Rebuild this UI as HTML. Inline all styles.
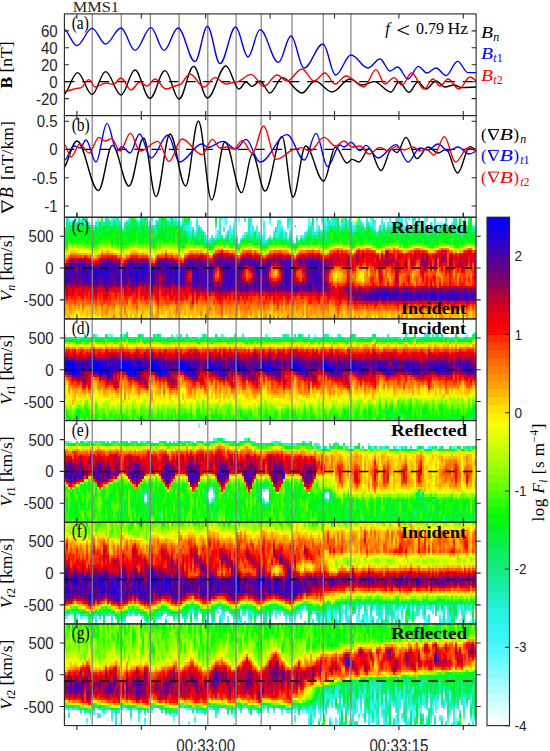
<!DOCTYPE html>
<html><head><meta charset="utf-8"><style>
html,body{margin:0;padding:0;background:#fff;overflow:hidden}
svg{display:block}
</style></head><body>
<svg width="550" height="751" viewBox="0 0 550 751">
<rect width="550" height="751" fill="#fff"/>
<g transform="translate(65.366,217.24) scale(1.93286,2.54175)" shape-rendering="crispEdges" fill="none" stroke-width="1.02"><path stroke="#eaffff" d="M58 0v1"/><path stroke="#d6ffff" d="M16 0v1M115 7v1"/><path stroke="#c1feff" d="M53 0v1M67 5v1M87 1v1M90 2v1M149 1v1M153 0v1"/><path stroke="#a9fdff" d="M8 0v1M29 1v1M48 0v1M78 5v2M102 0v1M117 3v1M161 0v1M190 2v1"/><path stroke="#91fbff" d="M17 0v1M58 1v1M82 0v3M83 6v1M86 4v1M101 6v1M102 1v1M103 1v1M116 4v1M150 2v1M194 2v1M203 4v1M212 2v1"/><path stroke="#78faff" d="M3 1v1M16 1v1M37 0v1M59 0v1M60 2v1M65 1v1M78 4v1M82 3v1M88 0v1M90 1v1M106 2v1M112 3v1M116 3v1M130 2v3M133 2v1M149 2v1M158 1v2M166 0v1M169 2v1M193 2v1M195 2v1"/><path stroke="#60f9fe" d="M2 0v1M15 3v1M45 2v1M65 2v2M68 0v1M85 3v1M87 2v1M88 1v1M90 0v1M99 3v1M108 5v1M115 4v1M117 4v1M126 0v3M130 1v1M135 0v3M166 4v1M176 2v1M186 0v2M193 3v1"/><path stroke="#4cf7fc" d="M17 1v1M24 0v1M30 4v1M33 0v1M38 1v1M45 1v1M56 0v1M65 4v1M75 8v1M78 7v1M81 0v1M83 0v3M86 5v1M89 7v1M91 8v1M97 3v1M102 7v1M103 5v1M106 1v1M106 7v1M111 3v1M113 5v2M115 8v1M116 5v1M118 9v1M123 7v1M125 5v1M127 2v1M130 5v1M131 3v1M134 0v1M149 3v1M153 1v1M154 2v1M158 0v1M160 3v2M164 0v1M165 2v1M167 2v1M168 1v2M174 2v1M176 5v1M178 0v1M181 1v1M183 2v1M186 2v1M188 4v1M190 3v1M192 3v1M193 4v1M198 3v1M200 2v1M205 3v1M212 3v1"/><path stroke="#3af5f8" d="M10 0v1M14 2v1M29 2v1M44 1v1M47 1v1M54 0v1M67 6v1M68 1v1M70 4v1M71 5v1M72 6v1M73 7v1M79 5v1M80 0v1M82 4v2M84 5v1M85 4v1M93 1v1M93 6v1M96 0v1M96 3v2M99 4v1M103 4v1M106 0v1M110 1v1M110 6v1M111 4v1M116 2v1M119 3v1M126 3v1M130 0v1M133 1v1M135 3v1M137 1v1M144 0v1M150 3v1M164 1v1M164 3v2M168 0v1M169 3v1M173 0v2M174 0v2M174 3v1M175 3v1M176 1v1M182 3v1M183 3v1M186 3v1"/><path stroke="#30f5f1" d="M2 1v1M5 0v1M10 1v1M12 2v1M23 1v1M24 1v1M28 1v1M32 1v1M58 2v1M59 1v1M61 0v1M64 3v1M65 5v1M68 4v1M69 3v1M79 6v1M85 5v1M86 6v1M96 5v1M98 5v1M99 5v2M100 6v1M101 7v1M103 2v1M103 6v1M105 8v1M107 8v1M110 2v1M110 4v2M111 2v1M113 7v1M120 7v1M122 7v1M124 6v1M133 0v1M133 5v1M134 1v1M144 1v1M146 1v1M149 4v1M156 0v1M158 3v1M160 1v2M164 2v1M168 3v1M171 0v1M173 2v2M176 0v1M177 2v1M181 4v1M183 1v1M187 1v1M187 3v1M191 0v1M203 5v1M211 3v1"/><path stroke="#27f4e7" d="M3 2v1M4 1v1M8 1v1M25 0v1M26 0v1M33 1v1M45 0v1M47 2v1M48 1v1M53 1v1M54 1v1M56 1v1M57 0v1M63 4v1M64 4v2M66 4v1M68 2v2M68 5v1M74 9v1M76 7v1M78 3v1M83 7v1M85 6v2M87 3v2M88 8v1M90 10v1M92 7v1M93 7v1M96 1v2M96 6v1M97 4v2M103 3v1M104 9v1M109 7v1M110 3v1M111 1v1M112 4v1M115 3v1M116 1v1M128 4v2M131 4v1M135 4v1M136 3v1M138 1v2M142 3v1M143 3v1M144 2v1M146 2v1M148 2v1M157 2v1M159 3v1M171 1v2M172 0v1M173 5v1M175 4v1M179 4v1M187 0v1M191 1v4M196 3v1M197 1v2M207 2v2"/><path stroke="#22f2d6" d="M16 2v1M17 2v1M22 0v1M24 2v1M31 2v1M37 1v1M38 2v1M43 3v1M57 1v1M61 1v1M63 3v1M64 2v1M65 6v1M73 8v1M75 9v1M77 8v1M79 7v1M80 1v1M80 3v2M85 8v1M94 6v1M97 6v1M99 7v1M102 8v1M103 7v1M103 9v1M108 6v1M109 6v1M110 7v1M111 5v1M116 0v1M116 6v1M117 5v1M127 3v1M129 6v1M130 6v1M132 5v1M134 2v2M136 2v1M139 1v2M143 2v1M149 5v1M150 4v1M152 0v2M156 1v1M159 0v1M159 2v1M167 3v1M178 4v1M180 3v1M182 4v1M185 4v1M186 4v1M187 4v1M188 5v1M190 4v1M192 4v1M193 5v1M195 3v1M200 3v1M201 0v1M202 0v1M202 3v2M204 5v1M205 5v2M209 0v1"/><path stroke="#1defc3" d="M5 1v1M7 0v1M10 2v1M15 4v1M19 0v1M26 1v1M27 1v2M40 0v1M45 3v1M46 3v1M60 3v1M62 3v1M63 5v1M64 6v1M72 7v1M73 9v1M78 8v1M80 2v1M80 5v3M82 8v1M86 7v1M87 5v1M95 0v4M96 7v1M101 8v1M102 9v1M103 8v1M103 10v1M111 6v1M112 5v1M114 6v2M115 0v1M115 2v1M121 9v1M123 8v1M124 7v1M125 6v1M126 4v1M127 4v1M128 3v1M128 6v1M131 5v1M133 6v1M135 5v1M136 4v1M138 0v1M139 0v1M146 3v1M150 5v1M152 2v1M154 3v1M156 2v1M159 1v1M159 4v1M160 5v1M161 6v1M163 3v1M168 4v1M180 2v1M180 4v1M183 4v1M189 2v1M194 3v1M197 0v1M200 4v1M201 1v1M204 4v1M205 4v1M206 4v1M207 1v1M208 3v1M212 4v1"/><path stroke="#1aeead" d="M1 0v1M2 2v1M6 2v1M14 3v1M17 3v1M19 1v1M20 2v1M21 0v1M34 0v1M39 0v1M44 2v1M47 3v1M52 0v1M54 2v1M56 2v1M61 2v1M62 4v1M65 7v1M76 8v1M81 7v1M84 6v1M87 6v1M89 8v1M91 9v1M95 4v2M97 7v1M109 4v1M111 7v1M115 1v1M115 9v1M127 5v1M137 2v1M138 3v1M139 3v1M140 0v3M142 4v1M144 3v1M151 4v1M153 2v1M155 4v1M162 5v1M164 5v1M165 3v1M169 4v1M171 3v1M173 6v1M174 4v1M176 6v1M180 0v2M183 0v1M191 5v1M199 3v1M201 2v1M202 1v2M207 0v1M207 4v1"/><path stroke="#17ec97" d="M0 4v1M1 1v1M5 2v1M7 1v1M11 0v1M19 2v1M21 1v1M22 1v1M23 2v1M25 1v1M27 0v1M29 3v1M30 5v1M31 3v2M33 2v1M40 1v1M42 0v2M46 4v1M47 4v3M49 0v1M49 2v1M57 2v1M59 2v1M61 3v2M62 2v1M66 5v1M67 7v1M68 6v1M69 4v1M72 8v1M85 9v1M93 0v1M95 6v1M100 7v1M102 10v1M109 5v1M109 8v1M113 8v1M114 8v1M117 8v2M119 10v1M120 8v1M128 7v1M132 6v1M134 4v1M135 6v1M136 1v1M140 3v1M143 4v1M145 0v1M148 3v1M149 6v1M152 3v1M156 3v1M158 4v1M163 4v1M170 3v1M172 1v1M175 5v1M186 5v1M187 5v1M190 5v1M192 5v1M193 6v1M197 3v1M198 4v1M202 5v1M211 4v1"/><path stroke="#14eb82" d="M3 3v1M8 2v1M14 4v1M16 3v1M24 3v1M26 2v1M27 3v1M28 2v1M32 2v1M38 3v1M41 0v1M43 4v1M46 5v1M49 1v1M52 1v1M58 3v1M61 5v1M63 2v1M63 6v1M65 8v1M66 6v1M69 7v2M70 5v1M72 9v1M75 10v1M78 2v1M79 8v1M83 8v1M86 8v2M87 7v1M88 9v1M92 8v1M93 8v1M95 7v1M97 8v1M99 8v1M100 8v1M101 9v1M105 9v1M106 8v1M108 7v1M111 8v1M112 6v2M116 7v1M117 6v1M118 10v1M122 8v1M124 8v1M126 5v1M127 6v1M128 2v1M129 7v1M130 7v1M132 7v1M133 7v1M135 7v1M136 5v1M137 3v1M142 5v1M145 1v1M146 4v1M147 3v1M148 4v1M151 5v1M157 3v1M163 5v1M166 5v1M167 4v1M168 5v1M171 4v1M172 4v1M178 5v1M180 5v1M181 0v1M183 5v1M184 5v1M187 6v1M188 6v1M195 4v1M196 4v1M200 5v1M201 3v2M203 6v1M204 6v1M205 7v1M206 5v1M209 1v1M212 5v1"/><path stroke="#0fed6d" d="M1 2v2M2 3v1M4 2v1M5 3v1M7 2v1M9 1v1M11 1v1M12 3v1M13 3v1M17 4v1M19 3v1M23 3v1M31 5v1M33 3v1M34 1v1M37 2v1M39 1v1M40 2v1M41 1v1M42 2v1M46 6v1M48 2v1M49 3v1M53 2v1M56 3v1M60 4v1M62 1v1M62 5v1M64 7v1M66 7v1M69 6v1M70 6v2M71 6v1M73 10v1M76 9v1M80 8v1M84 7v1M89 9v1M90 11v1M94 7v1M96 8v1M107 9v1M110 8v1M112 8v1M117 7v1M125 7v1M126 6v1M127 7v1M131 6v1M135 8v1M136 0v1M137 4v1M139 4v1M140 4v1M141 1v1M144 4v1M147 4v1M148 5v1M151 3v1M154 4v1M159 5v1M163 6v1M169 5v1M172 3v1M175 6v1M179 5v1M181 5v1M182 5v1M185 5v1M189 5v1M190 6v1M191 6v1M199 4v1M201 5v1M204 3v1M208 4v1M211 5v1"/><path stroke="#0bef59" d="M1 4v1M4 3v1M5 4v1M6 3v1M7 3v2M9 0v1M9 2v1M10 3v1M11 2v2M14 5v3M16 4v1M17 5v1M20 3v1M21 2v1M22 2v1M23 4v1M25 2v1M26 3v2M34 2v1M34 4v1M38 4v2M39 2v2M40 3v1M41 2v2M42 3v1M43 5v1M44 3v1M45 4v1M46 7v1M47 7v1M49 4v1M51 2v3M52 2v1M53 6v2M54 3v1M55 0v2M57 3v1M59 3v2M61 6v1M62 0v1M63 7v1M64 1v1M65 9v1M67 8v1M68 7v1M69 5v1M69 9v1M70 8v1M74 10v1M78 1v1M82 9v1M84 8v1M86 10v1M87 8v1M89 10v1M95 8v1M98 6v1M100 9v1M103 11v1M104 10v1M113 9v1M116 8v1M117 10v1M120 9v1M123 9v1M124 9v1M126 7v1M128 1v1M128 8v1M129 8v1M130 8v1M132 8v1M134 5v1M134 8v1M136 6v1M138 4v1M141 0v1M141 2v1M145 2v1M145 4v1M147 2v1M147 5v1M148 6v3M149 7v1M150 6v1M152 4v1M153 3v1M155 5v1M156 4v1M160 6v1M163 7v1M164 6v1M165 4v3M168 6v1M170 4v1M171 5v1M172 2v1M172 5v1M173 7v1M174 5v1M177 5v2M178 6v1M180 6v1M186 6v1M189 3v2M189 9v1M193 7v1M194 4v1M198 5v1M199 5v1M201 6v1M202 6v1M204 0v1M205 8v1M206 6v1M207 5v1M211 6v1M212 6v1"/><path stroke="#07f141" d="M0 5v1M1 5v3M2 4v3M3 4v1M4 4v1M5 5v1M8 3v1M11 7v2M14 8v1M15 5v1M16 5v1M17 6v1M18 3v2M18 6v2M19 5v1M22 3v2M26 5v1M26 7v1M27 4v2M28 3v1M29 4v1M32 3v2M33 4v2M34 3v1M34 5v2M35 2v1M36 2v2M38 6v1M39 4v5M41 4v1M43 6v1M46 8v1M48 3v1M49 5v1M50 2v2M51 1v1M51 5v1M52 3v1M53 3v1M53 5v1M55 2v2M56 4v2M59 5v3M61 7v2M61 10v1M62 6v1M63 8v1M67 9v1M68 8v2M71 9v1M72 10v1M75 11v1M76 10v2M77 9v1M78 0v1M78 9v1M81 8v1M85 10v1M87 9v1M88 10v1M94 8v1M97 9v1M98 9v1M99 9v1M102 11v1M105 10v1M108 8v1M109 9v1M111 9v1M112 9v1M115 10v1M116 9v1M120 10v1M125 8v1M126 8v2M128 0v1M128 9v1M129 9v1M130 9v1M131 7v1M133 8v1M134 6v2M134 9v1M135 9v1M136 7v2M137 5v1M139 5v1M140 5v2M141 3v1M142 6v1M143 1v1M143 5v1M144 5v1M144 9v1M145 3v1M145 5v1M146 5v1M148 9v1M152 5v1M153 4v3M154 5v3M156 5v1M157 4v1M157 9v1M158 5v1M159 6v1M159 9v1M161 7v1M162 6v1M165 7v4M167 5v1M170 5v1M171 6v2M173 8v3M174 6v1M176 7v1M177 3v1M180 7v1M181 8v2M183 6v1M183 8v2M184 7v2M187 7v1M188 7v2M189 6v1M189 10v1M190 7v3M192 6v1M194 5v1M195 5v1M196 5v1M197 4v2M199 6v4M201 7v2M204 7v1M206 7v1M206 10v1M208 5v1M209 5v1M209 7v1M210 5v1M211 7v1M212 7v3"/><path stroke="#02f324" d="M0 6v1M1 8v3M2 7v1M3 5v1M3 8v1M4 5v1M4 7v2M5 6v2M6 4v1M7 5v1M8 4v5M9 6v2M11 4v3M11 9v1M14 9v1M15 9v2M17 7v1M18 5v1M18 8v1M19 4v1M19 6v1M20 4v2M21 4v4M22 5v1M23 5v3M24 4v1M25 3v1M26 6v1M26 8v1M27 6v1M28 4v1M30 6v1M32 5v2M33 6v3M34 7v2M35 1v1M35 3v1M36 4v1M36 8v1M37 3v1M40 4v2M41 5v2M42 4v2M43 7v1M44 4v1M44 8v1M45 5v1M46 9v2M47 8v2M48 4v2M49 6v2M50 4v4M51 6v3M53 4v1M53 8v1M54 4v1M56 6v3M57 4v2M58 8v1M59 8v3M60 5v1M60 9v2M61 9v1M61 11v1M62 7v2M63 9v1M64 0v1M66 8v1M70 9v1M71 8v1M77 10v1M82 10v1M83 9v1M84 9v1M89 11v1M91 10v1M92 9v1M96 9v1M98 8v1M98 10v1M99 10v1M101 10v1M106 9v1M114 9v1M116 10v1M119 11v1M121 10v1M125 9v1M127 8v1M132 9v1M136 9v1M139 6v1M139 8v2M140 7v1M141 4v1M144 6v3M147 1v1M147 6v3M151 6v1M152 6v3M153 7v2M154 8v2M155 6v1M156 6v2M157 5v4M159 7v2M159 10v1M161 10v1M163 8v1M164 7v2M166 6v2M167 7v2M168 7v1M168 9v1M169 6v2M171 8v1M172 6v2M175 7v4M176 8v2M177 7v4M178 7v1M179 6v1M179 9v2M180 8v1M181 6v2M182 7v3M183 7v1M184 6v1M184 9v1M185 6v1M186 7v4M187 8v1M188 9v1M189 8v1M190 10v1M193 8v3M194 6v1M196 6v2M197 7v3M199 10v1M200 6v1M201 9v1M202 7v1M203 10v2M204 1v2M204 8v1M205 9v1M206 8v2M207 7v2M208 6v1M209 4v1M209 6v1M209 8v1M210 0v2M210 4v1M210 6v3"/><path stroke="#05f70e" d="M0 7v1M0 10v1M3 6v2M3 9v1M4 6v1M4 9v1M5 8v1M6 5v4M7 6v1M7 8v1M9 3v1M9 5v1M9 8v1M10 4v1M10 6v3M12 4v5M13 4v6M14 10v1M15 6v3M16 6v1M16 9v2M17 8v2M18 2v1M19 7v1M20 6v2M21 3v1M21 8v1M22 6v2M23 8v1M24 5v2M24 8v2M25 4v2M26 9v1M27 7v4M28 5v1M28 8v1M29 5v1M29 7v4M30 9v2M31 6v1M31 9v2M32 7v1M33 9v1M34 9v1M35 0v1M35 4v5M36 1v1M36 5v3M37 4v1M38 7v3M39 9v1M40 6v4M41 7v1M42 6v2M43 8v1M44 5v3M44 9v1M45 9v2M46 11v1M48 6v2M49 8v1M50 0v2M50 8v1M51 0v1M51 9v1M52 4v3M53 9v1M54 5v4M55 4v2M56 9v1M58 4v1M58 7v1M58 9v1M60 6v3M62 9v1M63 1v1M64 8v1M67 10v1M69 10v1M71 7v1M71 10v1M73 11v1M75 12v1M78 10v1M79 9v1M80 9v1M87 10v1M90 12v1M93 9v1M94 9v1M95 9v1M98 7v1M100 10v1M101 11v1M103 12v1M104 11v1M107 10v1M109 10v1M110 9v1M112 10v1M113 10v1M117 11v1M120 11v1M122 9v1M123 10v1M124 10v1M126 10v1M129 10v1M130 10v1M131 8v1M132 10v1M133 9v2M134 10v1M136 10v1M137 6v1M138 5v1M138 9v1M139 7v1M140 8v1M141 5v5M142 7v1M143 6v1M144 10v1M145 6v4M146 6v2M147 0v1M147 9v1M148 10v1M149 8v4M150 7v1M150 9v2M151 7v1M152 9v1M153 9v1M155 7v1M156 8v1M158 7v2M160 7v1M161 8v2M162 8v4M163 9v2M164 9v1M166 8v1M167 6v1M167 9v1M168 8v1M169 8v1M170 8v1M172 8v1M174 7v3M176 10v1M177 4v1M178 8v1M179 8v1M182 6v1M185 7v1M187 9v2M188 10v1M189 7v1M190 11v1M191 7v3M192 7v4M194 7v1M195 6v1M196 8v2M197 6v1M198 6v4M201 10v1M202 8v3M203 7v1M203 9v1M204 9v1M205 10v1M207 6v1M207 9v1M208 7v2M209 9v1M210 3v1M210 9v1M211 8v2M212 10v1"/><path stroke="#12fe01" d="M0 8v2M0 11v1M1 11v1M2 8v1M5 9v1M6 9v1M7 7v1M7 9v1M8 9v1M9 4v1M9 9v1M10 5v1M10 9v1M11 10v1M12 9v1M15 11v1M16 7v2M18 9v1M19 8v1M20 8v1M22 8v1M24 7v1M24 10v1M25 6v1M25 8v2M26 10v1M28 6v2M28 9v1M29 6v1M30 7v2M30 11v1M31 7v2M32 8v3M35 9v1M36 9v1M37 5v3M41 8v2M42 8v2M43 9v1M44 10v1M45 6v1M45 8v1M47 10v1M48 8v1M49 9v1M52 7v3M55 6v4M57 6v1M58 6v1M59 11v1M62 10v1M65 10v1M66 9v1M68 10v1M70 10v1M72 11v1M74 11v1M76 12v1M81 9v1M86 11v1M88 11v1M97 10v1M106 10v1M108 9v1M118 11v1M119 12v1M127 9v1M128 10v1M131 9v1M135 10v2M137 7v3M142 8v2M143 7v3M146 8v1M147 10v1M150 8v1M151 8v2M153 10v1M154 10v1M155 8v1M156 9v1M158 6v1M158 9v1M160 8v3M161 11v1M162 7v1M163 11v1M164 10v1M166 9v1M169 9v1M170 6v2M170 9v1M171 9v1M174 10v1M175 11v1M176 11v1M177 11v1M178 9v2M179 7v1M180 9v1M181 10v1M185 8v1M189 11v1M191 10v1M194 8v1M195 7v3M200 7v1M202 11v1M204 10v1M208 9v1M209 2v2M210 2v1"/><path stroke="#32ff00" d="M0 12v1M2 9v1M4 10v1M6 10v1M12 10v1M13 10v1M14 11v1M16 11v1M17 10v1M19 9v1M20 9v1M21 9v1M22 9v1M23 9v1M25 7v1M27 11v1M28 10v1M31 11v1M33 10v1M35 10v1M37 8v1M38 10v1M39 10v1M40 10v1M42 10v1M43 10v1M45 7v1M45 11v1M48 9v1M49 10v2M50 9v1M51 10v1M54 9v1M56 10v1M57 7v1M57 9v1M58 5v1M58 10v1M60 11v1M62 11v1M63 10v1M64 9v1M77 11v1M83 10v1M84 10v1M85 11v1M89 12v1M91 11v1M92 10v1M94 10v1M96 10v1M102 12v1M105 11v1M108 10v1M110 10v1M111 10v1M114 10v1M115 11v1M116 11v1M122 10v1M125 10v1M132 11v1M134 11v1M138 6v3M140 9v1M145 10v1M146 9v1M150 11v1M155 9v1M157 10v1M164 11v1M166 10v1M167 10v1M169 10v1M172 9v1M173 11v1M183 10v1M184 10v1M185 9v2M188 11v1M194 9v1M197 10v1M198 10v1M200 8v3M203 8v1M207 10v1"/><path stroke="#54ff00" d="M1 12v1M3 10v1M7 10v1M8 10v1M9 10v1M10 10v1M11 11v1M12 11v1M13 11v1M18 10v1M24 11v1M25 10v1M29 11v1M30 12v1M32 11v1M34 10v1M36 0v1M36 10v1M37 9v1M41 10v1M42 11v1M44 11v1M46 12v1M47 11v1M52 10v1M53 10v1M54 10v1M57 8v1M57 10v1M59 12v1M61 12v1M63 0v1M66 10v1M67 11v1M79 10v1M80 10v1M82 11v1M93 10v1M95 10v1M99 11v1M100 11v1M127 10v1M131 10v1M133 11v1M135 12v1M136 11v1M137 10v1M138 10v1M139 10v1M141 10v1M146 10v1M148 11v1M151 10v1M158 10v1M160 11v1M165 11v1M168 10v1M178 11v1M180 10v1M182 10v1M187 11v1M193 11v1M196 10v1M201 11v1M204 11v1M205 11v1M206 11v1M208 10v1M211 10v1"/><path stroke="#73ff00" d="M5 10v1M6 11v1M10 11v1M14 12v1M15 12v1M16 12v1M17 11v1M19 10v1M20 10v1M21 10v1M22 10v1M23 10v1M26 11v1M28 11v1M33 11v1M35 11v1M37 10v1M38 11v1M39 11v1M40 11v1M44 12v1M47 12v1M50 10v1M55 10v1M58 11v1M64 10v1M69 11v1M71 11v1M74 12v1M81 10v1M87 11v1M90 13v1M98 11v1M101 12v1M103 13v1M104 12v1M112 11v1M113 11v1M118 12v1M119 13v1M120 12v1M121 11v1M126 11v1M129 11v1M142 10v1M143 10v1M149 12v1M151 2v1M152 10v1M155 10v1M159 11v1M162 12v1M171 10v1M172 10v1M174 11v1M179 11v1M191 11v1M192 11v1M194 10v1M195 10v1M203 12v1M209 10v1M210 10v1"/><path stroke="#91ff00" d="M0 13v1M2 10v1M4 11v1M8 11v1M13 12v1M18 1v1M21 11v1M25 11v1M27 12v1M29 12v1M30 13v1M31 12v1M32 12v1M34 11v1M37 11v1M41 11v1M43 11v1M45 12v1M48 10v1M49 12v1M51 11v1M54 11v1M56 11v1M57 11v1M59 13v1M60 12v1M62 12v1M63 11v1M65 11v1M68 11v1M70 11v1M72 12v1M75 13v1M78 11v1M88 12v1M94 11v1M97 11v1M106 11v1M107 11v1M109 11v1M117 12v1M122 11v1M123 11v1M124 11v1M130 11v1M134 12v1M140 10v1M143 0v1M147 11v1M156 10v1M163 12v1M170 10v1M186 11v1M190 12v1M199 11v1M200 11v1M212 11v1"/><path stroke="#a9ff00" d="M1 13v1M7 11v1M9 11v1M12 12v1M15 13v1M16 13v1M17 12v1M18 11v1M20 11v1M28 12v1M36 11v1M42 12v1M46 13v1M48 11v1M50 11v1M52 11v1M53 11v1M55 11v1M64 11v1M66 11v1M73 12v1M76 13v1M77 12v1M83 11v1M84 11v1M91 12v1M92 11v1M93 11v1M96 11v1M105 12v1M108 11v1M110 11v1M111 11v1M114 11v1M116 12v1M125 11v1M127 11v1M136 12v1M137 11v1M144 11v1M146 11v1M153 11v1M154 11v1M161 12v1M169 11v1M175 12v1M185 11v1"/><path stroke="#c0ff00" d="M2 11v1M3 11v1M10 12v1M11 12v1M14 13v1M19 11v1M22 11v1M23 11v1M25 12v1M26 12v1M33 12v1M39 12v1M40 12v1M43 12v1M52 39v1M57 12v1M58 12v1M60 13v1M61 13v1M63 12v1M79 11v1M80 11v1M86 12v1M89 13v1M95 11v1M100 12v1M102 13v1M128 11v1M131 11v1M132 12v1M138 11v1M145 11v1M148 12v1M150 12v1M151 11v1M166 11v1M180 11v1M189 12v1M202 12v1M207 11v1"/><path stroke="#d7ff00" d="M2 12v1M5 11v1M6 12v1M7 12v1M8 12v1M18 12v1M21 12v1M24 12v1M29 13v1M33 13v1M38 12v1M41 12v1M43 13v1M44 13v1M45 13v1M47 13v1M48 12v1M53 12v1M54 12v1M55 12v1M56 12v1M67 12v1M71 12v1M81 11v1M85 12v1M104 13v1M115 12v1M133 12v1M135 13v1M139 11v1M151 1v1M167 11v1M176 12v1M177 12v1M181 11v1M184 11v1M188 12v1M196 11v1M201 12v1M204 12v1M205 12v1M208 11v1M211 11v1"/><path stroke="#ebff00" d="M0 14v1M2 13v1M4 12v1M9 12v1M15 14v1M15 39v1M16 14v1M17 13v1M20 12v1M23 12v1M27 13v1M28 13v1M30 14v1M31 13v1M32 13v1M34 12v1M35 12v1M35 39v1M37 12v1M38 39v1M46 14v1M49 13v1M50 12v1M51 12v1M52 38v1M59 14v1M61 14v1M64 12v1M69 12v1M82 12v1M87 12v1M99 12v1M103 14v1M118 13v1M119 14v1M120 13v1M124 39v1M134 13v1M140 11v1M141 11v1M142 11v1M143 11v1M153 22v1M155 11v1M157 11v1M158 11v1M164 12v1M165 12v1M168 11v1M171 11v1M172 11v1M173 12v1M174 12v1M183 11v1M191 12v1M191 39v1M197 11v1M198 11v1"/><path stroke="#feff00" d="M3 12v1M5 39v1M7 38v2M8 13v1M9 13v1M10 13v1M11 13v1M12 13v1M12 39v1M13 13v1M14 14v1M18 0v1M18 13v1M18 39v1M25 13v1M26 13v1M36 12v1M38 38v1M39 13v1M43 14v1M43 38v2M44 39v1M45 14v1M46 15v1M46 36v2M48 13v1M49 39v1M53 13v1M56 13v1M58 13v1M60 14v1M61 15v1M62 13v1M62 39v1M63 13v1M65 12v1M65 39v1M66 12v1M68 12v1M69 39v1M70 12v1M72 13v1M74 13v1M75 14v1M83 12v1M90 14v1M97 12v1M101 13v1M105 13v1M106 12v1M107 12v1M109 38v2M112 12v1M117 13v1M121 12v1M123 12v1M124 12v1M129 12v1M130 12v1M140 22v2M147 12v1M149 13v1M151 0v1M152 11v1M153 23v1M154 22v3M159 39v1M160 12v1M163 13v1M178 12v1M178 39v1M182 11v1M193 12v1M193 39v1M194 11v1M195 11v1M199 12v1M200 12v1M209 11v1"/><path stroke="#ffeb00" d="M1 14v1M3 39v1M4 39v1M5 12v1M5 38v1M6 13v1M6 37v3M7 13v1M7 37v1M8 39v1M9 38v2M10 37v3M14 38v2M15 38v1M16 39v1M17 39v1M18 38v1M19 12v1M20 13v1M22 12v1M23 13v1M24 13v1M26 36v1M29 14v1M33 14v1M33 37v3M35 38v1M38 13v1M38 37v1M40 13v1M41 13v1M42 13v1M44 14v1M46 35v1M47 14v1M49 38v1M50 39v1M51 13v1M52 12v1M52 37v1M54 13v1M55 13v1M56 39v1M57 13v1M60 39v1M63 39v1M72 37v2M73 13v1M76 14v1M78 12v1M82 38v2M83 39v1M84 12v1M88 13v1M90 38v2M93 12v1M94 12v1M95 39v1M97 39v1M98 12v1M100 38v2M102 38v2M105 39v1M108 12v1M109 12v1M110 12v1M113 12v1M114 12v1M116 13v1M122 12v1M124 38v1M125 12v1M126 12v1M127 12v1M136 13v1M137 12v1M139 22v2M144 12v1M144 37v1M146 12v1M152 23v1M153 21v1M155 37v1M156 11v1M159 12v1M161 13v1M161 39v1M162 13v1M167 39v1M168 39v1M169 12v1M175 39v1M179 12v1M180 22v1M186 12v1M187 12v1M191 38v1M192 12v1M198 37v1M203 13v1M204 37v3M205 39v1M206 12v1M207 39v1M210 11v1M212 12v1"/><path stroke="#ffd100" d="M0 15v1M0 39v1M1 39v1M2 14v1M3 13v1M3 38v1M4 13v1M4 38v1M5 13v1M5 37v1M6 36v1M8 35v4M10 36v1M11 39v1M12 14v1M12 36v3M13 37v3M14 37v1M15 15v1M16 38v1M17 14v1M18 36v2M20 39v1M21 13v1M22 39v1M23 36v4M26 35v1M26 37v2M27 14v1M27 36v4M28 14v1M28 39v1M29 39v1M30 15v1M30 36v4M31 14v1M31 39v1M32 14v1M32 36v1M33 36v1M34 13v1M34 37v1M36 37v1M37 13v1M39 37v3M40 39v1M41 37v3M42 36v4M43 37v1M44 36v3M45 15v1M46 38v1M49 36v2M50 13v1M50 38v1M51 38v2M53 37v1M55 36v3M56 14v1M56 38v1M58 39v1M60 38v1M61 37v3M63 35v4M65 38v1M67 35v5M68 39v1M69 38v1M71 13v1M71 39v1M72 36v1M72 39v1M75 39v1M76 39v1M77 13v1M77 37v3M79 39v1M80 12v1M82 37v1M84 39v1M87 39v1M89 14v1M90 37v1M91 13v1M92 12v1M95 12v1M95 38v1M96 12v1M97 37v2M100 13v1M100 37v1M101 39v1M102 14v1M102 37v1M105 38v1M106 37v1M107 36v4M109 21v2M109 37v1M111 12v1M111 39v1M116 39v1M120 38v1M122 38v1M124 35v1M124 37v1M128 12v1M129 39v1M131 12v1M133 13v1M133 39v1M138 12v1M138 37v2M139 24v1M140 21v1M140 24v1M141 21v3M142 22v3M142 38v2M144 36v1M144 38v2M145 12v1M145 39v1M149 37v3M151 39v1M152 22v1M152 24v1M153 12v1M153 24v1M153 39v1M154 21v1M154 25v1M154 39v1M155 36v1M155 38v1M157 21v2M159 38v1M161 38v1M165 37v3M167 38v1M168 38v1M170 11v1M171 38v2M175 13v1M175 38v1M178 38v1M179 38v2M180 12v1M180 23v1M180 39v1M182 37v2M185 12v1M188 13v1M188 39v1M189 13v1M190 13v1M193 38v1M197 37v1M198 36v1M198 38v2M201 13v1M201 39v1M202 39v1M206 39v1M207 12v1M209 39v1M210 37v3M211 12v1"/><path stroke="#ffb800" d="M0 38v1M1 15v1M1 35v4M2 36v3M4 35v3M5 36v1M6 35v1M7 36v1M8 34v1M9 14v1M9 37v1M11 14v1M11 35v4M12 35v1M13 14v1M13 36v1M14 15v1M14 35v2M15 36v2M16 15v1M16 37v1M17 36v3M18 14v1M18 35v1M19 39v1M20 38v1M21 39v1M22 38v1M24 37v3M25 37v1M26 39v1M27 35v1M28 36v3M29 36v3M31 15v1M32 35v1M32 37v1M34 36v1M34 38v2M35 13v1M35 37v1M36 13v1M36 36v1M36 38v2M37 38v2M38 35v2M39 35v2M40 36v1M40 38v1M41 14v1M41 36v1M43 36v1M44 15v1M44 35v1M46 16v1M46 34v1M46 39v1M47 36v1M49 14v1M50 37v1M51 35v3M52 36v1M53 36v1M53 38v2M54 35v2M54 39v1M55 35v1M55 39v1M58 14v1M59 15v1M59 35v5M60 15v1M61 36v1M62 14v1M62 38v1M63 34v1M64 13v1M64 36v4M65 37v1M66 13v1M66 37v3M67 13v1M67 34v1M68 37v2M69 13v1M69 37v1M70 39v1M71 37v2M72 35v1M75 38v1M76 37v2M77 36v1M78 38v2M79 12v1M80 39v1M82 36v1M83 38v1M84 37v2M85 13v1M85 39v1M86 38v2M87 37v2M88 36v1M88 39v1M90 36v1M91 38v2M95 37v1M96 39v1M101 36v3M102 36v1M104 14v1M105 37v1M106 36v1M106 38v2M107 35v1M111 36v3M112 38v2M113 35v5M114 37v3M115 13v1M116 37v2M117 38v2M118 39v1M119 36v4M120 39v1M121 37v3M122 37v1M122 39v1M123 39v1M124 34v1M124 36v1M126 36v1M127 39v1M128 38v2M129 38v1M131 38v2M132 13v1M133 38v1M134 14v1M134 38v2M135 14v1M136 38v1M137 35v3M138 36v1M138 39v1M139 12v1M139 21v1M139 36v2M139 39v1M140 38v1M142 12v1M142 21v1M142 37v1M143 22v1M145 37v2M146 39v1M147 37v3M148 13v1M148 37v3M149 36v1M150 13v1M151 12v1M151 22v3M151 38v1M152 21v1M153 38v1M154 12v1M154 20v1M154 38v1M155 12v1M155 20v3M155 39v1M157 20v1M157 39v1M158 12v1M158 37v3M159 37v1M160 38v2M161 22v1M161 37v1M163 38v2M165 13v1M166 12v1M167 12v1M167 22v2M167 37v1M168 12v1M168 24v1M168 37v1M169 39v1M170 39v1M171 12v1M171 37v1M172 12v1M173 37v2M176 13v1M176 38v2M179 37v1M181 38v2M182 39v1M183 38v2M184 12v1M184 37v3M186 37v3M188 37v2M189 37v2M190 36v4M192 22v2M193 21v1M193 37v1M196 37v3M197 36v1M197 38v2M199 37v1M200 39v1M201 22v1M201 38v1M202 38v1M203 39v1M205 13v1M205 38v1M206 38v1M207 38v1M208 12v1M209 37v2M212 39v1"/><path stroke="#ff9f00" d="M0 16v1M0 37v1M1 34v1M2 39v1M3 36v2M4 34v1M7 14v1M8 14v1M10 14v1M10 35v1M13 35v1M14 34v1M15 35v1M16 36v1M17 35v1M19 13v1M19 37v2M20 35v3M21 38v1M22 13v1M22 37v1M23 35v1M25 14v1M25 36v1M26 14v1M26 34v1M27 34v1M28 35v1M29 35v1M30 35v1M31 38v1M32 38v2M33 33v3M34 34v2M35 36v1M37 37v1M38 14v1M38 34v1M39 14v1M39 34v1M40 35v1M40 37v1M41 35v1M42 14v1M42 35v1M43 15v1M43 35v1M45 36v1M45 39v1M47 35v1M47 37v3M48 14v1M48 38v2M49 35v1M50 36v1M51 14v1M52 13v1M52 35v1M53 14v1M54 14v1M54 34v1M54 37v2M56 34v4M57 14v1M57 35v5M58 38v1M60 36v2M61 35v1M62 34v4M64 35v1M65 13v1M65 36v1M66 36v1M68 13v1M68 36v1M69 35v2M70 13v1M70 36v1M71 35v2M73 35v5M74 35v5M75 37v1M76 34v3M77 35v1M78 37v1M79 38v1M80 38v1M81 12v1M82 35v1M84 36v1M85 38v1M86 13v1M86 36v2M87 13v1M87 36v1M88 35v1M88 37v2M89 39v1M90 35v1M91 37v1M92 37v2M93 39v1M94 38v2M97 13v1M97 36v1M98 37v3M99 13v1M99 36v4M100 36v1M102 35v1M103 37v2M104 36v2M105 36v1M106 35v1M107 34v1M108 21v2M108 37v2M109 23v1M110 37v2M111 35v1M112 37v1M113 34v1M115 36v2M116 34v3M117 35v3M118 14v1M118 38v1M119 15v1M119 35v1M120 14v1M120 37v1M121 13v1M121 36v1M122 36v1M123 36v1M126 35v1M126 37v3M127 38v1M128 36v2M130 37v3M131 36v2M132 37v3M133 37v1M134 37v1M135 36v4M136 37v1M136 39v1M137 34v1M137 38v2M138 22v1M138 35v1M139 25v1M139 35v1M139 38v1M140 12v1M140 20v1M140 25v1M140 37v1M140 39v1M141 20v1M141 24v1M142 25v1M143 12v1M143 21v1M143 23v1M143 36v4M144 35v1M145 36v1M146 38v1M148 36v1M150 37v2M151 21v1M151 37v1M152 20v1M152 25v1M152 37v2M153 20v1M153 25v1M153 37v1M154 37v1M155 23v2M156 37v2M157 23v1M157 38v1M160 37v1M161 23v1M162 39v1M163 37v1M164 37v3M166 37v3M168 23v1M168 25v1M169 38v1M170 37v2M172 38v2M173 39v1M175 37v1M176 37v1M177 13v1M178 37v1M180 21v1M180 24v1M180 38v1M181 12v1M181 21v2M181 25v2M181 37v1M182 36v1M183 37v1M184 36v1M186 36v1M187 37v3M188 36v1M189 39v1M191 13v1M191 37v1M192 39v1M193 20v1M193 22v1M194 12v1M194 22v1M199 38v1M200 38v1M201 21v1M201 37v1M202 13v1M203 23v1M203 38v1M204 13v1M204 36v1M207 37v1M210 36v1M211 37v3M212 37v2"/><path stroke="#ff8600" d="M0 34v3M2 35v1M3 14v1M3 35v1M4 14v1M5 14v1M5 35v1M6 14v1M6 34v1M7 35v1M8 33v1M9 36v1M10 34v1M11 34v1M12 34v1M15 16v1M15 34v1M16 35v1M17 33v2M18 34v1M19 36v1M20 34v1M21 34v4M22 36v1M23 14v1M24 35v2M25 38v1M26 33v1M29 34v1M31 37v1M33 32v1M34 33v1M35 35v1M36 35v1M38 33v1M40 14v1M40 34v1M41 34v1M43 34v1M44 34v1M45 16v1M45 33v3M45 37v2M46 17v1M46 33v1M47 15v1M48 37v1M50 14v1M50 35v1M51 34v1M53 35v1M55 14v1M55 34v1M60 35v1M61 16v1M61 34v1M62 33v1M63 14v1M63 33v1M64 33v2M67 33v1M68 35v1M69 33v2M70 34v2M70 37v2M71 34v1M72 34v1M73 34v1M74 14v1M74 34v1M75 15v1M75 34v1M76 33v1M78 36v1M79 22v1M79 35v3M80 36v2M81 39v1M82 34v1M83 37v1M84 35v1M85 37v1M86 35v1M87 34v2M88 34v1M89 37v2M91 36v1M92 36v1M92 39v1M93 37v2M94 34v1M94 37v1M95 36v1M96 35v2M96 38v1M97 35v1M98 35v2M99 35v1M101 35v1M103 15v1M103 39v1M104 35v1M104 38v2M106 13v1M106 34v1M107 13v1M107 21v2M107 33v1M108 23v1M108 35v2M108 39v1M109 20v1M109 36v1M110 39v1M111 34v1M112 13v1M112 35v2M113 13v1M113 33v1M114 13v1M114 36v1M115 35v1M117 14v1M118 36v2M119 34v1M120 36v1M121 35v1M122 34v2M123 13v1M123 35v1M123 37v2M124 13v1M124 33v1M125 36v4M127 35v3M128 35v1M129 36v2M130 35v2M131 35v1M132 36v1M133 36v1M134 36v1M136 36v1M137 33v1M138 21v1M138 23v2M138 34v1M140 36v1M141 12v1M141 39v1M142 36v1M143 24v1M143 35v1M144 22v3M144 34v1M145 35v1M146 37v1M147 13v1M147 36v1M148 35v1M149 14v1M149 23v1M150 39v1M151 20v1M151 25v1M152 12v1M152 36v1M152 39v1M153 36v1M154 26v1M154 36v1M155 19v1M155 25v1M156 21v4M156 39v1M157 12v1M157 37v1M158 36v1M159 36v1M161 21v1M161 36v1M162 37v2M163 14v1M164 13v1M164 36v1M165 21v2M165 36v1M166 25v1M167 21v1M168 22v1M168 36v1M169 37v1M171 36v1M172 37v1M173 23v2M173 36v1M174 13v1M174 37v3M177 37v3M178 36v1M179 36v1M180 25v1M180 37v1M182 19v4M183 12v1M185 37v2M189 36v1M190 35v1M192 24v1M192 38v1M193 36v1M194 23v1M194 39v1M195 23v3M195 37v3M196 12v1M196 36v1M197 35v1M198 12v1M198 35v1M199 36v1M199 39v1M200 37v1M201 23v1M202 37v1M203 22v1M203 24v1M203 37v1M205 37v1M206 37v1M208 39v1M209 36v1M210 22v2M210 35v1M212 36v1"/><path stroke="#ff6e00" d="M0 33v1M1 16v1M1 33v1M2 15v1M2 33v2M3 34v1M4 33v1M6 33v1M7 33v2M9 15v1M9 35v1M10 32v2M11 33v1M12 15v1M13 34v1M14 16v1M14 33v1M17 15v1M17 32v1M19 35v1M20 14v1M21 14v1M22 35v1M24 14v1M24 33v2M25 35v1M25 39v1M27 15v1M27 33v1M28 15v1M28 34v1M29 15v1M29 33v1M30 16v1M30 34v1M31 16v1M31 34v3M32 15v1M32 34v1M33 15v1M34 14v1M34 32v1M35 14v1M36 14v1M36 34v1M37 14v1M37 36v1M38 32v1M39 33v1M40 33v1M41 33v1M42 34v1M44 33v1M46 32v1M47 34v1M48 36v1M49 33v2M50 34v1M52 34v1M56 15v1M56 33v1M57 15v1M57 34v1M58 36v2M59 34v1M60 16v1M60 34v1M64 32v1M65 35v1M66 35v1M68 34v1M69 32v1M70 33v1M71 33v1M72 14v1M72 33v1M74 32v2M75 33v1M75 35v2M76 15v1M76 32v1M77 34v1M78 13v1M78 34v2M79 21v1M79 34v1M80 35v1M81 38v1M82 13v1M82 33v1M83 13v1M83 34v3M84 13v1M84 34v1M85 35v2M86 33v2M88 14v1M89 36v1M90 15v1M90 34v1M91 14v1M91 34v2M92 13v1M92 34v2M93 13v1M93 35v2M94 22v2M94 33v1M94 35v2M96 34v1M96 37v1M97 34v1M98 33v2M99 32v1M99 34v1M100 35v1M102 34v1M103 36v1M104 34v1M105 14v1M105 35v1M107 20v1M107 23v1M108 13v1M108 20v1M109 13v1M109 34v2M110 13v1M110 21v2M110 36v1M113 32v1M114 35v1M115 38v1M116 14v1M116 33v1M117 34v1M118 35v1M119 33v1M120 34v2M121 22v1M121 32v1M121 34v1M122 13v1M122 22v2M122 33v1M123 34v1M124 32v1M125 33v3M127 34v1M128 34v1M129 13v1M129 35v1M130 13v1M130 34v1M131 13v1M131 34v1M132 35v1M133 35v1M134 35v1M135 35v1M136 14v1M136 34v2M137 13v1M137 23v2M139 20v1M139 34v1M140 26v1M140 35v1M141 25v1M141 38v1M142 20v1M142 35v1M143 20v1M143 25v1M143 34v1M144 20v2M144 25v1M144 33v1M145 22v2M145 34v1M146 13v1M146 36v1M147 35v1M148 21v3M149 22v1M149 24v1M149 35v1M150 22v3M150 36v1M151 36v1M153 26v1M154 19v1M155 35v1M156 12v1M156 25v1M156 36v1M157 19v1M157 24v2M157 36v1M158 22v1M159 35v1M160 36v1M161 24v1M162 36v1M163 36v1M164 35v1M165 14v1M165 20v1M165 23v1M166 24v1M166 26v1M166 36v1M167 36v1M168 20v2M168 26v1M169 13v1M169 23v3M169 36v1M170 12v1M170 36v1M173 25v2M173 35v1M174 22v4M174 36v1M175 22v1M175 36v1M176 24v2M176 36v1M177 36v1M178 13v1M178 17v2M178 35v1M179 22v4M179 35v1M180 36v1M181 20v1M181 23v2M181 35v2M182 12v1M182 18v1M182 35v1M183 19v2M183 22v4M183 36v1M184 24v1M185 39v1M186 35v1M187 36v1M188 20v3M188 35v1M190 20v1M192 13v1M192 37v1M193 25v2M194 37v2M195 22v1M195 26v1M197 12v1M198 23v1M199 13v1M199 35v1M200 13v1M201 20v1M202 36v1M203 25v1M204 35v1M205 36v1M206 36v1M207 36v1M208 22v2M208 25v1M208 37v2M209 19v3M210 12v1M210 24v1M211 19v1M211 36v1M212 35v1"/><path stroke="#ff5500" d="M0 17v1M0 32v1M2 32v1M3 32v2M5 34v1M6 32v1M7 15v1M7 32v1M8 32v1M9 33v2M12 33v1M13 15v1M13 33v1M15 33v1M16 16v1M16 34v1M18 15v1M18 33v1M19 14v1M21 33v1M22 14v1M22 34v1M23 34v1M24 32v1M25 33v2M26 32v1M27 31v2M28 33v1M30 17v1M30 31v3M31 33v1M34 31v1M35 34v1M37 34v2M38 15v1M38 31v1M40 32v1M43 32v2M44 16v1M45 17v1M45 32v1M46 31v1M47 33v1M48 35v1M49 15v1M49 32v1M50 32v2M51 15v1M51 33v1M53 31v2M53 34v1M54 15v1M54 33v1M55 33v1M58 15v1M58 34v2M60 33v1M61 33v1M62 15v1M62 32v1M64 14v1M64 31v1M65 31v2M65 34v1M67 14v1M67 31v2M69 14v1M70 31v2M72 32v1M73 14v1M73 33v1M74 31v1M75 32v1M76 31v1M77 31v1M78 22v2M78 33v1M79 13v1M79 23v1M80 34v1M81 36v2M82 32v1M83 33v1M85 34v1M86 32v1M87 14v1M87 33v1M88 33v1M89 34v2M91 33v1M92 33v1M93 34v1M94 13v1M94 21v1M95 13v1M95 33v3M96 13v1M97 14v1M97 32v2M98 13v1M98 32v1M99 31v1M99 33v1M100 14v1M100 34v1M101 14v1M101 34v1M102 15v1M102 33v1M103 31v1M103 35v1M105 34v1M106 33v1M107 32v1M108 34v1M110 20v1M111 13v1M111 33v1M112 34v1M113 31v1M114 34v1M115 34v1M117 33v1M119 32v1M120 33v1M121 21v1M121 23v1M121 31v1M121 33v1M122 21v1M122 24v1M122 32v1M123 32v2M125 13v1M125 32v1M126 13v1M126 34v1M127 13v1M128 33v1M129 34v1M130 33v1M132 32v3M133 14v1M133 32v3M134 34v1M135 34v1M137 22v1M137 32v1M138 13v1M138 20v1M138 33v1M139 26v1M139 33v1M140 19v1M140 27v1M141 19v1M141 37v1M142 13v1M142 26v1M144 13v1M145 21v1M145 24v1M145 33v1M146 35v1M147 34v1M148 20v1M148 24v2M149 34v1M150 25v1M151 19v1M151 26v1M152 19v1M152 35v1M153 35v1M154 35v1M155 18v1M155 26v1M156 20v1M156 26v1M157 26v1M157 35v1M158 21v1M158 35v1M159 20v3M160 13v1M160 22v4M161 20v1M161 25v1M161 35v1M162 24v3M162 34v2M163 15v1M163 35v1M165 24v2M165 35v1M166 20v4M167 20v1M167 24v1M167 35v1M168 13v1M168 35v1M169 22v1M169 26v1M169 35v1M170 22v2M170 35v1M171 13v1M171 35v1M172 36v1M173 13v1M173 22v1M173 34v1M174 21v1M174 35v1M175 23v2M176 22v2M178 16v1M178 19v2M178 34v1M179 21v1M180 13v1M180 20v1M180 26v1M180 35v1M181 19v1M181 34v1M182 23v1M183 18v1M183 21v1M183 26v1M184 25v1M184 35v1M185 36v1M186 22v1M187 13v1M188 23v1M188 25v2M189 22v1M190 19v1M190 21v1M190 25v2M190 34v1M191 36v1M192 21v1M192 25v1M192 36v1M193 17v1M193 19v1M193 23v2M193 35v1M194 21v1M194 36v1M195 12v1M195 36v1M196 19v6M198 14v2M198 22v1M198 24v1M200 36v1M201 14v1M201 24v1M201 36v1M202 25v1M203 26v1M203 36v1M204 22v1M205 23v2M205 35v1M206 35v1M207 20v3M207 35v1M208 21v1M208 24v1M208 26v1M208 36v1M209 12v1M209 22v1M209 26v1M209 35v1M210 21v1M210 25v2M210 34v1M211 13v1M211 18v1"/><path stroke="#ff3a00" d="M0 31v1M2 31v1M3 15v1M4 15v1M4 32v1M5 15v1M5 32v2M6 15v1M6 31v1M7 31v1M8 15v1M9 32v1M10 31v1M11 15v1M11 32v1M12 30v3M13 32v1M15 32v1M16 33v1M17 16v1M17 31v1M18 32v1M19 31v4M20 33v1M22 32v2M23 33v1M24 30v2M25 30v3M27 30v1M28 32v1M29 32v1M30 29v2M31 32v1M32 33v1M33 31v1M35 31v3M36 33v1M37 32v2M38 29v2M39 15v1M39 32v1M40 15v1M40 31v1M41 15v1M42 15v1M42 32v2M43 16v1M43 31v1M44 32v1M47 16v1M48 34v1M49 29v3M50 15v1M50 31v1M51 32v1M52 33v1M53 15v1M53 33v1M56 32v1M57 16v1M58 33v1M59 16v1M59 33v1M61 17v1M63 15v1M63 32v1M65 14v1M65 33v1M66 14v1M66 34v1M67 30v1M68 14v1M68 33v1M71 14v1M71 32v1M75 31v1M77 14v1M77 32v2M78 24v1M78 32v1M79 20v1M79 33v1M80 13v1M81 34v2M83 32v1M84 31v3M85 33v1M86 31v1M88 32v1M89 15v1M89 33v1M90 33v1M91 31v2M92 32v1M94 20v1M94 24v1M95 21v3M95 31v2M96 22v2M96 33v1M97 31v1M98 31v1M100 32v2M101 33v1M102 31v2M103 32v1M103 34v1M104 15v1M104 33v1M105 32v2M106 22v1M106 32v1M107 14v1M107 19v1M107 31v1M108 24v1M109 19v1M109 24v1M109 33v1M110 23v1M110 35v1M111 32v1M112 33v1M113 14v1M114 14v1M114 32v2M115 39v1M116 32v1M117 32v1M118 31v1M118 34v1M119 16v1M120 21v2M120 31v2M121 14v1M121 20v1M124 31v1M125 31v1M128 13v1M128 32v1M129 32v2M132 14v1M133 31v1M134 15v1M135 31v3M137 25v1M138 25v1M138 32v1M139 13v1M139 19v1M139 32v1M140 13v1M140 34v1M141 33v1M141 35v2M142 19v1M142 34v1M143 19v1M143 26v1M143 33v1M144 26v1M145 13v1M145 20v1M145 25v1M147 14v1M147 22v1M147 33v1M148 14v1M148 34v1M149 21v1M149 25v1M150 21v1M150 26v1M150 35v1M151 35v1M152 26v1M152 34v1M153 13v1M153 19v1M153 34v1M154 18v1M155 13v1M155 34v1M156 19v1M156 35v1M157 34v1M158 13v1M158 19v2M158 23v1M158 26v1M159 19v1M159 34v1M160 21v1M161 14v1M161 26v1M162 21v3M163 34v1M164 34v1M165 26v1M166 35v1M167 34v1M168 19v1M169 34v1M170 21v1M170 24v1M171 14v2M174 19v2M174 26v1M174 34v1M175 14v1M175 21v1M175 25v1M175 35v1M176 21v1M176 26v1M176 35v1M177 21v2M177 25v2M177 35v1M178 21v2M179 13v1M179 20v1M179 26v1M180 14v1M182 17v1M182 24v3M182 34v1M183 17v1M183 35v1M184 13v1M184 23v1M184 26v1M184 34v1M185 26v1M186 23v3M187 22v1M187 35v1M188 14v1M188 19v1M188 24v1M188 34v1M189 14v1M189 21v1M189 23v1M189 35v1M190 17v2M190 22v1M191 21v2M191 35v1M192 26v1M192 35v1M193 16v1M193 18v1M193 27v1M193 34v1M194 20v1M194 24v1M195 21v1M196 25v1M196 35v1M197 23v3M197 34v1M198 13v1M198 16v3M198 25v2M199 34v1M200 22v4M201 19v1M201 25v1M202 20v5M202 26v1M202 35v1M203 14v1M203 21v1M204 20v2M204 23v1M204 34v1M205 22v1M205 25v1M205 34v1M206 13v1M206 22v2M206 34v1M207 19v1M207 23v1M207 25v2M207 34v1M208 20v1M209 18v1M209 23v1M209 25v1M210 20v1M211 20v1M211 22v1M211 25v1M211 35v1M212 34v1"/><path stroke="#ff1800" d="M0 30v1M1 17v1M1 32v1M2 16v1M3 31v1M4 31v1M5 30v2M6 29v2M8 31v1M10 15v1M10 30v1M11 31v1M12 29v1M14 32v1M15 17v1M15 31v1M16 32v1M17 30v1M18 30v2M19 15v1M19 30v1M20 15v1M20 32v1M21 15v1M21 32v1M22 15v1M22 31v1M23 15v1M23 29v4M24 29v1M25 15v1M26 15v1M26 31v1M27 16v1M28 30v2M29 31v1M30 28v1M31 31v1M32 16v1M32 31v2M34 15v1M35 15v1M35 30v1M36 15v1M36 30v3M37 15v1M38 28v1M39 31v1M41 32v1M43 30v1M44 17v1M45 31v1M46 30v1M47 32v1M48 15v1M48 33v1M49 28v1M51 31v1M52 14v1M52 31v2M53 30v1M54 32v1M55 15v1M55 29v2M55 32v1M56 31v1M57 31v1M57 33v1M58 16v1M58 32v1M59 32v1M60 17v1M60 32v1M61 30v3M62 31v1M64 23v1M64 30v1M65 22v2M65 30v1M69 31v1M70 14v1M70 30v1M71 31v1M72 15v1M72 31v1M73 32v1M75 16v1M76 16v1M76 30v1M77 30v1M78 21v1M79 24v1M80 33v1M81 33v1M82 31v1M85 14v1M85 32v1M86 30v1M87 32v1M88 15v1M88 31v1M89 32v1M90 16v1M90 32v1M91 15v1M92 14v1M93 14v1M93 21v2M93 31v3M94 32v1M95 24v1M96 31v2M99 14v1M99 30v1M100 31v1M101 32v1M103 16v1M103 30v1M103 33v1M104 32v1M105 31v1M106 14v1M106 21v1M106 23v1M107 24v1M108 19v1M108 33v1M109 14v1M109 31v2M110 31v4M111 22v2M112 14v1M112 32v1M115 14v1M115 33v1M117 15v1M117 31v1M118 15v1M118 32v2M119 31v1M120 15v1M120 23v1M121 24v1M121 30v1M122 14v1M122 20v1M122 31v1M123 14v1M123 22v2M123 31v1M124 14v1M125 14v1M126 31v3M127 32v2M128 31v1M129 14v1M129 31v1M130 32v1M131 33v1M132 31v1M134 31v3M135 15v1M136 15v1M136 33v1M137 14v1M137 21v1M138 14v1M138 26v1M138 31v1M139 31v1M140 32v2M141 26v1M141 32v1M141 34v1M142 14v1M143 13v1M143 32v1M144 19v1M144 32v1M145 32v1M146 14v1M146 20v2M146 34v1M147 21v1M147 23v3M148 19v1M148 26v1M149 15v1M149 33v1M150 14v1M150 20v1M150 34v1M151 13v1M151 27v1M151 34v1M152 18v1M153 14v1M154 27v1M154 34v1M155 16v2M155 27v1M156 13v1M157 13v1M157 18v1M158 18v1M158 24v2M158 34v1M159 13v1M159 23v3M160 16v2M160 20v1M160 26v1M160 35v1M161 19v1M162 20v1M163 16v1M163 26v1M163 33v1M164 20v3M164 25v2M165 15v1M165 19v1M165 34v1M166 19v1M166 34v1M167 19v1M167 25v1M168 34v1M169 20v2M170 13v1M170 18v3M170 25v2M170 34v1M171 16v1M171 34v1M172 13v1M172 35v1M173 21v1M174 17v2M175 16v1M175 20v1M176 14v1M176 20v1M176 34v1M177 16v3M177 20v1M177 23v2M177 34v1M178 15v1M178 26v1M179 19v1M179 34v1M180 34v1M181 27v1M182 13v1M183 16v1M183 34v1M184 22v1M185 13v1M185 25v1M185 35v1M186 13v1M186 21v1M186 26v1M186 34v1M187 21v1M187 34v1M189 15v1M189 24v1M189 34v1M190 14v1M190 16v1M190 23v2M191 14v1M191 26v1M191 34v1M192 20v1M192 34v1M193 13v1M193 33v1M194 13v1M194 19v1M194 25v1M194 35v1M195 35v1M196 18v1M196 26v1M196 34v1M197 22v1M197 26v1M198 19v1M198 21v1M198 34v1M200 21v1M200 26v1M200 35v1M201 17v2M201 26v1M201 35v1M202 34v1M203 15v1M203 34v2M204 24v3M206 24v3M207 13v1M207 24v1M208 13v1M208 19v1M208 35v1M209 16v2M209 24v1M209 34v1M211 21v1M211 23v2M211 26v1M211 34v1M212 13v1"/><path stroke="#f70005" d="M3 29v2M5 29v1M6 16v1M6 28v1M7 30v1M8 28v3M9 16v1M9 31v1M10 29v1M11 30v1M12 16v1M12 28v1M13 16v1M13 31v1M14 17v1M14 30v2M15 30v1M17 29v1M18 16v1M18 29v1M20 29v3M22 30v1M24 15v1M25 28v2M26 30v1M27 29v1M28 16v1M28 29v1M29 16v1M29 30v1M30 18v1M31 17v1M32 30v1M33 29v2M34 30v1M36 29v1M37 31v1M38 16v1M39 30v1M40 30v1M41 31v1M42 31v1M43 29v1M44 29v3M45 30v1M46 18v1M48 32v1M49 27v1M50 30v1M51 30v1M52 30v1M54 31v1M55 28v1M55 31v1M56 16v1M57 30v1M57 32v1M58 30v2M59 31v1M60 28v2M61 29v1M62 30v1M63 28v2M63 31v1M64 22v1M64 29v1M65 15v1M65 21v1M65 24v1M66 33v1M67 15v1M67 29v1M68 15v1M68 32v1M71 30v1M72 16v1M73 15v1M73 31v1M74 15v1M78 14v1M78 31v1M79 32v1M80 22v1M80 32v1M81 13v1M81 32v1M82 14v1M83 14v1M83 31v1M84 14v1M84 30v1M85 31v1M86 14v1M87 15v1M87 30v2M88 30v1M89 31v1M90 31v1M92 31v1M93 20v1M93 23v1M94 31v1M95 14v1M95 20v1M95 30v1M96 21v1M96 30v1M97 15v1M97 30v1M98 14v1M102 16v1M102 30v1M104 31v1M106 31v1M107 15v1M108 31v2M109 30v1M110 14v1M110 19v1M110 24v1M111 14v1M111 21v1M111 31v1M112 31v1M113 15v1M113 30v1M114 31v1M115 32v1M116 30v2M118 30v1M120 20v1M123 21v1M124 23v2M124 30v1M125 30v1M126 14v1M127 14v1M127 31v1M130 31v1M131 32v1M132 15v1M133 15v1M133 30v1M134 30v1M135 30v1M136 32v1M137 20v1M137 31v1M138 19v1M139 27v1M140 14v1M140 18v1M140 28v1M140 31v1M141 13v1M141 18v1M141 27v5M142 15v1M142 18v1M142 27v1M142 33v1M143 18v1M143 27v1M144 14v2M145 19v1M145 26v1M145 31v1M146 22v1M146 24v1M146 33v1M147 20v1M147 26v1M147 32v1M148 15v1M148 18v1M148 33v1M149 16v1M149 20v1M149 26v1M150 15v5M151 33v1M152 13v1M152 33v1M153 15v1M153 18v1M153 27v1M153 33v1M154 13v1M155 14v2M156 14v2M156 18v1M156 27v1M156 34v1M157 14v2M157 27v1M157 33v1M158 14v2M159 26v1M160 34v1M161 18v1M161 34v1M162 14v1M162 27v1M162 33v1M163 25v1M164 23v2M167 26v1M167 33v1M168 14v2M168 27v1M169 14v1M169 19v1M169 33v1M173 14v1M173 16v2M173 20v1M173 27v1M173 33v1M174 16v1M175 15v1M175 26v1M175 34v1M176 15v1M177 14v2M177 19v1M178 14v1M178 23v1M178 25v1M178 33v1M180 15v1M180 19v1M180 27v1M181 18v1M182 15v2M182 33v1M183 13v1M185 34v1M187 20v1M187 23v3M188 18v1M188 27v1M188 33v1M189 16v1M189 25v1M190 33v1M191 15v2M191 20v1M191 23v3M193 15v1M194 26v1M195 19v2M197 19v1M197 21v1M197 33v1M198 20v1M199 14v1M199 22v5M199 33v1M200 20v1M200 34v1M201 15v2M201 34v1M202 19v1M203 16v1M203 20v1M203 27v1M204 14v1M204 33v1M205 14v1M205 21v1M205 26v1M205 33v1M206 19v3M206 33v1M209 15v1M209 27v1M210 13v1M210 15v1M210 19v1M210 33v1M211 14v1M211 17v1M212 24v3M212 33v1"/><path stroke="#e70012" d="M0 18v1M0 29v1M1 31v1M2 27v4M3 28v1M4 30v1M5 16v1M5 28v1M7 28v2M9 30v1M10 28v1M11 16v1M11 28v2M14 29v1M15 18v1M15 29v1M16 17v1M16 31v1M17 17v1M17 28v1M18 28v1M19 29v1M20 28v1M21 31v1M23 28v1M24 28v1M26 16v1M26 29v1M27 28v1M28 28v1M30 27v1M31 30v1M32 28v2M33 16v1M33 28v1M36 16v1M36 28v1M37 30v1M38 27v1M39 16v1M39 27v3M40 16v1M40 29v1M41 16v1M41 28v3M42 30v1M43 28v1M44 28v1M46 28v2M47 17v1M47 28v4M48 31v1M49 16v1M50 28v2M51 29v1M52 15v1M53 16v1M53 29v1M54 16v1M56 30v1M57 28v2M58 17v1M58 29v1M60 30v2M62 16v1M63 16v1M63 30v1M64 15v1M64 24v1M64 28v1M65 29v1M66 15v1M66 32v1M68 31v1M69 15v1M70 29v1M71 15v1M72 30v1M74 30v1M75 30v1M76 17v1M76 29v1M77 22v2M79 14v1M79 31v1M80 21v1M80 23v1M80 31v1M81 31v1M82 30v1M86 29v1M88 29v1M89 16v1M90 17v1M91 30v1M93 15v1M93 30v1M94 14v1M94 19v1M96 14v1M96 24v1M97 29v1M98 30v1M99 15v1M99 29v1M100 15v1M100 30v1M101 31v1M104 30v1M105 15v1M105 30v1M106 15v1M106 24v1M107 30v1M108 14v1M108 25v1M108 30v1M109 25v1M109 29v1M110 30v1M111 19v2M111 24v1M111 30v1M112 30v1M115 31v1M116 15v1M118 16v1M119 17v1M120 19v1M120 24v1M120 30v1M122 15v1M122 25v1M123 30v1M124 22v1M125 15v1M126 30v1M127 15v1M128 30v1M129 15v1M129 30v1M130 14v1M131 14v1M131 31v1M132 30v1M135 16v1M136 16v1M136 23v2M136 31v1M137 15v1M137 26v1M138 15v1M138 27v1M138 30v1M139 14v1M139 17v2M139 30v1M140 15v1M140 29v2M142 32v1M143 14v4M143 31v1M144 16v1M144 18v1M144 31v1M145 14v1M145 30v1M146 15v1M146 19v1M146 23v1M146 25v1M147 15v2M148 16v2M149 17v1M150 27v1M151 18v1M151 28v1M153 16v2M154 17v1M154 33v1M155 33v1M156 16v2M157 16v2M158 16v2M158 27v1M159 14v2M159 18v1M159 33v1M160 14v2M160 18v2M161 15v1M161 17v1M163 17v1M163 24v1M164 17v1M165 16v1M166 27v1M166 33v1M167 13v1M168 16v1M168 18v1M169 27v1M170 14v2M170 17v1M170 33v1M171 19v2M171 26v1M171 33v1M172 14v1M172 22v2M172 25v2M172 34v1M173 15v1M173 19v1M174 14v1M174 27v1M174 33v1M175 17v1M175 19v1M176 33v1M177 27v1M178 24v1M178 27v1M179 14v5M180 16v1M180 33v1M181 13v1M181 17v1M181 33v1M182 14v1M182 27v1M183 27v1M183 33v1M184 14v1M184 19v3M184 27v1M184 33v1M185 22v1M185 33v1M186 14v3M186 33v1M187 26v1M187 33v1M188 15v3M189 17v1M189 20v1M189 26v1M189 33v1M190 15v1M190 27v1M192 14v1M192 19v1M192 27v1M192 33v1M193 14v1M194 14v3M194 34v1M195 18v1M195 27v1M195 34v1M196 13v1M196 33v1M197 13v1M197 15v2M197 18v1M197 20v1M198 27v1M199 20v2M200 14v1M200 19v1M200 33v1M202 14v1M202 17v2M203 17v1M204 19v1M205 17v1M206 14v1M206 27v1M207 16v3M207 33v1M208 14v2M208 27v1M208 34v1M209 33v1M210 14v1M210 16v1M210 27v1M212 22v2"/><path stroke="#cd0026" d="M0 28v1M1 30v1M2 17v1M3 16v1M4 16v1M4 28v2M5 27v1M7 16v1M8 16v1M8 27v1M9 29v1M10 27v1M11 27v1M13 28v3M14 28v1M15 28v1M18 27v1M19 16v1M20 16v1M21 16v1M21 30v1M22 29v1M23 16v1M24 16v1M25 16v1M25 27v1M26 28v1M29 29v1M31 29v1M32 17v1M32 27v1M34 28v2M35 16v1M35 29v1M37 16v1M37 29v1M40 28v1M41 27v1M42 16v1M42 29v1M43 17v1M43 27v1M44 18v1M45 18v1M46 27v1M47 27v1M48 30v1M49 23v2M49 26v1M50 16v1M51 16v1M51 28v1M52 28v2M53 28v1M54 30v1M55 16v1M55 27v1M56 27v3M58 28v1M59 17v1M59 30v1M61 28v1M62 29v1M63 23v2M63 27v1M64 21v1M65 25v1M65 27v2M66 29v3M68 16v1M68 30v1M69 30v1M70 15v1M71 29v1M73 16v1M73 29v2M75 17v1M75 29v1M77 21v1M77 24v1M77 29v1M78 20v1M78 25v1M78 30v1M79 15v1M79 30v1M80 14v1M80 24v1M80 30v1M82 15v1M83 15v1M85 15v1M85 30v1M87 29v1M88 16v1M89 30v1M90 29v2M91 16v1M92 22v2M92 30v1M93 19v1M93 24v1M94 30v1M95 25v1M96 29v1M97 22v1M98 15v1M99 16v1M101 15v1M102 29v1M103 17v1M103 29v1M104 16v1M104 29v1M106 20v1M106 30v1M107 18v1M107 25v1M107 29v1M109 15v1M109 18v1M112 15v1M112 29v1M113 16v1M113 29v1M114 15v1M114 30v1M115 15v1M115 30v1M116 29v1M117 16v1M117 30v1M119 18v1M119 22v3M119 30v1M120 16v1M120 18v1M121 15v1M121 19v1M121 25v1M121 29v1M122 30v1M123 15v1M123 20v1M123 24v1M123 29v1M124 15v1M124 21v1M124 29v1M127 30v1M128 14v1M128 29v1M129 29v1M130 30v1M132 16v1M133 16v1M134 16v1M134 29v1M135 23v1M135 29v1M136 22v1M136 25v1M137 19v1M137 27v2M137 30v1M138 28v2M139 15v2M139 28v2M140 16v2M141 14v1M141 17v1M142 16v2M142 28v1M142 31v1M143 28v3M144 17v1M144 27v1M145 15v4M146 32v1M147 17v1M147 19v1M147 27v1M147 31v1M148 27v1M148 32v1M149 18v1M149 27v1M149 32v1M150 33v1M151 14v1M152 17v1M152 27v1M154 16v1M154 28v1M156 28v1M156 33v1M158 33v1M159 16v2M160 27v1M160 33v1M161 16v1M161 27v1M161 33v1M162 15v5M163 19v2M163 22v2M164 14v1M164 16v1M164 18v2M164 27v1M164 33v1M165 33v1M166 13v1M167 27v1M168 17v1M168 33v1M169 15v1M169 18v1M170 16v1M170 27v1M171 17v1M171 25v1M172 15v5M172 21v1M172 24v1M172 33v1M173 18v1M174 15v1M175 18v1M176 16v1M176 27v1M177 33v1M179 27v1M179 33v1M181 16v1M183 14v2M184 15v2M184 18v1M185 19v3M185 23v2M185 27v1M186 27v1M187 19v1M187 27v1M191 17v1M191 27v1M191 33v1M194 17v2M194 27v1M195 13v1M196 27v1M197 17v1M197 27v1M199 15v1M199 19v1M200 27v1M201 27v1M201 33v1M202 15v2M202 33v1M203 18v2M203 33v1M204 15v1M204 27v1M205 15v2M205 20v1M206 15v4M207 14v2M207 27v1M208 16v1M208 18v1M209 13v2M210 18v1M211 15v2M211 27v1M211 33v1M212 14v4M212 19v3M212 27v1"/><path stroke="#b0003c" d="M1 18v1M1 28v2M3 27v1M4 27v1M6 27v1M7 27v1M9 28v1M10 16v1M11 17v1M12 17v1M12 27v1M13 17v1M13 27v1M16 18v1M16 30v1M18 17v1M19 28v1M21 29v1M22 16v1M26 27v1M27 17v1M28 17v1M28 27v1M29 17v1M29 28v1M33 25v1M33 27v1M34 16v1M37 28v1M39 26v1M40 27v1M42 28v1M44 27v1M45 29v1M48 16v1M48 28v2M49 22v1M49 25v1M50 27v1M54 28v2M57 17v1M58 27v1M59 28v2M60 18v1M60 27v1M61 18v1M62 28v1M63 22v1M63 25v2M64 27v1M65 16v1M65 26v1M67 16v1M67 28v1M68 29v1M69 28v2M71 16v1M72 17v1M72 29v1M74 16v1M77 15v1M77 25v1M78 15v1M78 19v1M78 29v1M79 19v1M79 25v1M79 29v1M80 20v1M80 25v2M80 29v1M81 14v1M81 30v1M82 29v1M83 30v1M84 15v1M84 29v1M87 16v1M89 17v1M89 29v1M92 15v1M92 21v1M92 24v1M92 29v1M93 29v1M94 15v1M94 25v1M95 15v1M95 19v1M95 29v1M96 20v1M97 16v1M97 21v1M97 23v1M98 29v1M100 16v1M101 30v1M102 17v1M105 29v1M106 16v1M106 25v1M107 16v1M107 26v1M108 15v1M108 18v1M108 26v1M108 29v1M110 15v1M110 18v1M110 25v1M110 29v1M111 15v1M111 29v1M114 29v1M118 17v1M118 21v1M118 29v1M119 19v1M119 25v1M120 17v1M120 25v1M122 19v1M122 29v1M123 16v1M123 19v1M124 19v2M124 25v1M125 29v1M126 15v1M130 15v1M131 15v1M131 30v1M132 29v1M133 29v1M135 17v1M135 22v1M135 24v1M136 17v1M136 21v1M136 30v1M137 29v1M138 16v1M141 15v1M142 29v2M144 30v1M145 27v1M146 16v1M146 18v1M146 26v1M146 31v1M147 18v1M147 28v3M148 31v1M149 19v1M149 28v1M149 31v1M151 15v1M152 15v2M152 32v1M154 14v2M155 28v1M157 28v1M159 27v1M163 18v1M163 21v1M163 27v1M164 15v1M165 17v2M165 27v1M166 16v3M167 15v2M167 18v1M171 18v1M171 21v2M171 24v1M172 20v1M172 27v1M173 28v1M175 27v1M175 33v1M176 17v1M176 19v1M180 17v2M180 28v1M181 14v2M181 28v1M184 17v1M185 14v1M186 17v1M186 20v1M187 14v1M188 28v1M189 27v1M192 15v1M193 28v1M194 33v1M195 14v2M195 17v1M195 33v1M196 14v1M196 17v1M197 14v1M198 33v1M199 16v1M199 27v1M200 17v2M202 27v1M204 16v1M204 18v1M205 18v1M205 27v1M208 17v1M209 28v1M210 17v1M212 18v1"/><path stroke="#8f0056" d="M0 27v1M1 27v1M2 26v1M5 17v1M5 26v1M6 17v1M6 20v1M7 26v1M8 26v1M9 27v1M14 18v1M14 27v1M15 27v1M16 27v3M17 18v1M17 27v1M18 26v1M19 27v1M20 27v1M22 28v1M23 27v1M24 27v1M25 17v1M25 26v1M26 17v1M26 26v1M27 27v1M30 19v1M30 26v1M31 18v1M31 28v1M32 26v1M33 17v1M33 26v1M34 27v1M35 28v1M36 17v1M36 27v1M38 17v1M38 26v1M39 17v1M41 26v1M43 26v1M44 26v1M46 26v1M47 23v4M48 27v1M50 23v2M51 23v2M51 27v1M52 16v1M52 27v1M53 27v1M54 17v1M54 27v1M55 26v1M56 17v1M57 27v1M59 18v1M59 27v1M61 27v1M62 17v1M63 17v1M63 21v1M64 16v1M64 20v1M64 25v1M65 20v1M66 16v1M66 28v1M69 16v1M70 16v1M70 28v1M72 28v1M73 28v1M77 20v1M77 26v1M78 16v1M78 26v1M79 16v1M80 15v1M80 19v1M81 15v1M81 21v3M81 29v1M83 29v1M85 16v1M85 29v1M86 15v1M86 28v1M88 17v1M88 28v1M90 28v1M91 29v1M93 25v1M94 18v1M94 29v1M96 15v1M96 25v1M97 20v1M97 24v1M97 27v2M98 22v1M99 28v1M100 29v1M101 16v1M101 29v1M102 23v1M104 17v1M105 16v1M105 21v2M106 19v1M106 29v1M107 17v1M107 27v1M109 16v2M109 26v1M109 28v1M110 16v1M111 18v1M112 23v1M115 29v1M116 16v1M117 17v1M117 20v2M118 18v1M118 20v1M118 22v1M119 20v2M119 26v1M119 29v1M120 29v1M121 16v1M122 16v1M122 26v1M123 17v2M124 16v1M124 18v1M126 29v1M127 29v1M129 16v1M130 29v1M131 16v1M131 29v1M133 22v1M134 17v1M134 22v3M135 18v1M135 21v1M136 20v1M136 26v2M136 29v1M137 16v1M137 18v1M138 17v2M141 16v1M144 28v2M145 29v1M146 17v1M146 29v2M148 28v1M148 30v1M149 29v1M150 28v1M151 16v2M151 29v1M151 32v1M152 14v1M153 28v1M153 32v1M156 29v1M158 28v1M160 28v1M163 32v1M167 14v1M167 17v1M167 32v1M168 28v1M169 16v2M169 28v1M171 23v1M171 27v1M174 28v1M176 18v1M176 28v1M181 29v1M183 28v1M184 28v1M185 15v1M185 18v1M185 28v1M185 32v1M187 28v1M189 18v2M191 18v2M192 16v3M192 28v1M193 32v1M195 16v1M196 15v2M196 28v1M197 28v1M198 28v1M199 17v1M200 15v2M201 28v1M203 28v1M204 17v1M204 32v1M205 19v1M205 28v1M206 28v1M208 33v1M211 28v1M212 28v1M212 32v1"/><path stroke="#740071" d="M0 19v1M1 26v1M2 18v1M3 17v1M3 26v1M4 17v1M4 26v1M5 19v1M5 24v2M6 19v1M6 21v1M6 26v1M8 17v1M8 19v2M8 23v3M9 17v1M9 26v1M10 26v1M11 18v2M11 26v1M12 26v1M15 19v1M19 26v1M21 17v1M21 28v1M22 27v1M23 17v1M24 17v1M24 23v1M26 25v1M28 26v1M29 18v1M29 27v1M30 25v1M32 18v1M33 24v1M34 26v1M35 17v1M35 27v1M37 27v1M38 18v1M39 25v1M40 17v1M40 26v1M41 17v1M42 17v1M42 27v1M43 18v1M45 28v1M46 19v1M47 18v1M47 22v1M48 22v3M49 17v1M50 25v2M51 22v1M53 17v1M55 17v1M55 25v1M56 26v1M58 18v1M58 26v1M61 26v1M62 27v1M63 20v1M64 26v1M67 17v1M68 17v1M68 28v1M69 17v1M69 27v1M70 27v1M71 17v1M72 27v1M73 27v1M74 17v1M74 29v1M75 18v1M75 28v1M76 18v1M76 28v1M77 16v1M77 27v2M78 17v2M78 27v2M79 28v1M80 27v1M81 20v1M81 24v1M82 16v1M83 16v1M84 16v1M85 17v1M86 16v1M86 27v1M87 28v1M88 18v1M90 18v1M90 23v5M91 17v1M91 22v1M91 24v2M92 20v1M92 25v1M93 16v1M93 27v2M94 16v1M95 16v1M95 26v1M96 19v1M96 28v1M97 19v1M97 25v2M98 16v1M98 21v1M98 23v2M99 17v1M99 27v1M102 24v1M103 18v1M103 28v1M104 28v1M105 20v1M105 23v2M106 17v1M107 28v1M108 16v2M108 27v2M109 27v1M110 17v1M110 26v1M111 25v1M111 28v1M112 16v1M112 20v3M112 24v1M113 17v1M113 22v1M113 26v3M114 16v1M115 16v1M117 18v2M117 22v2M117 29v1M118 19v1M118 23v2M119 27v1M121 18v1M121 26v1M122 27v2M123 25v1M123 28v1M124 17v1M124 26v1M124 28v1M125 16v1M125 21v4M126 16v1M126 20v1M127 16v1M128 15v1M128 26v3M129 28v1M130 16v1M132 17v1M133 17v1M133 21v1M133 23v3M134 18v1M134 20v2M134 25v1M134 28v1M135 19v2M135 25v1M135 28v1M136 18v2M136 28v1M137 17v1M145 28v1M146 27v2M148 29v1M149 30v1M150 29v1M150 31v2M152 28v1M152 31v1M153 29v3M154 29v1M154 32v1M155 32v1M157 29v1M157 32v1M159 28v2M159 32v1M161 28v1M162 28v1M164 28v1M166 14v2M169 32v1M173 29v4M174 32v1M175 28v1M177 28v1M178 28v1M178 32v1M179 28v1M180 29v1M182 28v1M182 32v1M185 16v2M185 31v1M186 28v1M186 32v1M187 15v4M188 29v1M188 32v1M189 28v1M190 28v1M190 32v1M193 29v1M194 28v1M195 28v1M196 29v1M196 32v1M197 32v1M199 18v1M199 28v1M199 32v1M200 32v1M202 28v1M204 28v1M205 29v1M205 32v1M206 32v1M208 28v1M209 29v1M209 32v1M210 28v1M210 32v1"/><path stroke="#5d008c" d="M0 26v1M3 23v3M4 23v3M5 18v1M5 20v1M6 18v1M6 22v4M7 17v1M7 25v1M8 18v1M8 21v2M9 25v1M10 17v1M10 25v1M11 20v1M12 18v1M13 26v1M14 26v1M15 25v2M16 19v1M16 26v1M17 19v1M18 18v1M18 25v1M19 17v1M19 25v1M20 17v1M20 26v1M21 27v1M22 26v1M23 19v1M23 23v4M24 22v1M24 26v1M25 23v3M26 18v1M26 22v2M27 18v1M27 26v1M28 18v1M28 20v1M28 25v1M30 20v1M30 24v1M31 27v1M32 19v3M32 23v3M34 17v1M34 25v1M35 26v1M36 26v1M37 17v1M38 25v1M39 23v2M41 25v1M43 24v2M44 19v1M44 25v1M45 27v1M46 25v1M47 20v2M48 21v1M48 25v2M49 18v4M50 17v1M50 19v2M50 22v1M51 17v1M51 20v2M51 25v2M52 23v1M52 26v1M53 23v1M53 26v1M54 18v1M54 26v1M55 24v1M56 18v2M56 25v1M59 19v1M59 26v1M60 19v1M61 25v1M63 18v2M64 19v1M65 17v1M66 23v1M67 18v2M67 27v1M68 18v1M68 27v1M69 18v5M70 17v1M70 26v1M71 20v2M71 28v1M72 18v1M72 20v2M72 26v1M73 17v1M73 19v2M73 26v1M75 23v2M76 22v4M77 17v3M79 17v2M79 26v2M80 16v1M80 18v1M80 28v1M81 16v4M81 25v1M81 28v1M82 17v1M82 22v4M83 27v2M85 22v1M85 28v1M86 17v1M87 20v3M88 19v1M88 23v5M89 18v1M89 28v1M90 19v4M91 21v1M91 23v1M92 16v1M92 19v1M92 26v1M92 28v1M93 18v1M93 26v1M94 17v1M94 26v1M95 18v1M95 28v1M96 26v2M97 17v2M98 20v1M98 28v1M99 23v4M100 17v1M101 17v1M102 18v1M102 22v1M102 28v1M103 22v6M104 18v1M104 21v1M104 23v1M104 27v1M105 25v4M106 18v1M106 26v1M110 28v1M111 16v2M112 19v1M112 25v1M112 28v1M113 21v1M113 23v1M115 28v1M116 24v2M116 28v1M117 24v2M118 25v2M119 28v1M121 17v1M121 28v1M122 17v2M123 27v1M124 27v1M125 19v2M125 25v2M125 28v1M126 19v1M126 21v4M127 23v1M127 26v3M128 20v2M128 25v1M129 17v1M130 28v1M131 17v1M131 25v2M132 28v1M133 18v1M133 20v1M133 26v3M134 19v1M134 26v1M135 26v2M150 30v1M151 30v2M152 29v2M154 30v2M155 29v1M156 32v1M158 29v1M159 30v2M160 29v1M160 32v1M162 32v1M163 31v1M164 29v1M165 28v1M166 28v1M166 32v1M167 28v1M167 31v1M168 29v1M169 29v1M170 28v1M170 32v1M171 28v1M171 32v1M172 28v1M172 32v1M176 29v1M176 32v1M179 32v1M180 32v1M181 30v1M181 32v1M183 29v1M183 32v1M184 29v1M184 32v1M185 29v2M186 19v1M187 32v1M189 32v1M190 29v1M191 28v1M192 29v1M192 32v1M193 31v1M197 29v1M198 29v1M200 28v1M201 29v1M201 32v1M202 29v1M203 32v1M204 31v1M207 28v1M209 30v2M211 29v1M212 29v1M212 31v1"/><path stroke="#4b00aa" d="M0 23v1M1 19v1M1 21v2M1 25v1M2 19v2M2 25v1M3 18v5M4 21v2M5 21v1M5 23v1M7 23v2M10 22v3M11 21v1M11 25v1M12 19v7M13 18v1M13 23v1M13 25v1M14 19v3M14 25v1M15 24v1M16 25v1M17 20v1M17 23v4M18 19v1M18 23v2M19 24v1M22 25v1M23 18v1M23 20v3M24 18v2M24 21v1M24 24v2M25 18v2M26 19v3M26 24v1M27 19v4M27 25v1M28 19v1M28 21v1M28 24v1M29 19v8M30 21v1M30 23v1M31 19v1M31 25v2M32 22v1M33 19v2M33 23v1M34 19v2M34 24v1M35 20v6M36 18v1M36 25v1M37 19v1M37 26v1M38 19v1M39 18v1M39 22v1M40 25v1M41 23v2M42 23v4M43 19v5M44 20v1M45 19v1M45 26v1M46 20v3M47 19v1M48 17v1M48 20v1M50 18v1M50 21v1M51 19v1M52 17v1M52 21v2M52 24v2M53 24v2M54 19v1M55 18v3M55 23v1M56 20v5M57 18v1M57 26v1M58 19v4M58 25v1M60 20v2M60 24v1M60 26v1M61 19v1M61 21v4M62 18v5M64 17v1M65 18v2M66 17v1M66 22v1M66 24v1M66 27v1M67 20v3M67 25v2M68 19v1M68 26v1M69 23v4M70 18v2M70 23v3M71 18v2M71 22v3M72 19v1M72 22v4M73 18v1M73 21v5M74 18v1M75 19v1M75 22v1M75 25v1M75 27v1M76 19v3M76 26v2M80 17v1M81 27v1M82 18v1M82 21v1M82 28v1M83 17v1M83 20v2M84 17v1M84 23v2M84 28v1M85 18v1M85 21v1M85 23v1M86 18v3M86 24v1M86 26v1M87 17v1M87 19v1M87 23v5M88 20v3M89 19v1M91 20v1M91 26v1M91 28v1M92 17v2M92 27v1M93 17v1M94 28v1M95 17v1M95 27v1M96 16v1M98 17v1M98 19v1M98 25v1M99 18v1M99 22v1M100 18v2M100 22v7M101 24v5M102 25v1M103 19v3M104 20v1M104 22v1M104 24v3M105 17v1M105 19v1M106 27v2M110 27v1M111 26v2M112 17v2M112 26v2M113 20v1M113 24v2M114 17v1M114 28v1M115 19v6M115 27v1M116 17v1M116 23v1M116 26v2M117 26v1M117 28v1M118 27v2M120 26v1M121 27v1M123 26v1M125 17v2M125 27v1M126 17v2M126 25v1M126 28v1M127 20v3M127 24v2M128 16v1M128 19v1M128 22v1M128 24v1M129 18v1M129 27v1M130 17v1M130 20v3M130 27v1M131 18v4M131 24v1M131 27v2M132 18v10M133 19v1M134 27v1M155 30v2M156 30v2M157 30v2M158 32v1M161 29v1M161 32v1M163 28v1M164 30v3M165 32v1M168 32v1M169 31v1M171 29v1M171 31v1M172 29v1M172 31v1M174 29v1M174 31v1M175 29v1M176 31v1M177 32v1M178 29v3M179 29v1M180 30v2M181 31v1M182 31v1M186 18v1M186 29v1M186 31v1M188 30v2M190 31v1M193 30v1M194 29v1M194 32v1M195 29v1M195 32v1M196 30v2M197 31v1M199 29v1M200 31v1M202 30v1M202 32v1M204 29v2M205 30v2M206 29v1M206 31v1M207 29v1M207 32v1M210 29v1M210 31v1M212 30v1"/><path stroke="#3500c2" d="M0 20v3M0 24v2M1 20v1M1 23v2M2 21v4M4 18v1M4 20v1M5 22v1M7 19v4M9 24v1M10 18v4M11 22v3M13 22v1M13 24v1M14 22v3M15 20v1M15 23v1M16 23v2M17 21v2M18 20v1M18 22v1M19 18v4M19 23v1M20 18v8M21 18v1M21 23v4M22 17v1M22 21v2M22 24v1M24 20v1M25 20v3M27 23v2M28 22v2M30 22v1M31 24v1M33 18v1M33 21v2M34 18v1M34 21v1M34 23v1M35 18v2M36 19v3M36 24v1M37 18v1M37 20v1M38 20v5M39 21v1M40 18v1M41 18v5M42 18v1M42 22v1M44 21v4M45 23v3M46 23v2M48 18v2M51 18v1M52 18v3M53 18v1M53 21v2M54 20v2M55 21v2M58 23v2M59 20v1M59 25v1M60 22v2M60 25v1M61 20v1M62 23v4M64 18v1M66 21v1M66 25v2M67 23v2M68 25v1M70 20v3M71 25v3M74 19v3M74 24v2M74 28v1M75 26v1M81 26v1M82 19v2M82 26v2M83 19v1M83 22v1M83 26v1M84 18v5M84 25v3M85 19v2M85 27v1M86 21v3M86 25v1M87 18v1M89 20v1M89 23v2M91 18v2M91 27v1M94 27v1M96 17v2M98 18v1M98 27v1M99 19v3M100 20v2M101 18v1M101 22v2M102 19v3M102 26v2M104 19v1M105 18v1M113 18v2M114 18v3M115 17v2M115 25v2M116 22v1M117 27v1M120 28v1M126 26v1M127 17v1M127 19v1M128 17v2M128 23v1M129 21v6M130 18v2M130 23v1M130 26v1M131 22v2M158 30v1M160 30v2M161 31v1M162 29v1M162 31v1M163 29v2M165 29v1M166 31v1M167 29v2M168 30v2M169 30v1M170 29v1M170 31v1M171 30v1M172 30v1M174 30v1M175 30v3M176 30v1M177 29v1M177 31v1M179 31v1M182 29v1M183 30v2M184 30v2M187 29v1M187 31v1M189 29v1M189 31v1M190 30v1M191 29v1M191 32v1M192 30v2M197 30v1M198 30v1M198 32v1M199 30v2M200 29v1M201 30v2M202 31v1M203 29v1M203 31v1M206 30v1M207 30v2M208 29v1M208 32v1M210 30v1M211 32v1"/><path stroke="#2100d9" d="M4 19v1M7 18v1M9 18v6M13 19v1M13 21v1M15 21v2M16 20v3M18 21v1M19 22v1M21 19v1M21 22v1M22 20v1M22 23v1M31 20v4M34 22v1M36 22v2M37 21v1M37 25v1M39 19v2M40 19v2M40 24v1M42 19v3M45 20v3M53 19v2M54 22v4M57 23v3M59 21v4M66 18v3M68 20v5M74 22v2M74 26v2M75 20v2M83 18v1M83 23v1M83 25v1M85 24v3M89 21v2M89 25v3M98 26v1M101 21v1M114 21v1M114 23v5M116 18v4M120 27v1M126 27v1M127 18v1M129 19v2M130 24v2M158 31v1M161 30v1M162 30v1M165 30v2M166 29v1M170 30v1M177 30v1M179 30v1M182 30v1M186 30v1M187 30v1M189 30v1M191 31v1M194 30v2M195 30v2M198 31v1M200 30v1M203 30v1M208 30v1M211 30v2"/><path stroke="#1000ec" d="M13 20v1M21 20v2M22 18v2M37 22v3M40 21v3M57 19v4M83 24v1M101 19v2M114 22v1M166 30v1M191 30v1M208 31v1"/></g>
<g transform="translate(65.366,318.91) scale(1.93286,2.54175)" shape-rendering="crispEdges" fill="none" stroke-width="1.02"><path stroke="#a9fdff" d="M105 6v1"/><path stroke="#91fbff" d="M112 6v1"/><path stroke="#78faff" d="M73 6v1M129 6v1M174 7v1M208 6v1"/><path stroke="#60f9fe" d="M22 6v1M23 6v1M24 6v1M58 6v1"/><path stroke="#4cf7fc" d="M16 6v1M30 6v1M55 6v1M123 6v1"/><path stroke="#3af5f8" d="M0 6v1M69 7v1M104 6v1M127 7v1M141 6v1M205 7v1"/><path stroke="#30f5f1" d="M81 6v1M142 6v1M186 6v1M199 7v1"/><path stroke="#27f4e7" d="M40 6v1M47 6v1M107 7v1M126 6v1M145 7v1M155 7v1M167 6v1M173 7v1M187 6v1M190 6v1M193 6v1M212 5v1"/><path stroke="#22f2d6" d="M7 7v1M84 7v1M92 6v1M94 7v1M114 6v1M128 7v1M134 6v1M176 6v1M182 7v1M200 7v1M204 7v1"/><path stroke="#1defc3" d="M6 7v1M10 6v1M29 6v1M41 7v1M52 7v1M57 7v1M60 6v1M63 6v1M65 7v1M71 6v1M119 6v1M135 6v1M166 7v1M183 7v1M188 6v1M192 6v1M201 7v1"/><path stroke="#1aeead" d="M8 7v1M49 6v1M77 7v1M88 6v1M96 39v1M110 7v1M112 7v1M115 6v1M131 7v1M136 6v1M146 7v1M151 7v1M164 7v1M169 7v1M179 7v1M206 7v1"/><path stroke="#17ec97" d="M4 7v1M12 7v1M15 6v1M27 7v1M31 6v1M32 5v1M43 7v1M51 7v1M62 7v1M67 7v1M68 7v1M74 7v1M76 7v1M83 7v1M85 7v1M87 7v1M89 7v1M96 7v1M100 7v1M104 7v1M113 6v1M118 7v1M133 7v1M139 7v1M140 7v1M150 6v1M153 7v1M156 7v1M161 7v1M163 7v1M168 7v1M184 7v1M196 7v1M197 7v1M209 7v1M210 7v1M211 6v1"/><path stroke="#14eb82" d="M1 7v1M3 7v1M5 7v1M11 7v1M17 7v1M20 7v1M25 7v1M34 7v1M35 7v1M44 7v1M50 7v1M56 7v1M58 7v1M61 7v1M75 7v1M79 7v1M93 7v1M94 8v1M102 7v1M106 7v1M109 7v1M117 7v1M121 6v1M124 7v1M129 7v1M132 7v1M140 39v1M148 6v1M152 7v1M157 7v1M159 6v1M160 6v1M170 7v1M174 8v1M175 7v1M189 7v1M195 6v1M208 39v1M210 39v1"/><path stroke="#0fed6d" d="M0 7v1M2 7v1M7 39v1M9 7v1M10 7v1M14 39v1M16 7v1M23 7v1M42 7v1M45 7v1M46 6v1M48 6v1M69 8v1M70 7v1M72 6v1M81 7v1M91 7v1M92 7v1M95 7v1M111 7v1M115 7v1M116 7v1M119 7v1M123 7v1M124 39v1M125 7v1M131 8v1M137 7v1M138 7v1M141 7v1M145 8v1M147 7v1M162 7v1M166 35v1M170 39v1M171 7v1M185 7v1M187 7v1M192 39v1M198 7v1M202 6v1M207 7v1M210 38v1"/><path stroke="#0bef59" d="M6 8v1M7 8v1M13 7v1M14 7v1M18 7v1M19 7v1M21 6v1M22 7v1M24 7v1M28 7v1M31 7v1M32 6v1M33 7v1M39 6v1M40 7v1M41 8v1M46 7v1M47 7v1M54 7v1M55 7v1M59 7v1M60 7v1M64 7v1M71 7v1M73 7v1M73 39v1M80 7v1M90 7v1M96 8v1M96 38v1M97 7v1M98 7v1M99 7v1M101 7v1M103 7v1M105 7v1M108 7v1M109 39v1M114 7v1M119 39v1M122 6v1M126 7v1M128 39v1M134 7v1M135 7v1M139 8v1M142 7v1M143 7v1M154 7v1M155 39v1M158 7v1M165 7v1M166 36v1M167 7v1M169 39v1M170 38v1M172 7v1M173 8v1M173 37v2M176 7v1M178 7v1M178 39v1M181 6v1M186 7v1M190 7v1M191 7v1M194 7v1M195 7v1M200 39v1M205 8v1M208 38v1M211 39v1M212 37v1"/><path stroke="#07f141" d="M1 39v1M5 39v1M6 38v2M7 38v1M8 8v1M10 8v1M11 8v1M12 39v1M25 8v1M26 8v1M30 7v1M35 8v1M36 7v1M37 7v1M38 6v2M44 8v1M44 39v1M49 7v1M50 8v1M51 8v1M53 7v2M61 39v1M66 7v1M72 7v1M76 8v1M77 8v1M78 6v2M82 7v1M86 7v1M88 7v1M92 8v1M93 8v1M93 39v1M99 8v1M100 8v1M102 8v1M104 8v1M109 38v1M113 7v1M114 39v1M120 7v1M121 7v1M122 7v1M127 8v1M128 8v1M130 7v1M135 39v1M136 7v1M137 8v1M144 7v1M146 8v1M148 7v1M149 6v1M150 7v1M151 8v1M155 38v1M161 8v1M163 8v1M163 38v1M165 8v1M166 34v1M166 37v3M168 37v1M169 8v1M169 38v1M172 8v1M173 36v1M173 39v1M176 37v2M177 7v1M177 39v1M179 8v1M182 8v1M184 8v1M185 8v1M185 37v2M188 7v1M192 7v1M193 7v1M193 39v1M195 39v1M199 8v1M200 37v2M201 8v1M201 39v1M202 38v2M205 39v1M207 39v1M208 7v1M209 8v1M210 37v1M211 38v1M212 6v1M212 36v1M212 38v2"/><path stroke="#02f324" d="M0 8v1M1 8v1M1 37v2M2 8v1M5 38v1M6 37v1M7 37v1M14 38v1M16 8v1M18 8v1M20 8v1M21 7v1M22 8v1M26 7v1M27 8v1M28 39v1M30 39v1M35 39v1M36 8v1M40 8v1M40 39v1M43 8v1M44 37v2M45 8v1M48 7v1M49 8v1M50 39v1M52 8v1M53 39v1M55 39v1M56 8v1M57 37v3M58 8v1M60 8v1M61 8v1M62 39v1M63 7v1M65 8v1M68 8v1M75 8v1M77 39v1M78 8v1M81 8v1M81 39v1M84 8v1M86 8v1M94 9v1M94 39v1M95 8v1M97 8v1M101 8v1M104 37v3M105 8v1M107 8v1M109 37v1M113 39v1M114 38v1M115 37v3M116 8v1M118 8v1M118 37v3M119 8v1M119 38v1M124 38v1M129 39v1M133 8v1M139 39v1M140 38v1M141 39v1M143 8v1M143 39v1M144 36v2M146 39v1M149 7v1M151 38v2M155 37v1M157 8v1M159 7v1M163 37v1M163 39v1M164 8v1M166 8v1M167 39v1M168 8v1M168 36v1M168 38v2M169 35v3M170 37v1M171 39v1M172 39v1M175 36v1M176 36v1M176 39v1M177 38v1M178 8v1M178 38v1M179 35v2M179 39v1M180 7v1M181 38v2M182 39v1M183 8v1M185 36v1M185 39v1M187 8v1M188 38v1M189 8v1M192 38v1M194 8v1M194 35v1M195 8v1M195 37v2M197 8v1M199 39v1M200 8v1M200 36v1M201 38v1M202 7v1M203 8v1M207 8v1M208 37v1M211 35v3M212 35v1"/><path stroke="#05f70e" d="M2 39v1M3 8v1M3 39v1M4 8v1M5 8v1M6 9v1M6 36v1M7 36v1M9 8v1M10 39v1M11 36v1M12 8v1M12 38v1M14 8v1M14 37v1M15 7v1M16 38v2M17 8v1M19 8v1M20 38v2M24 8v1M26 39v1M29 7v1M30 38v1M31 8v1M32 7v1M32 39v1M33 8v1M34 8v1M38 8v1M39 39v1M41 39v1M42 8v1M44 36v1M45 39v1M46 8v1M48 8v1M50 38v1M54 8v1M55 8v1M55 38v1M59 38v2M60 39v1M61 38v1M62 8v1M62 38v1M63 38v2M65 37v3M67 8v1M69 9v1M69 38v2M70 8v1M70 39v1M71 8v1M71 39v1M72 39v1M73 8v1M73 38v1M74 8v1M74 39v1M76 38v1M77 38v1M78 37v2M79 8v1M79 39v1M80 8v1M80 39v1M83 8v1M83 39v1M85 8v1M85 39v1M87 8v1M87 38v2M88 8v1M89 8v1M91 36v2M92 39v1M93 38v1M96 37v1M107 39v1M108 8v1M109 8v1M110 8v1M111 8v1M112 8v1M112 37v2M113 38v1M114 37v1M115 8v1M115 36v1M117 8v1M120 39v1M123 8v1M123 39v1M124 8v1M124 37v1M125 8v1M127 38v2M128 38v1M129 8v1M131 39v1M134 8v1M135 8v1M135 38v1M136 8v1M139 38v1M140 8v1M141 8v1M142 8v1M144 8v1M144 38v2M145 37v3M146 38v1M150 39v1M151 37v1M152 8v1M153 8v1M154 8v1M155 8v1M155 36v1M156 8v1M157 35v4M158 8v1M158 36v4M160 7v1M161 39v1M162 8v1M162 39v1M163 34v3M167 36v3M168 35v1M169 34v1M170 8v1M171 8v1M171 38v1M172 37v2M173 35v1M174 34v3M175 8v1M175 35v1M175 37v1M176 8v1M176 35v1M177 8v1M177 37v1M178 35v3M179 34v1M179 37v2M181 37v1M185 35v1M186 8v1M186 35v3M186 39v1M187 35v2M187 39v1M188 8v1M188 37v1M188 39v1M190 38v2M192 8v1M192 37v1M194 34v1M194 39v1M195 35v2M198 39v1M202 37v1M203 36v4M204 8v1M204 39v1M205 38v1M206 8v1M206 39v1M207 38v1M209 39v1M210 8v1M210 36v1M211 7v1M212 7v1M212 34v1"/><path stroke="#12fe01" d="M1 36v1M2 38v1M5 37v1M7 9v1M7 35v1M8 9v1M8 36v1M9 37v2M10 38v1M11 9v1M11 35v1M11 37v1M12 36v2M13 8v1M16 34v4M17 38v2M20 37v1M21 39v1M23 8v1M23 37v2M25 39v1M26 38v1M27 39v1M28 38v1M31 38v2M32 38v1M33 39v1M35 38v1M38 39v1M39 7v1M40 38v1M41 9v1M43 38v2M45 37v2M47 8v1M47 39v1M48 37v3M50 37v1M52 39v1M53 38v1M55 37v1M57 8v1M57 36v1M58 39v1M59 8v1M60 38v1M62 37v1M63 37v1M64 8v1M66 39v1M68 36v4M69 35v3M70 38v1M71 38v1M72 8v1M72 38v1M76 9v1M76 37v1M76 39v1M78 36v1M79 38v1M80 38v1M81 38v1M82 8v1M83 38v1M84 36v2M85 38v1M86 39v1M88 39v1M90 8v1M91 8v1M91 38v1M92 38v1M94 38v1M95 39v1M96 9v1M98 8v1M98 39v1M101 36v2M101 39v1M102 39v1M103 8v1M103 38v1M104 36v1M105 38v1M106 8v1M106 38v2M108 38v2M109 36v1M112 39v1M113 8v1M114 8v1M114 36v1M117 37v3M118 36v1M119 37v1M120 8v1M120 38v1M121 8v1M123 38v1M124 36v1M125 39v1M126 8v1M127 35v3M129 38v1M130 8v1M131 9v1M132 8v1M134 37v1M136 39v1M137 37v3M138 8v1M138 36v1M139 9v1M139 37v1M140 37v1M141 38v1M142 39v1M143 38v1M144 35v1M145 9v1M145 36v1M146 36v2M147 8v1M147 39v1M148 8v1M148 39v1M149 8v1M151 36v1M152 39v1M155 35v1M157 39v1M158 35v1M160 37v1M162 38v1M163 33v1M164 37v2M165 36v1M166 33v1M167 8v1M168 34v1M169 33v1M171 36v2M172 33v1M174 33v1M174 37v1M175 34v1M175 38v2M177 36v1M178 34v1M179 33v1M181 7v1M181 36v1M182 34v1M182 38v1M183 35v3M184 39v1M186 34v1M186 38v1M187 34v1M187 37v2M188 36v1M189 38v2M190 8v1M190 35v3M191 8v1M191 38v2M192 36v1M193 8v1M193 38v1M194 36v1M194 38v1M195 34v1M196 8v1M196 38v2M197 36v4M198 36v3M199 38v1M200 35v1M201 37v1M203 35v1M204 37v2M206 35v4M208 8v1M209 34v5M211 34v1"/><path stroke="#32ff00" d="M3 38v1M4 39v1M6 35v1M8 35v1M8 37v1M9 36v1M9 39v1M10 34v4M11 38v1M14 36v1M15 39v1M16 33v1M17 37v1M19 38v2M20 9v1M22 39v1M23 39v1M24 38v1M25 9v1M25 38v1M26 9v1M26 37v1M27 38v1M28 8v1M29 36v2M30 8v1M31 37v1M35 36v2M36 36v2M37 8v1M37 38v2M38 38v1M39 35v4M40 37v1M41 38v1M42 39v1M43 37v1M44 9v1M44 35v1M45 36v1M46 39v1M47 38v1M48 36v1M49 39v1M50 36v1M51 9v1M52 9v1M53 9v1M53 36v2M54 38v2M55 36v1M58 38v1M59 37v1M60 36v2M61 37v1M62 36v1M63 8v1M64 37v3M65 36v1M66 8v1M66 38v1M67 39v1M68 9v1M70 37v1M71 37v1M72 37v1M73 37v1M74 38v1M76 36v1M77 37v1M78 35v1M78 39v1M80 37v1M81 37v1M84 9v1M84 35v1M84 38v2M85 37v1M87 37v1M89 37v1M90 36v3M91 39v1M92 37v1M93 37v1M94 37v1M95 36v3M96 36v1M97 9v1M97 39v1M99 9v1M100 35v5M101 9v1M101 35v1M101 38v1M102 9v1M102 38v1M103 37v1M103 39v1M104 35v1M105 37v1M105 39v1M106 37v1M107 38v1M108 37v1M110 39v1M112 36v1M113 37v1M115 35v1M119 36v1M121 37v1M122 8v1M122 38v2M123 37v1M124 35v1M125 37v2M127 9v1M128 9v1M128 37v1M131 38v1M132 38v2M134 36v1M134 38v1M135 37v1M138 37v1M139 35v1M141 37v1M143 37v1M145 35v1M146 9v1M146 35v1M148 38v1M149 39v1M150 8v1M150 36v3M151 35v1M152 34v5M153 38v2M154 36v4M156 36v4M157 34v1M158 34v1M159 37v2M160 36v1M160 38v1M161 38v1M162 37v1M164 36v1M164 39v1M165 37v1M167 35v1M170 36v1M171 35v1M172 32v1M172 34v1M172 36v1M173 9v1M173 34v1M174 9v1M175 33v1M176 34v1M177 34v2M178 33v1M179 32v1M180 8v1M180 35v5M181 35v1M182 9v1M182 33v1M182 35v1M182 37v1M183 34v1M183 38v2M184 38v1M185 34v1M186 33v1M187 33v1M189 36v2M190 34v1M191 36v2M193 37v1M194 33v1M194 37v1M196 34v4M197 35v1M198 8v1M198 35v1M199 9v1M199 37v1M200 34v1M201 36v1M202 36v1M203 7v1M204 36v1M205 37v1M206 34v1M207 37v1M208 36v1M209 33v1M210 35v1M212 33v1"/><path stroke="#54ff00" d="M2 36v2M3 36v2M4 38v1M5 9v1M5 36v1M7 34v1M8 38v2M10 9v1M10 33v1M11 33v2M11 39v1M12 9v1M12 35v1M15 8v1M15 38v1M17 9v1M19 36v2M20 36v1M21 8v1M22 9v1M23 36v1M24 36v2M24 39v1M25 37v1M27 37v1M28 37v1M29 8v1M29 35v1M30 37v1M32 36v2M33 9v1M33 38v1M35 9v1M35 35v1M36 9v1M36 38v2M37 37v1M40 35v2M41 36v2M42 36v3M43 36v1M48 35v1M49 37v2M50 9v1M51 39v1M52 38v1M53 35v1M54 37v1M56 9v1M56 36v2M58 37v1M60 35v1M61 35v2M63 36v1M65 35v1M68 35v1M69 34v1M71 33v4M72 36v1M75 9v1M75 35v1M75 38v2M77 9v1M79 37v1M80 36v1M82 38v2M83 37v1M85 34v3M86 38v1M87 9v1M88 38v1M89 36v1M89 38v2M90 35v1M90 39v1M91 35v1M92 36v1M93 9v1M93 36v1M97 38v1M98 38v1M99 39v1M100 9v1M102 37v1M103 36v1M104 34v1M105 36v1M106 36v1M107 35v3M108 36v1M110 9v1M110 37v2M113 36v1M114 35v1M120 37v1M121 36v1M121 38v2M122 37v1M123 36v1M124 34v1M125 36v1M126 36v4M127 34v1M128 36v1M129 37v1M130 39v1M131 35v3M132 36v2M133 39v1M134 39v1M135 36v1M136 38v1M137 9v1M137 36v1M138 35v1M138 38v2M139 34v1M139 36v1M140 36v1M141 36v1M142 38v1M143 36v1M147 38v1M148 37v1M149 37v2M150 35v1M152 33v1M155 34v1M159 8v1M159 34v1M159 36v1M159 39v1M160 35v1M161 9v1M161 36v2M162 34v3M163 32v1M165 9v1M165 35v1M165 38v1M168 33v1M169 9v1M172 9v1M172 35v1M173 33v1M174 38v1M175 32v1M177 33v1M178 9v1M178 32v1M179 9v1M181 34v1M182 32v1M182 36v1M183 33v1M184 9v1M184 33v5M185 9v1M188 34v2M189 35v1M190 33v1M191 34v2M193 34v3M195 33v1M196 33v1M197 9v1M197 33v2M199 36v1M200 33v1M201 34v2M202 35v1M203 9v1M203 34v1M204 35v1M205 9v1M205 33v4M207 35v2M209 32v1M210 9v1M211 32v2"/><path stroke="#73ff00" d="M0 9v1M0 34v2M0 39v1M1 9v1M1 35v1M2 9v1M3 9v1M3 35v1M6 34v1M8 34v1M9 35v1M11 32v1M13 38v2M17 36v1M18 9v1M18 36v4M19 9v1M19 35v1M20 35v1M21 38v1M22 35v4M25 35v2M26 36v1M27 9v1M27 36v1M29 38v2M31 36v1M32 35v1M33 37v1M34 9v1M34 36v4M35 34v1M36 35v1M37 36v1M38 9v1M38 37v1M39 34v1M40 9v1M40 34v1M41 35v1M42 9v1M42 35v1M43 9v1M43 35v1M44 34v1M46 38v1M47 37v1M49 36v1M50 35v1M51 37v2M52 37v1M54 36v1M55 35v1M56 35v1M56 38v1M57 35v1M59 36v1M60 34v1M61 9v1M62 35v1M64 36v1M65 9v1M65 34v1M66 37v1M67 38v1M71 32v1M72 35v1M73 36v1M74 37v1M75 36v2M76 35v1M77 36v1M78 34v1M79 34v1M80 35v1M81 36v1M82 34v4M83 34v3M84 34v1M85 9v1M85 33v1M86 9v1M86 36v2M92 9v1M94 36v1M95 9v1M95 35v1M96 35v1M97 37v1M98 35v3M99 38v1M100 34v1M101 34v1M102 35v2M103 9v1M103 35v1M104 9v1M104 33v1M105 9v1M106 35v1M107 9v1M107 34v1M108 9v1M108 35v1M109 9v1M110 36v1M111 39v1M112 35v1M113 35v1M115 34v1M116 37v3M117 36v1M118 9v1M118 35v1M119 35v1M120 36v1M121 35v1M124 9v1M126 35v1M128 35v1M130 38v1M131 34v1M133 38v1M134 35v1M136 37v1M140 9v1M141 35v1M142 35v3M143 9v1M144 34v1M146 34v1M147 36v2M148 34v3M149 35v2M150 34v1M151 9v1M151 34v1M153 37v1M154 35v1M156 35v1M157 33v1M158 33v1M159 35v1M160 39v1M161 34v2M162 33v1M164 9v1M164 35v1M166 9v1M166 32v1M169 32v1M170 9v1M170 35v1M171 34v1M173 32v1M174 32v1M174 39v1M179 31v1M180 34v1M181 33v1M184 32v1M188 33v1M189 34v1M190 32v1M191 33v1M192 35v1M193 33v1M195 32v1M197 32v1M198 34v1M199 35v1M201 9v1M201 33v1M202 34v1M203 33v1M204 9v1M204 34v1M205 32v1M206 33v1M207 9v1M207 34v1M208 35v1M209 31v1M212 32v1"/><path stroke="#91ff00" d="M0 36v3M2 35v1M3 34v1M4 9v1M4 37v1M5 35v1M9 9v1M12 34v1M13 9v1M13 35v3M14 35v1M15 37v1M16 9v1M17 35v1M20 34v1M22 34v1M24 35v1M27 34v2M28 36v1M29 34v1M30 36v1M31 9v1M32 34v1M33 36v1M35 33v1M37 35v1M41 33v2M43 34v1M45 9v1M45 35v1M46 9v1M46 36v2M47 36v1M48 9v1M48 34v1M49 9v1M50 34v1M51 34v3M52 36v1M53 34v1M54 9v1M54 35v1M55 9v1M56 39v1M57 9v1M58 9v1M58 36v1M59 9v1M60 9v1M61 34v1M62 9v1M63 35v1M66 9v1M67 37v1M68 33v2M70 9v1M70 36v1M73 9v1M73 35v1M74 9v1M75 34v1M78 9v1M79 9v1M79 33v1M79 35v2M80 9v1M81 9v1M81 35v1M83 33v1M86 35v1M87 36v1M88 34v4M89 9v1M89 35v1M90 34v1M91 34v1M93 35v1M97 36v1M98 9v1M98 34v1M99 36v2M102 34v1M103 33v2M106 9v1M106 34v1M108 34v1M109 35v1M111 9v1M111 38v1M114 34v1M115 9v1M116 9v1M116 36v1M117 9v1M119 9v1M122 36v1M123 35v1M124 33v1M125 9v1M125 35v1M126 34v1M129 9v1M129 36v1M130 9v1M130 36v2M131 33v1M132 9v1M132 35v1M133 9v1M133 35v3M134 9v1M135 9v1M135 35v1M136 9v1M136 36v1M138 34v1M139 33v1M140 35v1M142 9v1M143 35v1M144 9v1M145 34v1M146 33v1M147 9v1M147 35v1M148 33v1M149 34v1M151 33v1M152 9v1M152 32v1M153 9v1M153 32v2M153 36v1M157 32v1M159 33v1M160 34v1M161 33v1M162 32v1M163 9v1M163 31v1M164 34v1M165 34v1M165 39v1M167 34v1M168 9v1M168 32v1M170 34v1M171 9v1M173 31v1M175 9v1M176 33v1M177 9v1M177 32v1M178 31v1M180 33v1M181 32v1M182 31v1M183 9v1M183 32v1M185 33v1M186 32v1M187 9v1M187 32v1M188 32v1M189 33v1M191 32v1M192 9v1M192 34v1M193 32v1M194 32v1M195 31v1M196 32v1M199 31v1M200 9v1M200 32v1M201 32v1M202 8v1M202 33v1M203 31v2M205 31v1M206 9v1M207 33v1M208 33v2M209 9v1M210 34v1M211 8v1M211 31v1"/><path stroke="#a9ff00" d="M0 33v1M4 36v1M6 33v1M7 33v1M8 33v1M9 34v1M10 32v1M11 31v1M13 34v1M14 9v1M16 32v1M18 35v1M19 34v1M20 33v1M21 33v5M22 33v1M23 9v1M23 35v1M24 9v1M24 34v1M25 34v1M31 35v1M32 8v1M33 34v2M34 35v1M36 33v2M37 34v1M38 36v1M39 8v1M40 33v1M41 32v1M43 33v1M46 34v2M49 35v1M52 35v1M54 34v1M55 34v1M56 34v1M57 34v1M58 35v1M59 35v1M60 33v1M62 33v2M64 9v1M65 33v1M66 36v1M67 9v1M67 36v1M68 32v1M69 33v1M70 35v1M71 9v1M72 9v1M72 33v2M73 34v1M74 36v1M76 34v1M77 34v2M78 33v1M80 34v1M81 34v1M82 9v1M83 9v1M87 35v1M88 9v1M89 34v1M90 9v1M90 33v1M92 35v1M94 10v1M94 35v1M95 34v1M99 35v1M101 33v1M102 33v1M103 32v1M104 32v1M105 35v1M106 33v1M110 35v1M111 36v2M112 9v1M112 34v1M116 35v1M117 35v1M119 34v1M120 9v1M120 35v1M121 34v1M122 32v1M122 35v1M123 9v1M123 34v1M127 33v1M128 34v1M130 35v1M131 32v1M132 33v2M133 33v2M135 34v1M136 35v1M137 35v1M138 9v1M140 33v2M141 9v1M141 34v1M142 34v1M143 34v1M144 33v1M148 9v1M148 32v1M149 9v1M149 32v2M150 33v1M151 32v1M153 34v2M154 9v1M154 33v2M156 33v2M157 9v1M158 9v1M158 32v1M162 9v1M162 31v1M165 31v3M169 31v1M172 31v1M175 31v1M180 9v1M181 31v1M186 9v1M189 9v1M189 32v1M190 31v1M194 9v1M195 9v1M195 30v1M197 31v1M198 33v1M199 30v1M199 32v3M201 31v1M202 32v1M204 33v1M206 32v1M212 31v1"/><path stroke="#c0ff00" d="M1 34v1M2 34v1M3 33v1M4 35v1M5 34v1M6 10v1M6 32v1M8 32v1M12 33v1M14 33v2M15 36v1M17 34v1M21 32v1M22 32v1M26 35v1M27 33v1M28 9v1M28 35v1M30 32v4M31 34v1M32 33v1M33 33v1M35 32v1M36 32v1M37 9v1M37 33v1M38 35v1M39 33v1M41 31v1M44 33v1M46 32v2M47 9v1M47 35v1M48 33v1M51 33v1M52 34v1M53 33v1M55 32v2M57 33v1M58 34v1M62 32v1M63 9v1M63 34v1M64 35v1M66 35v1M67 35v1M68 31v1M69 10v1M70 34v1M71 31v1M72 32v1M73 33v1M74 35v1M82 33v1M84 33v1M85 32v1M86 34v1M87 34v1M88 33v1M89 33v1M90 32v1M91 9v1M91 33v1M96 34v1M98 33v1M100 33v1M101 32v1M105 33v2M106 32v1M107 33v1M108 33v1M109 34v1M113 9v1M113 34v1M114 9v1M114 33v1M115 33v1M116 34v1M118 34v1M121 9v1M122 9v1M122 34v1M123 33v1M124 32v1M126 33v1M128 33v1M129 35v1M130 34v1M131 31v1M133 32v1M134 34v1M135 32v2M136 34v1M138 32v2M139 32v1M140 32v1M142 33v1M143 33v1M145 10v1M146 32v1M147 34v1M152 31v1M153 31v1M154 32v1M155 9v1M155 33v1M156 9v1M160 8v1M161 32v1M163 29v2M164 33v1M166 31v1M167 31v1M168 31v1M170 33v1M171 33v1M174 31v1M176 32v1M179 30v1M180 32v1M181 8v1M184 31v1M188 9v1M192 33v1M193 9v1M193 31v1M198 9v1M198 32v1M200 31v1M201 30v1M203 30v1M204 32v1M208 9v1M208 32v1M210 33v1M211 30v1M212 8v1M212 30v1"/><path stroke="#d7ff00" d="M2 32v2M7 10v1M7 32v1M10 10v1M11 10v1M12 32v1M13 33v1M14 32v1M15 9v1M15 34v2M18 33v2M19 33v1M20 10v1M20 32v1M23 32v1M23 34v1M24 33v1M26 34v1M29 9v1M29 33v1M32 32v1M34 34v1M36 31v1M40 32v1M41 10v1M42 34v1M43 32v1M44 10v1M45 34v1M49 34v1M50 33v1M53 10v1M54 33v1M56 33v1M58 33v1M59 34v1M60 32v1M61 33v1M63 33v1M66 33v2M67 34v1M69 32v1M70 32v2M73 32v1M74 34v1M75 33v1M76 10v1M76 33v1M77 33v1M79 32v1M81 33v1M83 32v1M84 10v1M89 32v1M90 31v1M91 32v1M92 33v2M93 34v1M94 34v1M96 10v1M97 10v1M97 35v1M99 34v1M101 10v1M102 10v1M103 30v2M108 10v1M108 32v1M109 33v1M110 32v3M111 35v1M112 33v1M113 33v1M117 34v1M120 34v1M121 33v1M122 31v1M122 33v1M123 32v1M125 34v1M126 9v1M127 10v1M129 34v1M130 32v2M131 10v1M131 30v1M133 31v1M136 32v2M137 34v1M139 10v1M140 31v1M143 31v2M144 32v1M145 33v1M146 31v1M147 33v1M149 31v1M150 9v1M150 32v1M154 31v1M156 32v1M157 31v1M158 31v1M159 32v1M160 33v1M161 31v1M163 27v2M164 32v1M165 30v1M167 9v1M167 30v1M167 32v2M170 32v1M173 30v1M175 30v1M176 9v1M176 31v1M177 31v1M178 30v1M180 31v1M183 31v1M185 32v1M186 31v1M187 31v1M188 31v1M189 31v1M190 9v1M190 30v1M191 9v1M191 31v1M192 32v1M194 31v1M196 9v1M198 31v1M201 29v1M202 31v1M204 31v1M205 30v1M206 31v1M207 32v1M209 30v1M210 31v2"/><path stroke="#ebff00" d="M0 32v1M1 33v1M2 31v1M3 32v1M5 33v1M6 31v1M8 10v1M8 31v1M9 33v1M11 30v1M12 10v1M14 30v2M15 31v3M16 28v2M16 31v1M17 10v1M17 30v2M17 33v1M18 32v1M19 31v2M21 9v1M22 10v1M23 31v1M23 33v1M25 10v1M26 10v1M26 33v1M27 32v1M28 34v1M30 9v1M30 31v1M31 33v1M32 31v1M33 10v1M33 32v1M34 33v1M35 10v1M35 31v1M36 10v1M38 34v1M39 31v2M40 31v1M41 30v1M43 31v1M44 32v1M46 10v1M46 31v1M47 34v1M48 32v1M49 33v1M50 10v1M50 29v1M51 10v1M51 32v1M52 10v1M52 29v5M55 31v1M56 32v1M57 32v1M59 10v1M60 31v1M62 31v1M64 32v1M64 34v1M65 32v1M66 32v1M67 33v1M68 30v1M72 31v1M74 33v1M80 33v1M81 30v1M86 10v1M86 31v3M87 10v1M87 33v1M89 31v1M91 30v2M92 32v1M95 33v1M99 10v1M100 32v1M101 31v1M102 32v1M103 29v1M104 10v1M104 31v1M105 32v1M106 31v1M109 32v1M110 10v1M112 32v1M113 32v1M114 32v1M116 33v1M117 29v1M117 33v1M118 10v1M118 32v2M119 33v1M124 10v1M124 31v1M125 33v1M126 32v1M128 32v1M129 33v1M131 29v1M132 32v1M133 30v1M134 33v1M135 31v1M136 31v1M138 31v1M139 31v1M141 33v1M145 32v1M146 30v1M148 31v1M150 31v1M151 31v1M152 30v1M156 31v1M158 30v1M161 30v1M162 30v1M163 10v1M164 10v1M164 31v1M166 30v1M169 29v2M171 32v1M172 30v1M174 10v1M176 30v1M181 30v1M182 30v1M184 30v1M185 31v1M186 28v1M193 28v3M195 29v1M199 29v1M200 30v1M203 10v1M203 29v1M206 27v1M207 31v1M212 29v1"/><path stroke="#feff00" d="M0 10v1M1 26v4M1 31v2M2 30v1M3 10v1M3 31v1M4 34v1M5 10v1M6 30v1M7 31v1M9 10v1M10 31v1M12 31v1M14 29v1M15 30v1M16 10v1M16 30v1M17 29v1M17 32v1M18 10v1M18 31v1M19 10v1M19 30v1M20 31v1M21 31v1M22 31v1M24 32v1M25 33v1M26 32v1M28 31v3M30 28v3M31 10v1M32 30v1M34 10v1M34 30v3M36 30v1M37 32v1M38 10v1M38 32v2M39 9v1M39 30v1M41 29v1M42 33v1M43 10v1M44 30v2M46 30v1M47 32v2M48 10v1M48 31v1M49 10v1M49 32v1M50 30v1M50 32v1M53 32v1M55 10v1M56 10v1M56 31v1M58 32v1M59 31v3M60 10v1M60 28v1M60 30v1M61 27v1M61 32v1M62 10v1M62 28v3M63 32v1M64 33v1M67 32v1M68 10v1M70 10v1M70 31v1M71 30v1M72 10v1M73 10v1M73 31v1M74 32v1M75 10v1M75 29v1M75 32v1M76 32v1M77 10v1M77 30v3M78 32v1M79 31v1M81 29v1M81 31v2M83 31v1M84 32v1M86 30v1M87 32v1M88 32v1M89 10v1M90 30v1M92 10v1M92 30v2M93 33v1M94 32v2M95 10v1M96 33v1M97 32v1M98 32v1M99 33v1M100 10v1M100 31v1M105 10v1M107 10v1M107 32v1M108 31v1M109 10v1M109 31v1M110 31v1M111 10v1M111 34v1M112 10v1M114 10v1M114 30v2M115 32v1M117 30v1M118 30v2M119 31v2M120 33v1M121 32v1M122 30v1M123 31v1M125 10v1M125 32v1M127 27v3M127 32v1M128 10v1M128 31v1M129 10v1M129 32v1M130 10v1M130 30v2M134 10v1M135 10v1M135 30v1M136 10v1M137 33v1M140 10v1M140 30v1M141 32v1M142 32v1M143 10v1M143 30v1M144 31v1M145 30v2M147 32v1M149 30v1M150 30v1M153 10v1M153 30v1M154 29v2M155 32v1M157 30v1M158 29v1M159 9v1M160 32v1M161 10v1M163 26v1M164 29v2M166 27v2M167 29v1M168 30v1M169 10v1M169 28v1M170 10v1M170 31v1M171 31v1M172 10v1M173 29v1M174 30v1M177 30v1M178 10v1M179 10v1M179 29v1M181 29v1M182 10v1M185 10v1M185 30v1M186 27v1M186 29v2M187 10v1M187 30v1M189 29v2M192 31v1M196 31v1M197 30v1M199 10v1M199 28v1M201 10v1M201 28v1M202 30v1M206 26v1M206 28v1M207 30v1M208 31v1M210 10v1M210 30v1M211 29v1"/><path stroke="#ffeb00" d="M1 10v1M1 25v1M1 30v1M2 10v1M3 28v3M4 10v1M9 30v3M11 29v1M12 30v1M13 10v1M13 32v1M14 10v1M14 28v1M15 29v1M16 27v1M18 30v1M19 28v2M23 10v1M23 29v2M25 29v4M26 31v1M27 10v1M27 31v1M28 30v1M29 30v3M32 29v1M34 29v1M35 27v2M35 30v1M37 30v2M38 31v1M40 10v1M40 29v2M42 10v1M42 30v3M43 30v1M44 28v2M45 10v1M45 33v1M46 27v3M47 10v1M47 31v1M48 30v1M49 31v1M50 28v1M50 31v1M51 31v1M52 28v1M53 30v2M54 10v1M54 32v1M55 30v1M56 30v1M57 31v1M58 10v1M58 30v2M59 30v1M60 27v1M60 29v1M61 10v1M61 28v1M62 27v1M63 10v1M63 31v1M64 31v1M65 10v1M65 31v1M66 10v1M66 31v1M68 29v1M69 31v1M70 29v2M71 10v1M71 28v2M72 30v1M74 10v1M74 29v3M75 28v1M75 30v2M76 31v1M77 29v1M78 10v1M79 10v1M81 10v1M82 10v1M82 32v1M83 10v1M85 10v1M85 31v1M88 31v1M89 30v1M90 10v1M91 29v1M93 10v1M93 30v3M94 31v1M95 32v1M96 11v1M96 29v4M97 31v1M97 33v2M99 31v2M100 30v1M101 30v1M102 28v4M103 10v1M103 28v1M104 27v4M105 30v2M106 30v1M111 31v2M112 31v1M113 31v1M114 29v1M115 10v1M115 29v2M116 32v1M117 28v1M117 31v2M118 29v1M119 10v1M119 29v2M120 30v1M120 32v1M121 10v1M121 30v2M124 30v1M125 31v1M126 31v1M127 30v2M128 30v1M129 31v1M130 29v1M132 10v1M132 31v1M133 10v1M134 32v1M135 29v1M136 30v1M137 10v1M137 32v1M138 30v1M140 29v1M141 31v1M142 10v1M142 30v2M144 10v1M144 29v2M145 11v1M145 29v1M146 10v1M146 29v1M147 10v1M148 10v1M148 30v1M149 10v1M149 27v3M150 10v1M150 29v1M151 30v1M152 29v1M153 29v1M155 31v1M156 30v1M158 10v1M158 28v1M160 30v1M161 29v1M162 29v1M164 28v1M165 10v1M165 29v1M166 10v1M166 26v1M166 29v1M168 10v1M168 28v2M169 27v1M171 30v1M172 29v1M173 10v1M173 28v1M175 29v1M176 29v1M177 10v1M177 28v2M178 29v1M180 10v1M180 30v1M181 9v1M181 27v2M182 29v1M183 10v1M183 30v1M184 10v1M184 27v3M185 28v2M186 10v1M186 26v1M187 28v2M188 30v1M190 10v1M190 29v1M191 26v3M191 30v1M192 30v1M194 10v1M194 30v1M195 10v1M195 28v1M196 28v1M198 30v1M200 29v1M204 30v1M205 10v1M205 29v1M206 30v1M207 10v1M210 28v2M211 9v1M211 28v1M212 9v1M212 28v1"/><path stroke="#ffd100" d="M0 27v2M0 31v1M2 29v1M3 27v1M4 29v3M5 32v1M6 11v1M6 29v1M7 29v2M8 30v1M12 29v1M14 27v1M15 10v1M15 28v1M16 26v1M17 28v1M18 29v1M20 11v1M20 30v1M21 30v1M22 29v2M23 28v1M24 10v1M24 29v3M26 30v1M28 29v1M29 10v1M29 29v1M30 27v1M31 32v1M32 9v1M33 30v2M35 26v1M35 29v1M36 29v1M37 10v1M37 29v1M38 30v1M39 10v1M39 29v1M42 29v1M43 29v1M44 27v1M47 30v1M49 30v1M50 27v1M53 29v1M54 31v1M56 29v1M57 10v1M57 29v2M59 29v1M61 26v1M61 29v1M61 31v1M62 26v1M63 30v1M64 10v1M66 29v2M67 10v1M67 31v1M68 28v1M69 27v4M70 28v1M73 30v1M74 28v1M75 27v1M76 28v1M76 30v1M78 31v1M79 30v1M80 10v1M80 31v2M81 28v1M82 31v1M83 30v1M84 29v3M85 30v1M86 29v1M87 31v1M88 10v1M88 30v1M89 28v2M90 29v1M91 10v1M91 28v1M92 29v1M93 29v1M94 11v1M95 28v4M98 10v1M98 31v1M99 30v1M102 27v1M103 27v1M104 26v1M105 29v1M106 10v1M106 29v1M107 30v2M108 30v1M109 30v1M110 30v1M111 33v1M112 30v1M113 10v1M115 31v1M116 10v1M116 31v1M117 10v1M117 27v1M118 28v1M119 24v1M119 27v2M120 10v1M120 29v1M120 31v1M122 10v1M123 10v1M123 30v1M126 10v1M126 30v1M128 29v1M129 29v2M131 28v1M132 30v1M133 29v1M134 29v3M135 28v1M136 29v1M137 31v1M139 11v1M139 30v1M140 27v2M141 10v1M141 30v1M142 29v1M143 29v1M144 28v1M145 28v1M147 31v1M149 26v1M150 28v1M151 10v1M151 29v1M152 10v1M152 28v1M153 28v1M154 10v1M154 28v1M155 30v1M156 29v1M157 10v1M157 29v1M159 31v1M160 29v1M160 31v1M161 28v1M162 10v1M162 28v1M163 11v1M163 25v1M164 11v1M164 27v1M165 28v1M167 28v1M168 27v1M170 30v1M171 10v1M171 29v1M172 28v1M174 28v2M175 10v1M176 27v2M177 27v1M179 28v1M181 10v1M181 26v1M182 28v1M185 27v1M187 27v1M188 29v1M189 10v1M189 28v1M190 28v1M191 29v1M192 10v1M193 10v1M193 27v1M196 27v1M196 29v1M197 10v1M199 27v1M200 10v1M201 27v1M202 9v1M202 28v2M203 28v1M204 10v1M204 27v3M205 26v3M206 10v1M206 25v1M206 29v1M207 29v1M208 10v1M208 30v1M209 10v1M209 29v1M211 27v1M212 27v1"/><path stroke="#ffb800" d="M0 24v1M0 26v1M0 29v2M4 28v1M4 32v2M5 29v1M5 31v1M7 28v1M8 28v2M9 29v1M10 11v1M10 30v1M11 11v1M11 28v1M12 11v1M13 30v2M14 26v1M15 25v3M16 25v1M18 28v1M19 27v1M21 10v1M21 29v1M22 28v1M25 28v1M26 29v1M27 30v1M28 10v1M28 28v1M30 10v1M30 26v1M32 10v1M32 28v1M33 11v1M33 29v1M34 11v1M34 28v1M35 11v1M36 27v2M40 28v1M41 11v1M41 28v1M44 11v1M44 26v1M45 26v2M45 32v1M46 26v1M47 27v3M48 29v1M49 29v1M50 11v1M50 26v1M51 30v1M52 27v1M53 11v1M53 28v1M54 30v1M55 29v1M57 28v1M58 29v1M59 11v1M59 28v1M60 26v1M61 30v1M62 11v1M63 28v2M64 30v1M65 30v1M66 28v1M67 30v1M69 11v1M70 11v1M72 29v1M73 29v1M76 11v1M76 27v1M76 29v1M77 28v1M78 30v1M79 27v3M80 30v1M81 27v1M82 29v2M84 11v1M84 27v2M85 28v2M86 11v1M87 30v1M88 28v2M89 27v1M90 28v1M94 28v3M95 27v1M96 28v1M97 11v1M97 30v1M100 29v1M101 11v1M101 29v1M102 11v1M102 26v1M104 11v1M107 29v1M108 11v1M109 11v1M111 30v1M112 29v1M113 30v1M114 28v1M115 28v1M116 30v1M118 27v1M119 25v2M120 28v1M121 29v1M124 11v1M125 30v1M127 26v1M129 11v1M129 28v1M130 28v1M131 11v1M132 29v1M134 28v1M135 27v1M137 30v1M138 10v1M138 28v2M141 28v2M142 28v1M148 29v1M151 28v1M152 26v2M154 26v2M155 10v1M155 29v1M156 28v1M158 27v1M162 27v1M163 24v1M164 25v2M167 10v1M167 27v1M169 26v1M170 29v1M171 28v1M172 11v1M172 27v1M174 27v1M175 28v1M176 10v1M177 26v1M178 28v1M182 27v1M183 28v2M184 26v1M188 10v1M190 11v1M191 10v1M191 25v1M192 27v3M194 28v2M195 27v1M196 10v1M196 30v1M197 29v1M198 29v1M199 11v1M200 28v1M202 27v1M203 11v1M204 26v1M205 25v1M207 26v3M208 28v2M210 27v1M211 26v1M212 10v1"/><path stroke="#ff9f00" d="M0 11v1M0 23v1M0 25v1M1 24v1M2 26v1M2 28v1M3 11v1M5 28v1M5 30v1M6 28v1M7 11v1M7 27v1M8 27v1M10 29v1M11 27v1M13 29v1M14 25v1M15 24v1M16 11v1M17 11v1M19 11v1M20 29v1M21 28v1M23 11v1M24 28v1M25 11v1M27 11v1M27 29v1M28 27v1M29 28v1M30 25v1M31 11v1M31 27v2M31 31v1M32 27v1M33 28v1M36 11v1M37 28v1M39 28v1M40 11v1M43 28v1M45 28v4M46 11v1M46 25v1M47 11v1M47 26v1M48 11v1M48 27v2M49 28v1M51 11v1M52 26v1M53 27v1M54 29v1M55 11v1M56 11v1M60 23v3M61 11v1M61 25v1M62 25v1M63 27v1M67 29v1M68 27v1M71 27v1M72 11v1M73 11v1M74 25v3M75 11v1M75 26v1M76 26v1M77 25v3M78 29v1M79 11v1M79 26v1M80 29v1M81 26v1M82 27v2M83 28v2M85 27v1M87 11v1M87 29v1M89 11v1M89 26v1M90 11v1M90 27v1M91 27v1M92 11v1M92 28v1M93 28v1M94 26v2M95 11v1M97 29v1M98 30v1M99 29v1M103 26v1M104 25v1M105 11v1M105 28v1M106 26v3M107 11v1M108 29v1M109 29v1M110 29v1M111 11v1M111 28v2M112 11v1M112 28v1M113 29v1M114 11v1M116 29v1M118 11v1M118 26v1M119 23v1M120 27v1M121 11v1M122 29v1M123 26v4M124 29v1M125 29v1M126 11v1M126 29v1M127 11v1M128 28v1M129 27v1M132 11v1M132 28v1M133 28v1M134 27v1M135 26v1M136 11v1M136 28v1M138 27v1M139 27v1M139 29v1M140 11v1M140 26v1M141 27v1M142 11v1M143 11v1M143 28v1M144 11v1M146 28v1M147 30v1M148 27v2M149 25v1M150 24v4M153 11v1M153 27v1M156 10v1M156 27v1M157 28v1M158 11v1M159 10v1M159 28v3M160 9v1M160 28v1M161 11v1M161 27v1M164 24v1M165 27v1M166 25v1M168 11v1M168 26v1M169 11v1M170 28v1M171 27v1M173 27v1M174 11v1M174 26v1M176 26v1M177 25v1M178 24v1M178 27v1M179 11v1M179 27v1M180 27v3M181 25v1M182 26v1M183 11v1M183 27v1M185 26v1M186 11v1M187 11v1M187 26v1M188 28v1M190 27v1M192 26v1M193 26v1M194 11v1M194 27v1M195 11v1M196 26v1M198 10v1M198 27v2M200 27v1M201 11v1M202 10v1M203 27v1M208 27v1M209 28v1M211 10v1M212 26v1"/><path stroke="#ff8600" d="M1 11v1M2 11v1M2 25v1M2 27v1M3 26v1M4 11v1M4 27v1M5 11v1M5 27v1M6 27v1M8 11v1M9 11v1M9 28v1M10 28v1M13 11v1M13 28v1M14 11v1M14 24v1M16 24v1M17 24v1M17 27v1M18 11v1M18 27v1M20 28v1M22 11v1M22 27v1M23 27v1M24 11v1M24 27v1M26 11v1M29 23v5M30 24v1M31 24v3M31 29v2M32 11v1M32 25v2M33 27v1M34 27v1M35 25v1M36 26v1M38 11v1M38 29v1M39 11v1M42 28v1M43 11v1M44 25v1M45 11v1M45 25v1M46 24v1M48 26v1M49 11v1M49 27v1M50 25v1M52 11v1M52 25v1M54 11v1M55 28v1M56 28v1M58 11v1M58 28v1M59 23v5M60 11v1M63 11v1M64 11v1M64 28v2M65 29v1M66 11v1M66 27v1M67 28v1M68 11v1M68 26v1M69 26v1M70 27v1M71 11v1M73 28v1M75 25v1M77 11v1M77 24v1M78 28v1M79 25v1M80 28v1M81 11v1M83 11v1M83 26v2M84 26v1M87 28v1M89 25v1M90 26v1M91 11v1M91 26v1M93 11v1M94 25v1M95 26v1M96 12v1M96 27v1M98 29v1M99 11v1M100 11v1M100 28v1M101 24v1M101 28v1M102 25v1M103 11v1M104 24v1M106 25v1M107 28v1M110 11v1M110 28v1M112 27v1M115 11v1M116 28v1M117 26v1M118 25v1M119 11v1M120 26v1M121 28v1M122 28v1M123 11v1M123 25v1M125 11v1M125 28v1M127 25v1M128 11v1M130 11v1M132 27v1M133 27v1M135 11v1M136 27v1M137 29v1M139 26v1M139 28v1M141 11v1M142 27v1M143 27v1M144 27v1M145 27v1M147 29v1M148 11v1M148 26v1M149 11v1M149 24v1M150 11v1M151 27v1M152 11v1M154 11v1M154 25v1M155 28v1M156 26v1M157 27v1M160 10v1M161 26v1M162 11v1M162 26v1M163 23v1M166 11v1M167 11v1M167 26v1M168 25v1M169 25v1M170 11v1M170 26v2M171 25v2M172 26v1M173 11v1M174 25v1M176 11v1M178 11v1M178 25v2M179 26v1M180 11v1M180 26v1M181 11v1M182 11v1M182 25v1M184 11v1M185 11v1M186 25v1M189 11v1M189 27v1M193 25v1M195 26v1M197 28v1M198 26v1M199 26v1M200 11v1M202 26v1M205 24v1M206 11v1M206 24v1M207 11v1M209 27v1M211 25v1M212 11v1"/><path stroke="#ff6e00" d="M0 22v1M2 24v1M4 26v1M7 26v1M8 26v1M12 28v1M14 23v1M15 11v1M15 23v1M17 25v2M18 26v1M19 26v1M20 26v2M21 11v1M21 27v1M25 27v1M26 28v1M27 28v1M28 11v1M28 26v1M29 11v1M30 11v1M31 23v1M32 24v1M33 26v1M37 11v1M37 26v2M38 28v1M39 27v1M40 27v1M42 11v1M43 27v1M44 24v1M45 23v2M46 23v1M47 25v1M48 25v1M51 26v2M51 29v1M54 28v1M57 11v1M57 27v1M60 22v1M61 23v2M63 25v2M64 25v3M65 11v1M65 28v1M67 11v1M67 27v1M72 28v1M73 26v2M74 11v1M74 24v1M78 11v1M78 27v1M80 11v1M80 26v2M81 25v1M82 11v1M82 26v1M83 25v1M86 28v1M88 11v1M88 27v1M89 24v1M90 25v1M94 24v1M97 27v2M98 11v1M98 28v1M99 28v1M101 23v1M102 24v1M104 23v1M105 25v3M108 26v3M109 27v2M111 27v1M113 11v1M113 28v1M114 27v1M117 11v1M120 24v2M121 27v1M122 11v1M122 26v2M124 28v1M125 27v1M128 27v1M131 12v1M131 27v1M132 26v1M133 11v1M133 26v1M134 11v1M134 26v1M135 23v3M136 25v2M137 11v1M137 24v5M138 26v1M142 26v1M143 26v1M145 12v1M146 11v1M147 11v1M148 24v2M151 11v1M151 26v1M152 25v1M155 27v1M156 11v1M157 11v1M158 12v1M158 26v1M159 27v1M160 11v1M163 12v1M164 12v1M164 23v1M165 11v1M165 24v3M168 24v1M170 25v1M171 11v1M171 24v1M172 12v1M173 26v1M174 24v1M175 11v1M175 27v1M176 25v1M177 11v1M177 24v1M178 23v1M179 25v1M180 24v2M181 24v1M183 26v1M184 25v1M190 12v1M190 24v3M191 24v1M192 11v1M192 24v2M193 11v1M194 26v1M195 25v1M196 11v1M197 11v1M198 11v1M198 25v1M199 12v1M200 26v1M201 26v1M202 11v1M203 25v2M204 11v1M205 11v1M207 25v1M208 11v1M209 11v1M210 11v1M210 26v1M212 12v1"/><path stroke="#ff5500" d="M0 12v1M1 23v1M5 25v2M6 12v1M6 26v1M10 12v1M11 26v1M12 12v1M13 27v1M16 23v1M17 23v1M18 25v1M19 25v1M20 12v1M20 25v1M23 26v1M24 26v1M27 27v1M28 25v1M29 22v1M31 22v1M33 25v1M34 12v1M34 26v1M35 12v1M36 25v1M38 27v1M41 27v1M43 25v1M44 23v1M46 22v1M48 24v1M49 26v1M50 12v1M51 28v1M59 12v1M59 22v1M61 12v1M61 22v1M62 12v1M62 24v1M63 24v1M65 25v3M68 25v1M69 25v1M70 12v1M71 26v1M73 25v1M75 24v1M76 25v1M79 12v1M79 24v1M80 25v1M85 11v1M85 26v1M86 27v1M87 24v1M89 23v1M90 24v1M91 25v1M92 27v1M93 27v1M94 12v1M96 26v1M100 27v1M101 25v1M101 27v1M102 23v1M103 25v1M104 12v1M105 24v1M106 11v1M106 24v1M107 27v1M108 25v1M109 12v1M109 25v2M110 27v1M111 26v1M112 26v1M114 12v1M115 27v1M116 11v1M116 27v1M117 25v1M118 24v1M119 22v1M120 11v1M120 23v1M122 25v1M123 24v1M124 26v2M125 26v1M126 28v1M129 26v1M130 27v1M131 23v1M132 22v1M133 25v1M134 25v1M136 12v1M138 11v1M139 12v1M139 25v1M140 25v1M141 26v1M144 12v1M145 13v1M147 28v1M148 23v1M149 23v1M150 12v1M150 23v1M151 24v2M152 12v1M153 12v1M153 26v1M154 12v1M155 11v1M155 26v1M157 26v1M159 11v1M160 27v1M161 12v1M161 25v1M162 12v1M162 25v1M163 22v1M165 23v1M167 25v1M168 12v1M169 24v1M170 24v1M173 12v1M173 25v1M174 12v1M174 23v1M175 23v2M177 23v1M178 12v1M179 24v1M180 23v1M183 12v1M183 25v1M185 25v1M186 12v1M187 12v2M187 25v1M188 11v1M189 12v1M189 26v1M190 23v1M191 11v1M192 12v1M192 23v1M193 24v1M194 12v1M194 25v1M195 12v1M195 24v1M196 25v1M197 27v1M199 25v1M200 25v1M201 12v1M201 22v1M203 12v1M203 24v1M204 25v1M208 26v1M209 26v1M211 11v1M211 24v1M212 25v1"/><path stroke="#ff3a00" d="M2 23v1M3 12v1M3 25v1M4 25v1M6 13v1M7 12v1M8 25v1M9 27v1M10 13v1M10 27v1M11 12v1M14 12v1M14 22v1M16 12v2M19 12v1M19 24v1M22 26v1M23 12v1M27 12v1M28 24v1M30 23v1M31 12v1M32 12v1M32 23v1M33 12v1M34 13v1M35 24v1M36 12v1M37 25v1M38 26v1M39 12v2M40 12v1M41 12v1M43 24v1M43 26v1M44 12v1M44 22v1M45 22v1M46 12v1M47 12v1M47 24v1M48 12v1M49 25v1M50 24v1M51 25v1M52 24v1M53 12v1M53 26v1M54 12v1M54 27v1M55 12v1M55 27v1M56 12v1M56 27v1M58 12v1M58 23v1M58 26v2M61 13v1M63 12v1M64 24v1M66 26v1M67 26v1M69 12v1M70 13v1M70 26v1M71 12v1M72 12v1M72 23v2M72 27v1M73 24v1M74 23v1M75 12v1M76 12v1M77 23v1M78 24v3M81 12v2M83 24v1M84 12v1M84 25v1M86 12v1M87 12v1M87 23v1M87 27v1M89 22v1M90 12v1M90 23v1M91 12v1M91 24v1M92 12v1M92 26v1M93 26v1M95 25v1M96 13v1M96 25v1M97 12v1M97 26v1M98 27v1M99 27v1M100 12v1M100 26v1M101 12v1M101 26v1M102 22v1M104 22v1M105 12v1M107 12v1M107 26v1M108 24v1M109 13v1M110 26v1M112 25v1M114 13v1M114 22v1M114 26v1M115 25v2M118 22v2M121 12v1M121 24v3M122 24v1M124 12v1M124 25v1M125 25v1M126 12v1M127 12v1M129 12v1M131 13v1M131 22v1M131 24v1M131 26v1M132 12v1M132 23v3M133 23v2M134 24v1M135 12v1M135 22v1M136 24v1M138 25v1M139 13v1M142 12v1M142 25v1M143 12v1M144 26v1M146 27v1M147 22v2M148 12v1M148 22v1M149 12v1M149 22v1M151 12v1M152 24v1M154 24v1M155 25v1M156 12v1M156 25v1M157 25v1M158 13v1M159 26v1M161 22v3M162 24v1M163 13v1M164 22v1M166 12v1M166 24v1M167 12v1M167 24v1M169 12v1M171 23v1M172 25v1M173 13v1M173 24v1M174 22v1M175 25v2M176 12v1M177 12v1M177 22v1M178 22v1M179 12v1M179 23v1M180 12v1M181 12v1M182 12v1M182 24v1M183 24v1M185 12v1M186 24v1M188 27v1M189 25v1M192 13v1M194 24v1M196 12v1M196 24v1M197 25v2M198 12v1M198 24v1M199 13v1M199 24v1M200 12v1M200 24v1M201 23v1M201 25v1M202 12v1M202 25v1M203 22v2M205 12v1M205 23v1M206 12v1M206 23v1M207 12v1M207 24v1M208 25v1M209 24v2M212 13v1"/><path stroke="#ff1800" d="M0 13v1M1 12v1M3 13v1M3 23v2M4 12v1M5 24v1M6 25v1M7 13v1M7 25v1M8 12v1M9 12v2M12 13v1M12 27v1M13 26v1M14 13v1M17 12v1M18 12v1M18 24v1M19 13v1M20 13v1M20 24v1M21 26v1M22 12v1M23 25v1M24 12v1M25 12v1M26 12v1M27 22v2M28 12v1M30 12v1M30 22v1M33 24v1M34 25v1M35 13v1M38 12v1M39 26v1M40 13v1M40 26v1M42 22v1M42 27v1M43 12v2M43 23v1M48 13v1M48 23v1M49 12v1M50 13v1M51 12v1M53 13v1M55 13v1M56 13v1M57 26v1M58 22v1M58 24v2M60 12v1M62 13v1M62 23v1M63 23v1M64 12v1M65 24v1M66 12v1M66 25v1M72 13v1M72 22v1M72 25v2M73 12v1M73 23v1M75 23v1M76 23v2M77 12v1M79 13v1M81 14v1M81 24v1M82 25v1M83 12v1M87 13v1M87 22v1M87 25v2M88 24v1M88 26v1M89 12v1M90 22v1M91 13v1M91 23v1M92 25v1M93 12v2M93 25v1M94 13v1M95 12v1M98 26v1M99 12v1M100 13v1M100 23v3M103 12v1M103 23v2M104 13v1M105 23v1M106 23v1M107 24v2M108 12v1M110 25v1M111 12v1M112 12v1M113 27v1M114 23v1M115 12v1M115 22v3M116 22v5M117 24v1M120 22v1M121 23v1M122 12v1M122 23v1M123 12v1M125 24v1M126 27v1M127 13v1M127 24v1M128 26v1M130 26v1M131 25v1M133 12v1M133 22v1M136 13v1M137 23v1M138 24v1M139 24v1M140 12v1M141 12v1M141 25v1M142 13v1M143 25v1M144 13v1M145 26v1M147 24v1M147 27v1M149 13v1M150 13v1M151 13v1M151 23v1M152 13v1M153 13v1M154 13v1M155 12v2M157 12v1M157 24v1M158 25v1M159 25v1M160 12v1M161 13v1M162 13v1M162 23v1M165 12v1M165 22v1M168 23v1M169 23v1M170 23v1M171 12v1M172 13v1M172 23v2M173 22v2M174 13v1M175 12v1M175 22v1M176 24v1M177 13v1M178 13v1M179 13v1M179 22v1M181 23v1M183 13v1M184 12v1M184 24v1M185 24v1M186 13v1M187 14v1M187 24v1M189 24v1M190 13v1M190 22v1M191 12v1M191 23v1M192 22v1M193 12v1M193 23v1M195 23v1M196 23v1M197 12v1M201 13v1M201 24v1M202 24v1M204 24v1M208 12v1M208 24v1M209 12v1M209 23v1M210 12v1M210 25v1M211 12v1M212 24v1"/><path stroke="#f70005" d="M1 13v1M1 22v1M2 12v2M4 13v1M4 24v1M5 12v1M6 14v1M8 13v1M9 26v1M10 14v1M11 13v1M11 25v1M13 12v1M13 23v3M15 22v1M16 14v1M16 22v1M17 13v1M18 13v1M21 12v1M21 25v1M22 13v1M23 13v1M24 25v1M25 22v1M25 26v1M26 27v1M27 13v1M27 24v1M27 26v1M28 13v1M28 23v1M29 12v1M31 13v1M32 13v1M33 13v1M34 24v1M36 13v1M36 24v1M37 12v1M38 13v1M40 14v1M42 12v1M42 23v1M43 22v1M44 13v1M45 12v1M46 13v1M47 13v1M47 23v1M49 24v1M51 13v1M51 24v1M52 12v1M53 25v1M54 13v1M54 26v1M56 14v1M57 22v2M58 13v1M59 13v1M60 13v1M60 21v1M63 13v1M65 12v2M66 13v1M68 12v1M69 24v1M71 13v1M73 13v1M74 12v1M74 22v1M75 13v1M76 13v1M77 13v1M78 12v1M78 23v1M80 12v1M80 24v1M82 12v1M84 13v1M85 12v2M85 22v1M85 25v1M86 13v1M86 26v1M87 14v1M88 12v1M88 23v1M88 25v1M89 21v1M92 13v1M94 23v1M99 13v1M99 26v1M100 22v1M101 22v1M102 12v1M103 13v1M103 22v1M107 13v1M109 24v1M110 12v1M111 25v1M112 13v1M112 23v2M113 12v1M114 21v1M116 12v1M117 12v1M117 23v1M118 12v1M118 21v1M119 12v1M121 22v1M123 13v1M123 23v1M124 13v1M124 24v1M125 12v1M126 13v1M126 25v2M127 14v1M128 12v1M129 13v1M129 25v1M130 12v1M131 14v1M132 13v1M132 21v1M133 13v1M134 12v1M134 23v1M135 13v1M136 23v1M137 12v1M140 13v1M140 24v1M142 24v1M143 13v1M144 25v1M145 14v1M146 12v1M146 24v1M146 26v1M147 12v1M147 25v2M151 14v1M153 24v2M154 14v1M155 24v1M156 13v1M156 24v1M157 13v1M157 22v2M159 12v1M159 24v1M160 26v1M162 22v1M163 14v1M164 13v1M166 13v1M166 23v1M167 13v1M168 13v1M169 13v1M170 12v1M171 13v1M171 22v1M172 22v1M173 14v1M175 13v1M176 13v1M176 23v1M179 14v1M180 22v1M181 13v1M182 13v1M182 23v1M184 13v1M186 14v1M186 23v1M187 22v2M188 12v1M188 26v1M189 13v1M189 23v1M191 13v1M191 22v1M193 13v1M194 13v1M194 23v1M195 13v1M197 24v1M198 13v1M198 23v1M199 14v1M199 23v1M200 13v1M201 14v1M202 13v1M202 23v1M204 12v1M204 23v1M205 13v1M205 22v1M206 13v1M206 22v1M207 13v1M207 23v1M208 13v1M209 13v1M211 23v1"/><path stroke="#e70012" d="M2 14v1M3 14v1M3 22v1M5 13v1M6 24v1M7 14v1M8 14v1M8 24v1M9 14v1M11 14v1M12 14v1M12 23v1M12 25v2M13 22v1M15 12v1M17 22v1M18 14v1M19 14v1M19 23v1M20 14v1M20 23v1M21 13v1M21 24v1M24 13v1M25 13v1M25 23v1M26 13v1M26 22v2M27 21v1M27 25v1M28 14v1M29 13v1M30 13v1M32 22v1M34 14v1M35 14v1M37 13v1M38 14v1M38 25v1M39 14v1M41 21v1M41 26v1M42 13v1M43 14v1M43 21v1M48 14v1M50 23v1M52 13v3M52 23v1M53 14v1M55 26v1M56 22v1M56 26v1M57 12v1M61 14v1M61 21v1M63 14v1M64 13v1M67 12v1M67 25v1M68 13v1M69 13v1M69 23v1M70 14v1M70 21v2M70 25v1M71 21v1M71 25v1M72 14v1M72 21v1M73 14v1M73 22v1M74 13v1M74 21v1M77 14v1M77 22v1M78 13v1M79 23v1M80 13v1M83 13v1M83 23v1M85 14v1M85 23v2M88 13v1M88 22v1M89 13v1M90 13v1M91 14v1M91 22v1M92 14v1M92 24v1M93 14v1M93 24v1M94 14v1M95 13v1M95 24v1M96 14v1M96 24v1M97 13v1M97 25v1M98 12v1M98 25v1M100 14v1M101 13v1M104 14v1M105 13v1M106 12v1M108 13v3M108 23v1M109 14v1M111 13v1M112 22v1M113 13v1M113 26v1M114 14v1M114 24v2M115 13v1M115 21v1M116 13v1M116 21v1M117 13v1M117 22v1M118 13v1M119 13v1M119 21v1M120 12v1M121 13v1M122 13v1M125 13v1M126 24v1M128 13v1M128 25v1M130 22v2M130 25v1M131 21v1M133 14v1M134 13v1M134 22v1M137 13v1M138 12v1M138 23v1M139 14v1M140 14v1M141 13v1M141 24v1M144 23v2M146 13v1M146 23v1M146 25v1M147 13v1M148 13v1M149 14v1M149 21v1M150 14v1M150 22v1M151 22v1M152 23v1M154 15v1M154 23v1M155 14v1M156 23v1M158 14v1M158 22v1M159 13v1M159 23v1M160 23v3M161 21v1M165 13v1M166 14v1M167 23v1M169 22v1M170 13v1M171 14v1M172 14v1M174 14v1M175 14v1M176 22v1M177 14v1M178 14v1M179 15v1M180 13v1M181 14v1M182 14v1M183 14v1M183 23v1M184 14v2M185 13v1M188 22v4M189 22v1M191 14v1M192 14v1M193 14v1M195 14v1M195 22v1M196 13v1M196 22v1M197 13v1M197 23v1M199 22v1M200 23v1M201 15v1M201 21v1M202 22v1M203 13v1M204 22v1M205 14v1M206 14v1M207 14v1M207 22v1M208 14v1M208 23v1M210 13v1M210 23v2M212 14v1M212 23v1"/><path stroke="#cd0026" d="M0 14v1M0 21v1M2 22v1M4 14v1M5 23v1M7 24v1M9 25v1M10 26v1M11 24v1M12 21v2M12 24v1M13 13v1M15 13v1M17 14v1M21 23v1M22 14v1M22 25v1M23 24v1M25 24v2M27 14v1M28 22v1M29 21v1M30 21v1M31 21v1M32 14v1M33 23v1M37 24v1M39 25v1M40 25v1M41 13v1M41 22v1M42 14v1M42 24v1M42 26v1M44 14v1M45 21v1M46 14v1M46 21v1M47 14v1M49 13v1M50 14v1M51 14v1M51 23v1M54 14v1M54 25v1M55 14v1M55 22v1M56 15v1M56 23v1M57 13v1M57 24v2M58 14v1M58 21v1M59 14v1M59 21v1M60 14v1M62 14v1M62 22v1M63 22v1M64 23v1M65 14v1M66 14v1M66 24v1M67 13v1M68 24v1M69 22v1M70 23v2M71 14v2M71 22v3M73 15v1M75 21v2M76 14v1M76 22v1M78 14v1M78 22v1M81 15v1M82 13v1M83 14v1M84 24v1M85 21v1M86 23v1M86 25v1M87 15v1M87 21v1M94 15v1M98 24v1M99 21v2M100 15v1M101 14v1M102 13v1M102 21v1M103 14v1M103 21v1M106 13v1M106 22v1M107 14v1M107 23v1M110 13v1M110 24v1M112 14v2M112 21v1M113 22v1M114 15v1M115 20v1M117 14v1M117 21v1M118 14v1M119 14v1M120 13v1M122 22v1M123 14v1M124 14v1M125 14v1M125 23v1M126 14v1M126 23v1M127 15v1M127 23v1M129 14v1M129 21v1M130 13v1M130 24v1M131 20v1M132 14v1M134 14v1M134 21v1M135 14v1M136 14v1M139 23v1M140 15v1M142 14v1M143 14v1M143 24v1M144 14v1M144 21v2M145 21v1M145 25v1M146 14v1M146 22v1M147 14v1M147 21v1M148 21v1M151 15v1M152 14v1M153 14v1M153 23v1M155 22v2M156 14v1M156 22v1M157 14v1M158 21v1M158 23v2M159 14v1M159 22v1M160 13v1M160 22v1M161 14v1M162 14v1M163 15v1M163 21v1M165 14v2M166 22v1M167 14v1M168 14v1M170 14v1M170 22v1M173 15v1M173 21v1M175 15v1M176 14v1M177 21v1M180 14v1M182 15v1M183 15v1M184 16v1M184 22v2M185 14v2M185 23v1M186 15v1M186 22v1M187 15v1M188 13v1M189 14v1M190 14v1M193 22v1M194 22v1M195 15v1M197 22v1M198 14v1M199 15v1M200 14v1M200 22v1M201 16v1M201 20v1M202 14v1M203 14v1M203 21v1M204 13v1M205 15v1M206 15v1M208 22v1M209 14v1M210 14v1M210 22v1M211 13v1M211 22v1M212 15v2M212 22v1"/><path stroke="#b0003c" d="M1 14v1M4 23v1M5 14v1M6 15v1M8 15v1M8 23v1M10 15v1M10 21v2M11 21v1M11 23v1M13 21v1M14 14v1M14 21v1M15 14v1M18 23v1M20 22v1M21 14v1M23 14v1M24 14v1M24 24v1M25 14v1M25 21v1M26 24v1M26 26v1M28 15v1M29 14v1M30 14v1M31 14v1M33 14v1M34 23v1M35 15v1M35 23v1M36 14v1M37 14v1M39 22v1M40 15v1M40 22v3M42 21v1M42 25v1M43 20v1M44 21v1M45 13v1M48 22v1M49 23v1M50 15v1M53 15v1M54 15v1M55 21v1M55 25v1M57 14v1M57 21v1M63 15v1M65 23v1M66 15v1M67 14v1M68 14v1M69 14v1M70 15v1M70 20v1M71 16v1M71 20v1M72 15v1M73 21v1M74 14v1M75 14v1M76 15v1M76 21v1M77 15v1M79 14v1M80 14v1M80 23v1M81 23v1M82 14v2M82 24v1M83 15v1M84 14v1M84 22v1M86 14v1M86 22v1M86 24v1M88 14v1M88 21v1M89 14v1M90 14v1M90 21v1M91 15v1M92 15v1M92 23v1M93 15v1M93 23v1M94 16v1M94 22v1M95 14v1M96 15v1M97 14v1M98 13v1M99 14v1M99 23v3M100 16v1M100 21v1M101 20v2M102 14v1M104 15v1M105 14v1M105 22v1M107 15v1M108 16v1M108 22v1M110 14v1M111 14v2M111 24v1M112 16v1M112 18v3M113 14v1M113 21v1M113 23v3M114 20v1M115 14v1M115 19v1M116 14v1M117 15v1M117 20v1M121 14v1M122 14v1M123 15v1M123 22v1M124 15v1M124 23v1M125 15v1M126 15v1M126 22v1M128 14v1M129 15v1M129 20v1M129 22v1M129 24v1M130 14v1M130 21v1M131 15v1M132 15v1M132 20v1M133 15v1M133 21v1M135 21v1M136 22v1M137 14v1M137 22v1M138 13v2M139 15v1M140 16v1M140 23v1M141 14v1M141 23v1M142 15v1M142 23v1M145 15v1M145 22v1M148 14v1M149 15v1M150 15v1M152 22v1M153 15v1M153 22v1M154 22v1M155 15v1M156 15v1M157 15v1M157 21v1M158 15v1M159 15v1M161 15v1M162 21v1M164 14v2M164 21v1M166 15v1M168 15v1M168 17v1M168 22v1M169 14v1M172 15v1M174 15v1M174 21v1M176 21v1M177 15v1M178 15v1M181 15v1M181 22v1M182 22v1M185 16v1M186 16v1M189 15v1M189 21v1M190 15v1M190 21v1M191 15v1M191 21v1M192 15v1M193 15v1M194 14v1M196 14v1M197 14v1M198 15v2M198 22v1M201 19v1M202 15v1M202 21v1M205 21v1M207 15v1M208 15v1M209 22v1M210 15v1M211 14v1M212 17v1"/><path stroke="#8f0056" d="M2 15v1M3 15v1M6 23v1M7 15v1M7 23v1M9 15v1M9 24v1M10 23v1M11 15v1M11 22v1M12 15v1M13 14v1M15 21v1M16 15v1M19 15v1M20 15v1M21 22v1M22 15v1M26 14v1M26 21v1M26 25v1M27 15v1M28 21v1M32 15v1M36 23v1M38 15v1M38 24v1M39 15v1M39 23v2M40 21v1M41 14v1M41 23v1M41 25v1M42 15v1M43 15v1M46 15v1M47 22v1M48 15v1M49 14v1M51 15v1M51 22v1M52 16v1M53 24v1M54 21v4M55 20v1M55 23v1M56 16v1M56 21v1M56 24v2M57 15v1M57 20v1M58 15v1M58 20v1M60 15v1M62 15v1M64 14v1M65 15v1M67 24v1M68 15v1M69 15v1M69 21v1M70 16v4M72 20v1M73 20v1M76 16v1M77 21v1M78 15v1M79 15v1M79 22v1M81 16v1M83 16v2M84 21v1M84 23v1M85 15v1M85 20v1M87 16v1M87 20v1M90 15v1M91 21v1M92 22v1M94 17v2M95 23v1M96 21v1M96 23v1M97 15v1M97 21v1M97 24v1M98 21v3M101 15v1M101 19v1M103 15v1M104 21v1M106 14v1M109 15v1M109 23v1M110 23v1M111 16v1M112 17v1M113 15v1M113 20v1M114 16v1M115 15v1M115 18v1M116 20v1M117 16v1M118 15v1M119 15v1M120 14v1M120 21v1M122 15v1M126 16v1M126 20v2M127 16v1M127 22v1M128 15v1M128 21v1M128 24v1M129 23v1M130 15v1M131 16v1M131 18v2M132 16v1M133 20v1M136 15v1M137 15v1M138 15v1M138 22v1M139 22v1M142 22v1M143 15v1M143 22v2M144 15v1M144 20v1M145 16v1M145 23v2M146 15v1M146 21v1M147 15v1M150 21v1M151 16v1M151 21v1M152 15v1M154 16v1M155 21v1M158 18v3M160 14v2M161 16v1M161 20v1M164 16v1M165 16v1M167 15v1M167 22v1M168 16v1M168 18v1M169 15v1M170 15v1M171 15v1M171 21v1M172 21v1M173 16v1M173 18v3M174 16v1M175 16v1M175 21v1M176 15v1M178 21v1M179 16v1M179 21v1M180 15v1M183 16v1M183 22v1M184 17v1M185 22v1M187 16v1M187 21v1M188 14v1M190 16v1M192 21v1M195 16v1M196 15v1M197 15v1M199 16v1M200 15v1M201 17v2M203 15v1M203 19v2M204 14v1M204 21v1M205 16v1M207 21v1M209 15v1M211 15v1"/><path stroke="#740071" d="M1 21v1M4 15v1M5 15v1M8 22v1M9 21v1M9 23v1M10 16v1M10 24v2M11 20v1M12 20v1M17 15v1M18 15v1M19 22v1M22 24v1M23 15v1M24 22v2M25 15v1M27 20v1M31 15v1M34 15v1M35 16v1M36 15v1M37 23v1M39 21v1M40 16v1M41 15v1M41 20v1M41 24v1M43 16v3M45 14v1M47 15v1M50 16v1M50 22v1M52 17v1M52 22v1M53 16v1M53 23v1M54 16v1M54 20v1M55 15v1M55 24v1M57 16v1M57 18v2M58 16v1M61 15v1M63 16v1M65 16v1M66 16v1M66 23v1M67 15v1M68 23v1M69 16v1M69 20v1M71 17v1M72 16v1M73 16v1M73 19v1M74 15v1M77 16v1M80 15v1M82 16v1M83 18v1M83 22v1M84 15v1M85 16v1M86 15v1M86 21v1M88 15v1M88 20v1M89 15v1M91 16v1M92 16v1M93 16v1M94 21v1M95 15v1M96 16v5M96 22v1M97 16v1M97 20v1M98 14v3M99 15v1M99 20v1M100 17v2M100 20v1M101 16v1M101 18v1M102 15v1M103 16v1M104 16v1M105 15v1M107 16v1M107 22v1M110 15v1M111 19v2M111 23v1M114 19v1M115 16v2M116 15v1M117 17v3M120 15v1M121 15v1M122 16v1M123 16v1M124 16v1M125 16v2M125 22v1M126 17v3M127 21v1M128 16v1M128 20v1M128 22v2M129 16v1M129 19v1M130 16v1M131 17v1M132 17v2M133 16v1M134 15v1M135 15v1M136 16v1M136 21v1M137 16v1M139 16v1M140 17v1M140 22v1M141 15v1M141 22v1M142 16v1M143 16v1M143 21v1M144 16v1M145 17v2M145 20v1M146 20v1M147 20v1M148 15v1M156 16v1M156 21v1M157 16v1M157 20v1M158 16v2M159 16v1M159 21v1M160 16v1M160 21v1M162 15v1M169 16v2M170 20v2M172 16v1M173 17v1M174 17v1M174 20v1M175 17v1M176 20v1M181 16v1M182 16v1M184 18v1M184 21v1M185 17v1M185 21v1M186 17v1M188 15v2M188 21v1M189 16v1M193 16v1M194 15v1M196 16v1M196 21v1M198 17v1M199 17v2M199 21v1M200 16v1M200 18v1M200 21v1M202 16v1M203 18v1M206 16v1M206 21v1M208 16v1M209 16v1M210 16v1M211 16v3M212 18v1"/><path stroke="#5d008c" d="M0 15v1M6 16v1M6 22v1M7 16v1M8 16v1M8 21v1M9 22v1M10 17v2M10 20v1M12 16v1M13 20v1M15 15v1M16 21v1M17 21v1M21 15v1M22 16v2M23 23v1M24 15v1M25 16v1M25 20v1M26 15v1M27 16v1M28 16v1M28 20v1M33 15v1M33 22v1M35 22v1M37 15v1M38 23v1M40 17v1M40 20v1M41 16v1M42 16v1M42 20v1M43 19v1M44 15v1M45 15v1M49 15v1M51 16v1M52 18v1M53 22v1M54 17v1M55 16v4M56 17v2M56 20v1M57 17v1M58 18v2M59 15v1M64 15v1M64 22v1M65 22v1M67 23v1M68 16v1M68 18v1M68 21v2M69 19v1M71 18v1M72 17v3M73 17v2M75 15v1M78 16v1M78 21v1M79 16v1M79 21v1M81 17v2M81 22v1M82 17v1M82 23v1M83 19v3M84 16v1M84 18v3M85 17v1M85 19v1M86 16v1M87 17v1M87 19v1M89 20v1M90 16v1M91 17v1M93 22v1M94 19v1M95 16v3M95 21v2M97 17v3M97 22v2M98 20v1M100 19v1M101 17v1M105 16v1M106 15v1M106 21v1M107 21v1M108 17v1M109 16v3M109 22v1M110 21v2M111 17v2M111 21v2M113 16v1M113 19v1M114 17v2M116 16v1M116 19v1M118 16v1M119 20v1M121 21v1M122 21v1M124 17v2M124 22v1M125 18v1M127 17v1M127 20v1M128 17v3M129 18v1M130 17v2M130 20v1M132 19v1M133 19v1M137 21v1M138 16v1M139 21v1M140 18v1M140 20v2M141 16v1M141 18v1M142 17v1M143 17v2M143 20v1M144 19v1M145 19v1M146 16v1M147 16v1M149 16v1M150 16v1M152 16v1M153 16v1M154 17v2M154 21v1M155 16v1M155 20v1M156 17v1M157 17v2M159 20v1M160 17v4M161 17v1M161 19v1M163 16v1M164 17v1M165 17v1M165 21v1M166 16v1M166 21v1M167 16v1M168 19v1M169 18v1M169 21v1M170 16v1M170 18v2M171 20v1M172 20v1M174 18v2M175 18v1M176 16v1M177 20v1M178 16v1M179 17v1M180 16v1M181 17v1M184 19v2M185 18v3M186 18v1M186 21v1M187 17v2M187 20v1M188 17v1M189 20v1M190 17v2M190 20v1M191 16v1M192 16v1M193 17v1M193 21v1M195 21v1M197 16v1M199 19v2M200 17v1M200 19v2M202 20v1M203 16v2M204 15v1M204 20v1M205 17v1M205 20v1M207 16v1M208 21v1M210 17v2M210 21v1M211 21v1M212 21v1"/><path stroke="#4b00aa" d="M1 15v1M2 21v1M3 16v1M4 22v1M5 22v1M7 17v1M7 22v1M9 16v1M9 20v1M10 19v1M11 16v1M11 18v2M12 17v1M13 15v1M16 16v1M18 22v1M19 16v1M20 16v1M22 18v1M24 16v1M24 21v1M26 20v1M29 15v1M30 15v1M32 16v1M32 21v1M34 22v1M35 17v1M36 16v2M37 22v1M38 22v1M39 16v1M39 20v1M40 18v2M41 17v1M46 16v1M48 16v1M50 17v1M53 17v1M53 21v1M54 18v2M56 19v1M58 17v1M60 16v1M62 16v1M62 21v1M63 21v1M65 17v1M66 17v2M67 16v1M67 21v2M68 17v1M68 19v2M69 17v2M71 19v1M74 16v1M74 20v1M76 17v1M77 17v1M77 20v1M78 17v1M79 20v1M80 16v1M81 19v3M82 18v1M82 21v1M84 17v1M85 18v1M86 17v4M87 18v1M88 16v1M88 19v1M92 17v1M92 21v1M93 17v1M93 21v1M94 20v1M98 17v3M99 16v1M102 16v1M102 20v1M103 17v1M104 17v1M105 17v1M105 21v1M107 17v2M108 18v1M108 21v1M109 19v3M113 17v2M116 17v2M118 20v1M119 16v1M121 16v1M122 17v1M123 17v2M123 21v1M124 19v3M127 18v2M129 17v1M130 19v1M133 17v2M135 16v1M136 17v1M137 17v1M138 17v1M139 17v1M140 19v1M141 17v1M142 18v1M142 21v1M143 19v1M144 17v1M146 17v3M147 17v2M150 17v1M151 20v1M152 17v2M152 21v1M153 21v1M154 19v2M156 18v3M157 19v1M159 17v3M161 18v1M162 16v1M162 20v1M163 20v1M165 18v1M166 17v2M167 17v1M168 21v1M169 19v2M170 17v1M171 16v1M171 18v2M172 17v3M175 20v1M176 17v3M177 16v1M179 18v1M179 20v1M180 21v1M181 18v1M181 20v2M182 17v2M183 17v1M186 19v2M187 19v1M188 18v3M189 17v3M190 19v1M194 16v1M194 21v1M195 17v1M196 17v1M196 20v1M197 17v1M197 19v3M198 18v1M198 21v1M202 17v2M204 16v1M204 19v1M206 17v1M208 17v1M209 17v1M209 21v1M211 19v2M212 19v1"/><path stroke="#3500c2" d="M3 21v1M4 16v1M5 16v1M6 17v2M7 18v1M7 21v1M8 17v2M8 20v1M11 17v1M12 18v2M13 16v4M14 15v1M17 16v1M18 16v1M19 17v1M20 17v1M20 21v1M21 16v1M22 23v1M23 16v2M23 20v3M24 17v2M24 20v1M25 17v1M26 16v1M26 18v2M27 17v3M28 17v3M31 16v1M33 16v1M34 16v1M35 21v1M36 18v1M37 16v1M37 21v1M38 16v1M38 21v1M41 18v2M42 17v3M47 21v1M48 17v1M49 16v3M49 22v1M50 18v1M51 17v1M51 21v1M52 19v1M52 21v1M53 18v1M53 20v1M60 20v1M61 16v1M61 20v1M63 17v1M64 16v1M65 18v1M65 21v1M66 22v1M67 17v4M75 20v1M78 18v1M79 17v3M80 17v2M80 22v1M82 22v1M88 17v2M90 17v1M91 18v1M91 20v1M92 18v1M93 18v1M95 19v2M99 17v3M103 20v1M106 16v1M108 19v2M110 16v1M110 19v2M120 16v1M121 17v2M123 19v2M125 21v1M134 16v1M134 20v1M138 18v1M139 18v1M139 20v1M141 19v1M141 21v1M142 19v2M144 18v1M147 19v1M148 16v1M148 20v1M149 20v1M150 18v1M150 20v1M151 17v1M153 17v1M153 20v1M155 17v1M155 19v1M163 17v2M164 20v1M165 20v1M166 19v2M167 18v1M168 20v1M175 19v1M178 17v1M178 20v1M179 19v1M180 17v2M180 20v1M181 19v1M182 21v1M183 18v2M183 21v1M191 17v1M191 20v1M192 17v1M192 20v1M193 18v1M193 20v1M194 17v1M195 18v1M195 20v1M196 18v2M197 18v1M198 19v2M202 19v1M204 17v2M205 18v2M206 20v1M207 17v1M207 20v1M208 18v1M208 20v1M209 18v1M210 19v2M212 20v1"/><path stroke="#2100d9" d="M1 16v1M2 16v1M6 21v1M7 19v2M8 19v1M9 17v3M19 21v1M20 18v1M21 17v1M22 19v4M23 18v2M24 19v1M25 18v2M26 17v1M35 18v1M36 22v1M37 17v2M37 20v1M38 20v1M39 17v2M44 20v1M45 16v1M47 16v1M50 19v1M51 18v1M52 20v1M53 19v1M59 16v1M59 20v1M64 17v1M64 21v1M66 19v2M75 16v1M76 20v1M77 18v2M80 19v3M82 19v2M89 16v1M90 20v1M93 20v1M103 18v1M104 18v1M106 17v2M106 20v1M107 19v2M110 17v2M118 17v1M121 20v1M122 18v1M125 19v2M136 20v1M137 18v1M138 21v1M139 19v1M141 20v1M150 19v1M151 18v2M152 19v2M153 18v2M155 18v1M162 17v1M163 19v1M164 18v1M165 19v1M167 19v1M167 21v1M171 17v1M177 17v1M180 19v1M182 19v2M183 20v1M191 18v1M192 18v1M193 19v1M194 18v1M195 19v1M206 18v1M207 18v1M208 19v1M209 19v2"/><path stroke="#1000ec" d="M0 16v1M3 17v1M5 17v1M6 19v2M18 17v1M19 18v1M21 18v1M21 21v1M29 20v1M30 16v1M31 20v1M34 17v1M35 20v1M37 19v1M38 17v3M39 19v1M48 18v1M48 21v1M50 20v2M51 19v2M61 17v1M62 17v1M63 18v1M64 18v1M65 19v2M66 21v1M76 18v1M78 20v1M90 18v1M91 19v1M92 19v2M93 19v1M103 19v1M104 20v1M105 18v1M106 19v1M119 17v1M119 19v1M120 17v1M120 20v1M121 19v1M122 20v1M134 17v1M135 17v1M135 20v1M136 18v1M137 20v1M149 17v1M162 18v2M164 19v1M167 20v1M177 18v2M178 18v2M191 19v1M192 19v1M194 19v2M206 19v1M207 19v1"/><path stroke="#0000ff" d="M0 17v4M1 17v4M2 17v4M3 18v3M4 17v5M5 18v4M14 16v5M15 16v5M16 17v4M17 17v4M18 18v4M19 19v2M20 19v2M21 19v2M29 16v4M30 17v4M31 17v3M32 17v4M33 17v5M34 18v4M35 19v1M36 19v3M44 16v4M45 17v4M46 17v4M47 17v4M48 19v2M49 19v3M59 17v3M60 17v3M61 18v2M62 18v3M63 19v2M64 19v2M74 17v3M75 17v3M76 19v1M78 19v1M89 17v3M90 19v1M102 17v3M104 19v1M105 19v2M118 18v2M119 18v1M120 18v2M122 19v1M134 18v2M135 18v2M136 19v1M137 19v1M138 19v2M148 17v3M149 18v2"/></g>
<g transform="translate(65.366,420.58) scale(1.93286,2.54175)" shape-rendering="crispEdges" fill="none" stroke-width="1.02"><path stroke="#c1feff" d="M102 29v1M172 10v1M187 10v1"/><path stroke="#a9fdff" d="M75 27v1M149 10v1"/><path stroke="#91fbff" d="M3 8v1M45 8v1M69 1v1M76 30v1"/><path stroke="#78faff" d="M21 8v1M69 2v1M77 29v1M126 8v1M140 8v1M157 9v1M202 10v1"/><path stroke="#60f9fe" d="M2 8v1M10 8v1M15 8v1M41 8v1M102 30v1M107 8v1M182 10v1"/><path stroke="#4cf7fc" d="M41 29v1M58 8v1M73 8v1M74 8v1M77 30v1M78 7v1M82 7v1M103 31v1M104 32v1M131 9v1M135 30v1M159 10v1M171 10v1M173 10v1M200 10v1M201 10v1"/><path stroke="#3af5f8" d="M1 8v1M66 8v1M77 28v1M90 8v1M98 8v1M103 27v1M108 8v1M124 8v1M135 28v1M137 9v1M189 10v1"/><path stroke="#30f5f1" d="M14 8v1M40 8v1M61 8v1M75 26v1M76 31v1M77 7v1M94 7v1M110 8v1M111 8v1M115 9v1M119 9v1M130 9v1M165 10v1M175 10v1"/><path stroke="#27f4e7" d="M11 8v1M17 8v1M41 32v1M65 8v1M75 32v1M93 7v1M97 8v1M132 10v1M146 10v1M161 10v1M184 28v1M188 10v1M191 10v1M196 39v1"/><path stroke="#22f2d6" d="M26 8v1M39 8v1M54 8v1M74 31v1M102 26v1M102 31v1M113 9v1M129 9v1M136 31v1M164 10v1M184 29v1M194 10v1M207 10v1M208 39v1M210 10v1"/><path stroke="#1defc3" d="M24 8v1M34 8v1M42 28v1M43 30v1M56 8v1M68 8v1M77 31v1M85 8v1M116 9v1M118 9v1M134 29v1M141 9v1M145 10v1M154 39v1M158 10v1M163 10v1M174 10v1M179 10v1"/><path stroke="#1aeead" d="M19 8v1M22 8v1M27 8v1M31 8v1M42 32v1M43 29v1M44 8v1M49 36v1M74 27v1M77 27v1M86 8v1M102 9v1M105 32v1M109 8v1M114 9v1M120 9v1M123 8v1M127 8v1M131 10v1M134 30v1M154 38v1M170 10v1M185 10v1M195 39v1M196 38v1"/><path stroke="#17ec97" d="M12 8v1M18 8v1M30 8v1M36 8v1M42 8v1M43 31v1M49 37v1M52 8v1M75 8v1M102 32v1M103 32v1M105 26v1M135 10v1M137 29v1M154 10v1M166 10v1M189 39v1M206 10v1M209 10v1"/><path stroke="#14eb82" d="M16 8v1M29 8v1M35 8v1M37 8v1M41 28v1M43 36v1M44 38v1M49 38v1M62 8v1M63 8v1M73 29v2M76 32v1M77 32v1M81 7v1M87 8v1M90 38v1M92 8v1M99 9v1M99 29v1M101 28v2M103 9v1M103 26v1M104 9v1M104 26v1M121 9v1M125 9v1M126 9v1M128 10v1M134 28v1M135 31v1M137 10v1M137 30v1M139 9v1M140 9v1M142 39v1M144 9v1M160 10v1M167 10v1M181 36v1M189 38v1M190 10v1M208 10v1M210 39v1M212 37v1"/><path stroke="#0fed6d" d="M0 8v1M11 39v1M20 39v1M30 31v1M40 28v2M43 28v1M43 32v1M44 39v1M47 9v1M49 39v1M51 8v1M59 39v1M60 35v1M73 31v1M74 32v1M75 33v1M75 35v1M76 25v1M78 37v1M83 27v1M90 29v1M90 37v1M99 28v1M99 30v1M100 9v1M101 27v1M102 33v1M104 33v1M112 9v1M114 36v1M117 9v1M122 9v1M124 9v1M132 39v1M134 10v1M134 31v1M135 27v1M136 27v1M137 28v1M143 10v1M145 34v1M146 39v1M147 11v1M150 10v1M152 9v1M154 37v1M163 39v1M167 37v1M172 35v1M176 10v1M181 35v1M181 37v1M186 32v1M187 39v1M191 32v1M204 10v1M204 39v1M208 38v1M211 10v1M212 36v1M212 38v1"/><path stroke="#0bef59" d="M8 8v1M9 8v1M20 8v1M20 38v1M28 33v2M29 38v2M30 30v1M30 32v4M32 8v1M40 27v1M41 33v1M42 27v1M42 33v1M43 37v1M49 8v1M49 35v1M53 9v1M60 34v1M60 36v1M71 8v1M73 28v1M75 25v1M75 34v1M75 36v1M76 8v1M77 26v1M77 33v1M78 36v1M78 38v2M79 7v1M83 8v1M83 26v1M83 28v1M88 8v1M90 28v1M90 39v1M101 26v1M101 30v1M102 36v1M102 39v1M103 25v1M105 33v1M106 9v1M106 28v1M114 35v1M114 37v1M121 34v2M126 39v1M130 10v1M131 33v3M134 34v1M137 31v1M138 10v1M145 33v1M145 35v3M146 38v1M147 37v1M150 39v1M152 33v2M155 39v1M158 39v1M159 36v1M161 39v1M163 37v2M167 38v2M172 34v1M174 36v3M177 11v1M177 34v1M177 39v1M180 39v1M181 11v1M181 38v2M182 35v2M183 30v1M184 10v1M185 29v1M186 33v1M186 39v1M187 35v2M191 31v1M191 33v1M192 10v1M192 35v2M196 37v1M197 39v1M200 37v2M204 38v1M205 39v1M207 36v1M210 38v1M212 39v1"/><path stroke="#07f141" d="M1 32v2M6 8v1M6 26v2M10 34v2M13 8v1M20 31v1M22 9v1M22 34v1M23 30v2M23 39v1M25 8v1M28 31v2M30 36v3M31 35v1M32 27v1M33 39v1M35 9v1M35 38v2M36 31v2M37 9v1M39 33v2M39 39v1M40 26v1M40 30v1M40 37v1M43 8v1M43 35v1M44 26v4M44 37v1M50 8v1M56 9v1M56 28v1M56 39v1M57 35v1M58 27v1M59 38v1M60 8v1M60 33v1M60 37v1M62 26v1M64 8v1M64 31v2M72 27v5M73 27v1M73 32v1M74 9v1M74 26v1M74 38v2M75 37v1M77 34v1M78 35v1M80 7v1M83 29v2M83 37v1M86 36v4M88 30v2M90 30v1M93 30v3M94 39v1M97 35v1M97 39v1M99 31v1M99 34v1M99 38v2M101 9v1M102 34v2M102 37v2M103 33v1M104 24v1M105 9v1M105 25v1M106 29v1M106 31v2M114 25v1M114 27v8M114 38v1M115 26v1M115 31v3M117 33v2M119 37v2M121 33v1M126 38v1M132 33v1M133 30v1M133 39v1M134 33v1M134 35v1M135 32v1M136 32v1M137 32v1M138 29v3M138 35v1M139 31v1M140 35v2M142 38v1M143 39v1M144 39v1M145 38v2M147 32v3M147 36v1M147 38v1M149 32v3M150 38v1M152 32v1M155 38v1M157 10v1M158 38v1M159 35v1M159 37v1M161 38v1M163 34v3M167 31v3M167 36v1M168 33v7M170 37v2M172 32v2M172 36v1M174 32v2M174 35v1M174 39v1M176 38v2M177 33v1M177 35v2M177 38v1M179 39v1M181 34v1M182 29v1M182 34v1M182 37v2M185 28v1M185 33v2M186 31v1M186 34v1M186 38v1M187 11v1M187 31v4M187 37v2M189 37v1M190 31v1M191 34v2M191 38v1M192 37v3M195 10v1M196 35v2M198 39v1M200 39v1M201 11v1M201 39v1M202 35v4M203 34v3M204 37v1M205 38v1M206 31v1M206 36v2M206 39v1M207 35v1M207 37v1M209 32v1M209 35v2M212 35v1"/><path stroke="#02f324" d="M0 27v4M1 31v1M1 34v1M2 9v1M3 9v1M4 32v2M5 35v2M6 33v4M8 33v2M10 33v1M10 36v1M11 38v1M12 25v2M16 26v3M19 28v2M20 27v1M20 32v1M20 37v1M22 31v3M22 35v1M23 29v1M23 32v2M23 38v1M27 37v1M28 9v1M28 25v6M29 37v1M30 26v4M30 39v1M31 9v1M31 34v1M31 36v1M32 9v1M32 26v1M32 28v1M33 38v1M35 37v1M36 30v1M36 33v1M37 34v3M38 29v5M39 9v1M39 35v1M39 38v1M40 25v1M40 35v2M40 38v1M43 33v1M43 38v1M44 24v2M44 30v3M45 34v2M46 29v1M46 33v1M47 39v1M48 39v1M49 26v2M50 29v2M51 34v3M51 39v1M52 9v1M54 32v1M55 34v1M56 27v1M56 29v1M56 37v2M57 9v1M57 34v1M57 36v1M58 26v1M58 28v6M58 39v1M59 8v1M59 28v4M59 33v2M60 32v1M60 38v1M61 26v1M62 25v1M62 27v2M62 34v6M64 33v1M66 38v2M67 9v1M67 35v2M70 8v1M70 28v1M72 26v1M72 32v1M73 33v2M74 33v1M74 37v1M76 33v1M77 25v1M77 35v1M78 28v2M83 31v1M83 36v1M83 38v2M84 8v1M85 39v1M86 35v1M87 9v1M87 30v1M88 29v1M88 32v1M88 35v1M90 9v1M90 27v1M90 36v1M91 32v2M91 35v5M93 8v1M93 33v1M94 37v2M95 7v1M96 8v1M97 34v1M97 36v3M99 25v1M99 27v1M99 32v2M99 35v3M100 27v1M100 30v1M101 25v1M102 25v1M103 34v1M104 25v1M104 34v2M105 34v1M105 39v1M106 27v1M106 30v1M106 33v1M106 39v1M107 9v1M114 26v1M115 24v2M115 27v2M115 30v1M115 34v1M116 26v2M116 36v2M117 35v1M118 29v1M118 39v1M119 27v3M119 36v1M119 39v1M120 29v2M121 27v3M121 36v2M122 24v2M123 9v1M124 29v2M128 29v3M128 36v2M129 33v2M130 30v2M131 32v1M131 36v4M132 31v2M132 34v1M132 38v1M133 29v1M133 31v1M133 35v4M134 27v1M134 32v1M135 36v2M137 33v1M137 36v2M138 32v3M138 36v4M139 30v1M139 32v1M139 36v4M140 34v1M140 37v1M141 10v1M142 10v1M142 32v4M143 37v2M144 33v3M144 38v1M145 32v1M146 30v1M146 37v1M147 31v1M147 35v1M147 39v1M148 11v1M148 34v2M148 39v1M149 31v1M149 38v2M150 37v1M151 32v1M152 10v1M152 35v1M152 39v1M154 35v2M158 33v5M159 38v1M161 31v1M161 36v2M162 32v4M162 38v2M163 32v2M165 31v1M165 37v2M166 34v1M167 34v2M168 31v2M169 35v5M170 32v1M170 36v1M170 39v1M171 11v1M171 37v3M172 11v1M172 31v1M172 37v1M173 38v2M174 31v1M174 34v1M175 33v2M175 38v2M177 31v1M177 37v1M178 11v1M178 36v4M179 36v3M180 11v1M180 38v1M181 33v1M182 30v4M182 39v1M183 10v1M183 27v1M183 29v1M183 31v2M184 30v1M185 30v3M186 35v1M188 11v1M188 38v2M189 11v1M189 30v2M189 34v3M190 30v1M191 36v2M191 39v1M192 34v1M193 38v2M195 38v1M196 31v4M197 38v1M198 38v1M199 31v2M199 39v1M200 36v1M201 34v3M201 38v1M202 34v1M202 39v1M203 33v1M203 37v1M204 36v1M205 11v1M205 37v1M206 32v4M206 38v1M207 32v3M207 38v1M209 31v1M209 33v2M209 37v3M210 37v1M211 35v1M212 33v2"/><path stroke="#05f70e" d="M0 26v1M0 31v1M1 35v1M3 28v2M3 34v4M4 9v1M4 27v5M4 34v3M5 9v1M5 30v5M5 37v3M6 28v1M6 32v1M6 37v1M7 29v3M7 36v2M8 25v2M8 30v3M9 9v1M9 27v1M9 33v1M10 24v2M10 27v3M10 31v2M11 9v1M12 24v1M12 27v1M12 32v3M13 31v2M14 25v1M14 33v2M14 37v1M15 30v2M15 35v3M16 29v1M19 27v1M20 26v1M20 28v3M20 33v4M21 9v1M21 32v1M22 36v3M23 9v1M23 25v1M23 28v1M23 34v1M24 28v3M24 36v2M25 24v7M27 25v2M27 36v1M27 38v2M28 24v1M28 35v1M28 39v1M29 36v1M30 23v3M31 32v2M31 37v1M32 29v1M32 31v9M33 9v1M34 31v3M35 26v1M35 30v4M36 27v3M37 33v1M37 37v3M38 9v1M38 28v1M38 34v2M39 32v1M39 36v2M40 31v4M40 39v1M41 25v1M41 34v1M42 26v1M42 36v4M43 25v1M43 34v1M43 39v1M44 33v1M44 36v1M45 9v1M45 24v3M45 33v1M45 36v1M46 9v1M46 28v1M46 30v3M46 34v3M47 26v5M47 38v1M48 9v1M48 28v8M48 38v1M49 25v1M49 28v1M49 30v2M49 34v1M50 27v2M50 31v1M51 28v2M51 33v1M51 37v2M52 32v2M53 29v9M54 9v1M54 31v1M54 33v1M54 37v2M55 33v1M55 35v1M56 26v1M56 30v1M57 33v1M57 37v1M58 9v1M58 25v1M58 34v1M58 38v1M59 27v1M59 32v1M59 37v1M60 26v1M60 39v1M61 9v1M61 25v1M61 27v1M62 9v1M62 29v3M62 33v1M63 29v8M64 30v1M64 34v1M66 9v1M66 35v3M67 29v1M67 31v4M68 27v2M69 8v1M69 25v1M69 32v2M70 27v1M70 29v1M71 30v3M72 25v1M72 35v5M73 26v1M73 35v1M73 39v1M74 25v1M74 34v2M75 24v1M75 38v1M76 34v1M77 8v1M77 36v1M78 27v1M78 30v1M78 34v1M79 33v3M81 30v2M82 8v1M82 28v1M83 32v1M83 35v1M84 25v2M84 32v5M85 30v2M85 33v2M85 38v1M86 28v1M86 32v3M87 29v1M87 31v1M87 34v2M88 28v1M88 33v2M88 36v1M89 9v1M90 24v3M90 31v5M91 8v1M91 31v1M91 34v1M92 31v2M93 26v4M93 34v1M94 36v1M95 33v1M95 39v1M96 39v1M97 9v1M97 26v1M98 9v1M99 24v1M99 26v1M100 26v1M100 28v2M100 31v1M100 39v1M101 31v1M103 24v1M103 35v1M105 38v1M106 34v1M107 29v3M108 34v2M110 29v1M110 35v5M111 31v3M113 30v2M114 10v1M114 24v1M114 39v1M115 10v1M115 29v1M115 35v4M116 10v1M116 28v1M116 35v1M116 38v2M117 29v1M117 32v1M117 36v1M118 28v1M118 38v1M119 26v1M119 30v2M119 34v2M120 28v1M120 31v6M121 26v1M121 30v1M121 32v1M121 38v1M122 23v1M122 26v2M122 39v1M123 29v2M125 29v1M126 33v5M127 9v1M127 31v4M128 32v2M128 35v1M129 31v2M130 29v1M130 32v4M130 39v1M131 31v1M132 29v2M132 35v3M133 32v1M134 11v1M134 36v4M135 33v1M135 35v1M135 38v1M136 11v1M136 33v1M137 27v1M137 34v2M138 28v1M139 33v3M140 31v3M141 31v2M141 38v2M142 31v1M142 36v2M143 34v3M144 30v3M144 36v2M145 31v1M146 29v1M146 36v1M148 33v1M148 36v3M149 35v1M150 36v1M151 10v1M151 31v1M151 33v4M152 36v3M153 33v1M153 39v1M154 31v1M154 34v1M155 11v1M155 33v2M155 37v1M156 36v4M157 38v2M158 31v2M159 32v3M159 39v1M160 38v2M161 32v4M162 31v1M162 36v2M163 31v1M165 32v1M166 33v1M166 35v5M167 30v1M168 11v1M168 30v1M169 11v1M169 33v2M170 11v1M170 31v1M170 33v1M170 35v1M171 36v1M172 38v2M173 37v1M174 11v1M175 11v1M175 31v2M175 35v3M176 11v1M176 31v5M176 37v1M177 30v1M177 32v1M178 35v1M179 11v1M179 31v1M180 32v2M181 32v1M182 28v1M183 33v5M184 31v4M185 35v3M186 36v2M187 30v1M188 31v1M188 36v2M190 32v1M190 37v2M191 30v1M192 31v3M193 31v7M194 11v1M194 34v1M194 39v1M195 33v2M195 36v2M196 11v1M197 37v1M198 34v4M199 38v1M200 30v2M200 35v1M201 33v1M201 37v1M202 31v3M203 10v1M203 32v1M203 38v2M205 31v1M205 36v1M206 11v1M206 30v1M207 31v1M207 39v1M208 31v2M208 37v1M209 11v1M211 34v1M211 36v4M212 31v2"/><path stroke="#12fe01" d="M0 32v3M0 36v4M1 26v1M1 30v1M1 36v1M2 35v4M3 30v4M3 38v1M4 37v1M6 38v2M7 28v1M7 32v1M7 35v1M7 38v1M8 27v3M8 38v1M9 25v2M9 28v1M9 32v1M9 34v1M10 9v1M10 26v1M10 30v1M10 37v1M11 25v2M11 34v1M11 37v1M12 9v1M12 23v1M12 31v1M12 39v1M13 30v1M13 33v1M14 9v1M14 24v1M14 26v7M14 35v2M14 38v2M15 9v1M15 29v1M15 32v3M15 38v1M16 34v2M17 37v2M19 9v1M19 30v1M19 34v5M20 9v1M21 31v1M21 33v1M22 30v1M22 39v1M23 26v2M23 35v3M24 27v1M24 31v1M24 35v1M24 38v2M25 31v1M25 39v1M26 27v2M26 30v3M26 36v2M27 24v1M27 27v1M27 35v1M28 36v3M29 27v5M30 9v1M31 25v3M31 31v1M31 38v2M32 25v1M32 30v1M33 24v3M34 25v6M34 34v1M35 27v3M35 34v3M36 34v2M37 27v3M37 31v2M38 26v2M38 36v1M39 25v1M39 30v2M40 9v1M41 24v1M41 26v2M41 35v5M42 25v1M42 34v2M43 24v1M43 26v2M44 23v1M44 34v2M45 27v6M46 37v1M47 23v3M47 31v2M48 27v1M48 36v2M49 29v1M49 32v2M50 25v2M50 32v3M51 9v1M51 26v2M51 30v1M52 31v1M53 28v1M53 38v2M54 29v2M54 34v3M54 39v1M55 9v1M55 25v1M55 28v5M55 36v1M56 24v2M56 31v1M56 36v1M57 24v2M57 30v3M57 38v1M58 35v3M59 25v2M59 35v2M60 27v1M60 31v1M61 24v1M61 28v1M61 32v2M62 32v1M63 28v1M64 29v1M64 39v1M66 29v1M66 34v1M67 30v1M67 37v1M68 29v1M68 35v2M68 38v2M69 30v2M69 34v1M69 39v1M70 26v1M70 33v5M71 25v1M71 29v1M71 33v5M72 9v1M73 9v1M73 25v1M73 36v1M73 38v1M74 36v1M75 23v1M75 39v1M76 35v1M76 39v1M77 24v1M77 37v3M78 8v1M78 25v2M78 31v3M79 25v4M79 30v3M80 27v1M80 32v3M81 29v1M81 32v3M82 29v4M83 33v2M84 27v1M84 31v1M84 37v1M85 9v1M85 25v5M85 32v1M85 35v3M86 9v1M86 27v1M86 29v1M86 31v1M87 27v2M87 32v2M87 36v1M88 25v1M88 37v1M88 39v1M89 31v5M91 9v1M91 26v5M92 25v3M92 30v1M92 33v1M92 36v1M93 35v3M94 8v1M94 34v2M95 8v1M95 29v4M95 34v1M95 38v1M96 37v2M97 27v7M98 34v1M98 36v2M99 23v1M100 25v1M100 32v7M101 32v1M102 10v1M103 36v2M104 23v1M104 36v1M105 24v1M105 35v1M105 37v1M106 35v1M106 38v1M107 25v4M107 32v1M107 38v1M108 27v4M108 32v2M108 36v1M109 33v7M110 30v1M110 34v1M111 9v1M111 29v2M111 34v1M113 32v1M113 34v4M115 39v1M116 25v1M116 29v4M116 34v1M117 28v1M117 30v2M118 30v1M118 37v1M119 25v1M119 32v2M120 24v4M120 37v3M121 25v1M121 31v1M121 39v1M122 28v2M122 34v3M122 38v1M123 25v1M123 28v1M123 31v1M123 34v1M124 28v1M124 31v2M124 36v1M125 28v1M125 30v1M125 36v3M126 29v1M126 32v1M127 27v4M128 28v1M128 34v1M129 30v1M129 35v1M130 25v1M130 36v3M131 29v2M132 28v1M133 11v1M133 28v1M133 33v2M135 11v1M135 34v1M135 39v1M136 34v6M137 38v2M139 10v1M139 29v1M140 38v1M141 33v5M144 29v1M146 11v1M146 31v1M146 34v2M148 31v2M149 11v1M149 30v1M149 36v2M150 35v1M151 30v1M151 37v2M152 31v1M153 32v1M153 34v1M154 30v1M154 32v2M155 32v1M155 35v2M156 35v1M157 32v2M157 35v1M157 37v1M158 11v1M159 31v1M161 30v1M164 36v4M165 30v1M165 33v1M165 35v2M165 39v1M166 32v1M169 31v2M170 34v1M171 31v5M172 30v1M176 36v1M178 34v1M179 30v1M179 32v1M179 35v1M180 31v1M180 34v4M181 31v1M183 38v1M184 35v1M184 39v1M185 38v2M186 11v1M186 30v1M188 30v1M188 32v1M188 35v1M189 29v1M189 32v2M190 36v1M190 39v1M192 30v1M194 33v1M194 35v1M194 38v1M195 11v1M195 31v2M195 35v1M196 30v1M197 31v2M197 34v3M198 11v1M198 31v3M199 10v2M199 30v1M199 33v5M200 11v1M200 32v3M201 32v1M203 31v1M204 31v2M204 35v1M205 30v1M205 32v4M208 30v1M208 33v1M208 36v1M211 31v3M212 10v1"/><path stroke="#32ff00" d="M0 25v1M0 35v1M1 9v1M1 27v1M1 37v2M2 27v2M2 34v1M2 39v1M3 27v1M3 39v1M4 38v1M5 26v2M5 29v1M6 31v1M7 9v1M7 26v2M7 33v2M7 39v1M8 9v1M8 35v3M8 39v1M9 29v1M10 38v2M11 27v3M11 32v2M11 35v2M12 28v1M12 30v1M12 35v1M12 38v1M13 24v4M13 38v2M16 25v1M16 30v1M16 33v1M16 36v1M17 36v1M17 39v1M18 28v1M18 37v2M19 31v1M19 33v1M19 39v1M21 26v3M21 34v3M21 38v2M22 26v2M22 29v1M24 9v1M24 25v2M24 34v1M25 9v1M25 32v1M25 38v1M26 24v3M26 29v1M26 33v1M26 35v1M26 38v2M27 9v1M27 28v2M27 31v1M29 26v1M29 32v1M29 35v1M31 28v3M33 37v1M34 9v1M34 35v1M36 36v1M36 38v2M37 30v1M38 37v3M39 26v4M40 24v1M41 9v1M42 9v1M44 9v1M45 23v1M45 37v1M46 25v3M47 33v5M48 26v1M49 24v1M50 24v1M50 35v1M51 32v1M52 27v1M52 29v2M52 34v1M52 38v2M53 10v1M54 27v2M55 26v2M55 37v1M56 32v1M57 26v1M57 29v1M57 39v1M59 9v1M59 24v1M60 9v1M60 25v1M60 28v2M61 29v3M61 34v1M61 36v2M62 24v1M63 24v2M63 27v1M63 37v1M64 9v1M64 28v1M64 35v1M64 38v1M65 9v1M66 30v1M66 33v1M67 28v1M67 38v1M68 9v1M68 34v1M68 37v1M69 26v1M69 29v1M69 35v1M69 38v1M70 24v2M70 30v3M70 38v1M71 24v1M71 26v1M71 28v1M71 38v1M72 33v2M73 37v1M74 24v1M75 9v1M76 24v1M76 36v3M78 24v1M79 29v1M79 36v1M79 39v1M80 31v1M80 35v1M81 8v1M81 35v1M81 38v2M82 33v4M84 38v2M85 24v1M86 26v1M86 30v1M87 24v3M87 37v3M88 9v1M88 24v1M88 26v2M88 38v1M89 27v4M89 36v4M90 23v1M92 9v1M92 28v2M92 34v2M92 37v1M93 25v1M93 38v1M94 28v2M95 35v1M95 37v1M96 28v1M96 36v1M97 25v1M98 25v2M98 28v2M98 33v1M98 35v1M98 38v1M100 10v1M100 24v1M101 24v1M101 33v6M102 24v1M103 38v2M104 10v1M104 39v1M105 36v1M106 24v3M106 36v2M107 37v1M107 39v1M108 9v1M108 31v1M108 37v1M109 29v4M110 9v1M110 33v1M111 28v1M111 35v1M112 27v1M112 34v4M113 10v1M113 24v2M113 29v1M113 33v1M113 38v1M114 23v1M115 23v1M116 33v1M117 24v4M117 37v2M118 10v1M118 27v1M118 31v1M118 33v4M119 10v1M119 24v1M120 10v1M121 10v1M122 33v1M123 26v2M123 32v2M123 35v5M124 27v1M124 33v3M124 37v3M125 10v1M125 39v1M126 30v2M127 10v1M127 35v1M128 27v1M128 38v1M129 29v1M129 36v2M130 24v1M130 26v1M131 27v2M140 30v1M140 39v1M141 30v1M142 30v1M143 33v1M145 11v1M145 30v1M146 32v2M147 30v1M150 31v4M151 39v1M153 31v1M153 35v1M153 38v1M155 31v1M156 34v1M157 31v1M157 34v1M157 36v1M158 30v1M160 33v2M160 37v1M162 30v1M163 30v1M164 35v1M165 34v1M166 31v1M173 30v2M173 36v1M174 30v1M175 30v1M178 31v3M179 33v2M180 30v1M181 30v1M182 11v1M183 28v1M183 39v1M184 36v3M188 33v2M190 33v1M190 35v1M193 11v1M194 31v2M194 37v1M197 11v1M197 30v1M197 33v1M198 30v1M200 29v1M201 31v1M202 11v1M202 30v1M204 30v1M204 33v2M207 30v1M208 34v2M210 36v1M211 30v1M212 30v1"/><path stroke="#54ff00" d="M0 9v1M1 28v2M1 39v1M2 29v5M4 39v1M5 28v1M6 9v1M6 29v2M9 30v2M9 35v1M11 24v1M11 30v2M12 29v1M12 36v2M13 23v1M13 28v2M13 34v1M13 37v1M15 24v3M15 28v1M15 39v1M16 31v2M16 37v1M17 9v1M17 28v4M17 35v1M18 9v1M18 27v1M18 29v1M18 33v4M18 39v1M19 32v1M21 29v2M21 37v1M22 28v1M24 32v2M25 33v1M25 37v1M26 9v1M26 34v1M27 23v1M27 30v1M27 32v1M27 34v1M28 23v1M29 9v1M29 24v2M29 33v2M31 24v1M32 24v1M33 27v1M34 36v2M36 9v1M36 37v1M41 23v1M42 24v1M43 9v1M43 23v1M46 24v1M46 38v1M47 22v1M48 25v1M49 9v1M50 36v2M51 31v1M52 28v1M52 35v3M56 33v1M56 35v1M57 23v1M57 27v1M58 24v1M59 23v1M60 30v1M61 23v1M61 35v1M61 38v1M63 26v1M64 26v2M64 36v2M65 28v3M65 32v3M65 37v1M66 31v2M67 39v1M68 30v1M68 33v1M69 27v2M69 36v2M71 27v1M71 39v1M72 24v1M73 24v1M74 23v1M77 23v1M78 23v1M79 37v2M80 30v1M80 36v1M81 36v2M82 37v1M84 24v1M84 28v3M85 23v1M86 25v1M87 23v1M89 25v2M91 25v1M92 24v1M92 38v2M93 39v1M94 27v1M94 30v1M94 33v1M95 36v1M96 29v1M96 34v2M98 27v1M98 32v1M98 39v1M101 39v1M103 10v1M103 23v1M104 37v2M105 23v1M107 33v1M107 36v1M108 38v1M110 31v2M111 27v1M111 39v1M112 26v1M112 28v2M112 31v3M112 38v1M113 39v1M116 24v1M117 10v1M117 39v1M118 32v1M119 23v1M120 23v1M121 24v1M122 30v1M122 32v1M122 37v1M125 31v1M125 35v1M127 36v3M128 39v1M129 28v1M129 38v2M130 27v2M131 11v1M132 27v1M133 27v1M134 26v1M135 26v1M137 11v1M138 27v1M139 28v1M140 10v1M146 28v1M148 30v1M150 30v1M153 11v1M153 36v2M156 11v1M159 11v1M159 30v1M160 31v2M160 35v2M161 11v1M162 11v1M164 31v4M166 30v1M169 30v1M170 30v1M171 30v1M173 32v1M173 34v2M176 30v1M177 29v1M181 29v1M183 11v1M184 27v1M190 34v1M191 29v1M192 29v1M193 30v1M194 30v1M194 36v1M195 30v1M205 29v1M206 29v1M207 11v1M209 30v1M210 11v1M210 31v1"/><path stroke="#73ff00" d="M7 25v1M9 38v2M13 35v2M14 23v1M15 27v1M16 9v1M16 38v2M17 27v1M17 32v3M18 30v3M22 25v1M25 34v3M27 33v1M29 23v1M30 22v1M31 23v1M32 23v1M33 28v1M33 35v2M34 38v1M45 38v1M46 39v1M47 10v1M48 24v1M49 23v1M50 9v1M50 38v2M51 25v1M54 26v1M55 38v1M56 34v1M57 28v1M60 24v1M61 39v1M63 23v1M63 38v1M64 25v1M65 27v1M65 31v1M65 35v2M65 38v1M66 28v1M68 31v1M70 23v1M70 39v1M71 9v1M71 23v1M76 23v1M79 8v1M80 28v2M80 37v1M83 9v1M89 24v1M91 23v2M94 31v2M96 30v4M98 24v1M98 30v2M99 10v1M100 23v1M101 23v1M105 10v1M106 23v1M107 34v2M108 39v1M109 9v1M109 28v1M111 36v1M111 38v1M112 25v1M112 30v1M112 39v1M113 26v1M113 28v1M117 23v1M118 24v1M118 26v1M122 10v1M122 31v1M124 10v1M126 10v1M127 39v1M128 25v2M129 25v3M130 23v1M131 26v1M137 26v1M143 32v1M144 28v1M147 12v1M151 29v1M153 30v1M154 11v1M154 29v1M155 30v1M156 30v2M157 30v1M158 29v1M160 30v1M162 29v1M163 11v1M164 30v1M165 29v1M167 29v1M168 29v1M172 29v1M173 11v1M173 33v1M178 30v1M179 29v1M180 29v1M186 29v1M187 29v1M188 29v1M190 29v1M191 11v1M201 30v1M207 29v1M210 30v1M210 32v2M210 35v1M211 29v1M212 29v1"/><path stroke="#91ff00" d="M0 24v1M1 25v1M9 36v2M13 9v1M24 24v1M33 29v6M34 39v1M35 10v1M45 10v1M48 23v1M55 39v1M56 10v1M58 23v1M63 9v1M63 39v1M65 39v1M68 32v1M69 9v1M72 23v1M75 22v1M76 9v1M80 8v1M82 38v1M86 24v1M88 23v1M89 23v1M90 10v1M96 9v1M99 22v1M102 23v1M106 10v1M111 37v1M112 10v1M113 27v1M116 23v1M118 25v1M121 23v1M125 32v1M125 34v1M129 24v1M131 24v2M132 11v1M132 26v1M133 26v1M134 12v1M134 25v1M136 26v1M139 27v1M140 29v1M141 29v1M143 11v1M143 31v1M145 29v1M147 29v1M148 29v1M149 29v1M152 30v1M156 33v1M161 29v1M163 29v1M164 11v1M166 29v1M171 12v1M173 29v1M174 29v1M175 29v1M181 28v1M185 27v1M187 12v1M189 28v1M194 29v1M196 29v1M198 29v1M199 29v1M202 29v1M203 30v1M204 29v1M205 28v1M208 11v1M208 29v1M210 29v1M210 34v1M211 11v1"/><path stroke="#a9ff00" d="M3 10v1M9 24v1M22 10v1M31 10v1M37 10v1M38 10v1M42 23v1M44 22v1M45 22v1M45 39v1M46 23v1M54 10v1M60 23v1M62 23v1M66 10v1M67 10v1M73 23v1M74 10v1M74 22v1M77 9v1M80 38v1M82 39v1M84 9v1M90 22v1M92 23v1M96 27v1M98 23v1M101 10v1M104 22v1M107 10v1M113 23v1M118 23v1M119 22v1M125 33v1M128 11v1M129 10v1M130 11v1M133 25v1M134 23v2M135 23v1M135 25v1M137 24v2M138 11v1M138 26v1M139 26v1M142 29v1M143 30v1M144 10v1M146 27v1M150 29v1M154 28v1M156 29v1M156 32v1M157 29v1M159 29v1M160 11v1M165 11v1M166 11v1M167 11v1M169 29v1M170 29v1M171 29v1M172 12v1M176 29v1M177 12v1M178 29v1M181 12v1M182 27v1M188 12v1M190 11v1M192 11v1M192 28v1M193 29v1M195 29v1M197 29v1M201 12v1M209 29v1"/><path stroke="#c0ff00" d="M2 10v1M11 23v1M15 10v1M21 10v1M26 23v1M28 10v1M29 22v1M32 10v1M33 10v1M39 10v1M43 22v1M46 10v1M48 10v1M52 10v1M53 27v1M57 10v1M59 22v1M61 10v1M61 22v1M68 26v1M70 9v1M80 39v1M86 23v1M89 10v1M91 22v1M93 9v1M97 10v1M98 10v1M114 22v1M115 11v1M115 22v1M123 10v1M131 23v1M132 25v1M133 24v1M135 22v1M135 24v1M137 23v1M139 25v1M140 28v1M142 11v1M144 27v1M145 12v1M150 11v1M152 11v1M153 29v1M157 11v1M158 28v1M164 29v1M168 12v1M169 12v1M178 12v1M179 12v2M180 12v1M180 28v1M181 27v1M184 11v1M185 11v1M189 12v1M190 22v1M191 28v1M200 28v1M201 29v1M204 11v1M205 12v1M205 27v1M206 28v1M207 28v1M211 28v1"/><path stroke="#d7ff00" d="M4 10v1M5 10v1M8 10v1M9 10v1M12 10v1M13 22v1M14 10v1M23 10v1M31 22v1M40 10v1M48 22v1M52 26v1M57 22v1M62 10v1M76 22v1M82 9v1M85 22v1M87 10v1M87 22v1M89 22v1M95 9v1M100 22v1M102 11v1M103 22v1M105 22v1M111 10v1M114 11v1M116 22v1M118 11v1M120 22v1M124 26v1M129 23v1M130 22v1M132 24v1M133 23v1M136 23v3M138 24v2M139 23v2M141 11v1M142 28v1M143 29v1M145 13v1M145 28v1M146 26v1M148 12v1M148 28v1M152 29v1M154 27v1M155 12v1M155 29v1M158 12v1M160 29v1M161 12v1M162 28v1M165 28v1M170 12v1M171 28v1M172 28v1M173 28v1M174 12v1M174 28v1M175 12v1M176 12v1M177 28v1M179 28v1M181 26v1M186 12v1M187 13v1M187 28v1M188 13v1M188 28v1M189 27v1M190 21v1M190 23v1M191 13v1M191 25v3M192 27v1M193 12v1M194 28v1M196 12v1M196 28v1M198 12v1M199 12v1M199 28v1M200 12v1M202 28v1M203 11v1M205 26v1M206 12v1M210 28v1M212 28v1"/><path stroke="#ebff00" d="M4 26v1M6 25v1M10 10v1M11 10v1M28 22v1M30 10v1M34 10v1M41 10v1M51 10v1M53 11v1M55 10v1M58 10v1M58 22v1M59 10v1M71 22v1M72 10v1M72 22v1M73 10v1M77 22v1M78 9v1M85 10v1M86 10v1M91 10v1M108 10v1M108 26v1M116 11v1M121 11v1M121 22v1M125 11v1M132 23v1M134 22v1M137 22v1M138 23v1M139 22v1M140 27v1M143 28v1M145 14v1M145 27v1M146 12v1M147 20v1M147 28v1M148 27v1M151 11v1M151 28v1M154 12v1M154 26v1M156 27v2M158 13v1M161 13v1M161 28v1M163 16v2M163 28v1M166 28v1M167 28v1M168 28v1M169 28v1M171 13v1M171 26v2M172 13v1M174 27v1M175 28v1M176 28v1M179 27v1M181 25v1M182 12v1M186 28v1M187 14v1M188 14v1M190 28v1M191 14v2M191 24v1M193 17v1M194 12v1M195 12v1M197 12v1M198 13v1M198 28v1M203 29v1M205 18v1M206 27v1M207 12v1M207 27v1M208 28v1M209 12v1M209 28v1M211 12v2M212 11v1"/><path stroke="#feff00" d="M0 10v1M2 26v1M7 10v1M19 10v1M19 26v1M20 10v1M24 10v1M25 10v1M27 10v1M30 21v1M41 22v1M42 10v1M44 10v1M47 21v1M49 10v1M60 10v1M60 22v1M62 22v1M64 10v1M65 10v1M65 26v1M68 10v1M69 24v1M73 22v1M75 10v1M86 22v1M88 10v1M88 22v1M94 9v1M100 11v1M101 22v1M102 22v1M110 10v1M110 28v1M113 11v1M117 22v1M119 11v1M126 11v1M126 28v1M127 11v1M133 22v1M135 12v1M135 21v1M136 12v1M136 22v1M137 12v1M139 11v1M139 21v1M140 26v1M141 28v1M142 27v1M143 12v1M144 12v2M144 26v1M145 26v1M146 13v1M146 24v2M147 13v1M147 19v1M147 21v1M147 26v2M148 24v1M148 26v1M149 12v1M149 28v1M153 28v1M154 13v6M154 25v1M156 12v1M156 20v1M156 26v1M157 13v1M157 28v1M158 14v1M158 27v1M159 12v1M159 28v1M161 14v1M161 27v1M162 12v1M162 27v1M163 12v1M163 15v1M164 28v1M167 12v2M168 13v1M168 22v2M169 22v2M169 27v1M170 28v1M172 27v1M173 27v1M174 13v2M175 27v1M176 27v1M177 13v2M177 27v1M178 13v2M178 28v1M179 14v1M180 27v1M181 23v2M183 12v1M186 13v1M187 15v1M187 26v2M189 26v1M190 17v4M190 24v1M190 26v2M191 12v1M191 16v1M191 18v2M191 22v2M192 12v1M193 16v1M193 18v1M193 28v1M195 28v1M196 13v1M196 27v1M197 28v1M198 26v2M201 13v1M202 12v1M202 27v1M204 28v1M205 13v3M205 17v1M205 19v1M205 22v4M206 25v2M207 26v1M208 12v1M208 27v1M209 27v1M210 12v1M210 27v1M211 14v1M211 24v1M211 27v1M212 27v1"/><path stroke="#ffeb00" d="M1 10v1M3 11v1M10 23v1M16 10v1M17 26v1M23 24v1M31 11v1M32 22v1M33 23v1M35 11v1M36 10v1M37 11v1M42 22v1M43 10v1M46 22v1M50 10v1M54 11v1M56 11v1M74 21v1M77 10v1M81 9v1M83 10v1M90 11v1M90 21v1M92 10v1M96 10v1M97 11v1M99 11v1M103 11v1M104 11v1M109 10v1M117 11v1M118 22v1M120 11v1M122 11v1M124 11v1M128 12v1M131 12v1M131 22v1M132 22v1M133 12v1M136 13v1M136 21v1M138 12v1M138 22v1M139 20v1M140 11v1M140 24v2M141 12v1M142 12v1M142 26v1M143 13v1M143 27v1M144 11v1M144 14v1M144 25v1M145 15v1M145 23v3M146 23v1M147 18v1M147 25v1M148 23v1M148 25v1M149 27v1M150 28v1M152 12v2M152 27v2M153 12v1M154 19v2M154 23v2M155 13v1M155 25v2M156 15v3M156 19v1M156 21v2M156 25v1M157 14v1M158 15v1M158 23v4M159 13v2M162 22v3M163 13v2M163 21v1M163 27v1M164 12v1M165 27v1M166 27v1M167 27v1M168 24v4M169 13v1M169 24v3M170 13v2M171 14v1M171 16v2M171 25v1M172 14v2M172 24v3M173 12v1M174 15v1M175 13v1M176 26v1M177 15v2M178 15v4M178 27v1M179 26v1M180 13v1M180 15v1M180 22v1M180 26v1M181 13v2M181 16v7M183 26v1M185 26v1M186 16v2M186 20v1M187 16v1M187 21v5M188 15v5M188 23v1M188 27v1M189 13v2M189 18v2M189 24v2M190 12v1M190 16v1M190 25v1M191 17v1M191 20v2M192 14v2M192 19v2M192 26v1M193 13v1M193 15v1M193 27v1M194 27v1M195 27v1M196 14v1M196 26v1M197 13v1M197 26v2M199 13v1M199 27v1M200 27v1M201 28v1M203 12v2M203 28v1M205 16v1M205 20v2M207 13v1M207 25v1M210 26v1M211 15v1M211 22v2M211 25v2M212 13v2M212 18v5M212 26v1"/><path stroke="#ffd100" d="M6 10v1M8 11v1M8 24v1M14 11v1M15 11v1M18 10v1M21 11v1M21 25v1M22 11v1M25 23v1M26 10v1M28 11v1M29 10v1M33 11v1M38 11v1M39 11v1M43 21v1M45 11v1M47 11v1M48 21v1M56 23v1M59 11v1M63 22v1M67 11v1M69 10v1M70 22v1M71 10v1M72 21v1M75 21v1M76 10v1M79 9v1M82 27v1M83 25v1M87 11v1M91 21v1M95 10v1M99 21v1M102 12v1M104 21v1M105 11v1M106 11v1M107 24v1M114 21v1M119 21v1M121 12v1M122 22v1M123 24v1M125 12v1M127 12v1M129 11v1M130 12v1M130 21v1M132 21v1M134 13v1M137 13v1M137 15v2M137 21v1M139 12v2M139 19v1M140 13v3M141 27v1M144 15v1M145 16v3M145 22v1M146 14v1M146 16v1M147 14v2M147 17v1M147 22v3M149 13v1M149 26v1M150 12v1M150 27v1M152 26v1M153 26v2M154 21v2M155 14v1M155 20v2M155 27v2M156 13v2M156 18v1M156 23v2M157 12v1M157 15v1M158 16v1M159 27v1M160 12v1M161 15v1M161 26v1M162 13v1M162 21v1M162 25v2M163 18v1M163 20v1M163 22v1M164 27v1M165 12v1M166 12v4M167 26v1M168 14v1M168 21v1M169 14v1M169 17v2M169 21v1M170 15v4M170 27v1M171 15v1M171 18v5M171 24v1M172 16v2M172 22v2M173 22v5M174 26v1M175 14v1M175 26v1M177 17v1M177 25v2M178 19v1M178 26v1M179 15v1M180 14v1M180 16v1M180 21v1M181 15v1M182 26v1M185 12v2M186 14v2M186 18v2M186 21v2M187 17v1M187 19v2M188 20v1M188 22v1M188 24v1M188 26v1M189 15v3M189 20v1M189 23v1M190 13v1M190 15v1M192 13v1M192 16v1M192 18v1M192 21v1M193 14v1M193 19v6M193 26v1M194 13v1M194 16v1M195 13v1M195 26v1M196 15v2M197 14v1M197 25v1M198 14v1M198 25v1M201 27v1M202 13v1M203 14v1M203 27v1M204 12v3M204 26v2M206 13v1M206 16v4M206 24v1M207 14v3M208 26v1M209 26v1M211 16v3M211 21v1M212 12v1M212 23v1M212 25v1"/><path stroke="#ffb800" d="M2 11v1M9 11v1M10 11v1M12 11v1M12 22v1M13 10v1M17 10v1M24 11v1M25 11v1M29 21v1M30 11v1M31 21v1M32 11v1M34 11v1M34 24v1M38 25v1M39 24v1M40 11v1M40 23v1M44 21v1M45 21v1M46 11v1M48 11v1M49 22v1M51 11v1M53 12v1M55 11v1M57 11v1M58 21v1M59 21v1M60 11v1M61 11v1M61 21v1M62 11v1M64 11v1M64 24v1M66 11v1M70 10v1M74 11v1M76 21v1M80 9v1M80 26v1M81 28v1M83 11v1M84 10v1M86 11v1M89 11v1M89 21v1M93 10v1M98 11v1M99 12v1M100 12v1M107 11v1M108 11v1M109 11v1M110 11v1M111 11v1M115 12v1M116 12v1M118 12v1M119 12v1M123 11v1M126 12v1M128 13v1M130 13v1M131 13v1M132 12v1M134 14v2M134 21v1M135 13v1M135 20v1M136 14v1M136 17v2M137 14v1M138 21v1M139 16v3M140 12v1M140 23v1M141 13v2M141 26v1M142 13v1M143 14v1M143 26v1M144 16v2M144 21v1M144 24v1M145 19v3M146 15v1M146 17v1M146 22v1M147 16v1M148 13v2M148 22v1M149 14v2M149 25v1M150 13v1M150 26v1M151 12v1M151 27v1M152 14v1M152 16v1M153 13v1M153 25v1M155 15v1M155 19v1M155 22v3M157 16v8M157 27v1M158 17v1M158 22v1M159 15v1M160 13v1M160 28v1M161 16v1M162 14v1M162 17v2M163 19v1M163 23v1M163 26v1M164 13v1M164 16v5M164 26v1M165 13v3M165 26v1M167 14v1M168 15v2M169 15v2M169 19v2M170 19v1M170 22v5M171 23v1M172 18v4M173 13v1M173 16v3M174 16v1M175 15v1M176 13v1M177 24v1M178 25v1M179 16v3M179 21v2M179 25v1M180 17v4M180 23v1M180 25v1M182 13v1M183 13v1M184 26v1M185 24v2M186 23v5M187 18v1M188 21v1M188 25v1M189 21v2M190 14v1M192 17v1M192 22v4M193 25v1M194 14v2M194 17v1M194 23v2M194 26v1M195 17v2M195 25v1M196 17v1M196 25v1M198 24v1M199 14v1M199 26v1M200 13v2M200 26v1M201 14v1M201 26v1M202 14v1M202 26v1M203 15v2M203 26v1M204 15v4M204 25v1M206 14v2M206 20v2M207 17v1M207 23v2M208 13v1M209 13v4M209 25v1M210 13v4M210 25v1M211 19v2M212 15v1M212 17v1M212 24v1"/><path stroke="#ff9f00" d="M1 11v1M4 11v1M5 11v1M7 11v1M11 11v1M16 11v1M19 11v1M20 11v1M20 25v1M23 11v1M27 11v1M27 22v1M28 21v1M35 25v1M36 11v1M36 26v1M41 11v1M42 11v1M44 11v1M49 11v1M52 11v1M54 12v2M55 24v1M58 11v1M60 21v1M63 10v1M68 11v1M72 11v1M73 11v1M73 21v1M75 11v1M77 11v1M78 10v1M81 10v1M82 10v1M85 11v1M85 21v1M86 21v1M88 11v1M90 12v1M91 11v1M92 22v1M93 11v1M93 24v1M100 21v1M101 11v1M102 21v1M103 12v1M103 21v1M105 21v1M112 11v1M113 12v1M114 12v1M115 21v1M116 21v1M117 12v1M118 13v1M120 12v1M120 21v1M124 12v1M125 13v1M126 13v1M130 14v1M131 21v1M132 13v3M133 21v1M134 16v1M135 19v1M136 15v2M136 19v2M137 17v1M137 20v1M138 13v1M138 20v1M139 14v2M140 16v1M140 22v1M141 15v1M141 23v3M142 14v1M142 25v1M143 15v1M144 20v1M144 22v2M146 18v1M148 15v2M149 16v1M149 24v1M150 14v2M151 13v1M151 15v1M152 15v1M152 17v1M153 14v5M153 24v1M155 16v1M155 18v1M157 26v1M158 18v1M159 16v2M159 26v1M161 17v1M162 15v2M162 19v2M163 24v2M164 14v2M164 23v3M165 16v1M166 16v1M166 26v1M167 25v1M168 17v1M168 20v1M170 20v2M173 14v2M173 21v1M174 17v1M175 16v1M175 25v1M176 14v1M177 18v1M177 20v4M178 20v5M179 19v2M179 23v2M180 24v1M182 14v1M182 17v2M182 25v1M183 14v1M184 12v1M185 14v4M185 23v1M194 18v1M194 22v1M194 25v1M195 14v1M195 16v1M195 23v2M196 24v1M197 15v1M197 24v1M198 15v1M198 23v1M200 15v1M200 19v2M200 25v1M203 25v1M204 19v1M204 24v1M206 22v2M207 22v1M209 24v1M210 17v1M210 24v1M212 16v1"/><path stroke="#ff8600" d="M0 11v1M2 12v1M3 12v1M6 11v1M12 12v1M14 22v1M18 11v1M21 12v1M26 11v1M28 12v1M29 11v1M30 12v1M31 12v1M32 12v1M35 12v1M37 12v1M37 26v1M39 12v1M42 21v1M45 12v1M48 12v1M50 11v1M59 12v1M62 21v1M65 11v1M67 12v1M71 21v1M76 11v1M77 21v1M83 12v1M87 21v1M88 21v1M92 11v1M94 10v1M96 11v1M97 12v1M102 13v1M103 13v1M104 12v1M111 26v1M117 21v1M121 21v1M122 12v1M123 12v1M124 13v1M127 13v1M127 26v1M129 12v1M130 15v1M131 14v1M132 16v1M135 14v1M135 16v3M137 18v2M138 14v1M138 19v1M140 17v1M141 22v1M142 15v1M144 18v2M146 19v3M148 17v5M149 17v2M149 22v2M150 16v1M150 25v1M151 14v1M151 16v1M152 25v1M153 19v5M155 17v1M157 24v2M158 21v1M160 14v1M164 21v2M166 17v1M167 15v1M168 18v2M173 19v2M176 15v1M176 25v1M177 19v1M182 15v2M182 19v1M182 24v1M183 15v1M183 25v1M184 13v1M184 25v1M185 18v5M194 19v3M195 15v1M195 19v1M195 22v1M196 18v1M196 22v2M197 16v1M198 16v1M198 22v1M199 15v1M199 23v3M200 16v3M200 21v1M200 24v1M201 24v2M202 15v1M203 17v1M203 24v1M204 23v1M207 18v1M208 14v4M209 17v1M210 18v1M210 22v2"/><path stroke="#ff6e00" d="M1 12v1M4 13v1M5 25v1M7 12v1M8 12v1M9 12v1M10 12v1M13 11v1M14 12v1M15 12v1M17 11v1M21 13v1M22 12v1M30 13v1M30 20v1M33 12v1M34 12v1M38 12v1M40 12v1M41 12v1M43 11v1M46 21v1M47 12v1M54 14v1M54 25v1M56 12v1M57 12v2M63 11v1M64 12v1M67 27v1M69 11v1M71 11v1M77 12v1M78 22v1M79 10v1M79 24v1M80 10v1M83 13v1M87 12v3M93 12v1M94 11v1M94 26v1M95 11v1M95 28v1M97 24v1M98 12v1M105 12v1M106 12v1M106 22v1M111 12v1M113 13v1M123 13v1M125 27v1M129 13v1M133 13v1M135 15v1M138 15v4M140 18v1M140 21v1M141 16v1M142 16v1M143 16v1M143 25v1M149 19v1M149 21v1M151 26v1M158 19v2M159 18v1M159 25v1M160 27v1M161 22v2M161 25v1M165 17v1M166 18v1M166 25v1M167 16v1M174 18v1M174 25v1M175 17v1M176 16v1M182 22v2M183 16v1M184 14v1M195 20v2M196 21v1M197 17v1M197 23v1M198 17v2M198 21v1M199 16v3M199 22v1M200 22v1M201 15v2M201 23v1M202 25v1M203 21v3M204 20v3M207 21v1M208 18v1M208 25v1M209 18v2M209 23v1M210 19v3"/><path stroke="#ff5500" d="M1 13v1M3 13v1M3 26v1M4 14v1M11 12v1M12 13v1M16 24v1M20 12v1M22 13v1M22 24v1M24 12v1M25 12v1M30 14v1M36 12v1M36 25v1M37 13v1M39 13v1M42 12v1M46 12v1M47 20v1M48 13v1M49 12v1M50 23v1M51 24v1M55 12v1M57 14v1M59 13v1M61 12v1M62 12v1M66 12v1M70 11v1M72 12v2M72 20v1M74 12v1M78 11v1M81 11v1M82 11v1M84 11v1M86 12v1M88 12v1M90 13v1M91 12v1M92 12v2M94 12v1M96 12v1M97 13v1M99 13v1M100 13v1M101 12v1M101 21v1M102 14v1M103 14v1M104 13v1M104 18v1M107 12v1M108 12v1M109 12v1M110 12v1M116 13v1M118 14v1M118 21v1M119 13v1M120 13v1M121 13v1M126 27v1M130 20v1M131 15v1M131 19v2M132 17v1M132 20v1M133 14v2M134 17v1M140 19v2M141 21v1M142 17v1M142 24v1M143 21v4M149 20v1M150 17v1M151 17v1M152 18v1M159 19v6M161 18v1M161 21v1M165 25v1M166 24v1M167 17v1M167 24v1M174 19v1M175 24v1M182 20v2M183 17v1M184 22v3M196 19v1M197 18v1M197 20v3M198 19v2M199 19v1M199 21v1M200 23v1M201 17v2M201 20v3M202 16v1M203 18v1M203 20v1M207 19v2M208 19v1M209 20v1"/><path stroke="#ff3a00" d="M2 13v1M4 12v1M4 25v1M6 12v2M6 24v1M7 13v1M7 24v1M9 13v1M10 13v1M10 22v1M11 13v1M15 23v1M16 12v2M18 12v1M18 26v1M19 12v2M23 12v1M24 23v1M26 12v1M27 12v1M28 13v1M29 12v1M30 15v1M31 13v1M35 13v1M36 13v1M38 13v1M39 14v1M40 13v1M41 13v1M42 13v1M44 12v1M46 13v1M48 14v1M48 20v1M49 14v1M50 12v1M51 12v1M52 12v1M53 13v1M54 15v1M55 13v1M57 21v1M58 12v1M60 12v1M62 13v1M66 27v1M67 13v1M67 26v1M68 12v1M72 14v1M73 12v1M75 12v1M75 20v1M77 13v1M80 25v1M82 12v2M82 26v1M83 14v1M83 24v1M85 12v1M87 15v1M89 12v1M90 14v1M91 20v1M93 13v1M95 12v1M96 13v1M104 17v1M104 19v2M109 27v1M111 13v1M112 12v1M113 14v1M114 13v1M115 13v1M122 13v1M123 14v1M126 14v1M128 24v1M129 14v1M130 16v1M131 18v1M132 19v1M134 20v1M141 17v1M141 19v2M143 17v4M150 18v1M150 24v1M151 18v1M151 25v1M152 19v4M152 24v1M160 15v1M160 18v1M160 24v3M161 24v1M165 18v1M166 19v5M167 18v2M174 20v5M175 18v1M176 17v1M176 20v2M176 24v1M183 18v1M183 24v1M184 15v1M196 20v1M197 19v1M199 20v1M201 19v1M202 24v1M203 19v1M208 20v1M209 21v2"/><path stroke="#ff1800" d="M0 12v1M0 23v1M1 24v1M2 25v1M5 12v1M6 14v1M8 13v1M11 14v1M13 12v1M13 21v1M17 12v1M19 25v1M20 13v1M20 24v1M21 14v1M23 23v1M25 22v1M27 13v1M30 16v4M31 20v1M32 13v1M34 13v1M40 14v1M41 14v1M44 13v2M45 13v1M47 13v1M48 15v1M49 13v1M49 15v1M49 18v2M50 13v1M55 14v1M55 23v1M56 13v1M57 15v1M58 13v1M59 14v1M59 20v1M62 14v1M63 12v1M64 13v1M65 12v1M66 13v1M67 14v2M69 12v1M70 12v1M70 21v1M71 12v1M73 20v1M74 13v1M74 20v1M75 13v2M76 12v1M77 17v2M78 12v1M80 11v1M81 12v1M81 27v1M84 13v2M84 23v1M87 16v1M90 15v1M90 20v1M91 13v1M92 14v1M93 14v1M98 22v1M99 14v1M100 20v1M101 13v1M102 15v1M102 20v1M104 14v1M104 16v1M108 13v1M109 13v1M113 15v1M114 20v1M116 14v1M117 13v1M118 15v1M119 14v1M119 17v1M119 20v1M120 14v1M123 23v1M125 14v1M126 26v1M127 25v1M128 14v1M129 22v1M130 17v1M130 19v1M131 16v2M132 18v1M133 16v1M133 20v1M134 18v2M141 18v1M142 18v1M142 23v1M150 19v1M151 19v1M152 23v1M160 17v1M161 19v2M165 21v4M167 20v1M167 23v1M175 23v1M176 18v2M176 22v2M183 19v2M184 16v2M184 21v1M202 17v2M202 23v1M208 21v1M208 24v1"/><path stroke="#f70005" d="M1 14v1M2 14v1M4 15v1M5 13v1M9 14v1M10 14v1M11 15v1M12 14v1M14 13v1M15 13v1M15 16v1M16 14v1M17 13v1M18 13v1M19 14v1M21 15v1M22 14v1M23 13v4M25 13v1M28 14v1M28 20v1M29 16v2M29 20v1M31 14v1M32 21v1M33 13v1M34 23v1M36 14v1M36 24v1M38 24v1M39 15v1M41 21v1M42 14v4M43 12v2M43 20v1M46 14v1M46 17v1M48 16v1M49 17v1M49 20v2M50 14v1M51 13v1M53 26v1M57 20v1M58 14v1M58 20v1M59 18v2M60 13v1M60 16v1M60 20v1M61 13v1M61 20v1M62 15v1M63 14v2M66 26v1M67 16v1M68 25v1M69 13v3M69 23v1M71 17v1M72 15v1M72 19v1M73 17v1M74 14v1M75 15v1M77 14v1M77 16v1M79 11v1M80 12v1M81 13v1M81 26v1M84 12v1M86 13v1M86 20v1M88 13v1M89 13v3M89 20v1M91 14v1M93 15v1M94 25v1M95 27v1M98 13v1M99 20v1M100 14v3M101 14v1M102 16v4M103 15v1M104 15v1M107 23v1M110 26v2M111 14v1M111 25v1M112 13v1M112 24v1M113 16v1M114 14v2M117 15v2M118 16v2M119 15v2M119 18v2M120 18v1M120 20v1M121 14v1M122 14v1M123 15v3M124 25v1M125 15v1M125 26v1M126 15v1M127 14v1M128 23v1M130 18v1M133 17v1M142 19v1M142 22v1M150 23v1M151 24v1M160 16v1M160 19v1M160 23v1M165 19v2M175 19v1M175 22v1M183 21v3M202 19v1M208 22v2"/><path stroke="#e70012" d="M0 13v1M2 15v1M3 14v1M4 16v1M4 24v1M6 15v1M7 14v2M8 23v1M9 15v1M9 23v1M10 15v2M10 19v1M11 16v1M12 18v2M12 21v1M13 20v1M14 16v2M15 14v2M15 17v1M19 15v1M20 14v1M21 16v1M21 24v1M23 17v1M24 13v3M24 18v2M27 14v1M29 13v3M31 15v1M31 18v2M32 14v3M33 22v1M35 14v2M35 24v1M37 14v1M38 14v1M40 15v2M41 15v2M42 18v1M42 20v1M43 14v1M44 15v1M44 20v1M45 14v2M46 15v2M46 18v1M46 20v1M47 16v2M47 19v1M48 17v3M49 16v1M50 15v1M51 16v2M51 23v1M52 25v1M53 14v1M54 16v1M54 24v1M55 15v1M56 14v3M56 22v1M57 16v1M57 19v1M58 19v1M59 15v3M60 14v2M60 17v3M62 16v1M62 20v1M63 13v1M63 16v1M63 21v1M64 14v1M67 17v1M67 25v1M68 13v1M69 16v1M70 19v2M71 16v1M71 18v1M72 16v1M72 18v1M73 16v1M73 18v2M74 15v1M75 16v1M75 18v2M76 13v1M76 20v1M77 15v1M77 19v2M78 19v1M79 12v1M79 14v1M81 14v1M82 14v1M82 25v1M83 15v1M84 15v1M85 20v1M86 19v1M87 17v1M89 16v1M90 16v1M90 19v1M91 15v1M92 15v1M93 16v2M94 13v1M95 13v1M96 14v1M96 26v1M97 14v1M97 23v1M100 17v3M101 15v1M103 20v1M105 13v1M105 20v1M106 13v1M107 13v1M108 25v1M109 14v1M109 26v1M110 13v1M110 25v1M111 15v1M112 14v1M113 17v1M114 16v4M115 14v1M115 20v1M116 15v4M117 14v1M120 15v3M120 19v1M122 15v1M122 18v2M122 21v1M124 14v1M125 16v1M126 16v1M127 15v1M128 15v1M133 18v2M142 20v2M150 20v1M150 22v1M151 20v2M151 23v1M160 20v1M167 21v2M184 18v1M184 20v1M202 20v3"/><path stroke="#cd0026" d="M0 14v1M0 19v1M1 15v1M2 24v1M5 14v2M5 24v1M6 16v1M7 23v1M9 16v1M10 17v2M11 17v1M12 17v1M12 20v1M13 19v1M14 14v2M14 18v1M16 15v1M16 23v1M17 14v2M17 25v1M19 24v1M20 15v1M21 17v1M22 15v1M22 23v1M24 16v2M24 22v1M25 14v1M25 16v2M25 19v1M26 13v1M27 15v1M27 21v1M28 15v1M28 19v1M29 18v2M31 16v2M32 17v3M33 14v1M33 16v1M35 16v2M36 15v1M37 25v1M38 15v1M39 16v1M39 19v1M39 23v1M40 17v1M41 17v1M42 19v1M43 15v5M44 16v1M45 16v1M45 20v1M46 19v1M47 14v2M47 18v1M50 16v3M52 13v1M53 15v1M55 16v1M56 17v1M57 17v2M58 17v2M61 14v2M61 19v1M62 17v3M63 17v1M65 13v1M65 25v1M66 14v1M70 13v6M71 20v1M72 17v1M73 13v3M74 16v1M74 19v1M75 17v1M76 14v3M78 13v1M78 18v1M79 13v1M79 15v3M80 13v1M80 24v1M81 15v1M82 15v1M83 23v1M84 16v1M85 13v1M85 16v3M86 14v1M86 18v1M87 20v1M88 14v1M88 16v1M88 20v1M89 19v1M90 17v2M91 16v1M91 19v1M92 16v1M93 18v1M93 23v1M95 15v2M97 15v2M98 14v1M99 15v2M101 16v3M103 19v1M105 17v3M107 14v5M108 14v1M109 15v1M110 16v1M110 24v1M111 24v1M113 18v1M115 15v1M116 19v2M117 17v1M117 20v1M118 18v1M121 15v1M121 20v1M122 16v2M123 18v1M124 15v1M124 24v1M126 17v1M126 25v1M127 16v1M128 16v1M128 19v1M129 15v1M150 21v1M151 22v1M160 21v2M175 20v2M184 19v1"/><path stroke="#b0003c" d="M0 15v1M1 16v1M1 23v1M3 25v1M5 16v1M6 17v1M6 23v1M7 16v1M8 14v1M9 17v1M10 21v1M11 18v2M11 22v1M12 15v2M13 13v1M13 18v1M14 19v1M14 21v1M15 18v1M15 22v1M17 16v1M17 24v1M18 14v2M18 25v1M19 16v1M20 16v4M23 18v1M24 20v1M25 15v1M25 18v1M26 15v3M27 16v1M28 16v3M32 20v1M33 15v1M33 17v1M34 14v1M34 16v1M35 18v1M37 15v1M38 16v1M38 23v1M39 17v2M40 18v2M40 22v1M41 18v3M44 17v1M45 17v1M50 19v1M50 22v1M51 14v2M51 18v1M53 25v1M54 17v1M54 19v1M55 22v1M58 15v2M61 16v3M63 20v1M64 15v2M64 23v1M68 14v1M69 17v1M71 13v1M71 15v1M71 19v1M74 17v2M76 17v3M78 21v1M79 18v1M79 23v1M80 14v2M81 25v1M82 16v1M84 17v2M85 14v2M85 19v1M87 18v1M88 15v1M88 17v1M89 17v2M92 17v1M92 19v1M92 21v1M93 19v1M94 14v2M94 24v1M95 14v1M95 17v1M95 26v1M96 25v1M97 17v1M99 17v1M99 19v1M101 20v1M103 16v3M105 14v3M106 14v1M107 19v1M109 16v1M110 14v2M110 17v1M110 23v1M111 16v1M112 15v1M113 19v1M113 22v1M115 16v4M117 19v1M121 16v2M122 20v1M123 19v1M124 16v1M124 20v2M125 17v1M125 25v1M127 17v1M127 24v1M128 17v2M128 20v3M129 16v1M129 19v1"/><path stroke="#8f0056" d="M0 18v1M2 16v1M3 15v1M4 17v1M4 23v1M5 17v1M6 18v1M7 17v1M7 19v1M9 18v1M10 20v1M13 14v1M13 17v1M14 20v1M15 19v1M16 16v1M17 17v1M18 16v1M18 21v1M18 24v1M19 17v1M19 19v3M20 23v1M21 18v1M22 16v1M24 21v1M26 14v1M26 18v1M26 22v1M27 17v3M33 18v2M34 15v1M34 17v1M34 19v1M35 19v1M36 16v1M36 23v1M39 20v1M44 19v1M45 18v2M51 19v1M52 14v1M52 24v1M53 16v1M54 18v1M55 17v3M56 18v2M63 18v2M65 14v1M66 15v1M66 25v1M67 18v1M68 15v1M68 24v1M69 19v1M71 14v1M78 14v4M78 20v1M79 19v1M80 16v1M81 16v1M82 17v1M82 24v1M83 16v1M84 19v1M86 15v3M87 19v1M88 18v2M91 17v2M92 18v1M92 20v1M94 16v4M95 18v1M96 15v1M97 18v1M98 15v3M99 18v1M101 19v1M106 15v1M106 19v1M106 21v1M107 22v1M108 15v1M108 24v1M109 25v1M110 19v1M110 22v1M111 22v2M112 16v1M117 18v1M118 19v2M121 18v2M123 22v1M124 17v1M124 19v1M125 18v2M126 18v2M126 23v2"/><path stroke="#740071" d="M0 16v1M0 22v1M1 17v1M2 19v1M2 23v1M4 21v2M5 18v2M6 19v1M7 18v1M8 15v1M8 19v1M9 19v1M9 22v1M13 15v2M16 17v3M18 20v1M18 22v1M19 18v1M19 22v2M20 20v1M21 19v1M21 23v1M23 19v1M23 22v1M25 21v1M26 19v1M27 20v1M34 18v1M34 22v1M36 22v1M37 16v1M38 17v1M38 22v1M39 21v1M44 18v1M52 15v1M53 21v1M64 17v1M64 19v1M65 15v1M65 24v1M66 16v1M66 19v2M67 24v1M69 18v1M69 22v1M82 18v3M84 22v1M95 25v1M96 16v1M96 19v1M97 19v1M97 22v1M98 18v2M106 16v3M107 21v1M108 16v1M109 17v1M110 18v1M110 20v2M111 17v1M111 21v1M112 17v1M124 18v1M124 22v2M125 24v1M126 20v3M127 18v1M129 17v2M129 21v1"/><path stroke="#5d008c" d="M0 17v1M1 18v2M2 17v2M2 20v1M4 18v1M4 20v1M5 20v1M7 21v2M8 16v3M16 20v1M17 23v1M18 19v1M18 23v1M20 21v2M21 20v3M22 17v1M22 19v1M22 22v1M25 20v1M34 20v1M35 23v1M36 17v1M36 20v2M37 20v1M37 24v1M38 18v2M38 21v1M39 22v1M51 21v2M52 16v1M53 17v1M53 22v1M54 20v1M54 23v1M55 20v2M64 18v1M64 22v1M65 16v1M66 18v1M67 19v1M67 22v2M68 16v1M69 21v1M80 23v1M81 17v1M81 24v1M82 21v3M83 17v1M83 22v1M94 20v1M94 23v1M95 19v1M95 23v2M96 17v2M96 20v1M98 21v1M106 20v1M107 20v1M108 17v5M109 20v1M109 24v1M111 20v1M112 18v2M112 23v1M123 20v2M125 20v1M125 22v2M127 19v1M129 20v1"/><path stroke="#4b00aa" d="M0 20v1M1 20v3M2 21v2M3 16v1M3 24v1M4 19v1M5 21v1M5 23v1M6 22v1M7 20v1M8 20v1M8 22v1M11 20v2M16 21v2M17 18v1M18 17v2M22 18v1M22 21v1M23 21v1M34 21v1M35 20v1M36 18v2M37 17v1M37 19v1M37 21v1M38 20v1M40 20v1M51 20v1M53 20v1M53 24v1M54 21v1M56 21v1M64 20v1M65 17v1M65 19v1M66 17v1M66 21v1M66 24v1M67 20v2M68 17v4M68 23v1M69 20v1M80 17v1M80 22v1M81 18v6M83 18v4M93 22v1M94 21v2M95 20v3M96 21v1M96 24v1M97 20v2M108 22v2M109 18v2M109 21v2M111 18v2M113 20v2M125 21v1M127 20v1M127 23v1"/><path stroke="#3500c2" d="M0 21v1M3 17v5M5 22v1M6 20v2M8 21v1M9 20v2M15 20v2M17 19v4M22 20v1M23 20v1M33 20v2M37 18v1M40 21v1M50 20v2M52 17v1M52 23v1M53 18v2M53 23v1M54 22v1M56 20v1M64 21v1M65 18v1M65 20v1M65 23v1M68 21v2M79 20v1M79 22v1M80 18v2M80 21v1M93 20v2M96 22v1M98 20v1M109 23v1M127 21v2"/><path stroke="#2100d9" d="M3 22v2M26 20v2M35 21v2M37 22v2M52 18v2M52 21v2M65 21v2M66 22v2M79 21v1M80 20v1M84 20v2M96 23v1M112 20v1"/><path stroke="#1000ec" d="M52 20v1M112 21v2"/></g>
<g transform="translate(65.366,522.25) scale(1.93286,2.54175)" shape-rendering="crispEdges" fill="none" stroke-width="1.02"><path stroke="#eaffff" d="M3 39v1M82 39v1M99 38v1M129 38v1"/><path stroke="#d6ffff" d="M3 37v1M47 39v1M51 38v1M82 38v1M143 39v1M157 39v1"/><path stroke="#c1feff" d="M91 35v1"/><path stroke="#a9fdff" d="M10 37v1M26 38v1M58 38v1M80 35v1M147 35v1M148 36v1M157 38v1M160 34v1M205 39v1M209 39v1"/><path stroke="#91fbff" d="M47 38v1M68 39v1M90 39v1M94 35v1M97 37v1M114 39v1M132 39v1M146 35v1M147 36v1M148 37v1M157 37v1M174 38v1M186 39v1M194 34v1M195 37v1M204 38v1M210 36v1M210 38v1M212 33v1"/><path stroke="#78faff" d="M3 36v1M4 36v1M6 36v1M7 36v1M9 37v1M11 37v1M18 38v1M29 38v1M35 36v1M41 39v1M52 37v1M73 38v2M82 37v1M91 36v1M95 39v1M101 37v1M116 39v1M118 37v1M120 36v1M139 39v1M143 38v1M145 39v1M148 33v1M151 39v1M153 38v1M155 39v1M171 35v1M173 34v1M181 38v1M187 37v1M197 38v1M203 36v1M204 39v1M205 38v1M210 39v1"/><path stroke="#60f9fe" d="M1 37v1M31 39v1M40 37v1M63 38v1M64 36v1M66 35v1M68 38v1M80 36v1M91 34v1M95 38v1M99 37v1M119 39v1M123 34v1M134 37v1M146 34v1M146 36v1M147 34v1M151 36v1M151 38v1M152 38v2M155 38v1M161 38v1M170 33v1M172 35v1M181 33v1M185 37v1M194 36v1M195 35v1M195 38v1M197 33v1M203 35v1M208 35v1M210 35v1M212 38v1"/><path stroke="#4cf7fc" d="M2 36v1M6 37v1M8 37v1M16 37v1M30 39v1M57 37v1M79 35v1M84 37v1M84 39v1M87 39v1M96 39v1M107 36v1M109 37v1M111 36v1M114 38v1M117 36v1M122 35v1M124 33v1M127 37v1M128 35v1M132 38v1M133 37v2M136 36v4M137 38v2M141 38v1M144 35v1M149 36v1M151 33v1M151 37v1M152 37v1M155 37v1M156 39v1M160 33v1M162 39v1M165 33v1M165 38v1M170 34v1M171 37v1M172 38v1M173 38v1M176 35v1M178 38v1M179 34v1M187 33v1M187 38v2M189 34v1M194 33v1M197 39v1M198 39v1M205 37v1"/><path stroke="#3af5f8" d="M0 37v1M24 39v1M33 36v1M76 39v1M81 35v2M81 38v1M86 36v1M89 39v1M92 36v1M93 36v1M97 36v1M100 36v1M105 36v1M109 36v1M113 36v1M118 36v1M122 34v1M122 36v2M137 37v1M139 38v1M140 36v2M141 35v1M141 39v1M143 37v1M144 34v1M145 38v1M147 37v1M148 38v1M153 39v1M154 36v1M156 33v1M156 37v2M159 34v1M161 36v1M161 39v1M172 36v2M174 33v1M174 37v1M176 32v1M179 33v1M179 38v1M181 35v1M185 36v1M186 38v1M190 35v1M194 37v1M195 39v1M203 33v2M204 33v1M206 33v2M210 34v1M212 39v1"/><path stroke="#30f5f1" d="M6 38v1M14 37v1M16 38v1M23 36v1M36 36v1M44 37v1M45 38v1M47 37v1M49 37v1M58 37v1M61 37v1M69 34v1M73 36v1M80 33v1M81 37v1M81 39v1M82 36v1M84 38v1M87 38v1M89 38v1M91 37v1M95 37v1M105 35v1M108 34v1M110 35v1M111 35v1M116 38v1M119 38v1M124 39v1M128 38v1M129 35v1M130 38v1M133 39v1M136 35v1M137 36v1M139 35v2M143 33v2M146 33v1M146 37v1M152 36v1M154 32v1M158 37v2M159 37v1M162 38v1M167 39v1M170 32v1M172 34v1M173 33v1M174 34v1M179 35v1M183 36v1M188 36v1M190 33v2M194 38v2M198 35v2M198 38v1M205 36v1M208 34v1M210 33v1"/><path stroke="#27f4e7" d="M15 37v1M16 39v1M24 38v1M28 39v1M31 38v1M42 39v1M51 35v1M52 35v1M52 38v1M62 39v1M66 34v1M68 37v1M76 38v1M77 39v1M80 37v1M84 34v1M91 38v2M93 39v1M96 35v1M109 35v1M114 37v1M115 36v1M121 35v1M127 36v1M128 39v1M132 37v1M133 36v1M137 35v1M139 37v1M140 38v1M143 32v1M143 35v2M145 37v1M152 35v1M153 33v1M155 36v1M156 34v1M156 36v1M158 39v1M161 35v1M163 37v1M164 36v2M167 37v2M168 36v1M171 34v1M174 35v1M181 32v1M181 37v1M183 35v1M185 35v1M186 37v1M191 32v1M196 34v1M198 34v1M198 37v1M199 38v2M203 32v1M206 35v1M208 33v1M209 34v1"/><path stroke="#22f2d6" d="M1 36v1M3 35v1M6 35v1M6 39v1M10 36v1M12 39v1M16 36v1M21 36v1M24 37v1M32 36v1M33 35v1M34 36v1M35 35v1M37 36v1M39 36v1M41 38v1M43 39v1M48 37v1M54 36v1M56 38v1M63 37v1M64 35v1M70 35v1M72 38v1M74 37v3M75 35v1M78 34v1M89 37v1M90 38v1M92 35v1M94 34v1M95 36v1M96 38v1M119 37v1M120 35v1M125 34v1M130 37v1M134 36v1M136 34v1M139 34v1M140 35v1M144 32v1M145 34v2M146 32v1M146 38v2M147 33v1M147 38v1M151 32v1M152 34v1M154 37v1M155 35v1M156 32v1M156 35v1M157 32v1M158 36v1M159 33v1M160 32v1M161 34v1M162 37v1M163 36v1M164 34v2M165 39v1M166 36v1M169 39v1M170 35v1M170 37v1M173 39v1M174 36v1M176 36v1M176 38v2M177 32v1M179 32v1M179 36v2M181 36v1M182 36v1M184 33v1M185 33v2M187 32v1M188 33v1M188 39v1M193 34v1M196 33v1M196 35v1M199 37v1M202 37v1M205 33v3M206 32v1M207 35v1M210 32v1"/><path stroke="#1defc3" d="M4 35v1M19 36v1M26 37v1M49 36v1M53 36v1M59 39v1M67 37v1M79 33v1M80 38v1M81 34v1M88 37v1M93 35v1M95 35v1M97 35v1M101 36v1M104 39v1M106 38v1M107 35v1M111 34v1M114 36v1M116 37v1M119 36v1M122 33v1M123 33v1M133 35v1M137 34v1M140 39v1M141 34v1M145 33v1M145 36v1M148 32v1M148 39v1M150 35v1M153 32v1M161 33v1M162 34v2M163 35v1M164 33v1M165 32v1M166 35v1M167 36v1M169 34v1M169 38v1M170 36v1M174 32v1M176 37v1M177 33v1M182 35v1M183 34v1M185 32v1M186 36v1M188 37v1M189 33v1M190 32v1M192 36v1M194 32v1M198 33v1M206 36v1"/><path stroke="#1aeead" d="M12 38v1M17 36v1M18 37v1M22 36v1M23 35v1M24 36v1M25 36v1M28 38v1M29 37v1M38 35v1M47 36v1M55 36v1M62 38v1M65 34v2M76 37v1M80 39v1M82 35v1M83 34v1M85 35v1M87 37v1M89 36v1M92 34v1M96 34v1M96 36v1M99 36v1M102 35v1M104 38v1M106 39v1M109 34v1M113 35v1M118 35v1M128 34v1M130 36v1M136 33v1M137 33v1M140 34v1M145 32v1M147 39v1M152 33v1M158 35v1M161 32v1M162 36v1M163 34v1M166 37v1M168 35v1M169 33v1M169 35v1M169 37v1M171 38v1M172 33v1M178 37v1M182 34v1M183 33v1M188 38v1M195 34v1M196 36v1M196 38v2M199 36v1M204 32v1M205 32v1M207 34v1M208 32v1M209 33v1M212 32v1"/><path stroke="#17ec97" d="M5 39v1M8 36v1M9 36v1M28 37v1M40 36v1M43 38v1M49 35v1M57 36v1M58 36v1M61 36v1M62 37v1M63 36v1M66 33v1M67 35v1M68 36v1M74 36v1M77 38v1M95 34v1M103 36v2M106 37v1M110 34v1M121 34v1M124 32v1M130 35v1M131 38v2M132 36v1M138 34v2M142 37v2M154 38v2M155 34v1M158 34v1M159 32v1M162 33v1M164 32v1M164 38v1M166 34v1M167 35v1M168 33v2M169 32v1M169 36v1M171 33v1M175 33v1M180 33v2M182 33v1M186 35v1M196 32v1M196 37v1M197 32v1M198 32v1M200 32v1M200 35v2M201 37v1M207 33v1M211 39v1"/><path stroke="#14eb82" d="M0 36v1M5 38v1M12 37v1M19 35v1M20 36v3M30 38v1M31 37v1M36 35v1M50 36v1M52 39v1M53 35v1M56 37v1M60 35v1M64 34v1M65 33v1M67 34v1M67 36v1M72 37v1M76 36v1M88 36v1M91 33v1M96 37v1M103 35v1M104 37v1M105 34v1M107 34v1M112 34v1M119 35v1M127 35v1M129 34v1M130 34v1M131 35v1M131 37v1M132 35v1M135 35v2M138 36v1M139 33v1M140 33v1M142 36v1M142 39v1M143 31v1M149 35v1M151 31v1M152 32v1M155 32v2M158 33v1M159 38v1M163 33v1M166 33v1M167 33v2M168 32v1M173 32v1M180 35v1M186 33v2M192 33v1M192 35v1M193 33v1M200 33v2M200 39v1M201 36v1M206 37v1M206 39v1M211 38v1"/><path stroke="#0fed6d" d="M1 35v1M3 34v1M7 35v1M11 36v1M15 36v1M16 35v1M20 39v1M30 36v2M31 36v1M33 34v1M34 35v1M35 34v1M37 35v1M41 37v1M42 38v1M48 35v1M51 34v1M56 36v1M65 36v1M69 33v1M71 39v1M76 34v2M77 34v1M82 34v1M87 36v1M89 35v1M90 37v1M93 34v1M96 33v1M97 34v1M103 38v2M104 36v1M108 33v1M109 33v1M114 35v1M116 36v1M117 35v1M131 34v1M131 36v1M133 34v1M134 35v1M135 33v2M136 32v1M141 33v1M142 33v1M142 35v1M146 31v1M147 32v1M153 31v1M157 31v1M158 32v1M162 32v1M163 32v1M166 32v1M167 32v1M171 32v1M172 32v1M177 34v1M179 31v1M180 32v1M180 36v1M182 32v1M183 32v1M185 31v1M186 32v1M187 31v1M188 32v1M189 32v1M192 32v1M192 34v1M193 32v1M199 35v1M200 31v1M200 37v2M202 33v1M206 38v1M208 31v1M209 32v1M211 32v1"/><path stroke="#0bef59" d="M5 35v1M5 37v1M20 35v1M21 35v1M22 35v1M45 37v1M46 35v1M47 35v1M48 36v1M50 34v2M52 34v1M61 35v1M62 36v1M63 35v1M71 35v1M72 35v2M73 35v1M77 35v1M77 37v1M81 33v1M83 33v1M92 33v1M94 33v1M95 33v1M98 35v2M103 34v1M120 34v1M125 33v1M126 34v1M127 33v1M130 33v1M135 37v1M135 39v1M137 32v1M138 33v1M142 32v1M142 34v1M148 31v1M149 32v1M150 31v2M150 34v1M155 31v1M156 31v1M158 31v1M161 31v1M171 31v1M171 39v1M175 32v1M176 31v1M178 32v2M180 37v1M184 32v1M186 31v1M193 31v1M194 31v1M198 31v1M199 32v1M201 38v1M202 32v1M207 32v1M210 31v1M211 37v1"/><path stroke="#07f141" d="M5 34v1M5 36v1M8 35v1M10 35v1M11 0v1M12 36v1M13 37v1M14 36v1M18 35v1M19 34v1M21 34v1M23 34v1M27 39v1M28 36v1M29 36v1M41 36v1M48 34v1M51 33v1M59 35v1M59 38v1M62 34v2M66 32v1M67 33v1M68 34v2M71 38v1M74 35v1M77 33v1M77 36v1M78 33v1M80 32v1M86 35v1M87 35v1M88 35v1M90 35v2M98 34v1M99 35v1M101 35v1M102 34v1M104 33v3M106 33v1M106 36v1M107 33v1M115 35v1M121 33v1M125 32v1M126 33v1M126 35v1M126 38v2M127 34v1M128 33v1M132 34v1M135 38v1M140 32v1M141 32v1M144 31v1M145 31v1M147 31v1M152 31v1M158 30v1M160 31v1M162 31v1M164 39v1M166 31v1M166 38v1M168 31v1M170 31v1M171 30v1M172 31v1M177 31v1M177 39v1M181 31v1M182 31v1M190 31v1M191 31v1M195 31v1M195 33v1M196 31v1M199 33v1M201 31v5M202 31v1M202 34v1M202 36v1M204 31v1M206 31v1M211 31v1"/><path stroke="#02f324" d="M2 35v1M4 34v1M6 34v1M9 35v1M13 39v1M16 34v1M18 36v1M24 35v1M25 35v1M27 37v1M32 35v1M34 34v1M35 33v1M38 34v1M40 35v1M42 36v2M43 37v1M44 36v1M45 36v1M46 36v1M49 34v1M50 33v1M51 0v1M53 34v1M54 35v1M55 35v1M56 35v1M62 33v1M63 33v2M64 33v1M65 37v1M68 33v1M71 36v2M82 33v1M84 33v1M85 34v1M89 34v1M90 34v1M93 33v1M98 37v1M100 35v1M106 34v1M109 32v1M110 33v1M111 33v1M118 34v1M123 32v1M126 32v1M126 36v2M127 32v1M128 0v1M134 32v1M135 32v1M138 0v1M138 37v1M141 31v1M149 33v1M151 30v1M159 31v1M162 30v1M164 31v1M174 31v1M177 35v1M178 34v1M178 36v1M180 31v1M187 30v1M189 31v1M192 31v1M193 30v1M194 30v1M195 32v1M199 34v1M200 30v1M203 31v1M205 31v1M211 33v1M211 36v1"/><path stroke="#05f70e" d="M11 1v1M13 36v1M15 35v1M17 35v1M18 34v1M20 34v1M21 33v1M22 34v1M26 36v1M31 35v1M37 34v1M38 0v1M39 35v1M46 39v1M55 0v1M57 35v1M58 35v1M59 36v1M61 34v1M63 32v1M65 32v1M70 34v1M71 34v1M72 34v1M75 34v1M76 33v1M79 32v1M82 0v1M98 33v1M99 34v1M106 32v1M106 35v1M113 34v1M114 34v1M119 34v1M120 33v1M122 32v1M131 33v1M134 33v2M136 31v1M139 32v1M140 31v1M142 31v1M149 31v1M149 34v1M150 33v1M152 30v1M153 30v1M154 31v1M155 30v1M156 30v1M157 30v1M159 39v1M161 30v1M163 31v1M165 31v1M167 31v1M169 31v1M172 30v1M175 31v1M177 38v1M178 31v1M183 31v1M185 30v1M195 30v1M196 30v1M198 30v1M199 31v1M202 35v1M204 30v1M208 30v1M210 30v1M212 31v1"/><path stroke="#12fe01" d="M0 35v1M1 34v1M11 35v1M13 38v1M14 35v1M18 0v1M19 33v1M24 3v1M27 36v1M27 38v1M30 35v1M33 33v1M34 0v2M35 0v1M36 34v1M39 0v1M41 35v1M46 34v1M47 34v1M50 0v2M51 1v1M52 33v1M59 37v1M65 38v1M67 0v1M69 0v1M73 34v1M74 34v1M81 32v1M82 1v1M84 0v1M85 0v1M87 34v1M88 34v1M90 0v1M94 32v1M96 32v1M97 33v1M105 33v1M107 32v1M108 32v1M111 0v1M112 33v1M116 0v1M116 35v1M117 34v1M129 33v1M130 0v1M130 32v1M133 0v1M133 33v1M143 30v1M145 30v1M146 30v1M147 30v1M148 30v1M160 30v1M164 30v1M166 30v1M174 30v1M176 30v1M177 36v1M178 35v1M179 30v1M180 30v1M181 30v1M186 30v1M188 31v1M192 30v1M197 31v1M201 39v1M202 30v1M205 30v1M207 31v1M209 31v1M211 30v1M211 35v1"/><path stroke="#32ff00" d="M5 33v1M6 33v1M7 34v1M8 34v1M12 35v1M16 0v1M16 2v2M17 0v2M24 0v3M29 35v1M30 0v1M33 1v3M34 2v1M35 1v1M38 1v1M39 1v1M42 0v1M42 35v1M45 35v1M46 0v1M46 37v2M50 2v1M53 0v2M54 34v1M55 1v1M60 34v1M61 0v1M65 39v1M67 32v1M68 0v1M68 32v1M71 0v2M78 32v1M80 0v1M83 32v1M85 1v1M86 34v1M92 32v1M98 38v1M101 34v1M103 33v1M110 32v1M112 0v1M115 0v1M115 34v1M116 1v1M124 31v1M126 0v1M128 1v1M128 32v1M129 0v1M132 33v1M133 1v1M137 31v1M138 38v1M145 0v1M150 30v1M158 29v1M162 29v1M163 30v1M166 39v1M167 30v1M168 30v1M170 30v1M171 29v1M172 29v1M173 31v1M176 0v1M177 37v1M180 38v1M182 30v1M184 31v1M187 0v1M187 29v1M190 30v1M191 30v1M193 29v1M200 29v1M206 30v1M211 34v1M212 30v1"/><path stroke="#54ff00" d="M2 34v1M3 33v1M9 0v1M9 34v1M10 34v1M11 2v1M12 2v2M16 1v1M17 2v1M18 1v1M19 0v1M20 0v1M21 0v1M23 3v3M24 4v1M26 0v2M27 2v3M27 35v1M30 1v1M31 34v1M32 34v1M33 0v1M35 2v3M37 0v1M37 4v1M37 33v1M39 2v1M39 34v1M40 0v2M42 1v5M43 0v1M43 36v1M44 35v1M45 1v1M48 33v1M49 33v1M50 32v1M51 32v1M52 0v1M53 2v1M57 0v1M58 0v1M59 0v1M60 0v1M61 1v1M61 33v1M64 0v1M64 32v1M66 0v1M66 31v1M67 1v1M69 1v1M77 32v1M79 0v1M82 32v1M84 1v1M87 1v2M88 1v2M89 33v1M90 1v1M91 32v1M95 32v1M98 39v1M100 0v2M102 0v1M102 33v1M104 32v1M107 0v1M112 1v1M113 33v1M117 1v1M119 33v1M121 32v1M124 0v1M125 31v1M129 1v1M130 1v1M131 32v1M133 2v1M138 1v1M138 32v1M141 30v1M142 30v1M144 0v1M144 30v1M146 15v2M149 30v1M151 29v1M153 29v1M157 29v1M159 30v1M161 29v1M165 0v1M177 30v1M183 30v1M185 29v1M188 30v1M189 30v1M194 29v1M196 29v1M197 30v1M199 30v1M201 30v1M203 30v1M204 0v1M207 30v1M210 29v1"/><path stroke="#73ff00" d="M4 33v1M6 0v1M7 0v2M7 4v1M9 5v1M10 0v1M10 5v1M12 1v1M12 4v1M14 0v1M16 4v1M19 1v1M20 1v2M20 33v1M21 1v4M23 0v1M23 33v1M24 34v1M25 34v1M26 2v1M26 35v1M27 1v1M27 5v1M28 0v2M28 3v2M28 35v1M29 1v2M32 0v2M33 4v1M34 3v1M34 33v1M36 3v1M36 33v1M38 2v3M38 33v1M39 3v1M40 2v2M40 34v1M42 6v1M43 1v1M45 0v1M45 2v1M46 1v1M47 0v1M48 0v1M49 0v1M50 3v1M51 2v1M55 2v1M55 34v1M56 0v1M56 34v1M57 1v2M58 1v1M59 34v1M60 1v1M69 2v1M69 32v1M70 1v2M70 33v1M71 2v1M73 0v2M74 33v1M76 0v1M76 32v1M80 1v1M80 31v1M81 0v1M82 2v1M85 2v1M87 3v1M88 0v1M90 33v1M93 0v1M93 32v1M94 0v1M97 0v1M98 1v2M100 34v1M104 0v1M105 0v1M108 0v1M109 1v2M110 0v1M111 1v1M111 32v1M112 2v1M114 0v2M115 1v1M116 2v1M116 34v1M117 0v1M117 2v1M118 33v1M120 32v1M123 31v1M124 1v1M126 1v1M126 31v1M127 0v1M134 0v1M134 31v1M135 31v1M138 39v1M139 0v1M139 31v1M140 16v1M140 30v1M145 1v1M145 14v1M146 29v1M147 29v1M150 0v1M151 0v1M152 29v1M155 14v1M156 29v1M160 29v1M163 29v1M164 29v1M165 30v1M168 0v2M169 30v1M174 29v1M175 0v1M175 30v1M176 29v1M178 0v1M178 30v1M180 29v1M181 29v1M187 1v1M190 29v1M191 0v1M192 29v1M195 29v1M197 0v1M197 29v1M198 29v1M202 0v1M202 29v1M204 29v1M205 29v1M208 29v1M212 29v1"/><path stroke="#91ff00" d="M0 3v1M2 3v1M3 0v1M4 0v4M6 1v1M7 2v2M7 5v1M9 1v1M9 4v1M10 1v1M10 3v2M12 5v1M14 1v1M15 0v1M17 3v1M17 34v1M19 2v1M22 33v1M23 1v2M24 5v1M25 2v4M26 3v2M27 0v1M28 2v1M28 5v2M29 0v1M30 2v2M31 2v2M32 2v1M36 2v1M36 4v1M37 1v1M37 3v1M37 5v1M38 5v1M40 4v1M41 0v2M41 5v2M43 2v1M43 6v1M44 1v3M45 3v1M47 1v1M48 1v3M49 1v1M52 1v1M52 3v1M53 3v1M53 33v1M56 1v1M57 3v1M59 1v1M61 2v1M62 0v1M64 1v1M67 2v1M68 1v1M70 0v1M73 2v1M75 33v1M78 0v1M79 31v1M81 1v2M83 0v1M84 2v1M85 33v1M86 0v1M87 0v1M88 3v1M91 0v1M92 0v1M94 1v1M95 0v1M96 0v1M97 1v1M98 0v1M99 33v1M102 1v1M104 1v1M105 32v1M108 31v1M109 0v1M114 33v1M127 1v1M127 31v1M128 2v1M129 2v1M129 32v1M133 3v1M136 30v1M140 15v1M140 17v1M141 0v1M142 0v1M143 29v1M144 15v1M145 15v1M145 29v1M146 14v1M147 0v1M148 29v1M154 30v1M155 15v1M155 29v1M162 15v1M164 0v1M166 29v1M167 15v1M167 29v1M168 15v1M169 14v1M177 14v2M179 29v1M182 0v1M183 0v1M183 29v1M184 0v1M184 30v1M185 0v1M186 29v1M188 29v1M190 0v1M190 15v1M192 0v1M196 0v1M201 0v1M203 0v1M204 1v1M204 14v2M206 0v1M206 16v1M209 30v1M210 14v1M211 0v1M211 29v1"/><path stroke="#a9ff00" d="M0 2v1M0 34v1M2 2v1M3 1v4M4 4v1M5 1v4M6 2v3M8 0v1M8 4v2M9 2v2M9 6v1M10 2v1M11 3v1M12 0v1M12 6v1M13 35v1M14 2v2M15 1v3M18 2v2M18 33v1M19 3v1M20 3v1M21 5v1M23 6v1M25 0v2M26 5v1M27 6v1M29 3v1M31 1v1M32 3v1M34 4v1M35 5v1M35 32v1M37 2v1M40 5v1M41 2v3M43 3v3M43 35v1M45 34v1M46 2v1M47 2v1M49 2v1M50 4v1M51 3v2M52 2v1M52 4v1M56 2v1M57 4v1M57 34v1M58 2v2M58 34v1M62 1v2M62 32v1M63 0v2M65 2v1M65 31v1M66 1v1M68 2v1M69 3v1M70 3v1M71 33v1M73 3v1M75 0v1M76 1v1M78 1v1M79 1v1M80 2v1M81 3v1M81 31v1M85 3v1M86 1v1M86 33v1M87 4v1M88 4v1M90 2v1M93 1v1M94 2v1M94 31v1M96 1v1M97 2v2M97 32v1M98 3v1M99 0v3M100 2v1M101 0v2M103 0v1M105 1v1M106 0v1M107 1v1M107 31v1M108 1v1M109 31v1M110 1v1M112 3v1M112 32v1M114 2v1M115 33v1M126 2v1M127 2v1M130 2v1M131 0v2M132 3v1M133 32v1M140 14v1M141 1v1M141 16v1M142 1v1M144 1v1M144 14v1M144 16v1M145 16v1M146 0v1M147 1v1M150 14v2M152 0v1M152 15v1M156 0v1M158 0v1M160 14v2M161 0v1M161 14v2M162 0v1M162 14v1M162 28v1M165 1v1M167 14v1M168 2v1M168 16v1M169 15v1M170 15v1M170 29v1M173 30v1M174 0v1M175 1v1M176 1v1M177 16v1M178 1v1M180 39v1M182 15v1M183 14v1M185 15v1M186 0v1M186 15v1M187 14v2M189 29v1M190 14v1M191 29v1M193 15v1M199 29v1M203 29v1M206 15v1M206 29v1M207 14v2M210 15v1M211 14v1M212 0v1"/><path stroke="#c0ff00" d="M0 0v2M0 4v1M1 1v3M2 1v1M2 4v1M5 0v1M7 33v1M8 1v3M8 33v1M10 6v1M11 4v1M13 0v7M15 34v1M19 4v1M20 4v1M21 32v1M25 6v1M31 0v1M31 4v1M36 1v1M36 5v1M39 4v1M44 0v1M46 3v1M47 3v1M49 3v1M54 4v1M55 3v1M58 4v2M60 2v1M61 3v1M62 3v1M65 0v2M67 3v1M68 3v1M71 3v1M72 33v1M73 33v1M78 2v1M82 3v1M83 1v1M84 32v1M87 33v1M88 33v1M91 1v1M92 1v1M95 1v1M96 2v1M101 2v1M104 2v1M106 1v1M108 2v1M109 3v1M109 18v1M111 2v1M113 0v3M115 2v1M116 3v1M117 3v1M118 0v1M121 0v1M122 31v1M123 0v2M124 2v1M128 3v1M128 31v1M129 3v1M130 31v1M131 2v1M132 0v3M134 1v1M135 0v1M136 0v1M137 0v1M137 30v1M138 2v1M138 17v1M139 1v1M141 29v1M142 15v1M142 29v1M143 0v1M145 2v1M145 13v1M146 1v1M146 17v1M147 14v2M148 0v2M149 0v1M149 14v2M149 29v1M150 1v1M150 16v1M150 29v1M151 1v1M152 13v2M152 16v1M154 29v1M155 13v1M158 15v1M158 28v1M159 29v1M161 28v1M163 0v1M163 15v1M164 14v1M165 14v1M165 29v1M166 14v2M167 16v1M168 14v1M168 29v1M170 16v1M171 14v1M172 0v1M172 28v1M175 15v1M177 0v1M177 13v1M178 15v1M180 14v1M181 0v1M181 15v1M181 28v1M182 14v1M182 29v1M183 15v1M184 29v1M185 14v1M185 16v1M185 28v1M186 1v1M186 16v1M187 16v1M187 28v1M188 0v1M188 14v2M189 14v2M190 1v1M191 15v1M192 1v1M192 14v2M193 0v1M193 14v1M195 14v2M196 14v2M197 1v1M197 15v1M197 28v1M198 0v1M200 28v1M201 29v1M202 1v1M202 15v1M203 1v1M206 14v1M207 0v2M207 13v1M207 29v1M209 0v1M210 13v1M210 28v1"/><path stroke="#d7ff00" d="M1 0v1M2 0v1M5 32v1M6 5v1M11 5v1M11 34v1M14 34v1M16 33v1M17 4v1M18 4v1M22 0v3M23 7v1M26 6v1M28 7v1M30 34v1M32 4v1M33 5v1M36 0v1M39 5v1M40 6v1M42 7v1M43 7v1M44 4v1M47 33v1M48 4v1M49 4v1M51 5v1M52 32v1M54 3v1M54 5v1M54 33v1M56 3v1M57 5v1M58 6v1M59 2v1M63 2v1M63 31v1M64 2v1M64 31v1M65 3v1M66 2v1M68 4v1M72 0v2M73 4v1M77 0v1M78 31v1M79 2v1M80 3v1M83 2v2M84 3v1M86 2v2M88 5v1M93 31v1M94 3v1M95 2v1M96 3v1M96 31v1M97 4v1M98 32v1M99 3v1M101 33v1M105 2v1M106 31v1M109 19v1M110 2v1M111 3v1M113 3v1M113 32v1M115 3v1M116 4v1M118 1v1M119 1v1M121 1v1M123 2v1M123 17v1M125 0v1M126 3v1M130 3v1M131 31v1M133 4v1M134 30v1M135 30v1M137 1v1M138 16v1M139 17v1M139 30v1M140 0v1M140 18v1M140 29v1M141 15v1M142 16v1M143 1v1M143 14v2M144 29v1M146 2v1M146 13v1M146 28v1M147 13v1M147 16v1M148 15v1M149 1v1M150 13v1M151 28v1M152 1v1M152 28v1M153 28v1M154 0v1M155 16v1M156 1v1M156 15v2M156 28v1M157 0v1M158 14v1M158 16v1M159 14v2M160 13v1M160 16v1M161 1v1M161 16v1M162 16v1M163 1v1M163 14v1M163 16v1M163 28v1M164 1v1M164 13v1M164 15v1M165 15v1M166 0v1M169 13v1M169 16v1M169 29v1M170 14v1M171 0v1M171 15v1M171 28v1M174 1v1M175 14v1M175 29v1M178 14v1M178 16v1M178 29v1M180 15v1M181 1v1M181 16v1M182 1v1M182 16v1M184 1v1M184 15v2M186 14v1M187 2v1M188 1v1M188 13v1M188 28v1M189 16v1M190 16v1M190 28v1M191 1v1M191 14v1M191 16v1M192 16v1M193 1v1M193 16v1M193 28v1M195 0v1M195 16v1M196 1v1M197 14v1M197 16v1M198 1v1M198 14v2M199 0v1M200 0v1M200 15v1M201 1v1M202 14v1M202 16v1M202 28v1M204 16v1M205 14v1M205 28v1M206 1v1M206 17v1M208 0v1M209 13v2M209 29v1M211 1v1M211 13v1M212 14v1M212 28v1"/><path stroke="#ebff00" d="M1 4v1M3 5v1M5 5v1M6 32v1M7 6v1M8 6v1M16 5v1M22 3v1M23 8v1M26 34v1M29 34v1M37 6v1M41 7v1M41 34v1M42 34v1M45 4v1M46 33v1M47 4v1M52 5v1M53 4v1M54 2v1M55 4v1M57 6v1M60 33v1M61 4v1M66 30v1M67 31v1M68 5v1M69 4v1M72 2v2M74 0v2M75 1v1M76 2v1M77 1v1M78 3v1M81 4v1M82 4v1M82 31v1M85 4v1M86 4v1M88 6v1M89 0v1M92 2v1M92 31v1M93 2v1M95 3v1M98 4v1M100 3v1M101 3v1M103 1v1M103 32v1M106 2v1M107 2v1M110 31v1M112 4v1M114 3v1M115 4v1M117 4v1M117 33v1M119 0v1M119 2v1M119 32v1M121 2v1M121 31v1M122 0v1M123 3v1M123 18v1M124 30v1M125 1v2M127 17v1M129 4v1M131 3v1M132 4v1M132 32v1M133 5v1M135 1v1M137 29v1M138 31v1M140 1v1M140 13v1M141 2v1M141 17v1M142 2v1M142 14v1M144 13v1M147 2v1M147 28v1M148 2v1M148 14v1M148 16v1M148 28v1M151 13v2M152 12v1M153 15v2M154 1v1M154 28v1M157 14v1M157 28v1M160 28v1M161 13v1M162 13v1M164 28v1M165 2v1M165 13v1M165 16v1M166 1v1M166 13v1M166 16v1M167 13v1M168 3v1M168 17v1M170 0v2M170 28v1M171 16v1M172 1v1M172 15v2M173 29v1M174 15v2M174 28v1M175 2v1M175 16v1M177 1v1M177 29v1M178 13v1M180 16v1M180 28v1M181 2v1M181 14v1M183 1v1M183 28v1M185 1v1M186 2v1M187 13v1M189 13v1M190 13v1M192 28v1M193 2v1M193 13v1M194 14v2M194 28v1M195 1v1M195 13v1M195 28v1M196 16v1M196 28v1M197 2v1M198 28v1M199 1v1M199 15v2M200 1v2M200 14v1M201 15v2M204 2v1M204 13v1M204 28v1M205 13v1M205 15v1M206 13v1M207 2v1M207 16v1M208 15v2M208 28v1M209 1v1M209 15v1M210 0v1M210 16v1M211 15v1M212 1v1M212 13v1M212 15v1"/><path stroke="#feff00" d="M0 5v1M2 5v1M2 33v1M4 5v1M9 7v1M9 33v1M10 7v1M11 6v1M12 7v1M15 4v1M16 6v1M19 32v1M22 4v1M23 9v1M24 6v1M26 7v1M27 34v1M28 8v1M30 4v1M31 5v1M32 5v1M32 33v1M33 6v1M33 32v1M35 6v1M37 32v1M38 6v1M39 6v1M44 5v1M46 4v1M48 32v1M49 5v1M50 5v1M50 31v1M54 0v2M55 5v1M55 33v1M56 4v1M58 7v1M59 3v1M59 33v1M60 3v1M61 32v1M62 4v1M63 3v1M66 3v1M68 6v1M68 31v1M70 4v1M71 4v1M72 4v1M73 5v1M74 2v1M74 32v1M76 31v1M77 31v1M80 4v1M82 5v1M83 4v1M84 4v1M87 5v1M89 1v1M90 3v1M90 32v1M91 2v1M94 4v1M96 4v1M97 5v1M99 4v1M100 33v1M102 2v1M105 3v1M106 3v1M108 3v1M111 4v1M116 5v1M116 33v1M118 2v1M121 3v1M122 1v1M123 16v1M124 3v1M126 4v1M126 17v1M127 3v1M128 4v1M130 4v1M133 31v1M134 2v1M136 1v1M136 29v1M137 2v1M138 15v1M138 18v1M139 2v1M139 16v1M139 18v1M140 28v1M143 28v1M144 2v1M145 3v1M145 28v1M146 3v1M146 12v1M148 13v1M149 13v1M149 16v1M150 2v1M151 2v1M151 15v1M152 2v1M152 17v1M153 0v1M153 14v1M153 17v1M154 13v4M155 28v1M156 14v1M156 17v1M157 1v2M157 15v1M158 1v1M158 13v1M159 13v1M159 16v1M160 0v2M161 17v1M162 1v1M163 13v1M163 17v1M164 2v1M164 12v1M164 16v1M167 0v2M167 28v1M169 0v1M171 1v1M171 13v1M172 14v1M173 14v2M174 14v1M175 13v1M176 2v1M176 15v1M176 28v1M177 17v1M178 2v1M179 13v2M180 0v1M180 13v1M181 13v1M182 13v1M183 13v1M183 16v1M184 2v1M184 14v1M185 17v1M186 28v1M188 2v1M188 16v1M189 0v2M189 12v1M189 28v1M190 2v1M191 28v1M192 2v1M192 13v1M194 16v1M196 13v1M197 13v1M198 2v1M198 13v1M199 14v1M199 28v1M200 3v1M200 16v1M201 14v1M202 13v1M205 0v1M205 16v1M206 28v1M208 1v1M208 14v1M210 1v3M210 12v1M210 27v1M212 16v1"/><path stroke="#ffeb00" d="M1 33v1M3 6v1M5 6v1M6 6v1M7 7v1M8 7v1M10 33v1M12 34v1M13 7v1M14 4v1M16 7v2M18 5v1M20 5v1M20 32v1M21 6v1M23 10v2M23 32v1M25 7v1M25 33v1M26 8v1M27 7v1M29 4v1M31 33v1M34 5v1M38 32v1M39 33v1M40 7v1M40 33v1M41 8v1M43 8v1M43 34v1M44 34v1M49 6v1M49 32v1M51 6v1M51 31v1M53 5v1M53 32v1M54 6v1M55 6v1M56 5v2M56 33v1M57 7v1M58 33v1M59 4v1M61 5v1M63 4v1M64 3v1M67 4v1M68 7v1M69 5v1M69 31v1M70 32v1M72 5v1M73 6v3M74 3v1M75 2v1M76 3v1M77 2v1M79 3v1M79 30v1M80 5v1M80 30v1M83 5v1M83 31v1M84 5v1M86 5v1M88 7v1M91 31v1M92 3v2M95 4v1M95 31v1M97 6v1M98 5v1M100 4v1M101 4v1M102 32v1M103 2v1M104 3v1M104 31v1M105 4v1M105 31v1M108 30v1M110 3v1M110 18v2M111 31v1M113 4v1M114 4v1M115 32v1M116 6v1M117 5v1M118 3v1M119 3v1M120 31v1M122 2v2M122 18v1M123 4v1M125 3v1M125 17v1M126 5v1M126 16v1M126 30v1M127 16v1M127 18v1M127 30v1M128 30v1M129 5v1M129 31v1M130 5v1M132 5v1M133 6v1M133 16v2M135 2v1M135 12v2M135 29v1M136 14v3M137 14v5M138 3v1M138 14v1M138 30v1M139 15v1M139 29v1M140 2v1M140 6v1M140 19v1M141 14v1M142 13v1M142 17v1M142 28v1M143 2v1M143 13v1M143 16v1M144 12v1M144 17v1M144 28v1M145 4v1M145 12v1M145 17v1M146 18v1M146 27v1M147 3v1M147 12v1M147 17v1M148 3v1M148 12v1M148 17v1M149 2v1M149 28v1M150 12v1M150 17v1M150 28v1M151 27v1M152 3v3M152 27v1M153 13v1M154 2v1M155 0v1M156 2v1M157 3v1M157 13v1M158 17v1M159 0v1M159 28v1M160 12v1M161 2v1M161 27v1M163 2v1M165 17v1M166 2v1M166 28v1M168 4v1M168 13v1M169 17v1M170 2v1M170 7v1M170 17v1M171 17v1M172 17v1M174 2v1M174 17v1M175 3v1M176 3v1M176 16v1M177 2v1M178 17v1M179 15v1M179 28v1M181 3v1M181 12v1M181 17v1M181 27v1M182 2v1M182 28v1M184 17v1M184 28v1M185 13v1M186 13v1M186 17v1M187 12v1M187 17v1M188 3v1M189 2v5M189 17v1M191 2v1M191 13v1M191 17v1M193 3v1M193 27v1M194 0v1M194 13v1M195 2v1M195 17v1M196 2v1M197 27v1M198 16v1M199 2v3M200 13v1M200 27v1M201 2v1M201 28v1M202 2v1M202 27v1M203 2v1M203 16v1M203 28v1M205 1v1M205 17v1M207 3v1M207 28v1M208 17v1M209 16v1M209 28v1M210 4v1M211 2v1M211 16v1M211 28v1"/><path stroke="#ffd100" d="M0 6v1M1 5v1M2 6v1M4 6v1M4 32v1M6 7v1M7 8v1M8 32v1M9 8v1M10 8v1M12 8v1M12 10v1M17 33v1M19 5v1M21 31v1M22 5v1M23 12v1M24 33v1M26 9v1M30 7v2M31 6v1M32 6v1M33 7v1M34 32v1M36 6v1M36 32v1M39 7v2M40 8v1M41 9v1M44 6v1M45 5v1M45 33v1M46 5v1M47 5v1M48 5v1M50 6v1M53 6v1M56 7v1M57 33v1M59 5v1M60 4v1M62 5v1M63 5v1M64 4v1M64 30v1M65 4v1M65 30v1M66 4v1M71 5v1M73 32v1M74 4v1M75 32v1M77 3v1M78 4v2M80 6v1M81 5v1M81 30v1M82 6v1M85 5v1M86 6v1M86 32v1M87 6v2M88 8v1M89 2v1M89 32v1M94 30v1M95 5v2M96 5v1M97 31v1M99 5v2M100 5v1M101 5v3M101 32v1M105 5v1M106 4v1M107 3v1M107 19v1M107 30v1M108 4v1M108 18v1M109 4v1M109 17v1M110 4v1M111 5v1M112 5v1M112 31v1M113 31v1M114 32v1M115 5v1M118 4v1M118 32v1M119 4v1M120 0v3M122 4v1M122 17v1M123 15v1M123 30v1M124 4v1M125 4v1M125 16v1M125 30v1M127 4v1M128 5v1M128 17v1M129 6v1M130 30v1M131 4v1M131 30v1M133 7v1M133 18v1M134 3v1M134 14v1M134 29v1M135 11v1M135 14v1M136 2v1M136 12v2M137 3v2M137 28v1M138 4v1M138 13v1M138 29v1M139 3v1M139 14v1M140 3v1M140 5v1M140 7v1M140 12v1M141 13v1M141 28v1M142 3v3M145 5v2M145 27v1M146 4v1M146 11v1M148 4v1M148 8v3M148 27v1M149 9v2M149 12v1M150 3v1M151 3v1M151 12v1M151 16v1M152 6v1M152 11v1M153 1v1M153 27v1M154 12v1M154 17v1M154 27v1M155 1v1M155 12v1M155 17v1M157 4v1M157 16v1M158 27v1M159 1v2M159 17v1M160 2v1M160 17v1M162 2v1M162 17v1M162 27v1M163 12v1M163 27v1M164 3v3M164 17v1M165 3v1M165 12v1M165 28v1M167 2v1M167 12v1M167 17v1M168 5v1M168 28v1M169 1v2M169 28v1M170 6v1M170 8v1M170 13v1M171 2v2M171 27v1M172 2v1M172 13v1M172 27v1M173 13v1M173 16v1M174 13v1M175 28v1M176 4v1M176 14v1M177 3v1M177 12v1M178 3v1M178 12v1M178 28v1M179 12v1M180 1v1M180 17v1M180 27v1M182 6v1M182 12v1M182 17v1M184 3v1M185 2v1M185 4v3M185 27v1M187 3v1M187 8v1M188 27v1M189 7v2M189 11v1M190 3v1M190 17v1M190 27v1M192 3v1M192 27v1M193 4v1M193 17v1M194 17v1M195 12v1M195 27v1M196 12v1M197 12v1M197 17v1M199 5v1M199 17v1M200 4v1M201 3v1M201 13v1M201 17v1M202 4v1M202 12v1M202 17v1M203 7v2M203 15v1M205 2v2M205 12v1M205 27v1M206 2v1M206 12v1M206 18v1M207 12v1M208 2v1M208 13v1M209 2v1M209 12v1M210 5v1M210 17v1M212 2v1M212 12v1M212 17v1M212 27v1"/><path stroke="#ffb800" d="M0 7v1M0 33v1M2 7v3M3 7v1M3 32v1M5 7v1M5 31v1M6 8v1M7 32v1M9 9v1M10 9v2M11 7v1M12 9v1M12 11v1M13 8v1M15 5v1M16 9v1M16 32v1M17 5v1M17 8v1M18 6v1M21 7v1M22 32v1M24 7v1M24 11v1M26 10v1M26 33v1M28 9v1M28 34v1M29 5v1M30 5v1M30 9v1M31 7v1M33 8v1M34 6v1M35 7v1M35 31v1M37 7v1M38 7v1M39 9v1M41 10v1M42 8v1M42 33v1M43 9v1M47 6v1M49 7v1M52 31v1M53 7v1M54 7v1M54 32v1M55 7v1M57 8v1M58 8v1M59 6v1M61 6v1M62 31v1M67 5v1M69 6v3M69 11v1M70 5v1M71 32v1M72 6v1M75 3v1M76 4v1M79 4v1M83 6v1M84 6v1M85 32v1M87 8v1M87 32v1M88 32v1M89 3v1M90 4v1M91 3v1M92 5v1M93 3v1M93 30v1M94 5v1M95 7v1M98 6v2M99 7v1M99 32v1M101 8v1M103 3v1M104 4v1M106 5v1M107 18v1M108 5v1M108 19v1M109 30v1M110 5v2M110 17v1M111 6v1M112 6v1M114 5v1M115 6v1M117 6v1M119 5v2M119 31v1M120 3v3M121 4v1M121 17v1M122 5v1M122 19v1M124 5v1M124 16v2M124 29v1M125 5v1M125 18v1M126 6v1M126 18v1M128 18v1M129 7v1M129 30v1M130 6v1M131 5v1M132 6v1M132 31v1M133 8v1M133 14v2M133 30v1M134 11v3M134 15v1M135 3v1M135 15v1M135 28v1M136 11v1M136 17v1M137 5v1M137 13v1M137 19v1M138 5v1M138 19v1M138 28v1M139 4v1M139 19v1M139 28v1M140 4v1M140 8v1M141 3v1M141 12v1M141 18v1M142 6v1M142 12v1M143 3v1M144 3v2M146 5v2M146 10v1M147 4v2M147 27v1M148 5v1M148 11v1M149 3v1M149 11v1M150 10v1M151 4v1M151 7v1M151 17v1M152 7v4M152 18v1M153 4v1M153 12v1M154 3v2M155 2v1M156 27v1M157 5v1M157 12v1M158 2v1M158 12v1M159 3v2M159 12v1M160 27v1M161 3v4M161 12v1M162 12v1M163 3v3M164 6v1M164 9v3M165 4v3M166 3v1M166 12v1M166 17v1M167 27v1M168 6v3M169 12v1M170 3v1M170 5v1M170 9v1M170 27v1M171 4v1M172 6v2M173 0v1M173 17v1M173 28v1M174 27v1M175 4v1M175 12v1M175 17v1M176 5v1M176 17v1M177 4v1M177 28v1M178 4v1M179 16v1M180 2v1M180 12v1M181 4v1M181 7v5M182 5v1M182 7v2M182 27v1M183 2v1M183 27v1M184 4v2M184 13v1M184 27v1M185 3v1M186 27v1M187 7v1M187 9v1M187 27v1M188 4v1M188 12v1M188 17v1M189 9v2M190 4v3M191 12v1M191 27v1M192 4v1M192 12v1M192 17v1M193 10v1M193 12v1M194 1v1M196 17v1M196 27v1M197 3v1M198 3v1M198 12v1M198 27v1M199 6v3M199 13v1M200 5v1M200 17v1M201 4v1M201 27v1M202 3v1M202 5v5M203 3v1M203 9v1M203 12v3M203 17v1M204 3v1M204 12v1M204 17v1M204 27v1M205 4v1M207 4v1M208 27v1M209 3v1M209 17v1M210 6v6M211 3v1M211 12v1"/><path stroke="#ff9f00" d="M2 10v1M4 7v3M5 8v1M7 9v1M8 8v1M10 11v1M11 33v1M13 34v1M14 5v1M14 33v1M15 33v1M17 6v2M18 32v1M19 6v1M20 6v1M22 6v2M24 8v3M24 12v1M25 8v1M27 8v1M28 10v2M29 6v1M30 6v1M30 10v1M30 33v1M31 8v1M37 31v1M40 9v1M41 11v1M41 33v1M43 10v2M44 7v1M45 6v2M46 6v1M47 7v2M47 32v1M50 7v1M51 7v1M52 6v1M53 8v1M56 8v1M62 6v1M63 6v1M64 5v1M65 5v1M66 5v1M66 29v1M68 8v1M69 12v1M70 6v3M71 6v1M72 7v1M72 32v1M73 9v1M75 4v1M76 5v1M77 4v1M78 6v1M78 30v1M79 5v1M80 19v1M81 6v2M82 19v1M82 30v1M83 7v1M84 31v1M86 7v1M88 9v1M92 6v1M92 30v1M93 4v1M94 6v1M96 6v1M96 30v1M97 7v1M98 8v1M98 31v1M99 8v1M100 6v1M100 32v1M102 3v3M103 31v1M104 5v1M105 6v1M106 6v1M106 30v1M107 4v1M107 20v1M108 17v1M109 5v1M109 7v1M109 20v1M110 7v1M110 20v1M110 30v1M111 18v1M112 7v1M113 5v1M114 6v2M115 7v1M116 7v1M117 32v1M118 5v1M120 6v1M120 17v1M121 16v1M121 18v1M121 30v1M122 30v1M123 5v1M123 19v1M125 6v1M127 5v1M129 17v1M130 7v1M131 6v2M134 4v1M135 4v3M135 16v1M136 18v1M136 28v1M138 12v1M139 13v1M140 27v1M141 27v1M142 7v1M143 17v1M144 5v1M144 11v1M145 7v1M145 18v1M146 7v3M147 6v1M147 9v3M147 18v1M148 6v2M149 4v1M149 8v1M150 4v1M150 8v2M150 11v1M150 27v1M151 5v2M151 8v1M153 2v2M153 5v1M153 18v1M154 5v1M154 10v2M155 27v1M156 3v1M156 6v1M156 13v1M156 18v1M157 9v2M157 27v1M159 5v1M159 7v2M159 27v1M160 11v1M161 18v1M162 3v1M163 6v5M163 18v1M164 7v2M164 27v1M165 7v1M165 18v1M165 27v1M167 7v4M168 9v1M168 12v1M168 18v1M170 4v1M171 5v1M172 5v1M172 8v1M173 1v2M174 12v1M175 5v1M176 6v1M176 13v1M176 27v1M177 5v1M178 5v1M179 0v1M179 2v1M179 11v1M180 3v3M181 5v2M182 3v2M182 9v2M183 12v1M183 17v1M184 6v1M184 12v1M184 18v1M185 7v1M185 12v1M187 4v1M187 6v1M187 10v2M187 18v1M190 12v1M191 3v1M191 5v1M191 18v1M192 5v2M193 5v1M193 9v1M194 2v1M194 12v1M194 27v1M195 3v1M197 9v1M198 4v1M198 17v1M199 27v1M200 6v1M200 8v1M203 6v1M203 10v1M203 27v1M204 4v1M204 8v2M205 5v1M205 10v2M206 27v1M207 17v1M207 27v1M208 12v1M209 4v3M209 9v3M209 27v1M210 26v1M211 17v1M211 27v1"/><path stroke="#ff8600" d="M0 8v1M1 6v1M2 32v1M3 8v1M4 10v1M5 9v1M7 10v1M9 10v1M9 32v1M10 12v1M11 8v1M12 12v1M14 6v4M17 9v1M18 7v2M19 10v2M23 13v1M26 11v1M27 33v1M28 12v1M29 7v1M29 33v1M32 32v1M33 9v1M34 7v4M36 7v1M37 8v1M38 8v1M39 10v1M40 10v2M42 10v3M43 12v1M45 8v1M46 7v2M46 32v1M47 9v3M48 6v1M48 31v1M49 8v1M52 7v1M53 9v1M54 8v1M55 32v1M57 9v3M58 9v3M58 32v1M59 7v4M59 32v1M60 5v1M60 7v3M60 32v1M61 7v1M61 31v1M63 9v1M63 30v1M66 6v1M67 6v1M67 30v1M69 9v2M70 31v1M74 5v1M74 31v1M75 5v1M76 6v1M77 5v1M80 7v1M81 8v1M82 7v1M83 8v1M84 7v1M85 6v2M87 9v1M89 4v1M90 5v1M90 31v1M91 4v1M92 8v2M94 7v1M95 8v1M98 9v1M101 9v1M103 4v1M104 6v1M107 5v3M107 17v1M108 6v1M109 6v1M109 8v1M111 7v1M111 19v1M112 18v2M113 6v2M114 8v1M115 8v1M116 32v1M117 7v1M118 17v1M119 7v3M120 7v2M120 16v1M120 18v1M121 5v1M122 6v1M122 16v1M123 9v2M123 14v1M124 6v1M124 18v1M125 7v1M126 15v1M126 29v1M127 6v4M127 29v1M128 6v1M128 16v1M128 29v1M129 8v1M129 16v1M130 8v1M131 14v1M131 16v2M131 29v1M132 11v1M133 9v1M133 12v2M134 5v1M134 7v1M134 10v1M134 16v1M134 28v1M135 17v1M136 3v1M137 6v1M137 12v1M139 5v1M140 9v1M141 4v1M142 8v1M142 18v1M142 27v1M143 4v1M143 12v1M143 27v1M144 6v1M144 8v3M144 27v1M145 8v1M145 11v1M145 26v1M146 26v1M147 7v2M149 7v1M149 17v1M149 27v1M150 5v3M150 18v1M151 9v3M151 26v1M153 6v1M154 9v1M155 10v2M156 5v1M156 7v1M157 6v1M157 8v1M157 11v1M157 17v1M158 5v4M159 6v1M159 9v1M160 6v2M160 10v1M160 18v1M161 7v1M162 4v1M162 18v1M163 11v1M166 4v1M166 27v1M167 6v1M167 11v1M168 27v1M169 3v1M169 8v2M169 18v1M169 27v1M171 6v1M171 8v1M171 12v1M171 18v1M172 9v1M172 18v1M174 3v1M174 18v1M175 6v1M175 27v1M177 18v1M178 10v2M178 27v1M179 1v1M179 3v1M179 10v1M179 17v1M179 27v1M180 6v1M182 11v1M183 3v1M184 7v1M185 18v1M186 3v1M186 12v1M186 18v1M187 5v1M188 5v1M189 18v1M190 7v1M191 4v1M191 6v1M191 8v2M192 7v1M192 11v1M193 11v1M193 18v1M195 7v2M196 3v1M197 4v1M197 8v1M197 10v2M198 5v2M198 9v1M199 9v1M199 12v1M200 7v1M200 12v1M200 26v1M201 5v1M202 10v1M203 4v2M204 5v1M204 10v1M205 9v1M205 18v1M208 3v1M208 18v1M209 7v2M210 18v1M211 4v1M212 9v3"/><path stroke="#ff6e00" d="M1 32v1M2 11v1M3 9v1M4 11v1M5 10v2M6 9v1M6 31v1M7 11v1M8 9v1M8 11v3M9 11v1M10 13v1M10 32v1M12 13v3M12 33v1M13 9v4M15 6v2M16 10v1M18 9v1M19 7v1M19 9v1M20 31v1M21 8v1M22 8v1M25 9v2M26 12v1M27 9v1M29 8v2M31 9v1M32 7v1M33 10v2M33 31v1M35 8v1M38 9v3M39 32v1M40 32v1M41 12v1M42 9v1M42 13v1M42 32v1M43 33v1M44 8v1M44 33v1M45 32v1M46 9v3M48 9v2M49 31v1M50 30v1M51 30v1M53 10v1M53 31v1M54 9v3M54 31v1M55 8v1M56 9v1M56 32v1M57 12v2M61 8v1M61 11v1M62 7v3M63 7v2M63 10v1M64 6v1M66 7v1M66 17v1M67 7v1M68 19v2M68 30v1M69 30v1M70 9v1M71 7v1M72 8v1M76 7v2M76 30v1M77 30v1M78 7v1M79 6v1M79 19v1M80 18v1M80 20v1M82 18v1M82 20v1M83 9v1M84 8v1M86 8v1M87 10v1M90 6v1M91 5v1M91 9v1M91 16v1M92 7v1M92 17v3M93 5v1M93 9v1M94 18v1M95 30v1M96 18v2M98 10v1M100 7v1M102 6v1M104 7v3M105 15v2M105 18v1M105 30v1M106 14v2M107 8v1M107 10v2M108 16v1M109 9v1M110 8v1M110 16v1M111 17v1M113 8v3M115 9v1M118 6v1M118 16v1M119 10v1M122 11v2M122 15v1M123 6v3M124 15v1M125 8v1M125 15v1M126 7v1M127 10v1M127 15v1M127 19v1M128 19v1M129 18v1M129 29v1M130 13v3M130 17v1M131 8v1M131 15v1M132 7v1M132 10v1M132 12v1M132 14v2M132 30v1M133 10v2M133 29v1M134 6v1M134 8v2M135 7v4M136 9v2M136 19v1M137 7v1M138 6v1M138 27v1M139 27v1M140 10v2M141 5v4M141 11v1M141 19v1M143 18v1M144 7v1M144 18v1M145 9v2M148 18v1M149 5v2M151 18v1M152 26v1M153 7v2M153 11v1M154 6v3M154 18v1M155 18v1M156 4v1M157 7v1M158 3v2M158 9v2M158 18v1M159 10v2M160 3v1M160 5v1M160 8v2M161 8v3M162 5v1M162 7v5M164 18v1M165 19v1M166 5v2M166 9v1M166 18v1M167 5v1M167 26v1M168 10v1M169 7v1M169 10v1M170 10v1M170 12v1M170 18v1M170 26v1M171 7v1M171 9v1M172 3v2M172 12v1M173 3v1M173 6v1M173 18v1M173 27v1M175 10v1M176 7v2M177 6v1M177 11v1M177 27v1M178 6v1M178 9v1M178 18v1M179 4v2M179 9v1M180 7v5M181 18v1M181 26v1M182 18v1M183 4v1M184 8v2M185 8v1M188 6v3M188 26v1M189 27v1M191 7v1M191 10v1M192 8v3M192 18v1M193 6v1M193 8v1M194 3v1M195 4v3M195 9v3M195 18v1M196 4v2M196 8v2M197 5v1M197 7v1M198 7v2M198 10v1M199 18v1M200 9v1M201 12v1M201 18v1M202 11v1M203 11v1M203 26v1M204 6v2M204 11v1M205 6v1M205 8v1M206 3v1M207 5v1M208 4v1M211 5v2M211 8v2M212 3v1M212 5v1M212 8v1M212 18v1"/><path stroke="#ff5500" d="M0 9v2M3 16v1M5 12v1M7 12v1M7 31v1M8 10v1M8 14v1M8 31v1M9 12v1M10 14v1M11 9v2M11 16v2M11 32v1M13 13v1M14 10v1M15 8v1M16 11v1M17 10v1M17 32v1M18 10v1M19 8v1M19 12v1M19 31v1M20 7v1M21 30v1M22 9v3M23 14v1M23 31v1M24 13v1M24 32v1M25 11v2M26 13v1M26 32v1M27 10v1M28 13v1M29 10v1M31 10v2M31 32v1M32 8v1M32 11v2M33 12v2M34 11v2M34 31v1M35 30v1M37 9v1M37 30v1M38 12v1M38 18v1M38 31v1M39 11v1M40 12v1M43 13v1M45 9v1M46 12v1M46 14v3M47 12v1M48 7v2M48 11v1M49 9v1M50 8v1M51 8v1M52 8v1M54 12v1M56 12v2M57 14v1M58 12v1M59 11v1M60 6v1M60 10v1M60 14v1M61 10v1M62 10v2M62 17v1M63 11v1M64 18v3M65 6v1M65 20v1M65 29v1M66 8v1M66 16v1M66 18v3M67 20v1M68 9v1M68 18v1M70 10v2M71 8v1M73 10v1M73 13v3M75 6v1M75 31v1M76 9v2M77 6v1M78 8v1M79 29v1M80 8v2M80 17v1M80 29v1M81 29v1M83 30v1M84 9v1M85 8v1M85 19v1M85 31v1M86 9v1M86 12v2M87 11v1M88 10v1M89 5v1M91 6v1M91 8v1M91 10v1M91 15v1M91 17v2M91 30v1M92 10v1M92 16v1M93 6v3M93 10v1M93 15v1M93 18v2M94 16v2M94 19v1M94 29v1M95 9v1M95 18v1M96 7v1M96 10v1M97 19v1M97 30v1M98 19v2M99 9v1M100 8v3M101 10v3M101 31v1M102 7v1M102 15v2M102 31v1M103 5v1M104 10v3M105 7v1M105 14v1M105 17v1M106 7v1M106 11v3M107 9v1M107 12v1M108 14v2M108 29v1M111 30v1M112 8v1M112 17v1M112 20v1M114 9v2M115 10v1M115 31v1M116 8v1M117 8v1M118 7v1M118 18v1M119 11v1M120 9v1M120 30v1M121 6v4M121 15v1M122 7v1M122 10v1M122 13v2M122 20v1M123 11v1M123 13v1M123 29v1M124 7v1M124 19v1M124 28v1M125 9v1M125 29v1M126 8v2M126 19v1M128 7v1M128 10v2M129 9v2M129 15v1M129 28v1M130 9v1M130 11v2M130 16v1M130 18v1M130 29v1M131 9v1M131 13v1M131 18v1M131 28v1M132 9v1M132 13v1M132 16v1M133 19v1M134 17v1M135 18v1M137 8v1M137 20v1M137 27v1M138 7v5M139 6v4M139 12v1M139 20v1M140 20v1M141 9v2M142 9v3M143 5v4M146 19v1M147 19v1M148 26v1M150 19v1M150 26v1M151 19v1M152 19v1M153 9v2M153 26v1M154 26v1M155 9v1M156 8v2M156 12v1M158 11v1M158 26v1M159 18v1M160 4v1M161 11v1M161 26v1M162 6v1M162 26v1M165 8v1M165 11v1M165 20v1M166 7v2M166 10v2M167 3v2M167 18v1M168 11v1M169 4v3M169 11v1M171 26v1M173 4v2M173 7v1M173 12v1M174 26v1M175 7v1M175 9v1M175 11v1M175 18v1M176 9v1M176 12v1M176 18v1M177 7v2M177 10v1M179 6v3M180 18v1M180 26v1M184 10v2M185 9v1M185 26v1M186 4v1M188 18v1M189 19v1M190 8v3M190 18v1M191 11v1M191 19v1M192 26v1M193 7v1M193 19v1M193 26v1M194 4v1M194 9v2M194 18v1M196 6v2M196 10v2M196 18v1M197 6v1M197 18v1M197 26v1M198 11v1M199 10v1M200 18v1M201 6v1M201 26v1M202 18v1M202 26v1M203 18v1M204 18v1M204 26v1M205 7v1M206 8v4M206 19v1M207 11v1M208 5v1M210 25v1M211 7v1M211 10v1M212 4v1M212 6v2M212 26v1"/><path stroke="#ff3a00" d="M0 11v1M1 7v1M1 11v4M2 12v1M3 10v2M3 15v1M3 17v1M4 12v1M4 31v1M5 13v3M5 30v1M6 10v1M6 12v2M7 13v1M9 13v1M11 11v2M11 15v1M12 16v1M13 14v1M15 13v4M16 13v1M16 31v1M17 13v3M18 11v2M19 15v2M23 15v1M25 13v1M25 32v1M27 11v2M28 14v1M28 33v1M29 11v1M30 11v1M30 32v1M31 12v1M31 14v1M32 9v2M32 13v1M33 14v1M34 13v2M36 31v1M38 17v1M40 13v1M42 14v1M43 14v2M44 9v1M44 13v2M45 10v2M46 13v1M47 13v1M47 31v1M48 12v1M49 10v1M49 13v2M51 9v1M52 9v1M52 16v2M52 30v1M53 11v1M54 30v1M55 9v2M56 10v2M56 14v1M57 15v1M57 32v1M58 13v1M58 31v1M60 11v3M60 15v1M61 9v1M61 12v1M62 12v1M62 16v1M62 18v1M63 12v1M64 7v1M64 9v3M64 16v2M64 21v1M64 29v1M65 7v2M65 19v1M66 9v1M66 15v1M67 8v1M69 19v1M70 12v1M71 9v1M71 12v2M72 9v3M73 11v2M73 31v1M75 10v3M77 7v1M78 9v1M78 14v1M79 7v1M79 10v1M79 14v1M79 18v1M79 20v1M80 15v2M81 9v1M81 19v1M82 8v1M82 17v1M82 29v1M83 10v1M83 18v2M84 10v1M85 9v2M85 18v1M86 10v2M86 14v1M86 31v1M87 14v2M88 14v1M89 6v3M90 7v1M90 16v2M91 7v1M91 11v1M91 14v1M92 11v2M93 14v1M93 29v1M94 8v1M94 15v1M95 17v1M95 19v1M96 9v1M96 11v1M96 17v1M97 8v1M97 18v1M97 20v1M98 11v1M98 18v1M99 10v1M99 31v1M100 11v1M101 13v1M102 8v1M102 13v2M102 17v1M103 6v1M104 13v1M104 30v1M105 8v1M105 12v2M105 19v1M106 9v2M106 16v3M107 13v1M107 21v1M108 7v1M108 20v1M109 10v1M109 16v1M110 9v2M111 8v1M111 20v1M113 11v1M113 20v1M113 30v1M114 11v2M114 31v1M115 11v1M116 11v4M117 9v1M117 31v1M118 8v1M118 12v4M119 12v1M120 11v5M121 10v2M121 19v1M121 29v1M122 8v2M123 12v1M123 20v1M124 8v1M124 14v1M125 19v1M126 10v1M126 14v1M127 11v1M128 8v2M128 12v1M128 15v1M128 28v1M129 11v4M130 10v1M131 10v1M132 8v1M132 17v1M132 29v1M134 18v1M134 27v1M135 27v1M136 4v1M136 8v1M136 27v1M138 20v1M141 26v1M143 9v1M144 19v1M145 19v1M146 25v1M147 26v1M151 25v1M153 19v1M155 3v1M155 8v1M155 26v1M156 10v1M156 19v1M156 26v1M159 26v1M160 19v1M160 26v1M161 19v1M162 19v1M163 26v1M164 19v1M164 26v1M165 9v2M168 19v1M171 10v1M172 10v1M172 19v1M172 26v1M174 4v1M174 7v2M175 8v1M177 9v1M178 7v2M182 19v1M183 5v1M183 18v1M184 26v1M185 10v2M186 5v2M186 11v1M186 26v1M187 19v1M188 9v1M188 25v1M190 11v1M190 26v1M191 26v1M194 5v4M194 11v1M195 26v1M196 19v1M198 18v1M198 26v1M199 11v1M199 26v1M200 10v1M201 9v1M203 25v1M205 26v1M206 4v1M206 7v1M206 26v1M207 6v1M207 10v1M207 26v1M208 6v1M208 11v1M208 19v1M208 26v1M209 18v1M210 19v1M211 11v1M211 18v1M211 26v1"/><path stroke="#ff1800" d="M0 12v1M0 32v1M1 10v1M2 13v1M3 12v3M4 13v4M6 11v1M6 14v1M7 14v2M7 17v1M8 15v1M9 14v1M9 31v1M10 15v1M11 13v2M11 18v1M13 15v4M14 11v3M15 9v2M15 12v1M15 32v1M16 12v1M16 14v3M17 11v2M18 13v1M18 16v1M18 31v1M19 13v2M19 17v1M20 8v1M21 9v1M21 12v1M21 14v3M22 12v1M23 16v1M26 14v1M27 13v1M28 15v1M29 12v4M31 13v1M31 15v1M33 15v1M34 15v1M35 9v1M36 8v1M37 10v1M37 17v1M38 19v1M39 12v1M40 14v1M41 13v1M41 32v1M43 16v1M44 15v1M44 32v1M45 12v1M46 31v1M47 14v3M48 13v1M48 15v2M48 30v1M49 11v2M49 15v1M50 9v1M51 10v1M51 16v2M52 10v1M52 15v1M54 13v1M55 11v1M58 14v1M59 12v1M60 16v1M62 13v3M62 30v1M64 8v1M64 12v4M65 9v1M65 18v1M65 21v1M66 14v1M66 21v1M67 19v1M67 21v1M68 10v1M68 17v1M69 13v1M69 18v1M69 20v1M70 30v1M71 11v1M71 14v1M71 31v1M72 12v1M72 31v1M73 16v1M74 6v1M75 7v1M75 9v1M75 13v1M76 11v1M77 8v3M77 15v3M78 10v1M78 13v1M78 15v1M78 29v1M79 8v2M79 11v3M79 15v2M81 18v1M82 9v1M82 16v1M83 20v1M84 11v2M84 19v2M85 11v1M85 20v1M87 12v2M87 16v1M87 31v1M88 11v1M88 13v1M88 15v1M88 31v1M89 9v1M89 31v1M90 8v6M90 15v1M90 18v1M90 30v1M91 12v2M91 19v1M92 13v1M92 15v1M92 20v1M93 11v1M93 13v1M93 16v2M93 20v1M94 9v1M95 10v1M95 16v1M96 8v1M96 20v1M96 29v1M97 9v4M98 12v1M99 11v4M100 12v1M100 31v1M101 14v3M102 12v1M103 7v5M104 14v5M105 9v3M105 29v1M106 8v1M106 19v1M107 14v1M107 29v1M110 15v1M110 29v1M111 9v1M112 9v1M112 30v1M113 12v1M113 19v1M114 13v1M115 12v2M116 9v2M116 15v1M117 10v1M118 9v3M118 31v1M119 18v1M119 30v1M120 10v1M120 19v1M121 12v3M123 28v1M124 13v1M124 20v1M126 11v1M127 12v1M127 28v1M128 13v2M128 20v1M129 19v1M130 19v1M131 11v2M131 19v1M131 27v1M132 18v1M133 28v1M135 19v1M136 5v3M137 9v3M139 10v1M139 26v1M142 19v1M142 26v1M143 10v2M143 19v1M143 26v1M144 26v1M148 19v1M151 20v1M152 20v1M155 4v2M155 19v1M156 11v1M157 18v1M157 26v1M158 19v1M163 19v1M165 26v1M166 19v1M167 25v1M168 26v1M169 19v1M170 11v1M170 19v1M170 25v1M171 19v1M172 11v1M173 8v1M173 19v1M174 5v2M174 9v1M174 11v1M174 19v1M175 26v1M176 10v1M176 26v1M177 19v1M177 26v1M179 18v1M180 19v1M182 26v1M183 6v4M183 26v1M184 19v1M185 19v1M186 7v4M186 19v1M187 26v1M188 10v2M189 20v1M191 20v1M192 19v1M193 20v1M194 26v1M196 26v1M200 25v1M201 7v2M201 10v2M203 19v1M204 19v1M205 19v1M206 5v2M207 7v3M207 18v1M207 25v1M208 7v1M208 10v1M209 26v1"/><path stroke="#f70005" d="M1 8v2M1 15v1M1 31v1M2 14v1M3 31v1M4 17v1M5 16v1M6 17v1M7 16v1M7 18v1M8 17v1M9 15v1M10 19v1M10 31v1M13 19v1M13 33v1M14 14v1M14 32v1M15 11v1M15 17v1M17 16v1M18 15v1M20 9v1M20 30v1M21 10v2M21 13v1M22 17v1M22 31v1M23 17v2M24 14v1M24 31v1M27 14v1M28 16v1M29 16v1M29 32v1M32 14v3M32 31v1M33 16v2M33 30v1M34 16v2M35 14v1M35 29v1M37 11v1M37 16v1M38 13v1M38 16v1M39 13v1M39 16v2M39 31v1M40 15v1M40 31v1M42 15v1M44 10v1M44 12v1M45 13v3M46 17v1M48 14v1M48 17v1M49 16v1M50 14v2M51 15v1M51 29v1M52 14v1M53 30v1M54 14v1M55 12v1M56 15v1M56 31v1M58 15v1M59 13v3M59 31v1M60 17v2M60 31v1M61 13v1M61 30v1M62 19v1M63 29v1M65 15v3M65 28v1M66 10v1M66 28v1M67 9v1M67 29v1M68 11v1M68 21v1M69 17v1M69 29v1M71 10v1M72 13v2M74 10v2M74 15v1M75 8v1M75 14v1M76 12v3M77 18v1M78 12v1M79 17v1M80 10v1M80 14v1M80 21v1M81 17v1M81 20v1M82 10v1M82 21v1M83 29v1M84 30v1M87 17v2M88 12v1M89 10v5M89 17v1M90 14v1M92 14v1M92 21v1M92 29v1M93 12v1M94 20v1M95 15v1M96 12v1M96 16v1M97 17v1M98 13v1M98 30v1M99 19v1M100 13v2M101 17v1M102 9v1M102 11v1M102 18v1M102 30v1M103 12v4M103 30v1M104 19v1M107 16v1M108 8v1M108 13v1M109 15v1M109 29v1M110 11v1M112 10v1M113 13v1M113 18v1M113 21v1M115 14v1M116 16v1M116 31v1M117 11v1M119 13v1M119 17v1M122 21v1M122 29v1M124 9v1M125 14v1M126 12v2M126 20v1M126 28v1M127 13v2M129 27v1M130 20v1M130 28v1M132 19v1M132 27v1M133 27v1M135 20v1M135 26v1M136 20v1M138 26v1M139 11v1M140 26v1M141 20v1M145 25v1M147 20v1M149 26v1M150 25v1M153 20v1M153 25v1M154 19v1M154 25v1M155 6v2M159 19v1M160 20v1M161 25v1M162 20v1M162 25v1M163 20v1M164 20v1M165 21v1M166 26v1M169 26v1M171 11v1M172 20v1M173 26v1M174 10v1M174 25v1M175 19v1M176 11v1M176 19v1M178 26v1M181 19v1M181 25v1M182 20v1M183 10v2M188 19v1M190 19v1M195 19v1M196 20v1M197 19v1M198 19v1M199 19v1M200 11v1M200 19v2M201 19v1M201 25v1M202 19v1M204 20v1M206 20v1M207 19v1M208 8v2M208 20v1M210 20v1M210 24v1M211 19v1M212 19v1"/><path stroke="#e70012" d="M0 13v2M2 15v1M2 31v1M3 18v1M4 18v1M6 15v2M6 30v1M7 30v1M8 16v1M8 18v1M8 30v1M9 16v1M10 16v3M11 31v1M12 17v1M12 32v1M14 15v1M16 17v1M18 14v1M18 17v1M19 18v1M20 10v1M20 16v1M21 17v1M21 29v1M22 13v1M22 16v1M23 19v1M24 15v4M25 14v1M25 18v1M26 18v1M27 18v2M27 32v1M29 17v1M30 12v1M30 14v3M30 31v1M31 16v1M32 17v1M33 18v1M34 18v1M34 30v1M35 10v1M35 13v1M35 15v3M36 9v1M36 14v2M37 12v1M37 29v1M38 15v1M39 15v1M40 16v3M42 31v1M43 32v1M44 11v1M44 16v1M45 16v1M45 31v1M47 17v1M47 30v1M49 30v1M50 10v1M50 13v1M50 29v1M51 11v1M51 18v1M52 11v1M52 18v1M53 12v1M54 15v1M54 29v1M55 31v1M57 16v1M58 16v2M59 16v1M60 19v2M61 14v1M63 13v1M63 16v5M66 11v3M67 10v1M67 18v1M68 16v1M68 29v1M70 13v1M74 7v1M74 9v1M74 12v3M74 16v1M74 30v1M75 15v1M76 15v4M76 29v1M77 11v4M77 19v1M78 11v1M78 16v1M78 19v1M80 28v1M81 10v1M81 28v1M82 11v1M83 11v1M83 17v1M84 13v1M84 18v1M84 21v1M85 12v1M85 17v1M85 30v1M87 19v1M88 16v1M89 15v2M89 18v1M91 20v1M91 29v1M94 10v1M94 14v1M94 28v1M95 11v1M95 20v1M95 29v1M97 13v1M97 29v1M98 17v1M98 21v1M99 15v1M99 18v1M99 20v1M99 30v1M100 15v1M102 10v1M104 20v2M105 20v1M106 20v1M106 29v1M107 15v1M109 11v1M109 21v1M110 21v1M111 10v1M111 16v1M112 11v1M113 17v1M114 14v1M117 12v1M118 19v1M119 14v1M119 16v1M119 19v1M121 20v1M124 12v1M125 10v1M127 20v1M128 27v1M131 20v1M131 26v1M132 26v1M132 28v1M135 21v1M135 23v3M136 26v1M137 21v1M139 21v1M141 25v1M143 25v1M144 20v1M144 25v1M145 20v1M146 20v1M148 20v1M149 18v1M150 20v1M151 21v1M151 24v1M152 25v1M155 20v1M156 20v1M156 25v1M158 20v1M158 25v1M161 20v1M163 25v1M164 21v1M164 25v1M166 20v1M167 19v1M168 20v1M168 23v1M168 25v1M169 20v1M171 20v1M172 21v1M173 9v3M175 20v1M178 19v1M179 26v1M180 20v1M180 25v1M181 20v1M184 20v1M184 25v1M186 20v1M186 25v1M187 20v1M188 23v2M189 21v1M189 26v1M190 25v1M192 20v1M192 25v1M193 21v1M194 19v1M197 25v1M198 25v1M199 20v1M199 25v1M202 25v1M203 20v1M203 24v1M204 25v1M208 25v1M209 19v1M210 23v1M211 25v1M212 25v1"/><path stroke="#cd0026" d="M0 15v3M1 16v1M2 16v1M3 19v1M4 30v1M5 17v1M6 18v1M7 19v1M9 17v1M9 30v1M10 20v1M12 18v1M15 18v1M16 30v1M17 17v1M17 31v1M18 18v1M19 30v1M20 14v2M20 17v1M22 14v2M22 18v1M25 17v1M25 19v1M26 15v3M26 19v1M26 31v1M27 15v1M27 17v1M28 17v1M28 32v1M29 18v1M30 13v1M31 31v1M32 18v1M33 19v3M34 19v1M35 12v1M35 18v1M36 10v4M36 16v1M36 30v1M37 13v3M37 18v1M38 14v1M38 30v1M39 14v1M39 18v1M40 19v1M41 14v1M42 16v1M43 17v1M44 31v1M46 28v3M49 17v1M50 16v2M51 12v1M51 14v1M52 12v2M52 29v1M53 18v2M54 16v2M55 13v1M55 20v1M56 16v4M58 30v1M59 17v1M60 21v1M61 15v3M62 20v1M63 14v2M63 28v1M64 22v1M64 28v1M65 10v1M65 12v3M67 11v1M67 17v1M68 12v1M69 14v1M69 16v1M69 21v1M69 26v1M69 28v1M70 19v1M71 15v1M71 20v1M72 15v1M72 30v1M73 17v1M73 30v1M74 8v1M74 17v1M75 16v3M75 30v1M77 29v1M78 17v2M78 20v1M79 21v1M80 11v1M80 13v1M81 11v1M81 21v1M82 15v1M83 16v1M83 21v1M85 13v1M86 15v1M87 20v1M90 19v1M90 29v1M91 21v1M93 28v1M95 14v1M96 13v1M96 15v1M97 21v1M98 14v1M99 16v2M101 18v1M101 30v1M102 19v1M103 16v1M104 29v1M107 28v1M108 9v1M108 28v1M109 14v1M110 12v3M111 11v1M111 21v1M112 12v1M112 16v1M112 21v1M113 14v1M114 18v2M115 15v1M115 30v1M116 17v1M117 13v5M117 30v1M118 20v2M119 15v1M119 20v1M120 20v1M120 29v1M121 28v1M123 21v1M125 20v1M125 28v1M128 21v1M128 26v1M129 26v1M130 21v1M130 27v1M132 20v1M132 25v1M133 20v1M133 26v1M134 19v1M134 26v1M135 22v1M137 26v1M138 21v1M140 21v1M142 25v1M143 20v1M146 24v1M147 25v1M148 25v1M149 25v1M150 24v1M151 22v2M152 21v1M154 20v1M154 24v1M155 25v1M158 21v1M159 20v1M160 21v1M160 25v1M163 21v1M163 24v1M165 25v1M166 21v1M167 24v1M168 24v1M170 20v1M170 24v1M171 21v1M171 25v1M173 20v1M175 21v1M175 25v1M176 20v1M176 25v1M177 20v1M177 25v1M178 25v1M180 21v1M181 21v1M182 21v1M183 19v1M185 20v1M185 25v1M186 21v1M188 20v1M190 20v1M191 21v1M191 25v1M192 21v1M193 25v1M195 20v1M200 21v1M200 24v1M201 20v1M204 21v1M205 20v1M205 25v1M206 21v1M206 25v1M207 20v1M207 24v1M208 21v1M209 25v1M210 21v1M211 20v1"/><path stroke="#b0003c" d="M0 18v1M2 17v1M3 30v1M4 19v1M5 29v1M7 29v1M8 19v1M9 18v1M10 30v1M11 19v1M12 19v1M13 20v1M13 32v1M14 16v1M15 19v1M15 31v1M16 18v1M17 18v1M18 30v1M20 11v3M20 18v1M21 18v1M21 28v1M22 19v1M23 20v1M23 30v1M24 19v1M24 30v1M25 15v2M25 20v1M25 31v1M27 16v1M27 20v1M28 31v1M30 17v1M31 17v1M32 19v1M33 29v1M34 24v1M35 11v1M35 19v3M35 28v1M38 20v1M40 20v1M41 15v2M41 21v1M42 19v1M42 23v1M46 18v1M47 18v1M48 18v1M48 29v1M49 18v1M50 11v2M50 18v1M51 13v1M51 19v1M52 19v1M53 13v5M53 29v1M54 18v2M55 19v1M55 21v1M57 17v1M57 31v1M58 18v1M60 30v1M61 18v1M61 29v1M63 21v1M65 11v1M67 16v1M67 22v1M68 13v1M68 15v1M69 15v1M69 25v1M69 27v1M70 14v1M70 18v1M70 20v1M71 19v1M71 30v1M72 16v1M73 29v1M74 18v1M74 20v2M75 19v1M77 20v1M78 21v1M79 28v1M80 12v1M81 16v1M82 12v1M82 28v1M83 28v1M84 14v1M84 17v1M85 14v1M85 21v1M86 20v1M86 30v1M88 17v1M88 30v1M89 19v1M92 22v1M93 21v1M94 11v1M94 13v1M94 21v1M94 24v2M96 14v1M96 21v1M96 28v1M97 14v1M97 16v1M98 15v2M99 21v1M99 29v1M100 16v1M102 20v1M103 17v1M104 28v1M105 28v1M106 21v1M107 22v1M107 25v2M108 10v1M108 12v1M108 21v1M109 12v1M111 29v1M112 13v1M112 29v1M113 15v2M113 22v1M114 15v1M114 17v1M114 20v1M114 30v1M118 30v1M119 21v1M121 21v1M122 22v1M124 10v2M124 21v1M124 27v1M125 11v3M126 21v1M126 24v1M127 26v2M128 25v1M129 20v1M129 25v1M130 26v1M131 21v1M131 25v1M134 21v1M136 21v1M136 25v1M139 25v1M140 25v1M141 21v1M141 24v1M142 20v2M143 24v1M144 24v1M145 21v1M146 21v1M147 21v1M148 21v1M149 19v1M149 24v1M150 21v1M153 24v1M154 21v1M155 21v1M156 21v1M156 24v1M157 19v1M157 25v1M159 25v1M160 22v2M161 24v1M162 21v1M162 24v1M163 22v2M165 22v1M166 25v1M167 20v1M168 21v2M169 21v1M172 25v1M174 20v1M175 22v1M178 23v2M179 19v1M180 22v1M181 24v1M183 25v1M185 21v1M186 24v1M187 25v1M188 21v2M189 25v1M190 21v1M194 20v1M194 25v1M195 25v1M196 21v1M197 20v2M198 20v1M199 21v1M200 22v2M202 20v1M207 21v1M208 23v2M210 22v1M212 20v1"/><path stroke="#8f0056" d="M0 19v1M0 31v1M1 17v1M1 30v1M2 18v3M2 30v1M3 20v1M3 25v1M4 20v1M6 19v1M7 20v1M8 29v1M9 29v1M11 30v1M12 24v2M16 29v1M17 19v1M18 19v1M19 19v1M20 29v1M21 24v1M22 30v1M23 21v1M26 20v1M28 18v1M28 30v1M29 19v1M29 31v1M30 30v1M31 25v3M32 20v2M32 30v1M33 22v1M33 28v1M34 23v1M34 25v1M34 29v1M36 17v1M37 19v1M37 28v1M39 19v1M39 30v1M40 30v1M41 17v4M41 22v1M41 31v1M42 17v2M42 20v3M42 24v1M42 30v1M43 18v1M44 17v1M45 17v1M46 27v1M47 29v1M48 19v1M53 20v1M54 20v1M54 28v1M55 14v1M55 18v1M55 30v1M56 20v1M56 30v1M57 18v2M58 19v1M58 29v1M59 18v1M59 30v1M61 28v1M62 21v1M62 29v1M63 27v1M65 22v1M66 22v1M67 12v1M67 15v1M67 23v1M67 28v1M68 28v1M70 29v1M71 21v1M72 17v1M73 18v1M74 19v1M76 19v1M77 26v1M77 28v1M78 28v1M82 13v2M83 12v1M83 15v1M84 29v1M85 15v2M85 29v1M86 16v1M86 19v1M87 30v1M89 20v1M90 28v1M92 23v1M95 12v2M95 21v1M95 28v1M96 25v2M97 15v1M97 28v1M98 29v1M99 28v1M100 30v1M102 29v1M103 18v1M104 22v1M104 26v2M107 23v2M108 11v1M109 13v1M110 28v1M113 23v2M113 29v1M114 16v1M115 16v1M115 29v1M117 18v1M117 29v1M120 21v1M126 23v1M126 25v1M127 25v1M131 22v3M132 21v1M132 23v2M133 25v1M134 20v1M138 25v1M142 22v3M143 21v1M143 23v1M144 21v1M145 22v3M146 23v1M147 24v1M149 20v1M149 23v1M150 22v2M153 21v1M154 23v1M156 23v1M158 24v1M159 21v1M160 24v1M161 21v1M161 23v1M164 22v3M165 23v2M167 21v1M167 23v1M169 25v1M170 21v1M170 23v1M172 22v1M173 21v1M173 25v1M174 24v1M175 23v2M178 20v1M179 20v2M179 23v1M179 25v1M180 24v1M181 22v2M182 25v1M183 20v1M184 21v1M184 24v1M185 22v3M186 22v2M187 21v1M189 22v1M190 24v1M192 22v1M192 24v1M194 21v1M195 21v1M196 25v1M197 24v1M198 24v1M199 24v1M201 21v1M201 24v1M202 21v1M203 21v1M203 23v1M204 24v1M206 22v3M207 23v1M208 22v1M209 20v1M209 24v1M211 21v1M211 24v1M212 21v1M212 24v1"/><path stroke="#740071" d="M0 29v2M2 21v1M3 24v1M3 26v1M3 29v1M4 21v1M5 18v1M5 28v1M6 29v1M7 21v1M7 28v1M8 22v2M9 19v1M10 21v1M10 29v1M11 28v2M12 20v1M12 23v1M12 26v1M12 31v1M14 17v1M14 31v1M15 20v1M16 19v2M17 20v1M18 28v2M20 19v1M21 23v1M21 25v1M21 27v1M22 20v1M24 20v1M25 21v1M27 21v1M28 26v2M28 29v1M30 18v4M30 29v1M31 18v1M31 24v1M31 30v1M32 22v2M33 23v3M34 20v1M34 26v1M35 22v1M36 18v1M36 29v1M37 20v1M37 23v2M40 21v1M41 23v1M42 25v1M44 30v1M45 30v1M46 26v1M48 20v2M48 28v1M49 19v1M49 21v3M49 29v1M50 19v1M50 28v1M51 20v2M51 28v1M52 20v1M52 28v1M53 28v1M55 23v2M57 20v1M57 30v1M58 20v4M58 25v2M59 23v5M61 19v1M61 23v3M64 23v1M65 25v3M67 24v1M68 14v1M68 22v1M69 22v3M70 15v3M71 29v1M72 20v1M72 29v1M73 19v3M73 23v2M73 28v1M74 22v1M74 29v1M75 20v2M76 28v1M77 21v1M77 24v2M77 27v1M80 22v1M81 12v1M81 15v1M82 26v2M83 13v2M83 22v1M84 15v2M84 22v1M84 28v1M85 28v1M86 21v1M86 29v1M87 21v1M88 18v1M88 29v1M89 30v1M90 20v1M91 22v1M91 25v2M91 28v1M92 28v1M94 12v1M94 23v1M94 26v1M96 24v1M96 27v1M97 26v1M98 22v1M99 27v1M100 17v1M100 20v1M101 19v1M102 21v1M103 19v1M103 25v5M104 23v1M104 25v1M105 21v1M107 27v1M109 28v1M111 12v1M111 22v3M112 14v2M113 25v1M114 21v1M115 20v1M116 18v1M116 30v1M117 19v1M119 29v1M122 23v1M122 28v1M123 22v6M124 26v1M125 21v1M125 23v1M126 22v1M126 27v1M127 21v1M127 23v2M128 22v3M129 24v1M130 25v1M132 22v1M133 24v1M134 22v1M134 25v1M136 24v1M137 22v1M137 25v1M139 22v1M140 23v2M141 23v1M143 22v1M144 23v1M146 22v1M147 22v2M148 24v1M149 21v1M152 22v1M152 24v1M154 22v1M155 22v3M156 22v1M157 20v1M157 24v1M158 22v2M159 24v1M161 22v1M162 23v1M166 22v3M167 22v1M170 22v1M171 22v2M176 21v1M176 24v1M177 21v1M177 24v1M178 21v2M179 22v1M179 24v1M180 23v1M189 23v2M190 23v1M191 24v1M192 23v1M193 22v1M194 22v3M197 22v2M198 21v1M199 23v1M202 24v1M204 22v2M205 21v1M205 23v2M207 22v1M212 23v1"/><path stroke="#5d008c" d="M0 20v1M1 18v1M1 29v1M2 22v3M3 21v1M3 23v1M3 27v2M4 23v3M4 29v1M5 19v1M5 26v2M6 20v1M7 22v6M8 20v2M8 24v1M8 28v1M9 25v1M9 28v1M10 22v1M11 26v2M12 22v1M12 27v1M13 21v1M14 21v1M15 27v4M16 21v6M16 28v1M17 25v2M17 30v1M18 20v1M19 20v1M19 29v1M21 19v1M21 21v2M21 26v1M22 21v1M23 22v5M25 30v1M26 23v1M26 30v1M27 31v1M28 19v1M28 24v2M28 28v1M29 20v1M30 24v2M30 28v1M31 20v1M31 28v2M33 26v2M34 27v2M35 27v1M36 19v1M37 21v1M37 25v3M38 21v1M39 25v1M40 22v2M40 29v1M42 26v4M43 31v1M44 29v1M46 19v1M47 19v2M49 20v1M49 24v3M50 20v1M51 22v3M54 21v1M55 15v3M55 22v1M55 25v1M56 21v1M56 25v2M56 29v1M57 21v1M57 26v4M58 24v1M58 27v2M59 19v4M59 28v2M60 22v1M60 25v3M60 29v1M61 20v3M61 26v2M62 24v2M63 22v1M63 26v1M65 23v2M66 26v2M67 13v2M67 25v2M71 16v1M71 18v1M71 22v3M71 28v1M72 18v2M72 21v1M72 23v2M73 22v1M73 25v1M74 23v3M74 28v1M75 25v2M75 29v1M76 20v1M77 23v1M78 25v1M80 26v2M81 13v1M81 22v1M81 25v3M82 22v1M82 25v1M83 23v1M83 26v2M84 23v2M84 27v1M86 17v2M86 28v1M87 23v2M87 29v1M88 19v2M88 28v1M89 21v1M91 23v2M91 27v1M94 22v1M95 23v4M96 22v2M97 22v1M97 25v1M97 27v1M98 27v2M99 22v5M100 18v2M100 29v1M101 25v3M101 29v1M102 28v1M103 20v1M103 24v1M104 24v1M105 27v1M106 22v1M106 28v1M108 22v1M111 15v1M111 25v1M112 25v4M113 26v1M114 29v1M115 19v1M115 21v1M115 23v1M115 28v1M116 19v1M117 20v1M117 28v1M118 22v1M118 24v3M119 22v1M120 22v2M120 28v1M121 22v1M121 27v1M125 22v1M125 24v4M126 26v1M127 22v1M129 21v1M130 22v3M133 23v1M134 23v1M136 22v2M137 23v2M140 22v1M141 22v1M144 22v1M148 22v2M149 22v1M152 23v1M153 23v1M162 22v1M169 24v1M171 24v1M173 24v1M183 21v1M183 24v1M184 22v2M187 24v1M190 22v1M191 22v2M193 24v1M195 22v1M196 22v2M198 23v1M199 22v1M201 22v2M202 22v2M203 22v1M205 22v1M209 23v1M211 22v2M212 22v1"/><path stroke="#4b00aa" d="M0 21v1M0 24v2M0 28v1M1 19v1M2 25v1M2 29v1M3 22v1M4 22v1M4 26v1M4 28v1M6 28v1M8 27v1M9 24v1M9 26v1M10 23v6M11 20v1M11 24v2M12 21v1M12 28v3M13 22v3M13 31v1M14 18v1M14 20v1M14 22v2M14 27v1M14 29v2M15 21v1M15 26v1M16 27v1M17 21v1M17 24v1M17 27v2M18 27v1M19 21v1M20 20v1M20 28v1M21 20v1M22 22v1M22 29v1M23 27v3M24 21v1M24 29v1M25 22v2M25 29v1M26 21v2M26 24v1M26 28v2M27 26v2M28 20v1M28 23v1M29 21v1M29 30v1M30 22v2M30 26v2M31 19v1M31 23v1M32 24v1M32 29v1M34 21v2M35 23v1M35 26v1M36 20v1M36 28v1M37 22v1M38 29v1M39 20v1M39 24v1M39 26v1M40 24v5M41 24v3M41 30v1M43 19v3M43 27v2M44 18v1M44 21v3M45 18v1M45 29v1M46 20v2M46 25v1M47 21v1M47 25v4M48 22v1M48 27v1M50 21v1M51 25v1M52 21v1M52 27v1M53 21v1M53 25v3M54 27v1M55 26v1M55 29v1M56 22v3M56 27v2M57 22v4M60 23v2M60 28v1M62 23v1M63 23v3M64 27v1M66 23v3M67 27v1M68 23v1M68 25v3M70 21v1M70 28v1M71 17v1M71 25v3M72 25v1M73 26v2M74 26v2M75 27v2M77 22v1M78 22v3M78 26v2M79 22v1M80 23v3M81 14v1M81 23v2M82 23v2M83 24v2M84 25v2M85 25v3M86 22v6M87 22v1M87 25v1M88 21v1M88 27v1M89 29v1M90 21v1M92 24v1M93 22v1M93 24v4M94 27v1M95 22v1M95 27v1M97 23v2M98 23v1M98 26v1M100 21v1M101 20v1M101 24v1M101 28v1M102 26v2M103 21v1M105 26v1M106 23v1M108 23v1M109 22v1M110 22v1M110 27v1M111 26v1M112 22v1M112 24v1M113 28v1M114 22v1M115 17v1M115 22v1M115 24v1M115 27v1M116 20v1M116 25v1M116 29v1M117 27v1M118 23v1M118 27v1M118 29v1M119 23v2M120 24v1M121 23v4M124 22v2M124 25v1M129 23v1M133 21v1M134 24v1M138 22v1M138 24v1M139 23v2M153 22v1M157 21v1M157 23v1M159 22v2M169 22v2M172 23v2M173 22v2M174 21v1M174 23v1M176 23v1M177 22v2M182 22v1M187 22v2M193 23v1M195 23v2M196 24v1M198 22v1M209 21v1"/><path stroke="#3500c2" d="M0 23v1M0 26v2M1 20v1M1 25v4M2 28v1M4 27v1M5 20v1M5 24v2M6 21v1M6 25v3M8 25v2M9 20v1M9 27v1M13 25v2M13 30v1M14 19v1M14 24v3M14 28v1M15 23v1M15 25v1M17 29v1M18 21v1M18 26v1M19 22v4M20 21v1M20 23v2M22 23v1M22 25v2M24 26v3M25 24v1M25 28v1M26 25v3M27 22v1M27 25v1M27 28v1M28 21v2M29 22v5M31 21v1M32 25v1M35 24v2M36 21v1M36 23v2M38 22v1M38 28v1M39 21v1M39 23v1M39 27v3M41 27v1M41 29v1M43 22v2M43 26v1M43 29v2M44 19v2M44 24v1M44 27v2M45 19v1M45 24v5M46 24v1M47 22v1M47 24v1M48 26v1M49 27v2M50 26v2M51 26v2M52 26v1M53 24v1M54 22v1M55 27v2M62 22v1M62 26v1M62 28v1M64 24v1M68 24v1M70 25v1M72 22v1M72 26v3M75 22v3M76 21v1M79 23v3M85 22v1M85 24v1M87 26v3M88 25v2M89 25v4M92 25v3M93 23v1M98 24v2M100 28v1M101 23v1M102 25v1M103 23v1M105 22v1M106 24v1M108 24v2M108 27v1M109 25v3M110 23v1M110 26v1M111 13v2M111 27v2M112 23v1M113 27v1M114 23v1M114 28v1M115 18v1M115 25v2M116 24v1M116 26v3M117 21v1M117 23v1M118 28v1M119 25v4M120 25v1M122 24v4M124 24v1M129 22v1M133 22v1M138 23v1M157 22v1M174 22v1M176 22v1M182 23v2M183 23v1M209 22v1"/><path stroke="#2100d9" d="M0 22v1M1 21v1M1 24v1M2 26v2M5 21v3M9 21v1M9 23v1M11 23v1M13 29v1M15 22v1M15 24v1M17 22v2M18 25v1M19 28v1M20 22v1M20 25v1M20 27v1M22 24v1M22 27v2M24 22v1M24 25v1M25 25v1M27 23v2M27 29v2M29 27v1M29 29v1M31 22v1M32 26v3M36 22v1M36 25v1M36 27v1M38 25v3M39 22v1M41 28v1M43 24v2M44 26v1M45 20v2M45 23v1M46 22v2M47 23v1M48 23v3M50 25v1M52 25v1M53 22v2M54 26v1M62 27v1M64 25v2M70 24v1M70 26v2M76 23v3M76 27v1M85 23v1M88 22v3M89 22v3M90 27v1M100 27v1M102 22v1M103 22v1M105 23v3M106 25v1M108 26v1M110 24v2M114 26v2M116 21v1M116 23v1M117 22v1M117 26v1M120 26v2M183 22v1"/><path stroke="#1000ec" d="M1 23v1M6 22v1M6 24v1M9 22v1M11 21v1M13 27v2M18 22v3M19 26v1M20 26v1M24 23v2M25 26v2M29 28v1M36 26v1M38 23v2M44 25v1M45 22v1M50 22v3M52 22v1M52 24v1M54 23v3M70 23v1M76 22v1M76 26v1M79 26v2M90 22v1M100 22v1M100 25v2M101 21v1M102 23v2M106 26v2M109 23v2M114 24v2M117 24v2"/><path stroke="#0000ff" d="M1 22v1M6 23v1M11 22v1M19 27v1M52 23v1M70 22v1M90 23v4M100 23v2M101 22v1M116 22v1"/></g>
<g transform="translate(65.366,623.92) scale(1.93286,2.54175)" shape-rendering="crispEdges" fill="none" stroke-width="1.02"><path stroke="#eaffff" d="M55 36v1M55 38v2M92 39v1M105 37v1M130 33v1"/><path stroke="#d6ffff" d="M13 39v1M95 39v1M105 36v1M152 31v2"/><path stroke="#c1feff" d="M13 38v1M22 37v1M56 38v1M76 34v1M137 36v1"/><path stroke="#a9fdff" d="M0 35v1M11 39v1M63 34v1M124 34v1M141 35v1M152 30v1M152 37v1M194 28v1M202 36v1"/><path stroke="#91fbff" d="M0 37v1M14 33v1M34 37v1M55 35v1M92 33v1M112 35v1M130 32v1M139 30v3M143 30v1M147 37v1M148 37v1M153 35v1M171 39v1M180 37v1M193 32v1M203 37v1M211 37v1"/><path stroke="#78faff" d="M0 36v1M8 35v1M10 35v1M20 35v1M21 34v1M38 38v1M64 38v1M67 36v1M102 34v1M114 34v1M119 38v1M128 39v1M138 38v1M154 29v1M158 38v1M163 29v1M167 37v1M169 31v1M171 38v1M174 37v1M177 34v1M183 35v1M186 39v1M193 31v1M196 33v1M202 37v1M206 37v1M207 30v1M211 36v1"/><path stroke="#60f9fe" d="M2 34v1M11 38v1M13 36v1M29 33v1M41 39v1M56 37v1M67 38v1M74 32v1M87 39v1M116 34v1M117 35v1M123 34v1M126 36v1M128 36v3M131 34v1M131 37v1M133 34v1M135 35v1M140 39v1M143 29v1M143 31v1M146 35v1M148 33v1M151 31v1M153 34v1M154 35v2M158 37v1M160 27v2M160 37v1M163 32v1M165 30v2M167 28v1M171 36v2M175 38v1M177 31v3M181 35v1M183 33v2M184 33v1M187 36v1M189 39v1M191 31v1M192 34v1M195 36v1M196 29v1M197 31v1M198 38v1M199 35v1M210 37v1"/><path stroke="#4cf7fc" d="M0 33v1M3 33v1M11 37v1M19 34v1M28 39v1M45 34v1M56 36v1M63 33v1M64 39v1M75 33v1M76 33v1M87 36v1M95 34v1M103 33v1M104 32v1M111 33v1M126 35v1M133 39v1M134 33v1M138 39v1M140 33v1M140 37v1M142 35v2M148 38v1M150 35v1M151 32v1M151 34v1M152 29v1M152 35v1M157 37v1M158 31v1M160 29v1M160 35v2M163 30v1M164 33v1M164 36v1M165 29v1M165 39v1M167 29v1M167 36v1M167 38v1M170 32v1M172 39v1M173 33v1M177 30v1M177 38v1M178 37v1M180 36v1M181 34v1M184 34v1M186 32v1M189 38v1M190 32v1M193 30v1M194 36v1M197 38v1M199 27v2M200 39v1M202 38v2M208 32v1M211 35v1M211 38v1"/><path stroke="#3af5f8" d="M1 33v1M15 35v1M18 36v1M24 37v1M30 33v1M35 33v1M36 33v1M38 35v3M41 35v1M41 37v2M83 33v1M84 35v1M88 35v1M99 34v1M108 34v1M113 33v1M119 34v1M119 36v1M120 33v1M126 37v1M126 39v1M128 35v1M137 30v1M137 37v1M139 29v1M140 26v2M140 38v1M141 34v1M143 32v1M147 33v1M147 38v1M149 34v1M151 33v1M152 36v1M153 33v1M157 36v1M157 38v1M158 32v1M158 36v1M160 34v1M163 28v1M165 32v1M165 38v1M167 27v1M171 34v1M174 35v1M177 29v1M179 32v2M180 33v1M180 35v1M181 36v1M183 32v1M185 35v1M187 33v1M188 28v1M189 37v1M190 33v1M190 35v1M191 30v1M191 36v1M192 31v3M195 32v1M198 37v1M199 34v1M200 33v1M201 36v2M203 33v1M206 36v1M207 29v1M210 30v1"/><path stroke="#30f5f1" d="M2 36v1M17 35v1M18 35v1M24 35v2M25 34v1M26 36v1M32 33v1M52 35v1M56 35v1M64 33v1M65 33v1M67 37v1M69 34v1M78 36v1M79 34v1M86 35v1M90 33v1M97 33v1M100 35v1M102 33v1M105 34v1M112 34v1M124 33v1M125 34v1M126 34v1M126 38v1M127 34v1M129 36v1M133 33v1M134 32v1M134 35v1M137 29v1M138 30v1M138 32v1M141 28v1M142 34v1M142 37v1M144 38v1M147 39v1M148 32v1M149 35v1M151 30v1M153 32v1M154 28v1M155 38v1M156 34v1M158 30v1M159 31v3M159 38v1M160 26v1M160 30v1M161 37v3M163 31v1M164 32v1M165 37v1M166 39v1M171 33v1M174 36v1M176 39v1M177 39v1M178 33v1M180 34v1M181 33v1M190 31v1M190 34v1M192 30v1M194 27v1M194 37v1M196 26v1M199 29v1M202 32v1M206 29v1M211 34v1M212 37v1"/><path stroke="#27f4e7" d="M2 33v1M2 35v1M5 33v1M15 34v1M17 33v1M17 36v1M26 37v1M39 34v1M44 32v1M58 35v1M61 32v1M70 34v1M73 34v1M88 34v1M89 32v1M91 34v1M115 34v1M119 33v1M119 37v1M123 33v1M127 33v1M129 35v1M130 31v1M131 33v1M132 37v1M135 28v2M138 29v1M138 31v1M143 28v1M146 34v1M148 39v1M149 33v1M149 38v2M155 26v1M157 35v1M157 39v1M158 33v1M158 35v1M161 31v1M164 34v2M165 33v1M165 36v1M166 38v1M167 30v1M167 39v1M169 30v1M171 26v2M171 32v1M172 28v2M172 38v1M173 27v4M173 32v1M175 25v8M175 37v1M177 28v1M178 32v1M178 38v1M179 31v1M180 26v1M180 32v1M183 31v1M184 32v1M185 28v2M185 31v1M186 29v3M187 37v1M191 29v1M195 37v1M197 30v1M199 26v1M199 33v1M201 35v1M201 38v1M204 34v1M205 31v1M206 30v2M206 35v1M210 29v1M210 31v1M211 39v1"/><path stroke="#22f2d6" d="M4 33v1M27 34v1M34 36v1M67 33v1M78 35v1M93 32v1M103 32v1M118 33v1M126 33v1M127 35v1M128 34v1M129 34v1M132 34v3M135 27v1M135 30v1M135 34v1M136 27v2M137 28v1M138 28v1M140 28v1M141 24v4M142 33v1M142 38v1M143 33v1M145 32v1M147 29v4M149 28v1M149 36v1M150 34v1M151 38v1M152 28v1M153 31v1M155 27v1M155 33v1M158 24v1M158 34v1M159 30v1M160 31v1M160 33v1M161 32v1M161 36v1M162 35v2M165 27v1M165 35v1M167 26v1M170 31v1M170 37v1M171 25v1M171 31v1M172 30v1M173 26v1M173 31v1M174 29v1M175 24v1M178 39v1M179 29v2M180 25v1M181 32v1M182 39v1M183 30v1M184 35v1M185 30v1M187 32v1M188 27v1M189 36v1M192 29v1M193 29v1M194 23v2M196 30v1M196 32v1M197 39v1M198 36v1M199 30v1M201 33v2M203 32v1M205 28v1M206 32v1M206 34v1M207 28v1M209 29v1M210 28v1M211 33v1"/><path stroke="#1defc3" d="M6 33v1M8 34v1M10 34v1M11 34v1M14 32v1M20 34v1M26 35v1M26 39v1M66 34v1M68 34v1M72 35v1M94 32v1M96 35v1M121 35v1M128 33v1M131 32v1M132 33v1M133 32v1M134 26v1M134 29v3M136 32v1M139 28v1M140 25v1M141 31v1M142 24v1M142 31v2M142 39v1M145 31v1M145 33v1M148 31v1M149 27v1M149 29v1M149 32v1M149 37v1M150 29v2M150 38v1M153 30v1M154 27v1M155 22v2M155 25v1M155 28v2M155 32v1M155 34v1M158 23v1M158 25v3M159 34v1M160 25v1M161 24v1M161 30v1M163 22v6M165 22v1M165 34v1M166 32v3M167 31v1M167 35v1M168 28v2M169 29v1M171 28v1M172 27v1M172 31v4M175 33v1M176 25v1M178 24v1M178 31v1M179 27v2M179 34v1M180 27v1M181 37v1M183 29v1M184 24v1M185 27v1M185 39v1M186 28v1M187 38v2M188 33v1M189 30v2M190 30v1M192 27v2M195 31v1M199 32v1M200 32v1M201 32v1M201 39v1M202 31v1M203 38v1M204 29v1M205 27v1M205 29v1M206 28v1M206 33v1M208 31v1M210 36v1"/><path stroke="#1aeead" d="M12 34v1M18 33v1M22 33v1M23 33v1M26 38v1M29 32v1M34 34v1M37 33v1M43 34v1M45 33v1M49 33v1M50 34v1M53 34v1M54 35v1M57 34v1M59 32v1M63 32v1M71 34v1M78 33v2M102 32v1M107 32v1M117 34v1M120 32v1M123 32v1M127 32v1M127 36v1M128 32v1M129 33v1M131 31v1M131 38v1M134 25v1M134 27v2M134 36v1M135 26v1M135 31v1M137 25v3M137 38v1M138 27v1M141 33v1M142 30v1M144 32v1M145 25v2M145 34v1M146 33v1M149 30v2M150 27v2M150 33v1M152 26v2M153 27v3M155 24v1M155 30v2M156 33v1M158 28v2M159 24v2M159 29v1M160 23v2M160 32v1M161 23v1M161 25v1M161 33v1M161 35v1M162 23v1M162 37v1M164 31v1M166 31v1M166 37v1M167 25v1M168 30v1M170 30v1M171 22v1M171 24v1M171 30v1M172 35v1M172 37v1M176 24v1M176 26v5M176 35v1M176 38v1M179 26v1M180 31v1M181 31v1M184 23v1M184 25v1M184 31v1M185 36v1M188 26v1M188 34v1M189 28v2M189 32v1M189 35v1M190 29v1M191 37v1M191 39v1M193 28v1M194 25v2M195 38v1M196 25v1M196 31v1M197 29v1M198 26v1M199 20v1M199 31v1M200 30v2M205 26v1M205 30v1M207 27v1M210 27v1M211 25v2M211 32v1"/><path stroke="#17ec97" d="M13 35v1M16 32v1M19 33v1M21 33v1M24 34v1M28 34v1M30 32v1M31 32v1M34 35v1M38 34v1M41 34v1M46 32v1M51 33v1M55 34v1M58 34v1M60 32v1M75 32v1M78 32v1M84 34v1M92 32v1M105 33v1M106 32v1M119 32v1M122 33v1M124 32v1M125 33v1M126 32v1M127 37v1M130 30v1M131 29v2M133 31v1M136 26v1M142 25v1M142 29v1M143 27v1M144 39v1M145 27v1M145 30v1M148 25v2M149 26v1M150 31v2M152 25v1M153 26v1M154 26v1M155 35v1M155 37v1M157 34v1M159 23v1M159 37v1M161 29v1M161 34v1M162 22v1M162 24v3M162 31v2M162 34v1M164 23v2M166 35v2M167 24v1M167 32v1M168 27v1M168 31v1M169 28v1M170 38v1M171 23v1M171 29v1M172 36v1M173 25v1M174 28v1M175 23v1M175 34v1M175 36v1M176 31v1M176 34v1M176 36v2M177 21v2M177 27v1M178 23v1M178 25v1M178 27v2M178 30v1M179 25v1M179 35v1M181 30v1M185 22v1M185 38v1M186 27v1M187 31v1M188 35v1M189 27v1M189 33v1M190 28v1M191 28v1M191 38v1M192 26v1M198 25v1M198 27v1M198 31v1M198 35v1M200 29v1M202 30v1M203 24v1M203 31v1M209 39v1M210 32v1M211 24v1M211 27v1M211 31v1"/><path stroke="#14eb82" d="M0 32v1M7 33v1M9 33v1M33 33v1M34 33v1M40 33v1M56 34v1M62 32v1M68 33v1M72 34v1M76 32v1M77 33v1M79 33v1M80 32v1M82 32v1M85 33v1M90 32v1M98 33v1M101 34v1M108 33v1M109 32v1M110 32v1M112 33v1M114 33v1M127 38v2M128 31v1M129 32v1M131 28v1M132 32v1M133 30v1M135 25v1M135 32v2M136 29v1M138 26v1M139 27v1M140 29v1M140 32v1M141 32v1M142 28v1M143 34v1M145 24v1M145 35v1M147 23v1M147 28v1M148 24v1M149 24v2M150 26v1M150 39v1M151 23v1M151 29v1M151 39v1M153 25v1M154 25v1M155 36v1M156 27v2M157 26v3M158 22v1M159 26v3M159 35v1M160 22v1M161 22v1M161 26v1M162 27v2M162 30v1M162 33v1M162 38v1M165 21v1M165 26v1M166 28v3M167 34v1M168 32v3M170 39v1M172 26v1M175 21v2M175 35v1M176 32v2M177 23v1M178 26v1M178 29v1M179 24v1M179 36v2M180 28v1M181 38v1M182 29v2M182 38v1M183 21v3M183 28v1M184 26v1M184 29v2M185 23v1M185 26v1M185 37v1M186 22v1M188 25v1M189 34v1M190 24v4M193 27v1M194 22v1M195 25v2M195 30v1M195 39v1M196 24v1M198 30v1M198 32v1M199 21v2M199 25v1M200 28v1M201 31v1M202 29v1M203 25v1M203 29v2M204 35v1M205 23v3M206 27v1M207 26v1M208 27v2M208 30v1M209 28v1"/><path stroke="#0fed6d" d="M1 32v1M15 33v1M26 34v1M45 32v1M47 32v1M77 32v1M88 33v1M91 33v1M95 33v1M99 33v1M118 32v1M129 31v1M133 0v1M137 24v1M137 39v1M139 26v1M140 24v1M142 26v2M143 39v1M144 31v1M145 23v1M145 28v2M145 39v1M146 25v1M146 32v1M147 24v1M148 27v1M148 30v1M150 23v1M150 25v1M152 24v1M154 24v1M156 32v1M157 29v2M159 22v1M159 36v1M161 27v2M162 29v1M162 39v1M164 25v1M164 27v2M164 30v1M165 0v1M165 23v1M166 24v2M167 33v1M168 26v1M169 27v1M170 29v1M171 21v1M174 26v2M176 23v1M177 24v1M179 22v2M179 38v2M180 24v1M180 30v1M181 29v1M181 39v1M182 28v1M183 24v1M184 22v1M184 27v2M185 21v1M185 24v2M186 21v1M186 23v1M186 26v1M187 22v2M187 30v1M188 22v3M188 36v1M189 26v1M191 22v1M192 25v1M193 26v1M194 21v1M195 27v3M197 25v1M197 28v1M198 28v2M198 33v2M199 23v2M200 27v1M202 25v2M202 28v1M203 23v1M203 26v3M207 25v1M208 29v1M210 26v1M210 35v1M211 28v3M212 19v2M212 32v1"/><path stroke="#0bef59" d="M15 32v1M20 33v1M31 0v1M65 32v1M66 33v1M69 33v1M70 33v1M84 33v1M85 0v1M86 34v1M96 34v1M98 0v1M100 34v1M102 31v1M103 0v1M105 32v1M115 33v1M116 33v1M121 32v1M121 34v1M125 32v1M127 31v1M131 27v1M133 29v1M134 24v1M136 31v1M138 24v2M139 25v1M141 23v1M143 35v1M146 23v2M146 26v1M147 22v1M148 23v1M148 28v2M149 23v1M150 24v1M151 24v1M152 23v1M153 22v3M154 22v2M156 0v1M156 23v4M156 29v1M157 25v1M157 31v1M157 33v1M164 22v1M164 26v1M164 29v1M166 23v1M166 26v2M167 23v1M168 22v2M168 25v1M168 35v1M169 26v1M170 24v3M170 28v1M172 25v1M174 21v2M177 25v2M178 0v1M178 22v1M180 29v1M182 24v4M182 31v1M183 1v2M183 20v1M183 27v1M184 36v1M184 39v1M186 24v2M187 21v1M187 24v1M187 27v3M188 21v1M190 23v1M191 21v1M191 23v1M193 23v3M194 1v2M194 20v1M195 24v1M196 23v1M197 24v1M197 26v2M198 24v1M200 26v1M202 24v1M202 27v1M203 39v1M204 22v1M204 28v1M205 22v1M206 20v1M206 23v4M207 23v2M208 20v1M208 26v1M209 23v1M209 27v1M210 21v1M210 33v1M211 23v1M212 21v1M212 24v5M212 31v1M212 33v1M212 36v1"/><path stroke="#07f141" d="M2 32v1M3 32v1M4 1v2M8 33v1M13 34v1M31 1v1M33 32v1M38 33v1M39 33v1M48 0v1M48 32v1M50 33v1M52 33v2M53 33v1M54 34v1M56 0v1M70 5v2M71 33v1M72 0v1M74 31v1M79 32v1M81 32v1M85 1v1M86 33v1M87 33v1M90 31v1M96 33v1M100 1v2M100 33v1M107 2v1M108 32v1M112 32v1M118 31v1M119 31v1M120 0v1M120 31v1M122 32v1M125 31v1M126 31v1M129 30v1M130 29v1M131 26v1M132 29v1M132 31v1M133 1v1M133 27v2M134 37v1M136 25v1M136 30v1M137 6v2M139 24v1M140 5v1M142 23v1M143 25v2M143 38v1M144 23v3M144 30v1M145 36v1M145 38v1M146 31v1M147 25v1M149 0v1M149 5v2M150 22v1M151 25v1M156 1v1M156 22v1M156 31v1M157 22v3M157 32v1M163 21v1M164 4v2M165 1v1M165 24v2M168 24v1M168 36v1M168 38v2M169 25v1M170 22v2M170 27v1M172 21v2M172 24v1M173 1v1M173 24v1M174 25v1M176 22v1M178 21v1M181 21v8M182 37v1M183 0v1M183 3v1M183 25v2M184 21v1M186 20v1M187 25v2M188 37v1M189 20v6M191 24v1M191 27v1M192 0v2M192 24v1M193 0v3M193 20v3M194 0v1M196 22v1M197 20v2M198 20v1M199 19v1M201 21v1M201 30v1M202 21v3M203 22v1M204 21v1M204 23v3M204 27v1M205 21v1M206 19v1M206 21v2M207 22v1M208 3v1M208 19v1M208 21v2M208 25v1M209 21v2M209 24v3M210 20v1M210 22v2M210 25v1M210 34v1M212 22v2M212 29v2"/><path stroke="#02f324" d="M10 33v1M11 33v1M18 32v1M22 0v1M25 33v1M26 33v1M27 4v2M31 2v1M32 32v1M35 32v1M47 0v1M64 32v1M70 4v1M76 7v1M80 2v1M88 0v1M89 31v1M91 32v1M96 32v1M98 1v1M100 0v1M101 6v1M103 1v1M103 31v1M104 31v1M105 0v1M105 4v1M105 31v1M107 0v2M110 0v2M111 32v1M112 0v1M113 32v1M116 2v1M120 1v1M121 31v1M121 33v1M122 3v1M123 31v1M124 31v1M126 6v2M128 30v1M129 0v4M129 29v1M130 26v3M132 30v1M133 8v1M133 26v1M135 24v1M136 5v1M137 4v2M140 0v1M140 4v1M140 6v2M140 30v2M141 5v1M143 24v1M143 36v2M144 0v3M144 6v1M144 26v1M144 29v1M146 27v1M146 30v1M147 27v1M148 3v2M149 7v1M150 0v1M151 22v1M151 28v1M156 2v1M156 30v1M157 1v3M159 3v1M163 1v1M164 3v1M165 2v1M166 0v1M166 22v1M168 21v1M168 37v1M169 2v2M169 21v2M169 24v1M171 0v2M172 23v1M173 0v1M173 2v1M174 23v2M176 2v3M176 21v1M178 1v1M179 21v1M182 23v1M182 32v1M182 34v3M183 4v1M184 37v2M185 20v1M188 3v2M188 20v1M188 38v2M190 21v2M191 3v2M191 25v2M192 2v2M192 20v4M193 3v1M194 3v1M195 23v1M196 20v2M197 22v2M198 23v1M200 25v1M201 20v1M201 22v3M202 20v1M203 21v1M204 20v1M204 26v1M204 39v1M205 20v1M207 21v1M208 4v1M208 23v2M209 20v1M210 24v1M211 20v3M212 34v2"/><path stroke="#05f70e" d="M2 0v2M4 0v1M4 32v1M7 5v2M12 0v1M13 0v2M14 31v1M15 2v2M17 0v5M24 33v1M27 3v1M27 6v1M27 33v1M28 0v2M31 3v1M34 32v1M35 4v3M36 4v1M39 0v1M40 6v2M41 33v1M45 0v1M45 8v3M46 0v1M46 9v3M48 1v1M50 0v1M51 0v3M59 5v1M60 0v1M64 0v2M70 0v4M70 7v1M71 9v1M73 33v1M74 1v1M75 31v1M76 5v2M76 8v1M78 1v1M80 1v1M80 3v1M82 0v3M83 0v3M84 0v1M85 2v1M86 4v2M87 0v4M88 1v1M91 31v1M93 31v1M94 2v3M95 0v1M97 32v1M99 2v1M100 3v2M100 7v1M101 0v1M101 7v1M103 4v1M104 1v3M105 3v1M105 5v1M106 31v1M107 3v1M108 0v1M110 2v1M112 9v1M113 7v2M115 0v1M116 1v1M116 3v2M117 33v1M122 2v1M123 2v1M126 5v1M126 8v1M127 30v1M129 4v1M129 28v1M130 25v1M131 0v2M131 5v2M131 25v1M131 39v1M132 28v1M133 2v1M133 7v1M136 4v1M136 6v3M136 24v1M137 0v2M137 8v1M138 7v2M140 1v3M140 8v1M141 0v5M141 6v2M142 3v3M144 3v3M144 7v1M144 27v2M146 28v2M147 26v1M148 2v1M148 5v1M148 22v1M149 1v1M149 4v1M149 22v1M150 1v2M151 26v2M152 0v1M152 22v1M153 0v2M155 0v1M155 4v2M157 0v1M157 4v1M158 21v1M159 2v1M159 4v1M160 2v2M161 21v1M162 0v2M162 5v1M162 21v1M163 0v1M164 1v2M164 6v1M164 21v1M166 1v1M166 5v1M167 22v1M169 0v2M169 23v1M170 0v6M170 21v1M171 2v1M173 23v1M175 20v1M176 1v1M176 5v1M176 20v1M177 0v1M177 3v2M177 20v1M178 2v1M179 0v1M180 3v2M180 21v1M180 23v1M182 0v3M182 33v1M184 4v2M185 0v1M185 3v1M186 0v5M187 0v1M187 20v1M188 2v1M188 5v1M191 2v1M191 20v1M192 4v1M194 4v1M195 20v1M198 19v1M198 21v1M199 0v1M199 2v2M200 2v2M200 20v3M201 25v5M203 0v2M203 20v1M204 36v1M205 0v1M207 2v2M207 19v2M208 2v1M209 2v2M209 19v1M210 19v1M211 19v1"/><path stroke="#12fe01" d="M0 5v4M4 3v1M5 32v1M7 2v1M7 4v1M7 7v1M7 32v1M8 0v1M12 1v1M13 7v1M14 5v1M15 0v2M15 4v1M15 31v1M16 0v1M16 4v1M17 5v1M17 32v1M19 32v1M20 6v2M20 32v1M22 1v1M24 4v2M25 0v1M27 7v1M28 2v1M29 5v3M29 31v1M30 7v1M30 31v1M33 0v3M35 2v2M35 7v1M36 3v1M36 5v1M36 32v1M39 1v1M40 5v1M40 8v2M41 0v1M43 33v1M44 4v2M44 31v1M45 1v1M45 7v1M45 11v1M46 1v1M47 1v1M49 32v1M50 1v1M50 4v2M50 32v1M51 3v1M52 1v2M54 1v1M55 33v1M56 1v1M58 5v3M58 33v1M59 3v2M59 6v1M59 31v1M60 1v1M60 7v2M62 9v2M64 2v1M65 0v4M67 0v4M67 6v3M68 32v1M69 11v1M71 8v1M71 10v1M72 1v1M73 0v1M73 7v4M74 0v1M74 2v1M75 0v3M76 4v1M77 2v5M77 31v1M78 0v1M78 2v1M78 31v1M79 0v4M80 0v1M80 4v2M81 1v2M81 4v1M82 3v1M83 32v1M84 1v1M85 3v1M86 3v1M86 6v1M86 32v1M87 4v1M87 8v2M88 2v1M89 0v1M90 0v1M91 6v3M92 0v3M93 5v2M94 0v2M94 5v1M95 1v1M97 0v5M98 2v1M99 0v2M99 3v1M99 7v2M100 5v2M100 8v5M101 1v1M101 5v1M101 8v1M101 33v1M103 2v2M103 5v1M104 0v1M104 4v1M105 1v2M106 0v3M108 1v2M109 4v1M110 3v1M112 1v1M112 10v1M113 6v1M114 0v5M115 1v1M116 0v1M116 5v3M117 1v2M117 7v2M118 8v1M120 2v3M121 3v3M122 0v2M122 4v1M123 1v1M123 3v1M125 8v2M125 30v1M126 0v1M126 9v1M126 30v1M128 0v1M128 8v2M128 29v1M129 5v5M129 27v1M130 0v1M130 3v2M130 6v2M131 2v3M131 7v1M132 3v2M132 27v1M133 3v1M133 9v1M133 25v1M134 3v3M135 0v5M136 0v1M136 3v1M137 2v2M138 5v2M139 1v2M139 5v4M142 2v1M142 6v1M143 4v1M143 23v1M145 1v2M145 22v1M145 37v1M146 22v1M147 0v3M147 6v1M148 1v1M148 6v1M150 3v1M152 1v1M152 5v1M153 2v1M154 21v1M155 1v1M155 3v1M155 6v1M155 21v1M156 3v1M157 5v1M159 0v2M159 5v1M159 21v1M160 0v2M160 4v1M160 21v1M161 0v3M161 5v1M162 2v3M162 6v1M163 2v1M163 4v2M164 0v1M165 3v1M166 2v3M166 21v1M167 5v1M168 5v1M169 4v1M171 3v1M171 5v1M173 3v1M173 22v1M174 4v2M174 20v1M175 0v3M176 0v1M177 1v2M177 5v1M178 3v1M179 1v2M180 2v1M180 5v1M180 22v1M181 0v2M182 3v1M182 22v1M183 5v1M185 1v2M185 4v1M187 1v1M187 4v1M190 2v3M190 20v1M191 1v1M193 4v1M194 19v1M195 21v2M197 19v1M198 0v1M198 3v1M198 22v1M199 1v1M199 4v1M200 0v2M200 23v2M201 2v2M202 19v1M203 2v1M204 19v1M205 1v1M205 3v1M206 0v1M207 0v2M208 0v2M209 1v1M210 0v1M212 0v1M212 18v1"/><path stroke="#32ff00" d="M0 4v1M0 31v1M1 0v4M2 2v1M4 4v1M6 32v1M7 1v1M7 3v1M7 8v1M8 1v1M10 0v1M11 0v1M13 2v1M13 5v2M13 33v1M14 1v2M14 4v1M14 6v1M16 1v1M16 3v1M16 5v1M16 31v1M17 6v2M17 10v1M20 0v6M20 8v1M22 2v2M22 6v2M24 0v2M24 3v1M25 5v2M26 7v2M28 3v2M29 1v4M29 8v3M30 0v2M30 6v1M30 8v1M31 4v1M31 9v2M32 3v1M35 1v1M35 8v1M36 6v1M39 2v3M40 0v1M40 4v1M40 10v2M41 1v1M42 0v2M42 33v1M43 3v1M43 8v1M44 3v1M44 6v1M44 12v1M45 2v1M45 31v1M46 2v1M46 12v1M47 2v1M48 6v2M49 1v1M50 2v2M51 4v1M52 0v1M52 3v7M54 0v1M54 2v1M54 33v1M56 33v1M57 3v2M57 33v1M58 2v3M58 8v1M59 2v1M60 2v1M60 6v1M60 9v2M60 31v1M62 0v1M62 8v1M64 3v1M65 4v1M67 4v2M67 9v1M68 0v1M69 1v3M69 10v1M69 12v1M70 8v1M71 7v1M71 11v2M72 33v1M73 1v1M73 6v1M73 11v1M73 13v2M74 3v2M75 3v1M75 10v2M76 0v4M77 1v1M77 7v5M78 3v2M79 4v4M81 0v1M81 3v1M81 5v1M82 4v4M83 3v1M85 4v4M86 2v1M86 7v2M87 5v1M87 10v1M88 3v4M89 1v1M89 6v1M90 1v2M90 6v2M91 0v4M91 5v1M91 9v1M93 4v1M94 6v2M94 31v1M95 32v1M96 2v3M98 5v1M98 32v1M99 9v1M99 32v1M100 13v1M101 9v1M102 0v1M102 9v1M104 5v1M105 6v1M106 3v1M107 4v1M108 3v2M109 0v1M109 3v1M109 5v1M110 4v1M112 8v1M113 0v4M113 5v1M113 9v1M115 2v3M116 8v1M117 0v1M117 3v1M117 6v1M117 9v1M118 7v1M118 9v2M119 0v1M119 2v4M120 5v2M121 0v3M122 5v2M122 31v1M123 0v1M123 4v1M124 0v1M124 3v3M125 1v2M126 1v1M126 4v1M127 0v1M128 1v3M128 6v2M128 28v1M129 26v1M130 1v2M130 5v1M130 8v1M131 8v1M132 2v1M132 5v1M132 25v2M133 4v1M133 6v1M134 0v3M134 6v3M134 38v1M135 5v4M136 1v2M136 9v1M138 0v5M138 9v1M139 0v1M139 3v2M141 8v1M142 0v2M142 7v1M143 2v2M143 5v2M145 0v1M145 3v4M146 0v7M147 3v1M147 5v1M148 0v1M149 2v2M150 4v1M151 0v2M152 2v1M152 4v1M152 6v1M153 3v1M153 5v1M153 21v1M154 0v2M154 4v1M155 2v1M157 6v1M157 21v1M158 0v2M158 3v1M160 5v1M161 3v2M163 3v1M163 6v1M165 4v1M166 6v1M167 0v5M167 21v1M168 0v2M168 4v1M170 6v1M171 4v1M172 0v1M172 4v1M173 4v3M173 21v1M174 3v1M175 3v1M178 20v1M179 3v2M180 1v1M180 20v1M181 2v1M181 4v1M181 20v1M182 4v1M182 21v1M184 3v1M184 20v1M186 5v1M187 2v2M188 1v1M189 1v4M190 1v1M190 5v1M191 0v1M191 5v1M194 5v1M195 3v1M196 1v1M198 1v2M198 4v1M200 19v1M201 0v2M201 19v1M203 3v1M203 19v1M204 2v2M204 38v1M205 2v1M205 19v1M207 4v1M208 18v1M209 0v1M209 4v1M210 1v1M211 3v1M212 1v2"/><path stroke="#54ff00" d="M0 9v1M1 4v1M2 3v2M2 9v1M4 5v1M5 0v2M5 5v3M7 0v1M7 9v1M8 2v5M9 0v1M10 6v2M10 11v3M11 1v1M11 6v3M12 2v1M12 33v1M13 4v1M13 8v1M14 0v1M14 3v1M14 7v1M15 5v1M16 2v1M16 6v1M16 11v1M17 8v2M17 11v1M18 6v3M18 12v1M19 3v4M20 9v1M20 12v1M21 32v1M22 4v2M22 8v1M22 32v1M23 8v1M24 2v1M24 6v1M25 4v1M26 2v3M26 6v1M26 9v1M27 2v1M27 8v2M28 5v1M28 7v3M28 33v1M29 0v1M29 11v1M31 8v1M31 11v2M32 2v1M32 4v1M33 3v4M33 13v1M35 0v1M36 2v1M36 7v1M37 32v1M39 9v2M40 1v1M40 3v1M41 2v1M42 2v1M43 0v3M43 4v4M43 9v1M44 2v1M44 7v1M44 11v1M44 13v1M45 3v1M45 6v1M45 12v1M46 8v1M46 13v1M46 31v1M47 3v3M48 2v1M48 5v1M48 8v1M48 13v1M49 0v1M49 2v1M50 6v1M50 12v1M51 5v2M51 32v1M52 10v1M53 2v4M53 8v2M54 6v1M57 2v1M58 1v1M60 3v1M60 5v1M61 0v4M61 31v1M62 1v4M62 7v1M63 3v2M65 5v1M66 6v1M67 32v1M68 7v2M69 0v1M69 4v1M69 9v1M69 13v1M69 32v1M70 9v2M70 32v1M71 4v3M71 13v2M72 2v1M73 2v1M73 5v1M73 12v1M74 5v2M74 9v1M75 6v4M75 12v1M76 9v1M76 31v1M78 5v3M79 8v1M80 6v1M80 31v1M81 6v1M82 8v1M83 4v2M84 2v1M84 32v1M85 8v3M85 32v1M86 1v1M87 6v2M87 11v1M88 7v1M89 2v1M89 5v1M90 3v1M90 5v1M90 8v3M91 4v1M91 10v1M92 3v1M93 2v2M93 7v1M94 8v1M95 2v1M96 0v2M96 5v1M97 5v1M98 3v2M98 6v1M98 9v1M99 4v3M99 10v1M100 14v1M101 2v1M101 4v1M102 1v1M102 4v5M102 10v1M103 6v1M104 6v1M105 7v2M106 4v1M107 31v1M108 5v1M109 1v2M110 5v4M110 31v1M111 0v1M111 3v4M112 2v1M112 7v1M112 11v1M113 4v1M114 5v1M114 10v1M114 32v1M115 5v1M116 10v2M117 4v2M118 1v2M118 6v1M118 11v1M118 30v1M119 1v1M119 6v4M119 30v1M120 7v1M121 6v1M122 7v1M124 1v2M125 0v1M125 6v2M125 10v1M126 2v1M128 4v2M128 10v1M129 10v1M129 25v1M130 9v1M131 9v1M132 0v2M132 6v1M133 5v1M138 23v1M139 23v1M140 23v1M143 0v2M143 7v1M144 22v1M145 7v1M146 7v1M147 4v1M147 7v1M148 7v1M149 8v1M150 5v1M151 2v1M151 5v2M152 3v1M153 4v1M154 2v2M154 5v2M156 4v1M156 21v1M158 2v1M158 4v1M159 6v1M160 6v1M161 6v1M162 7v1M164 7v1M165 5v1M167 6v1M168 2v2M168 6v1M169 5v1M171 6v1M171 20v1M172 1v1M172 3v1M172 5v1M174 0v3M175 4v1M178 4v1M180 0v1M180 6v1M181 3v1M181 5v1M183 6v1M184 6v1M185 5v1M187 5v1M188 0v1M189 5v1M190 0v1M193 19v1M195 0v3M195 4v1M196 0v1M196 2v3M196 19v1M197 2v3M200 4v1M201 4v1M202 3v1M204 1v1M204 37v1M205 4v1M206 1v1M208 5v1M210 2v2M211 2v1M212 3v1"/><path stroke="#73ff00" d="M0 0v1M0 3v1M1 5v1M1 9v2M1 31v1M2 5v4M2 10v1M4 6v1M5 2v3M5 8v1M6 0v2M6 3v4M7 10v1M8 7v1M9 1v2M9 8v1M9 32v1M10 1v1M10 8v1M11 2v1M11 5v1M11 9v3M12 3v2M13 3v1M13 9v1M14 8v1M14 10v2M16 7v4M16 12v1M17 12v1M18 0v1M18 2v4M18 9v3M18 13v2M19 0v3M19 7v4M20 10v2M20 13v1M21 4v2M21 10v1M22 9v1M23 6v2M23 9v1M23 32v1M25 1v1M25 3v1M26 0v2M26 5v1M26 10v1M27 10v1M28 6v1M28 10v1M30 2v1M30 5v1M30 9v1M31 5v3M32 0v2M32 5v5M33 7v1M33 12v1M35 9v1M36 8v1M37 0v2M37 3v2M39 5v1M39 8v1M39 11v1M39 32v1M40 2v1M44 0v2M44 8v1M44 10v1M45 4v2M45 13v2M46 3v5M47 6v2M48 3v2M48 9v2M48 12v1M48 14v1M49 3v1M49 6v5M50 9v3M50 13v1M51 7v1M52 11v1M53 1v1M53 6v2M53 10v1M54 3v1M54 5v1M54 7v1M56 2v1M57 1v1M57 5v1M58 0v1M58 9v1M59 1v1M59 7v1M60 4v1M60 11v1M62 5v1M62 11v1M63 0v3M63 5v1M63 31v1M64 4v4M66 0v6M66 7v1M67 10v1M68 1v1M68 6v1M68 9v1M69 8v1M70 11v2M71 3v1M71 15v1M72 4v8M73 3v2M73 15v1M74 7v2M74 10v1M75 4v2M75 13v1M76 10v1M77 0v1M77 12v1M78 8v3M79 9v1M80 7v1M81 7v1M82 31v1M83 6v1M85 11v2M86 9v1M86 12v1M87 12v1M88 8v2M88 12v2M88 32v1M89 3v2M89 7v1M90 4v1M90 30v1M92 31v1M93 0v2M93 8v1M95 3v3M97 6v1M98 7v2M98 10v2M99 11v2M100 15v1M101 3v1M101 10v2M102 2v2M102 11v1M102 30v1M103 7v2M104 7v1M105 9v1M108 6v1M108 31v1M109 6v1M111 1v2M111 7v1M113 10v1M114 6v1M114 8v2M114 11v1M115 8v2M115 32v1M116 9v1M116 12v1M117 10v1M118 0v1M118 3v3M118 12v2M120 8v3M120 30v1M123 5v1M123 30v1M124 6v1M124 30v1M125 3v1M125 5v1M126 3v1M126 10v1M126 29v1M127 1v4M127 6v2M127 29v1M128 27v1M130 10v1M130 24v1M131 10v1M131 24v1M132 7v1M134 9v1M134 39v1M135 9v1M137 9v1M137 23v1M139 9v1M140 9v1M147 21v1M149 9v1M150 6v1M151 3v2M153 6v1M154 7v1M155 7v1M156 5v1M157 7v1M158 5v1M159 7v1M160 7v1M163 7v1M165 6v1M165 20v1M169 20v1M172 2v1M172 6v1M174 6v1M175 5v1M176 6v1M177 6v1M179 5v1M179 20v1M188 6v1M192 5v1M192 19v1M193 5v1M197 1v1M198 5v1M199 5v1M202 2v1M202 4v1M203 4v1M204 4v1M206 2v2M211 0v2M211 4v1"/><path stroke="#91ff00" d="M0 1v2M0 10v1M1 8v1M1 11v1M3 1v2M3 8v2M3 31v1M4 7v1M4 9v2M5 9v1M6 2v1M6 7v1M7 11v1M8 8v1M8 10v1M8 12v2M8 32v1M9 3v5M9 9v1M9 11v2M10 2v4M10 10v1M11 3v2M12 5v2M14 9v1M14 12v1M15 6v1M15 10v2M17 13v1M18 1v1M21 0v2M21 3v1M21 6v1M21 9v1M21 11v1M22 10v1M23 0v1M23 5v1M23 10v1M24 7v1M25 2v1M25 7v1M26 11v1M27 0v2M27 11v1M28 11v1M29 12v1M30 3v2M30 10v1M31 13v1M31 31v1M33 8v2M33 11v1M33 14v1M33 31v1M34 0v4M34 9v2M35 10v1M36 1v1M36 11v2M37 2v1M37 5v3M38 32v1M39 12v1M40 12v1M40 32v1M41 3v1M42 3v1M44 9v1M44 14v1M45 15v1M46 14v1M47 31v1M48 11v1M49 4v2M49 11v1M50 7v2M51 8v1M51 12v3M52 12v1M52 32v1M53 0v1M53 11v1M53 32v1M54 4v1M55 2v7M56 3v6M57 6v1M58 10v2M61 4v2M62 6v1M63 6v6M64 8v1M65 6v1M66 8v3M66 32v1M68 2v4M69 5v1M69 14v1M70 13v1M71 2v1M71 16v1M72 3v1M72 12v1M73 16v1M75 14v1M76 11v1M79 10v1M79 31v1M81 8v1M82 9v1M84 3v1M84 5v4M84 11v2M85 13v1M86 0v1M86 10v2M86 13v3M87 32v1M88 10v2M88 14v1M90 11v1M91 11v1M92 4v1M92 9v2M93 9v1M94 9v1M95 6v1M96 6v2M97 7v1M97 10v1M98 12v1M99 13v1M100 32v1M102 12v2M103 9v1M104 8v1M106 5v1M107 5v1M108 7v2M109 7v1M109 31v1M112 3v1M112 6v1M113 11v1M114 7v1M114 12v1M115 6v2M115 10v1M116 13v2M119 10v3M120 11v1M121 7v4M122 8v1M122 11v1M123 6v1M123 9v2M125 4v1M125 11v1M125 29v1M127 5v1M127 8v1M127 28v1M128 25v2M129 11v1M132 8v1M133 10v1M133 24v1M138 10v1M141 9v1M141 22v1M142 8v1M142 22v1M144 8v1M150 21v1M151 7v1M151 21v1M152 7v1M156 6v2M158 6v1M158 20v1M160 8v1M172 20v1M182 20v1M184 0v3M184 7v1M189 0v1M189 19v1M191 19v1M194 6v1M195 5v1M195 19v1M196 5v1M197 0v1M204 0v1M204 6v1M206 4v1M206 18v1M207 5v1M207 18v1M210 4v1M211 18v1M212 4v1"/><path stroke="#a9ff00" d="M1 6v2M1 12v1M2 11v1M3 0v1M3 3v2M3 7v1M3 10v1M4 8v1M4 11v1M5 10v1M6 8v4M7 12v1M8 9v1M8 11v1M9 10v1M10 9v1M10 14v1M11 12v1M11 32v1M12 7v1M13 10v1M14 13v1M15 8v2M15 12v3M16 13v1M18 15v1M18 31v1M19 11v1M20 14v1M21 2v1M21 7v2M21 12v1M23 1v1M23 3v2M24 8v1M28 12v1M29 13v3M30 11v3M32 10v1M33 10v1M34 4v2M34 7v2M34 11v1M35 11v1M36 0v1M36 9v2M37 8v1M39 6v2M39 13v1M41 4v4M42 6v5M43 10v1M43 12v3M46 15v1M47 8v1M51 9v3M54 8v1M54 12v2M55 0v2M55 9v1M56 9v2M57 0v1M57 7v3M58 12v1M59 0v1M59 10v4M60 12v1M61 6v8M62 12v1M62 31v1M63 12v1M64 9v1M64 31v1M65 31v1M67 11v1M69 6v2M71 1v1M71 32v1M74 11v1M74 13v2M77 13v1M78 11v1M80 8v1M81 9v2M81 31v1M83 7v1M83 12v1M84 4v1M84 9v2M86 16v1M87 13v1M89 13v2M90 12v1M92 5v4M95 10v1M96 8v3M96 31v1M97 8v2M97 11v1M98 13v1M100 16v1M101 12v1M102 14v1M103 30v1M104 9v4M105 10v1M106 6v2M107 6v1M111 8v1M111 31v1M112 4v2M112 12v1M114 13v1M115 11v3M116 32v1M117 11v1M117 32v1M118 14v1M119 13v1M121 30v1M122 9v2M122 12v1M123 7v2M123 11v1M124 7v1M125 28v1M126 11v1M127 27v1M128 11v1M132 9v1M132 24v1M134 10v1M135 10v1M136 10v1M141 10v1M143 8v1M145 8v1M146 8v1M147 8v1M148 9v1M148 21v1M149 21v1M150 7v1M159 9v1M161 7v1M167 7v1M168 20v1M169 6v1M170 7v1M170 20v1M173 7v1M175 6v1M178 5v1M181 6v1M182 5v1M183 19v1M185 6v1M186 6v1M186 19v1M189 6v1M190 6v1M190 19v1M191 6v1M194 7v1M197 5v1M201 5v2M202 1v1M203 5v2M204 5v1M205 5v1M209 5v1M209 18v1"/><path stroke="#c0ff00" d="M0 11v1M2 12v1M2 31v1M3 5v2M3 11v2M6 12v1M7 13v1M8 14v1M9 13v1M10 32v1M12 8v1M13 11v2M14 14v1M15 7v1M17 14v1M17 31v1M19 12v3M22 11v1M22 13v2M23 2v1M23 11v1M24 11v2M24 32v1M25 8v2M26 12v1M27 12v1M28 13v1M29 16v1M29 30v1M30 14v1M32 31v1M33 15v1M34 6v1M34 31v1M35 12v1M36 13v1M38 0v10M39 14v1M40 13v1M41 8v1M42 4v2M42 11v1M43 11v1M44 15v1M47 9v2M48 15v1M49 12v4M50 14v1M53 12v1M54 9v3M55 10v1M56 11v1M57 10v1M58 13v2M59 8v2M60 13v3M61 14v1M62 13v1M63 13v1M64 10v1M66 11v1M68 10v1M68 12v2M70 14v1M71 0v1M72 13v1M74 12v1M74 15v1M74 30v1M75 15v1M76 12v1M79 11v1M80 9v1M81 11v1M82 10v1M83 11v1M83 13v1M85 14v1M87 14v1M89 8v3M89 30v1M90 13v1M91 12v1M92 11v1M95 7v1M95 9v1M95 11v1M99 14v1M103 10v1M104 13v1M105 30v1M106 8v2M109 8v1M110 9v1M112 31v1M115 14v1M116 15v1M117 12v1M120 12v1M121 11v1M124 8v2M126 28v1M127 9v1M129 12v1M130 11v1M132 10v1M138 22v1M142 9v1M148 8v1M151 8v1M152 21v1M153 7v1M158 7v1M165 7v1M168 7v1M173 20v1M177 8v1M178 19v1M179 6v1M185 19v1M187 6v1M187 19v1M188 19v1M193 6v1M200 5v1M200 18v1M202 0v1M202 5v1M206 5v1M208 17v1M210 18v1M211 5v1"/><path stroke="#d7ff00" d="M0 12v1M0 16v1M1 13v1M2 13v3M3 13v1M4 12v2M5 11v1M6 13v1M7 14v1M12 9v1M13 13v1M14 15v1M15 15v1M19 15v1M21 13v1M22 12v1M22 15v1M23 12v1M24 9v2M24 13v1M25 10v2M25 32v1M26 32v1M27 13v1M27 32v1M32 11v1M33 16v1M34 12v1M34 14v1M35 13v1M37 9v1M37 12v3M38 10v1M41 12v2M42 12v1M44 16v1M45 16v1M46 16v1M47 11v1M47 13v2M51 15v1M52 13v1M53 13v1M54 14v1M55 11v1M55 14v1M57 11v1M59 14v1M61 15v1M65 7v1M67 12v1M68 11v1M69 15v1M73 17v1M73 32v1M75 30v1M76 13v1M77 14v1M79 12v1M82 11v3M83 8v1M83 10v1M83 31v1M84 13v1M87 15v1M88 15v1M89 11v2M89 15v1M91 30v1M93 10v1M94 10v1M95 8v1M96 11v1M97 12v1M98 14v1M101 13v1M102 15v1M103 13v2M104 30v1M106 10v1M107 7v1M108 9v1M111 9v1M113 12v1M113 31v1M114 14v1M117 13v2M118 15v1M120 13v1M122 30v1M123 12v2M124 10v1M124 28v2M125 27v1M126 12v1M127 26v1M129 24v1M131 11v1M135 23v1M136 23v1M137 10v1M137 22v1M143 22v1M147 9v1M154 8v1M155 8v1M156 8v1M157 20v1M159 8v1M159 20v1M163 20v1M164 20v1M166 7v1M166 20v1M171 7v1M172 7v1M180 7v1M198 6v1M201 18v1M203 18v1M210 5v1M212 17v1"/><path stroke="#ebff00" d="M0 13v1M1 14v2M4 14v1M4 31v1M5 12v1M7 15v1M12 10v1M14 16v1M15 30v1M16 14v2M17 15v1M18 16v1M19 16v1M20 15v1M20 31v1M23 13v2M25 12v1M28 14v1M29 17v1M31 14v1M32 12v1M34 13v1M34 15v1M35 14v1M35 31v1M36 14v1M37 10v2M38 11v3M40 14v1M41 9v1M41 11v1M41 32v1M42 13v1M43 15v1M44 30v1M47 12v1M47 15v1M48 16v1M48 31v1M54 32v1M55 12v2M55 32v1M57 12v1M58 15v1M64 11v1M65 8v5M67 13v1M68 14v1M70 15v1M72 14v1M72 32v1M74 16v1M77 30v1M78 12v1M80 10v1M83 9v1M90 14v1M93 30v1M95 12v1M97 31v1M99 15v1M100 17v1M101 14v1M101 32v1M103 11v2M103 15v1M106 30v1M107 8v1M113 13v1M114 15v1M118 29v1M119 14v1M121 12v1M122 13v1M123 14v1M123 29v1M124 27v1M125 12v1M126 26v2M127 10v1M128 12v1M130 12v1M130 23v1M131 23v1M134 23v1M137 11v1M138 11v1M139 10v1M139 22v1M142 10v1M143 9v1M146 9v1M147 20v1M151 9v1M160 9v1M167 20v1M169 7v1M173 8v1M177 7v1M178 6v1M183 7v1M185 7v1M188 7v1M192 6v1M195 7v1M196 6v1M199 6v1M203 7v1M204 7v1M205 6v1M209 17v1M212 5v1"/><path stroke="#feff00" d="M0 14v2M0 17v1M1 16v1M2 16v1M3 14v1M4 15v1M5 13v1M6 14v1M6 31v1M7 31v1M8 15v1M9 14v1M11 13v1M12 11v1M13 14v1M13 32v1M15 16v1M16 16v1M16 30v1M17 16v1M19 31v1M22 16v1M24 14v1M25 13v2M29 18v1M30 15v2M31 15v1M32 13v1M35 15v1M38 14v1M40 15v1M41 10v1M41 14v1M45 30v1M49 16v1M50 15v1M50 31v1M51 31v1M52 14v1M53 14v1M56 12v1M57 32v1M58 32v1M59 30v1M60 16v1M62 14v1M63 14v1M64 12v2M66 12v1M67 14v1M71 17v1M72 15v2M75 16v1M76 14v1M80 11v1M80 30v1M81 12v1M83 14v1M85 15v1M86 17v1M86 31v1M87 16v1M88 16v1M91 13v1M93 11v1M94 11v1M95 31v1M96 12v1M97 13v2M98 15v1M98 31v1M99 16v1M99 31v1M101 15v1M104 14v1M105 11v1M107 9v1M109 9v1M110 30v1M111 10v1M112 13v1M115 15v1M116 16v1M117 15v1M120 14v1M120 29v1M124 11v1M125 26v1M126 13v1M126 25v1M127 25v1M129 13v1M132 11v1M136 11v1M140 22v1M141 11v1M143 10v1M146 21v1M149 10v1M152 8v1M153 20v1M157 8v1M159 10v1M160 20v1M164 8v1M165 19v1M174 19v1M176 7v1M176 19v1M177 19v1M179 19v1M180 19v1M184 8v1M184 19v1M189 7v1M193 7v1M193 18v1M194 18v1M195 6v1M199 18v1M201 7v1M204 18v1M207 6v1M211 17v1"/><path stroke="#ffeb00" d="M1 30v1M5 14v1M5 31v1M6 15v1M7 16v1M12 12v1M13 15v1M14 17v1M14 30v1M19 17v1M21 14v1M21 31v1M22 31v1M23 15v1M26 13v1M27 14v1M28 15v1M28 32v1M30 17v1M30 30v1M31 16v1M33 17v1M36 15v1M36 31v1M37 15v1M38 15v1M39 31v1M42 14v1M43 32v1M44 17v1M45 17v1M46 17v1M47 16v1M48 17v1M49 31v1M53 31v1M54 15v1M56 13v1M56 32v1M57 13v1M58 16v1M59 15v2M60 30v1M61 16v1M61 30v1M64 14v1M69 31v1M70 31v1M72 17v1M78 30v1M79 13v1M80 12v1M82 14v1M82 30v1M83 30v1M84 14v1M84 31v1M85 31v1M88 31v1M91 14v1M92 12v1M93 12v1M101 16v1M102 16v1M105 12v1M106 11v1M108 10v1M110 10v1M111 11v1M111 30v1M113 14v1M114 31v1M115 16v1M115 31v1M118 16v1M119 29v1M121 29v1M123 15v1M124 26v1M127 11v1M128 13v1M128 24v1M131 12v1M133 11v1M134 11v1M135 11v1M136 22v1M137 21v1M140 10v1M141 21v1M144 9v1M145 21v1M147 19v1M149 20v1M150 8v2M154 20v1M155 20v1M160 16v1M161 8v1M162 8v1M172 8v1M174 7v1M175 7v2M175 19v1M176 8v1M177 9v1M179 7v1M180 8v1M182 6v1M183 18v1M185 18v1M191 18v1M197 6v1M201 17v1M205 7v1M206 6v1M206 17v1M207 17v1M211 16v1"/><path stroke="#ffd100" d="M0 30v1M1 17v1M3 15v1M4 16v1M5 15v1M8 31v1M10 15v1M12 13v1M12 32v1M13 16v1M15 17v1M17 17v1M20 16v1M21 15v1M23 31v1M24 15v1M25 15v1M27 15v1M30 18v1M31 17v1M32 14v1M33 30v1M34 16v1M35 16v1M36 16v1M39 15v1M40 16v1M41 15v1M42 32v1M45 18v1M46 30v1M49 17v1M51 16v1M52 15v1M53 15v1M55 15v1M56 14v1M60 17v1M62 15v1M66 13v1M66 31v1M67 15v1M68 31v1M69 16v1M70 16v1M76 15v1M76 30v1M78 13v1M79 30v1M80 13v1M84 15v1M87 17v1M87 31v1M88 17v1M89 16v1M90 15v1M90 29v1M92 13v1M92 30v1M94 30v1M96 13v1M96 30v1M100 31v1M102 29v1M105 13v1M107 10v1M107 30v1M108 30v1M109 10v1M109 30v1M110 11v1M111 12v1M112 30v1M119 15v1M121 13v1M122 28v2M123 28v1M124 12v1M125 13v1M125 25v1M126 14v1M129 23v1M130 22v1M134 22v1M139 11v1M142 11v1M143 11v1M145 9v1M148 10v1M148 20v1M153 8v1M158 8v1M160 10v1M160 15v1M160 17v1M161 17v2M161 20v1M164 9v1M164 19v1M165 8v1M166 19v1M167 19v1M170 8v1M174 8v1M181 7v1M182 19v1M183 8v1M184 18v1M186 18v1M192 18v1M194 8v1M196 7v1M198 7v1M198 18v1M200 6v1M202 6v1M202 18v1M203 8v1M205 18v1M208 6v1M208 16v1M210 17v1M211 15v1M212 6v1M212 15v2"/><path stroke="#ffb800" d="M0 18v1M1 18v1M2 17v1M3 16v1M3 30v1M6 16v1M12 14v1M16 17v1M17 30v1M18 17v1M18 30v1M24 31v1M26 14v1M27 16v1M28 16v1M29 19v1M29 29v1M31 30v1M37 31v1M38 31v1M42 15v1M43 16v1M44 18v1M46 18v1M47 17v1M47 30v1M50 16v1M52 16v1M52 31v1M53 16v1M54 16v1M57 14v1M59 17v1M63 15v1M63 30v1M64 30v1M65 13v1M67 31v1M68 15v1M71 18v1M71 31v1M73 18v1M74 17v1M75 17v1M77 15v1M81 13v1M81 30v1M95 13v1M97 15v1M98 16v1M101 17v1M103 16v1M103 29v1M104 15v1M106 12v1M107 11v1M114 16v1M116 31v1M117 16v1M117 31v1M122 14v1M122 27v1M124 13v1M124 25v1M125 24v1M128 14v1M129 14v1M133 23v1M135 22v1M137 12v1M138 21v1M140 21v1M141 12v1M142 21v1M143 17v1M144 10v1M149 11v1M150 10v1M151 10v1M153 19v1M156 9v1M156 20v1M157 9v1M158 9v1M158 19v1M159 19v1M160 18v2M161 16v1M161 19v1M162 20v1M163 8v1M165 9v1M168 19v1M171 8v1M172 9v1M173 9v1M180 9v1M181 19v1M184 9v1M185 8v1M187 18v1M189 8v1M191 17v1M195 8v1M195 18v1M196 18v1M197 18v1M201 8v1M201 16v1M204 8v1M205 8v1M207 16v1M212 14v1"/><path stroke="#ff9f00" d="M3 17v1M4 17v1M5 16v1M8 16v1M9 15v1M9 31v1M10 31v1M11 14v1M11 31v1M14 18v1M20 17v1M20 30v1M23 16v1M26 31v1M30 19v1M32 15v2M34 17v1M34 30v1M35 17v1M37 16v1M38 16v1M39 16v1M40 31v1M45 29v1M55 16v1M56 15v1M62 30v1M64 15v1M65 30v1M72 18v1M73 31v1M74 29v1M75 29v1M76 16v1M78 14v1M79 14v1M80 14v1M83 15v1M85 16v1M89 29v1M91 29v1M93 13v1M97 30v1M98 30v1M99 17v1M100 18v1M104 29v1M105 29v1M112 14v1M116 17v1M118 28v1M120 15v1M121 26v3M122 15v1M123 16v1M123 27v1M124 14v2M125 14v1M125 23v1M126 15v1M126 24v1M127 12v1M127 24v1M130 13v1M131 22v1M132 12v1M132 23v1M133 20v2M134 12v1M134 21v1M136 12v1M139 21v1M140 11v1M143 18v1M144 17v2M144 21v1M145 10v1M146 10v1M147 10v1M147 18v1M150 20v1M154 9v1M155 9v1M157 19v1M160 11v4M161 15v1M163 19v1M164 10v1M167 8v1M168 8v1M169 19v1M172 10v2M172 19v1M173 19v1M174 18v1M175 9v1M175 18v1M176 9v1M178 7v1M178 18v1M181 8v1M184 10v2M185 12v1M185 17v1M186 7v1M188 18v1M190 18v1M200 17v1M203 17v1M205 9v1M206 7v1M209 16v1M210 6v1M210 16v1"/><path stroke="#ff8600" d="M2 30v1M4 30v1M6 30v1M7 17v1M12 15v1M13 17v1M15 18v1M15 29v1M16 18v1M17 18v1M19 30v1M21 16v1M22 17v1M24 16v1M25 31v1M26 15v1M27 17v1M27 31v1M29 20v1M31 18v1M32 17v1M33 18v1M36 17v1M44 29v1M47 18v1M48 18v1M50 17v1M52 17v1M54 31v1M55 31v1M57 15v1M58 17v1M59 18v1M59 29v1M61 17v1M62 16v1M65 14v1M66 14v1M69 17v1M70 17v1M72 31v1M77 29v1M80 15v1M91 15v1M95 30v1M96 14v1M101 31v1M102 17v1M105 14v1M106 13v1M106 29v1M108 11v1M110 12v1M113 15v1M113 30v1M119 28v1M120 28v1M122 16v1M124 16v1M126 23v1M127 13v2M128 15v1M130 21v1M131 13v1M133 12v1M133 22v1M134 19v2M135 12v1M136 21v1M137 20v1M138 12v1M139 20v1M140 20v1M141 13v1M143 16v1M144 19v1M145 20v1M146 20v1M149 19v1M152 20v1M153 18v1M154 19v1M158 15v2M159 18v1M161 13v2M162 16v1M163 12v2M165 10v1M165 18v1M166 8v1M167 18v1M171 10v2M171 19v1M174 9v1M175 10v1M176 18v1M177 10v1M177 18v1M178 8v1M179 8v1M179 18v1M181 9v1M182 16v3M185 11v1M188 8v1M189 9v1M189 18v1M190 7v1M199 7v1M200 7v1M201 14v2M204 17v1M205 10v1M206 11v1M207 7v1M209 6v1M211 6v1"/><path stroke="#ff6e00" d="M5 17v1M5 30v1M6 17v1M7 30v1M10 16v1M19 18v1M21 30v1M25 16v1M28 17v1M30 20v1M32 30v1M35 30v1M39 17v1M40 17v1M41 16v1M41 31v1M45 19v1M45 28v1M46 19v1M48 30v1M49 18v1M51 17v1M51 30v1M52 18v1M53 30v1M56 31v1M57 31v1M60 18v1M60 29v1M63 16v1M66 30v1M67 16v1M68 16v1M70 30v1M72 19v1M74 18v1M76 17v1M79 29v1M81 14v1M82 29v1M83 29v1M84 16v1M84 30v1M86 18v1M86 30v1M88 30v1M92 14v1M93 29v1M94 12v1M99 30v1M107 12v1M111 13v2M111 29v1M112 29v1M114 17v1M114 30v1M117 17v1M121 25v1M123 26v1M125 15v1M127 15v1M129 22v1M133 19v1M134 18v1M136 13v2M137 13v1M139 12v1M141 14v1M141 20v1M142 12v1M142 20v1M143 12v1M143 19v1M143 21v1M148 11v1M149 12v1M150 11v1M152 9v1M154 18v1M155 10v1M156 10v1M158 18v1M159 11v1M159 17v1M161 9v1M162 9v1M162 17v1M164 11v1M164 18v1M166 18v1M167 17v1M169 8v1M170 9v1M171 9v1M171 12v1M172 12v1M174 10v1M174 17v1M176 17v1M180 18v1M182 7v1M183 9v1M184 12v1M185 13v1M185 16v1M187 7v1M187 17v1M189 10v2M193 8v1M193 17v1M196 8v1M197 7v1M198 8v1M200 10v2M201 13v1M203 9v1M206 10v1M206 12v1M206 16v1M207 15v1M208 12v2M208 15v1M210 15v1M211 14v1M212 7v1M212 13v1"/><path stroke="#ff5500" d="M1 19v1M1 29v1M3 18v1M9 16v1M11 15v1M17 29v1M18 18v1M20 18v1M27 18v2M28 18v1M28 31v1M29 21v1M29 28v1M30 29v1M31 29v1M36 30v1M39 30v1M42 16v1M43 17v1M43 31v1M45 20v1M46 20v1M50 30v1M53 17v1M57 16v3M58 31v1M70 18v1M71 19v1M73 19v1M75 18v1M77 16v1M79 15v1M79 28v1M80 29v1M82 15v1M82 28v1M85 30v1M87 30v1M88 18v1M90 28v1M91 16v1M92 29v1M94 29v1M96 29v1M97 16v1M98 17v1M98 28v2M103 17v1M105 15v1M109 11v1M110 29v1M111 15v1M111 27v2M113 27v2M115 17v1M115 30v1M118 17v1M118 21v2M118 27v1M119 16v1M119 27v1M120 16v1M121 14v1M122 26v1M125 16v1M125 22v1M126 16v1M126 22v1M127 16v1M129 15v1M131 21v1M134 13v1M136 15v1M136 20v1M137 14v2M138 20v1M139 19v1M140 12v1M143 20v1M144 11v1M144 16v1M144 20v1M146 19v1M151 11v1M151 20v1M154 17v1M155 19v1M157 10v1M158 17v1M161 12v1M162 15v1M162 19v1M163 9v1M163 11v1M163 14v1M163 18v1M164 12v1M165 16v2M166 15v1M167 16v1M168 18v1M172 18v1M173 10v1M174 11v3M174 16v1M175 17v1M176 16v1M178 9v1M180 10v1M181 10v1M182 8v1M182 15v1M184 13v1M184 17v1M185 9v2M186 12v2M186 17v1M188 12v1M189 12v1M191 7v1M191 10v1M191 16v1M192 17v1M194 9v1M194 17v1M195 9v1M198 12v1M198 17v1M199 8v1M200 8v2M200 12v2M201 9v1M201 12v1M202 7v1M202 17v1M205 11v1M206 8v1M207 10v2M208 14v1M209 15v1M210 14v1"/><path stroke="#ff3a00" d="M0 19v1M2 18v1M4 18v1M5 18v1M7 18v1M8 30v1M9 19v1M10 27v4M13 18v1M13 31v1M14 19v1M14 29v1M15 28v1M16 29v1M17 19v1M17 28v1M20 19v1M22 18v1M22 30v1M23 17v1M23 30v1M24 17v1M24 30v1M26 16v1M26 30v1M27 20v1M28 19v4M30 21v1M31 19v3M31 24v2M31 28v1M32 18v1M33 19v1M33 29v1M34 18v1M35 18v1M38 17v1M39 18v1M40 18v1M42 31v1M43 18v3M43 29v2M45 21v1M45 27v1M46 21v1M46 28v2M47 19v2M47 29v1M48 19v1M50 18v1M52 19v1M54 17v1M55 17v1M58 18v1M59 19v1M61 29v1M62 17v1M63 17v1M63 29v1M64 16v1M64 29v1M65 15v1M65 29v1M66 15v1M69 18v1M69 30v1M70 29v1M71 20v3M71 30v1M72 20v1M73 30v1M74 19v1M74 28v1M75 27v2M76 29v1M77 28v1M78 15v1M78 29v1M79 27v1M80 16v1M81 15v1M84 17v1M85 17v1M86 29v1M87 18v1M87 26v2M87 29v1M88 29v1M90 16v1M93 14v1M94 28v1M95 14v1M95 28v2M96 15v1M97 17v1M99 18v1M101 18v1M104 16v1M104 28v1M107 29v1M108 29v1M109 29v1M110 13v1M111 26v1M112 15v1M112 28v1M113 16v1M113 29v1M114 28v2M116 27v1M116 30v1M117 30v1M118 20v1M120 27v1M123 17v1M124 17v1M124 22v3M127 23v1M128 23v1M129 21v1M130 14v1M130 20v1M131 14v1M132 13v1M132 22v1M133 18v1M134 17v1M135 13v1M135 15v4M136 16v1M136 18v2M137 19v1M139 13v1M139 18v1M140 19v1M141 15v1M141 18v2M142 14v3M142 19v1M143 15v1M145 19v1M147 11v1M147 17v1M148 12v1M148 19v1M149 13v1M149 18v1M150 12v1M150 19v1M152 18v2M153 17v1M154 16v1M156 11v1M157 12v3M157 18v1M158 10v1M158 14v1M159 12v1M159 16v1M162 18v1M163 10v1M163 17v1M164 13v1M165 11v1M165 15v1M166 14v1M166 16v2M167 15v1M168 17v1M170 10v1M173 11v1M173 18v1M174 14v2M175 11v1M175 16v1M176 10v1M177 17v1M178 17v1M182 9v1M183 17v1M185 14v2M187 16v1M188 9v1M188 11v1M188 13v1M190 10v4M190 17v1M191 9v1M192 7v1M196 10v1M197 17v1M198 11v1M198 13v1M199 9v4M199 17v1M200 14v1M200 16v1M201 10v2M202 14v2M203 10v1M205 17v1M206 9v1M206 13v3M207 8v2M207 14v1M208 10v2M209 14v1M210 7v1M210 13v1M212 8v1"/><path stroke="#ff1800" d="M0 29v1M3 19v1M3 29v1M4 19v1M4 29v1M6 18v2M6 29v1M7 29v1M8 17v1M9 18v1M10 26v1M11 16v1M12 16v1M12 31v1M15 19v1M16 19v1M18 29v1M19 19v1M19 29v1M20 29v1M21 17v1M22 19v1M24 29v1M26 29v1M27 21v1M27 30v1M31 22v2M31 26v2M33 20v1M34 19v1M36 18v1M38 30v1M39 19v1M40 19v1M43 21v2M43 28v1M44 19v1M45 22v2M46 27v1M47 21v1M47 28v1M49 19v1M49 30v1M50 19v2M51 18v1M52 30v1M53 18v1M53 29v1M54 28v2M55 30v1M56 16v1M57 19v1M57 30v1M59 20v1M59 28v1M60 19v1M61 18v1M63 18v1M65 16v1M65 28v1M66 16v1M66 29v1M67 17v1M67 30v1M68 17v1M68 30v1M70 19v1M72 30v1M73 20v1M73 29v1M74 20v1M75 19v1M75 26v1M80 27v2M81 16v1M81 27v3M82 27v1M83 16v1M83 28v1M84 18v1M84 29v1M86 27v2M87 25v1M87 28v1M89 17v1M90 23v1M90 27v1M91 17v1M91 28v1M92 15v1M92 28v1M93 28v1M94 27v1M97 29v1M98 27v1M99 29v1M100 19v1M100 30v1M101 19v2M101 26v1M102 18v1M102 28v1M103 28v1M104 27v1M105 16v1M105 28v1M106 28v1M107 13v1M108 12v1M108 26v2M110 28v1M111 16v1M112 27v1M113 26v1M114 18v1M114 23v5M115 29v1M116 26v1M116 28v2M118 18v1M118 23v1M119 17v1M119 26v1M121 24v1M122 17v1M123 25v1M128 16v1M130 19v1M131 15v1M131 20v1M132 21v1M133 13v1M133 16v2M134 14v3M135 14v1M135 19v1M135 21v1M136 17v1M137 16v1M138 13v1M139 14v1M140 13v2M142 13v1M142 17v2M143 13v1M145 11v1M146 11v1M146 18v1M150 13v1M151 12v1M151 14v1M152 13v5M153 9v1M154 10v1M155 11v1M156 13v1M156 19v1M157 11v1M157 15v1M159 15v1M161 10v1M162 13v2M163 15v2M164 17v1M166 9v1M167 9v1M168 9v1M168 16v1M169 18v1M170 11v1M170 19v1M171 13v1M172 13v1M173 12v4M173 17v1M175 12v1M175 15v1M176 15v1M178 10v1M179 9v1M179 17v1M181 11v2M181 18v1M182 10v5M183 10v1M186 11v1M186 14v1M187 12v2M188 17v1M189 13v1M190 8v2M190 14v3M191 11v1M193 9v1M194 10v1M195 10v4M195 17v1M196 9v1M196 11v1M196 17v1M197 11v1M198 9v2M199 13v1M200 15v1M202 16v1M203 16v1M204 9v1M204 16v1M207 12v2M208 7v1M209 7v1M209 13v1M212 9v1"/><path stroke="#f70005" d="M0 20v1M1 20v1M1 28v1M2 29v1M5 29v1M7 19v1M7 28v1M9 17v1M9 20v1M10 17v1M11 30v1M13 19v2M13 23v1M15 20v2M15 27v1M17 20v1M17 27v1M18 19v1M18 28v1M20 20v1M21 29v1M23 18v1M23 29v1M24 18v1M24 20v2M25 17v1M25 29v2M27 22v1M28 23v1M28 30v1M29 22v1M29 27v1M30 28v1M32 19v1M33 21v1M33 28v1M34 20v1M34 29v1M35 19v1M35 29v1M36 29v1M37 17v1M38 18v2M40 20v1M40 30v1M41 17v1M41 30v1M42 17v1M43 23v2M43 26v2M44 20v1M44 28v1M45 24v3M46 22v1M48 20v1M48 28v1M49 20v1M50 21v1M51 29v1M52 20v1M54 27v1M54 30v1M55 18v1M55 29v1M56 30v1M58 30v1M59 27v1M60 20v1M60 28v1M62 18v1M62 29v1M63 19v1M63 28v1M65 17v1M65 27v1M66 17v2M66 28v1M67 27v2M68 18v1M69 19v1M70 20v1M70 28v1M71 23v1M72 21v1M72 29v1M73 27v2M74 21v1M74 27v1M75 20v1M76 18v1M76 27v2M77 17v1M79 16v1M79 26v1M80 17v1M80 25v2M81 26v1M83 25v3M85 18v1M85 29v1M86 19v1M86 26v1M87 24v1M88 19v1M90 22v1M90 24v1M90 26v1M92 27v1M96 16v1M96 28v1M97 18v1M97 28v1M98 23v4M99 27v2M100 23v1M101 21v1M101 27v1M101 30v1M103 18v1M104 26v1M106 14v1M106 27v1M107 14v1M107 28v1M108 25v1M108 28v1M109 12v1M111 25v1M112 26v1M116 18v1M117 29v1M118 19v1M118 26v1M119 18v3M119 25v1M120 17v1M120 26v1M121 15v1M121 21v2M122 18v1M124 18v1M125 17v1M125 21v1M126 17v1M126 21v1M127 17v1M129 16v1M129 20v1M130 15v1M130 18v1M131 16v1M133 15v1M135 20v1M138 14v1M139 15v1M141 16v2M143 14v1M144 12v1M145 18v1M146 17v1M148 13v1M150 14v1M150 18v1M151 13v1M151 15v1M151 19v1M152 10v1M152 12v1M153 14v1M153 16v1M154 14v2M156 12v1M156 14v2M157 16v1M159 13v1M161 11v1M162 10v1M162 12v1M164 14v3M166 13v1M167 14v1M168 15v1M169 9v1M169 12v1M169 15v1M170 12v1M172 17v1M173 16v1M175 13v2M177 11v1M180 11v3M181 13v3M184 14v1M186 8v1M186 15v2M187 14v2M188 10v1M188 14v1M191 8v1M193 10v2M193 16v1M194 11v1M194 16v1M196 12v1M197 8v1M197 10v1M197 12v1M197 16v1M198 14v1M198 16v1M202 8v1M202 13v1M204 15v1M205 12v1M208 9v1M209 8v1M211 13v1M212 12v1"/><path stroke="#e70012" d="M0 21v1M2 19v1M4 20v2M4 28v1M5 19v1M6 20v1M8 29v1M10 18v1M10 25v1M11 17v1M11 19v1M13 21v2M13 24v1M13 30v1M14 20v1M14 28v1M15 22v1M16 20v1M18 20v1M19 20v1M19 28v1M20 21v2M20 28v1M22 20v1M22 29v1M23 28v1M24 19v1M24 28v1M25 28v1M28 25v2M29 25v2M30 22v1M32 29v1M33 22v1M34 21v2M35 28v1M36 19v1M37 30v1M39 20v1M39 29v1M42 25v1M42 29v2M43 25v1M44 21v1M46 23v1M47 27v1M48 21v2M48 29v1M49 21v1M50 22v2M51 19v2M53 19v1M53 28v1M54 18v1M55 28v1M56 29v1M57 20v1M57 29v1M58 19v5M59 21v1M59 26v1M60 21v1M61 19v1M63 20v1M63 25v1M64 17v1M64 21v2M64 28v1M65 25v2M66 19v1M66 25v3M67 26v1M67 29v1M68 19v1M68 29v1M69 20v3M69 29v1M70 21v2M70 27v1M71 24v1M71 29v1M72 27v2M73 21v1M73 26v1M74 22v2M75 25v1M76 26v1M79 17v1M80 24v1M81 17v1M81 25v1M82 16v1M82 23v1M83 24v1M84 19v1M84 28v1M85 19v2M86 25v1M88 28v1M89 28v1M90 25v1M91 18v1M91 27v1M92 16v1M92 26v1M93 15v1M94 13v1M94 26v1M95 15v2M95 27v1M97 27v1M98 18v1M98 22v1M99 19v1M99 26v1M100 22v1M100 24v1M101 25v1M101 28v2M103 19v1M103 25v1M104 17v1M104 21v5M105 17v1M106 25v2M107 15v1M108 13v1M108 24v1M109 13v1M109 28v1M110 14v1M110 25v3M111 17v1M111 21v4M112 16v1M113 17v1M113 25v1M114 19v1M114 22v1M115 28v1M116 22v4M118 24v2M119 21v1M119 24v1M121 16v2M121 20v1M121 23v1M122 25v1M123 22v3M124 21v1M127 18v3M130 16v1M131 17v3M132 14v2M132 20v1M133 14v1M137 17v2M138 15v1M138 19v1M139 16v2M140 18v1M144 15v1M147 12v1M148 18v1M149 14v1M151 16v1M152 11v1M153 13v1M153 15v1M154 13v1M155 12v2M156 16v1M157 17v1M158 13v1M159 14v1M165 12v1M165 14v1M166 12v1M169 11v1M169 13v2M169 16v2M170 13v1M171 18v1M172 16v1M176 14v1M178 16v1M179 10v1M179 12v5M180 14v1M181 16v2M183 11v1M183 16v1M184 15v2M187 8v1M187 11v1M188 15v2M189 14v1M189 17v1M191 15v1M192 16v1M193 12v1M195 14v1M196 16v1M198 15v1M199 14v1M199 16v1M202 12v1M203 11v1M204 14v1M205 16v1M208 8v1M209 12v1M210 8v1M210 12v1M211 7v1M212 10v2"/><path stroke="#cd0026" d="M0 22v1M0 28v1M1 21v1M1 27v1M2 28v1M3 28v1M4 22v1M5 28v1M6 28v1M7 20v1M7 27v1M9 30v1M10 19v1M11 18v1M12 17v1M12 21v1M12 30v1M13 29v1M15 26v1M16 21v1M16 25v1M16 28v1M17 21v1M17 26v1M18 21v1M18 27v1M19 21v1M19 25v3M21 18v1M21 28v1M22 21v1M23 19v3M24 22v1M25 18v1M25 27v1M26 17v3M26 25v1M26 28v1M27 23v2M27 29v1M28 24v1M28 27v3M29 23v2M30 23v1M30 27v1M32 20v1M33 23v1M33 27v1M34 23v1M34 28v1M35 20v1M35 26v2M36 20v3M36 28v1M39 21v1M40 21v1M40 29v1M41 29v1M42 18v1M42 24v1M42 26v3M44 22v1M44 27v1M46 26v1M47 22v1M48 27v1M49 22v1M50 24v2M50 29v1M51 21v1M51 28v1M52 29v1M54 26v1M55 19v1M56 17v1M56 25v2M57 21v1M57 23v3M57 28v1M58 24v6M59 22v1M59 25v1M60 22v1M60 27v1M61 28v1M62 19v1M62 28v1M63 21v1M63 26v2M64 18v3M64 23v1M64 27v1M65 18v1M65 24v1M67 18v1M67 25v1M68 28v1M69 23v3M69 28v1M70 23v1M71 25v2M72 22v1M72 26v1M73 25v1M74 24v1M74 26v1M75 24v1M77 18v1M77 27v1M78 16v1M78 28v1M79 18v1M79 25v1M80 23v1M81 18v1M81 24v1M82 17v2M82 22v1M82 24v1M82 26v1M83 17v1M84 20v1M84 27v1M86 20v1M86 23v2M87 19v5M88 20v2M88 27v1M89 23v3M90 17v1M90 19v3M91 19v1M91 23v4M92 17v1M92 20v1M92 25v1M93 16v5M93 22v2M93 27v1M94 18v1M95 17v1M96 17v1M97 19v1M97 26v1M98 19v3M99 20v1M99 24v2M100 20v2M101 22v1M101 24v1M102 19v1M102 21v3M103 20v2M103 24v1M103 26v2M104 18v3M105 18v2M105 27v1M106 24v1M107 16v1M107 27v1M108 14v2M108 23v1M109 14v1M109 24v4M110 24v1M113 23v2M114 20v2M115 18v1M115 25v3M116 19v3M117 18v1M117 25v1M117 27v2M119 22v2M120 18v1M120 25v1M121 18v2M122 19v1M123 18v1M123 20v2M125 18v3M126 20v1M127 21v2M128 22v1M129 19v1M130 17v1M138 16v1M140 15v1M145 17v1M146 12v1M147 16v1M148 14v1M149 17v1M150 15v1M150 17v1M151 17v2M154 11v2M155 14v1M155 18v1M156 18v1M158 11v1M162 11v1M165 13v1M166 10v2M167 13v1M168 14v1M169 10v1M170 14v2M172 14v2M176 11v1M177 16v1M178 15v1M179 11v1M180 17v1M183 15v1M186 9v2M189 15v2M194 12v1M194 15v1M195 16v1M196 13v1M197 9v1M197 13v1M197 15v1M199 15v1M202 9v1M202 11v1M203 12v1M203 15v1M204 10v1M204 13v1M205 13v1M205 15v1M209 9v1M209 11v1"/><path stroke="#b0003c" d="M1 22v1M2 27v1M3 20v1M4 23v1M4 27v1M5 20v1M6 21v1M7 21v1M8 18v1M8 28v1M9 21v1M9 28v2M10 20v5M11 29v1M12 20v1M12 22v1M12 29v1M13 27v2M14 21v1M14 27v1M15 23v1M16 22v1M16 26v2M17 22v1M17 25v1M18 22v1M18 26v1M19 22v3M20 23v1M20 27v1M21 22v2M22 28v1M23 22v1M23 27v1M24 27v1M25 19v1M25 26v1M26 24v1M26 26v1M27 27v2M32 21v1M32 28v1M33 24v1M33 26v1M34 27v1M36 25v1M36 27v1M37 18v1M38 20v1M38 29v1M40 28v1M41 18v1M42 19v5M46 24v2M47 26v1M48 23v4M49 23v1M50 26v1M50 28v1M51 22v1M52 21v1M52 28v1M53 20v3M54 19v1M54 25v1M55 20v1M56 24v1M56 27v2M57 22v1M57 26v2M59 23v2M60 23v1M60 26v1M61 20v1M61 22v6M62 20v1M62 23v1M62 26v2M63 24v1M64 24v1M65 19v1M65 23v1M66 24v1M67 19v3M68 20v1M68 27v1M69 26v2M70 26v1M71 27v2M72 23v1M72 25v1M73 22v1M74 25v1M75 21v1M75 23v1M76 19v1M76 25v1M77 26v1M78 17v1M78 26v2M79 24v1M80 18v1M80 20v3M81 23v1M82 19v1M82 25v1M83 18v1M83 23v1M84 21v1M84 26v1M85 21v1M85 23v2M85 28v1M86 21v2M88 22v1M88 25v2M89 18v1M89 22v1M89 26v2M90 18v1M91 20v3M92 18v2M92 21v1M92 24v1M93 21v1M93 24v1M94 14v4M94 19v2M95 26v1M96 25v1M96 27v1M97 20v1M97 25v1M99 21v1M99 23v1M100 25v1M100 29v1M101 23v1M102 20v1M102 27v1M103 22v2M105 20v1M105 26v1M106 15v1M106 21v3M107 17v1M107 23v3M108 16v1M108 22v1M109 22v2M110 15v1M110 23v1M111 18v1M111 20v1M112 17v1M112 25v1M113 22v1M117 24v1M117 26v1M122 24v1M123 19v1M124 19v2M126 18v1M129 17v2M132 16v1M132 19v1M138 17v2M144 13v2M147 13v1M148 15v1M148 17v1M150 16v1M153 12v1M155 15v1M156 17v1M167 10v1M170 16v1M171 14v1M171 17v1M176 13v1M177 12v1M178 11v1M178 14v1M180 15v1M187 9v2M191 12v1M192 8v1M193 13v1M193 15v1M194 13v2M195 15v1M196 14v2M197 14v1M202 10v1M203 13v2M204 11v2M205 14v1M209 10v1M211 8v1M211 12v1"/><path stroke="#8f0056" d="M0 23v1M0 27v1M1 23v1M1 26v1M2 20v4M3 27v1M4 24v2M5 21v1M5 27v1M6 22v1M7 22v1M8 19v4M9 22v1M9 27v1M11 20v1M11 28v1M12 18v2M12 23v3M13 25v2M14 22v1M15 24v2M16 23v2M21 19v3M21 27v1M22 22v1M24 23v1M25 20v1M26 20v1M26 23v1M26 27v1M27 25v2M30 24v3M33 25v1M34 24v3M35 21v1M35 25v1M36 23v2M36 26v1M37 19v3M39 22v1M39 28v1M40 22v1M40 25v3M41 23v2M41 28v1M44 23v1M49 27v3M50 27v1M51 23v1M51 27v1M52 27v1M53 27v1M54 20v2M54 24v1M55 21v4M55 27v1M56 18v1M56 22v2M60 24v2M61 21v1M62 21v2M62 24v2M63 22v1M64 25v2M66 20v1M66 23v1M67 22v1M67 24v1M72 24v1M73 24v1M76 20v2M76 24v1M77 19v1M77 25v1M78 25v1M79 19v1M80 19v1M81 19v1M81 22v1M82 20v2M83 19v1M84 22v1M85 22v1M85 25v1M85 27v1M89 19v3M92 22v2M93 25v2M94 21v1M94 25v1M95 18v1M95 24v2M96 18v1M96 24v1M96 26v1M97 21v4M99 22v1M100 26v1M102 24v1M105 21v3M105 25v1M106 16v2M106 20v1M107 18v1M107 22v1M107 26v1M108 17v1M108 21v1M109 15v1M110 16v3M110 21v2M111 19v1M113 18v1M115 23v2M117 21v1M120 19v1M120 24v1M122 20v1M122 23v1M126 19v1M128 17v1M128 21v1M140 16v2M145 12v1M146 13v1M146 16v1M147 14v2M148 16v1M149 15v2M153 10v2M155 16v1M158 12v1M167 12v1M168 10v1M168 13v1M170 17v2M171 15v2M176 12v1M177 15v1M178 12v2M180 16v1M183 12v1M183 14v1M191 14v1M192 9v2M193 14v1M210 9v1M211 9v2"/><path stroke="#740071" d="M1 24v2M2 26v1M3 21v1M4 26v1M5 22v1M5 26v1M6 27v1M7 26v1M8 23v1M9 26v1M11 23v5M12 26v1M12 28v1M14 23v1M14 26v1M17 23v2M18 23v1M18 25v1M20 24v3M21 24v3M22 23v1M22 27v1M23 23v1M24 24v3M25 21v1M25 25v1M26 21v2M32 22v1M32 27v1M37 22v1M37 29v1M38 21v1M38 28v1M39 25v3M40 23v2M41 19v2M41 22v1M41 25v3M44 26v1M47 23v1M49 24v3M51 24v3M53 23v4M55 25v2M56 19v3M63 23v1M65 20v1M66 21v2M67 23v1M68 21v1M68 26v1M70 24v2M73 23v1M75 22v1M76 22v2M77 24v1M78 18v1M78 24v1M79 23v1M81 20v2M83 20v1M83 22v1M84 23v1M84 25v1M85 26v1M88 23v2M94 22v1M95 22v2M96 19v1M96 23v1M102 25v1M105 24v1M106 18v2M107 19v1M107 21v1M108 20v1M109 16v6M110 19v2M112 18v1M112 23v2M113 19v1M113 21v1M115 19v1M115 21v2M117 19v2M117 22v2M120 20v4M122 21v2M132 17v2M145 16v1M155 17v1M167 11v1M177 13v2M183 13v1M210 10v2M211 11v1"/><path stroke="#5d008c" d="M0 24v1M0 26v1M2 24v2M3 22v1M5 23v3M7 23v1M8 24v1M8 27v1M9 23v1M11 21v2M12 27v1M14 24v2M18 24v1M22 24v3M25 22v3M32 26v1M35 24v1M37 23v1M37 28v1M38 27v1M39 23v2M41 21v1M47 25v1M52 22v1M52 26v1M54 22v2M65 22v1M68 24v2M77 20v1M77 23v1M78 23v1M79 20v1M83 21v1M84 24v1M94 23v2M95 19v1M95 21v1M96 20v3M100 27v2M102 26v1M107 20v1M108 18v2M112 19v4M113 20v1M115 20v1M128 18v3M168 12v1M191 13v1M192 11v1"/><path stroke="#4b00aa" d="M0 25v1M3 23v1M3 26v1M6 23v1M6 26v1M7 24v2M8 25v2M9 24v2M23 26v1M35 22v2M37 24v4M38 22v1M38 26v1M44 24v2M47 24v1M52 23v3M65 21v1M68 22v2M77 21v2M79 21v2M95 20v1M146 14v1M168 11v1M192 15v1"/><path stroke="#3500c2" d="M6 25v1M23 24v1M32 23v1M32 25v1M38 23v1M38 25v1M78 19v1M78 22v1M145 13v1M146 15v1"/><path stroke="#2100d9" d="M3 24v2M6 24v1M23 25v1M32 24v1M38 24v1M145 14v2M192 12v1"/><path stroke="#1000ec" d="M78 20v2"/><path stroke="#0000ff" d="M192 13v2"/></g>
<g shape-rendering="crispEdges"><rect x="487.0" y="217.20" width="22.5" height="8.42" fill="#0600f7"/><rect x="487.0" y="225.02" width="22.5" height="8.42" fill="#1400e8"/><rect x="487.0" y="232.84" width="22.5" height="8.42" fill="#2100d9"/><rect x="487.0" y="240.66" width="22.5" height="8.42" fill="#3000c7"/><rect x="487.0" y="248.49" width="22.5" height="8.42" fill="#4200b3"/><rect x="487.0" y="256.31" width="22.5" height="8.42" fill="#52009e"/><rect x="487.0" y="264.13" width="22.5" height="8.42" fill="#610086"/><rect x="487.0" y="271.95" width="22.5" height="8.42" fill="#740071"/><rect x="487.0" y="279.77" width="22.5" height="8.42" fill="#89005c"/><rect x="487.0" y="287.59" width="22.5" height="8.42" fill="#a30047"/><rect x="487.0" y="295.42" width="22.5" height="8.42" fill="#be0032"/><rect x="487.0" y="303.24" width="22.5" height="8.42" fill="#d30022"/><rect x="487.0" y="311.06" width="22.5" height="8.42" fill="#e70012"/><rect x="487.0" y="318.88" width="22.5" height="8.42" fill="#f40008"/><rect x="487.0" y="326.70" width="22.5" height="8.42" fill="#ff0600"/><rect x="487.0" y="334.52" width="22.5" height="8.42" fill="#ff2900"/><rect x="487.0" y="342.34" width="22.5" height="8.42" fill="#ff4000"/><rect x="487.0" y="350.17" width="22.5" height="8.42" fill="#ff5500"/><rect x="487.0" y="357.99" width="22.5" height="8.42" fill="#ff6900"/><rect x="487.0" y="365.81" width="22.5" height="8.42" fill="#ff7d00"/><rect x="487.0" y="373.63" width="22.5" height="8.42" fill="#ff9000"/><rect x="487.0" y="381.45" width="22.5" height="8.42" fill="#ffa300"/><rect x="487.0" y="389.27" width="22.5" height="8.42" fill="#ffb800"/><rect x="487.0" y="397.10" width="22.5" height="8.42" fill="#ffcc00"/><rect x="487.0" y="404.92" width="22.5" height="8.42" fill="#ffe000"/><rect x="487.0" y="412.74" width="22.5" height="8.42" fill="#fff300"/><rect x="487.0" y="420.56" width="22.5" height="8.42" fill="#faff00"/><rect x="487.0" y="428.38" width="22.5" height="8.42" fill="#ebff00"/><rect x="487.0" y="436.20" width="22.5" height="8.42" fill="#dcff00"/><rect x="487.0" y="444.02" width="22.5" height="8.42" fill="#c9ff00"/><rect x="487.0" y="451.85" width="22.5" height="8.42" fill="#b7ff00"/><rect x="487.0" y="459.67" width="22.5" height="8.42" fill="#a4ff00"/><rect x="487.0" y="467.49" width="22.5" height="8.42" fill="#91ff00"/><rect x="487.0" y="475.31" width="22.5" height="8.42" fill="#79ff00"/><rect x="487.0" y="483.13" width="22.5" height="8.42" fill="#61ff00"/><rect x="487.0" y="490.95" width="22.5" height="8.42" fill="#47ff00"/><rect x="487.0" y="498.78" width="22.5" height="8.42" fill="#2cff00"/><rect x="487.0" y="506.60" width="22.5" height="8.42" fill="#12fe01"/><rect x="487.0" y="514.42" width="22.5" height="8.42" fill="#08f90b"/><rect x="487.0" y="522.24" width="22.5" height="8.42" fill="#00f418"/><rect x="487.0" y="530.06" width="22.5" height="8.42" fill="#04f22f"/><rect x="487.0" y="537.88" width="22.5" height="8.42" fill="#08f046"/><rect x="487.0" y="545.70" width="22.5" height="8.42" fill="#0bef59"/><rect x="487.0" y="553.53" width="22.5" height="8.42" fill="#0fed69"/><rect x="487.0" y="561.35" width="22.5" height="8.42" fill="#12eb79"/><rect x="487.0" y="569.17" width="22.5" height="8.42" fill="#15eb8a"/><rect x="487.0" y="576.99" width="22.5" height="8.42" fill="#17ec9c"/><rect x="487.0" y="584.81" width="22.5" height="8.42" fill="#1aeead"/><rect x="487.0" y="592.63" width="22.5" height="8.42" fill="#1cefbf"/><rect x="487.0" y="600.46" width="22.5" height="8.42" fill="#20f1cf"/><rect x="487.0" y="608.28" width="22.5" height="8.42" fill="#24f3dd"/><rect x="487.0" y="616.10" width="22.5" height="8.42" fill="#28f5eb"/><rect x="487.0" y="623.92" width="22.5" height="8.42" fill="#30f5f1"/><rect x="487.0" y="631.74" width="22.5" height="8.42" fill="#37f5f6"/><rect x="487.0" y="639.56" width="22.5" height="8.42" fill="#44f6fb"/><rect x="487.0" y="647.38" width="22.5" height="8.42" fill="#53f8fd"/><rect x="487.0" y="655.21" width="22.5" height="8.42" fill="#64faff"/><rect x="487.0" y="663.03" width="22.5" height="8.42" fill="#78faff"/><rect x="487.0" y="670.85" width="22.5" height="8.42" fill="#8bfbff"/><rect x="487.0" y="678.67" width="22.5" height="8.42" fill="#9ffcff"/><rect x="487.0" y="686.49" width="22.5" height="8.42" fill="#b2fdff"/><rect x="487.0" y="694.31" width="22.5" height="8.42" fill="#c6feff"/><rect x="487.0" y="702.14" width="22.5" height="8.42" fill="#d6ffff"/><rect x="487.0" y="709.96" width="22.5" height="8.42" fill="#e6ffff"/><rect x="487.0" y="717.78" width="22.5" height="8.42" fill="#f6ffff"/></g><rect x="487.0" y="217.2" width="22.5" height="508.40000000000003" fill="none" stroke="#262626" stroke-width="1.1"/>
<line x1="92.2" y1="13.9" x2="92.2" y2="725.59" stroke="#858585" stroke-width="1.25"/>
<line x1="121.3" y1="13.9" x2="121.3" y2="725.59" stroke="#858585" stroke-width="1.25"/>
<line x1="150.4" y1="13.9" x2="150.4" y2="725.59" stroke="#858585" stroke-width="1.25"/>
<line x1="179.1" y1="13.9" x2="179.1" y2="725.59" stroke="#858585" stroke-width="1.25"/>
<line x1="207.8" y1="13.9" x2="207.8" y2="725.59" stroke="#858585" stroke-width="1.25"/>
<line x1="236.1" y1="13.9" x2="236.1" y2="725.59" stroke="#858585" stroke-width="1.25"/>
<line x1="261.2" y1="13.9" x2="261.2" y2="725.59" stroke="#858585" stroke-width="1.25"/>
<line x1="292.0" y1="13.9" x2="292.0" y2="725.59" stroke="#858585" stroke-width="1.25"/>
<line x1="323.3" y1="13.9" x2="323.3" y2="725.59" stroke="#858585" stroke-width="1.25"/>
<line x1="350.9" y1="13.9" x2="350.9" y2="725.59" stroke="#858585" stroke-width="1.25"/>
<line x1="64.4" y1="81.68" x2="476.1" y2="81.68" stroke="#000" stroke-width="1.3" stroke-dasharray="9.5 7.8" stroke-dashoffset="-0.6"/>
<line x1="64.4" y1="149.46" x2="476.1" y2="149.46" stroke="#000" stroke-width="1.3" stroke-dasharray="9.5 7.8" stroke-dashoffset="-0.6"/>
<line x1="64.4" y1="268.07" x2="476.1" y2="268.07" stroke="#000" stroke-width="1.5" stroke-dasharray="9.5 7.8" stroke-dashoffset="-0.6"/>
<line x1="64.4" y1="369.74" x2="476.1" y2="369.74" stroke="#000" stroke-width="1.5" stroke-dasharray="9.5 7.8" stroke-dashoffset="-0.6"/>
<line x1="64.4" y1="471.41" x2="476.1" y2="471.41" stroke="#000" stroke-width="1.5" stroke-dasharray="9.5 7.8" stroke-dashoffset="-0.6"/>
<line x1="64.4" y1="579.44" x2="476.1" y2="579.44" stroke="#000" stroke-width="1.5" stroke-dasharray="9.5 7.8" stroke-dashoffset="-0.6"/>
<line x1="64.4" y1="681.11" x2="476.1" y2="681.11" stroke="#000" stroke-width="1.5" stroke-dasharray="9.5 7.8" stroke-dashoffset="-0.6"/>
<clipPath id="ca"><rect x="64.4" y="13.9" width="411.70000000000005" height="101.67"/></clipPath>
<clipPath id="cb"><rect x="64.4" y="115.57000000000001" width="411.70000000000005" height="101.67"/></clipPath>
<g clip-path="url(#ca)" fill="none" stroke-width="1.4" stroke-linejoin="round">
<path d="M50.0 72.0C54.7 72.0 58.3 95.0 63.0 95.0C68.3 95.0 72.3 72.6 77.6 72.6C82.8 72.6 86.8 94.6 92.0 94.6C97.0 94.6 100.6 71.6 105.6 71.6C111.2 71.6 115.4 95.0 121.0 95.0C126.1 95.0 129.9 70.0 135.0 70.0C140.5 70.0 144.5 98.4 150.0 98.4C155.5 98.4 159.5 70.6 165.0 70.6C170.1 70.6 173.9 99.0 179.0 99.0C184.3 99.0 188.3 66.4 193.6 66.4C198.6 66.4 202.4 98.0 207.4 98.0C214.2 98.0 219.2 66.0 226.0 66.0C230.7 66.0 234.3 89.0 239.0 89.0C241.5 89.0 243.5 82.0 246.0 82.0C248.2 82.0 249.8 86.4 252.0 86.4C254.9 86.4 257.1 81.0 260.0 81.0C263.6 81.0 266.4 93.0 270.0 93.0C274.5 93.0 277.9 77.6 282.4 77.6C289.5 77.6 294.9 93.0 302.0 93.0C306.7 93.0 310.3 81.0 315.0 81.0C321.2 81.0 325.8 92.0 332.0 92.0C338.6 92.0 343.4 79.0 350.0 79.0C354.4 79.0 357.6 85.0 362.0 85.0C366.4 85.0 369.6 81.6 374.0 81.6C380.2 81.6 384.8 92.0 391.0 92.0C393.9 92.0 396.1 82.0 399.0 82.0C402.6 82.0 405.4 92.4 409.0 92.4C412.3 92.4 414.7 82.0 418.0 82.0C420.9 82.0 423.1 89.0 426.0 89.0C429.6 89.0 432.4 81.0 436.0 81.0C439.3 81.0 441.7 87.0 445.0 87.0C448.3 87.0 450.7 85.0 454.0 85.0C456.9 85.0 459.1 87.6 462.0 87.6C468.6 87.6 473.4 87.0 480.0 87.0" stroke="#000"/>
<path d="M48.0 45.0C53.5 45.0 57.5 28.8 63.0 28.8C68.1 28.8 71.9 45.6 77.0 45.6C82.5 45.6 86.5 28.4 92.0 28.4C97.0 28.4 100.6 44.0 105.6 44.0C111.2 44.0 115.4 28.0 121.0 28.0C126.1 28.0 129.9 50.4 135.0 50.4C140.8 50.4 145.2 27.6 151.0 27.6C155.7 27.6 159.3 50.4 164.0 50.4C169.1 50.4 172.9 28.0 178.0 28.0C184.2 28.0 188.8 61.6 195.0 61.6C199.5 61.6 202.9 26.4 207.4 26.4C212.0 26.4 215.4 63.6 220.0 63.6C225.7 63.6 229.9 27.0 235.6 27.0C240.1 27.0 243.5 57.0 248.0 57.0C252.4 57.0 255.6 29.6 260.0 29.6C266.7 29.6 271.7 62.4 278.4 62.4C283.0 62.4 286.4 36.0 291.0 36.0C295.7 36.0 299.3 68.0 304.0 68.0C310.9 68.0 316.1 44.0 323.0 44.0C327.6 44.0 331.0 75.0 335.6 75.0C341.2 75.0 345.4 55.0 351.0 55.0C357.2 55.0 361.8 68.0 368.0 68.0C372.4 68.0 375.6 59.0 380.0 59.0C383.6 59.0 386.4 71.0 390.0 71.0C392.8 71.0 394.8 67.0 397.6 67.0C401.4 67.0 404.2 79.0 408.0 79.0C411.8 79.0 414.6 66.4 418.4 66.4C421.5 66.4 423.9 73.0 427.0 73.0C430.3 73.0 432.7 68.0 436.0 68.0C439.6 68.0 442.4 75.6 446.0 75.6C450.2 75.6 453.4 61.4 457.6 61.4C461.4 61.4 464.2 72.6 468.0 72.6C472.4 72.6 475.6 72.6 480.0 72.6" stroke="#0000ff"/>
<path d="M55.0 93.0C58.6 93.0 61.4 91.0 65.0 91.0C70.5 91.0 74.5 88.0 80.0 88.0C83.3 88.0 85.7 79.6 89.0 79.6C91.2 79.6 92.8 87.0 95.0 87.0C99.0 87.0 102.0 83.0 106.0 83.0C108.5 83.0 110.5 84.4 113.0 84.4C115.9 84.4 118.1 78.0 121.0 78.0C124.6 78.0 127.4 90.0 131.0 90.0C134.3 90.0 136.7 82.0 140.0 82.0C142.5 82.0 144.5 86.0 147.0 86.0C149.9 86.0 152.1 79.0 155.0 79.0C159.0 79.0 162.0 89.0 166.0 89.0C170.7 89.0 174.3 85.0 179.0 85.0C183.0 85.0 186.0 74.0 190.0 74.0C195.1 74.0 198.9 87.0 204.0 87.0C208.0 87.0 211.0 77.6 215.0 77.6C219.0 77.6 222.0 84.0 226.0 84.0C229.6 84.0 232.4 82.0 236.0 82.0C241.5 82.0 245.5 74.4 251.0 74.4C255.7 74.4 259.3 86.4 264.0 86.4C268.7 86.4 272.3 75.0 277.0 75.0C280.6 75.0 283.4 81.0 287.0 81.0C292.5 81.0 296.5 69.0 302.0 69.0C306.4 69.0 309.6 81.0 314.0 81.0C318.0 81.0 321.0 73.0 325.0 73.0C328.6 73.0 331.4 84.0 335.0 84.0C339.0 84.0 342.0 76.0 346.0 76.0C352.6 76.0 357.4 87.0 364.0 87.0C368.4 87.0 371.6 69.6 376.0 69.6C379.3 69.6 381.7 84.0 385.0 84.0C388.3 84.0 390.7 77.6 394.0 77.6C396.9 77.6 399.1 85.0 402.0 85.0C405.5 85.0 408.1 73.0 411.6 73.0C416.1 73.0 419.5 89.0 424.0 89.0C427.3 89.0 429.7 79.0 433.0 79.0C435.5 79.0 437.5 86.0 440.0 86.0C442.9 86.0 445.1 79.0 448.0 79.0C452.0 79.0 455.0 89.0 459.0 89.0C463.0 89.0 466.0 77.0 470.0 77.0C473.6 77.0 476.4 83.0 480.0 83.0" stroke="#ff0000"/>
</g>
<g clip-path="url(#cb)" fill="none" stroke-width="1.4" stroke-linejoin="round">
<path d="M50.0 172.0C54.4 172.0 57.6 169.0 62.0 169.0C67.5 169.0 71.5 141.0 77.0 141.0C84.8 141.0 90.6 190.6 98.4 190.6C103.5 190.6 107.3 145.4 112.4 145.4C118.4 145.4 123.0 186.0 129.0 186.0C134.3 186.0 138.3 138.0 143.6 138.0C148.1 138.0 151.5 196.6 156.0 196.6C161.1 196.6 164.9 134.0 170.0 134.0C175.7 134.0 179.9 186.0 185.6 186.0C190.3 186.0 193.7 121.0 198.4 121.0C203.2 121.0 206.8 200.0 211.6 200.0C216.5 200.0 220.1 142.0 225.0 142.0C231.0 142.0 235.6 192.6 241.6 192.6C245.5 192.6 248.5 154.0 252.4 154.0C257.0 154.0 260.4 191.0 265.0 191.0C271.2 191.0 275.8 136.6 282.0 136.6C286.0 136.6 289.0 197.0 293.0 197.0C297.6 197.0 301.0 146.0 305.6 146.0C312.2 146.0 317.0 181.0 323.6 181.0C328.0 181.0 331.2 147.0 335.6 147.0C339.8 147.0 342.8 163.0 347.0 163.0C348.8 163.0 350.2 159.4 352.0 159.4C354.5 159.4 356.5 162.0 359.0 162.0C362.6 162.0 365.4 148.6 369.0 148.6C373.4 148.6 376.6 170.6 381.0 170.6C384.9 170.6 387.7 149.4 391.6 149.4C393.6 149.4 395.0 152.6 397.0 152.6C400.3 152.6 402.7 137.4 406.0 137.4C410.0 137.4 413.0 158.6 417.0 158.6C421.0 158.6 424.0 147.0 428.0 147.0C431.6 147.0 434.4 153.0 438.0 153.0C440.9 153.0 443.1 149.4 446.0 149.4C450.2 149.4 453.4 173.0 457.6 173.0C462.1 173.0 465.5 146.6 470.0 146.6C473.6 146.6 476.4 152.0 480.0 152.0" stroke="#000"/>
<path d="M55.0 165.0C58.4 165.0 61.0 160.0 64.4 160.0C67.9 160.0 70.5 146.0 74.0 146.0C76.2 146.0 77.8 148.0 80.0 148.0C82.2 148.0 83.8 140.0 86.0 140.0C89.6 140.0 92.4 162.0 96.0 162.0C100.0 162.0 103.0 123.4 107.0 123.4C110.6 123.4 113.4 151.0 117.0 151.0C118.8 151.0 120.2 146.6 122.0 146.6C124.9 146.6 127.1 153.0 130.0 153.0C133.5 153.0 136.1 134.0 139.6 134.0C143.8 134.0 146.8 158.0 151.0 158.0C157.2 158.0 161.8 135.0 168.0 135.0C172.2 135.0 175.2 162.0 179.4 162.0C187.6 162.0 193.8 144.0 202.0 144.0C204.2 144.0 205.8 147.4 208.0 147.4C213.5 147.4 217.5 141.4 223.0 141.4C227.7 141.4 231.3 149.0 236.0 149.0C239.6 149.0 242.4 139.4 246.0 139.4C251.1 139.4 254.9 162.0 260.0 162.0C269.8 162.0 277.2 134.6 287.0 134.6C293.3 134.6 298.1 160.0 304.4 160.0C308.6 160.0 311.8 133.4 316.0 133.4C320.2 133.4 323.4 166.6 327.6 166.6C332.1 166.6 335.5 145.0 340.0 145.0C341.5 145.0 342.5 147.0 344.0 147.0C346.5 147.0 348.5 142.4 351.0 142.4C354.3 142.4 356.7 150.6 360.0 150.6C362.2 150.6 363.8 145.4 366.0 145.4C370.4 145.4 373.6 158.0 378.0 158.0C384.6 158.0 389.4 144.6 396.0 144.6C400.4 144.6 403.6 162.0 408.0 162.0C412.4 162.0 415.6 148.0 420.0 148.0C422.9 148.0 425.1 150.0 428.0 150.0C431.6 150.0 434.4 144.0 438.0 144.0C441.6 144.0 444.4 151.0 448.0 151.0C451.6 151.0 454.4 147.0 458.0 147.0C462.0 147.0 465.0 154.0 469.0 154.0C473.0 154.0 476.0 150.0 480.0 150.0" stroke="#0000ff"/>
<path d="M58.0 140.0C60.3 140.0 62.1 144.6 64.4 144.6C66.8 144.6 68.6 157.0 71.0 157.0C74.3 157.0 76.7 144.0 80.0 144.0C83.3 144.0 85.7 153.0 89.0 153.0C92.6 153.0 95.4 137.4 99.0 137.4C101.2 137.4 102.8 141.0 105.0 141.0C107.4 141.0 109.2 138.6 111.6 138.6C114.7 138.6 116.9 151.0 120.0 151.0C123.8 151.0 126.6 133.4 130.4 133.4C133.9 133.4 136.5 151.0 140.0 151.0C146.6 151.0 151.4 141.4 158.0 141.4C162.0 141.4 165.0 161.4 169.0 161.4C173.7 161.4 177.3 139.0 182.0 139.0C189.3 139.0 194.7 154.6 202.0 154.6C205.8 154.6 208.6 139.4 212.4 139.4C215.2 139.4 217.2 148.0 220.0 148.0C222.5 148.0 224.5 147.0 227.0 147.0C229.5 147.0 231.5 149.0 234.0 149.0C236.9 149.0 239.1 140.6 242.0 140.6C245.8 140.6 248.6 153.0 252.4 153.0C256.5 153.0 259.5 126.0 263.6 126.0C268.1 126.0 271.5 159.4 276.0 159.4C283.3 159.4 288.7 149.0 296.0 149.0C297.8 149.0 299.2 147.6 301.0 147.6C304.3 147.6 306.7 151.0 310.0 151.0C315.1 151.0 318.9 137.4 324.0 137.4C328.2 137.4 331.4 146.0 335.6 146.0C338.7 146.0 340.9 141.0 344.0 141.0C346.9 141.0 349.1 147.0 352.0 147.0C354.9 147.0 357.1 146.0 360.0 146.0C363.3 146.0 365.7 154.0 369.0 154.0C373.0 154.0 376.0 147.4 380.0 147.4C382.9 147.4 385.1 151.0 388.0 151.0C390.9 151.0 393.1 146.6 396.0 146.6C398.9 146.6 401.1 150.0 404.0 150.0C407.3 150.0 409.7 147.0 413.0 147.0C415.5 147.0 417.5 151.0 420.0 151.0C422.2 151.0 423.8 149.0 426.0 149.0C428.9 149.0 431.1 155.0 434.0 155.0C437.8 155.0 440.6 136.6 444.4 136.6C448.4 136.6 451.4 162.0 455.4 162.0C460.0 162.0 463.4 148.0 468.0 148.0C472.4 148.0 475.6 152.0 480.0 152.0" stroke="#ff0000"/>
</g>
<g fill="none" stroke="#262626" stroke-width="1.1"><rect x="64.4" y="13.90" width="411.70" height="101.67" fill="none"/><path d="M76.9 13.90v4.5M76.9 115.57v-4.5"/><path d="M141.3 13.90v4.5M141.3 115.57v-4.5"/><path d="M205.70000000000002 13.90v4.5M205.70000000000002 115.57v-4.5"/><path d="M270.1 13.90v4.5M270.1 115.57v-4.5"/><path d="M334.5 13.90v4.5M334.5 115.57v-4.5"/><path d="M398.9 13.90v4.5M398.9 115.57v-4.5"/><path d="M463.30000000000007 13.90v4.5M463.30000000000007 115.57v-4.5"/><rect x="64.4" y="115.57" width="411.70" height="101.67" fill="none"/><path d="M76.9 115.57v4.5M76.9 217.24v-4.5"/><path d="M141.3 115.57v4.5M141.3 217.24v-4.5"/><path d="M205.70000000000002 115.57v4.5M205.70000000000002 217.24v-4.5"/><path d="M270.1 115.57v4.5M270.1 217.24v-4.5"/><path d="M334.5 115.57v4.5M334.5 217.24v-4.5"/><path d="M398.9 115.57v4.5M398.9 217.24v-4.5"/><path d="M463.30000000000007 115.57v4.5M463.30000000000007 217.24v-4.5"/><rect x="64.4" y="217.24" width="411.70" height="101.67" fill="none"/><path d="M76.9 217.24v-4.5M76.9 318.91v4.5"/><path d="M141.3 217.24v-4.5M141.3 318.91v4.5"/><path d="M205.70000000000002 217.24v-4.5M205.70000000000002 318.91v4.5"/><path d="M270.1 217.24v-4.5M270.1 318.91v4.5"/><path d="M334.5 217.24v-4.5M334.5 318.91v4.5"/><path d="M398.9 217.24v-4.5M398.9 318.91v4.5"/><path d="M463.30000000000007 217.24v-4.5M463.30000000000007 318.91v4.5"/><rect x="64.4" y="318.91" width="411.70" height="101.67" fill="none"/><path d="M76.9 318.91v-4.5M76.9 420.58v4.5"/><path d="M141.3 318.91v-4.5M141.3 420.58v4.5"/><path d="M205.70000000000002 318.91v-4.5M205.70000000000002 420.58v4.5"/><path d="M270.1 318.91v-4.5M270.1 420.58v4.5"/><path d="M334.5 318.91v-4.5M334.5 420.58v4.5"/><path d="M398.9 318.91v-4.5M398.9 420.58v4.5"/><path d="M463.30000000000007 318.91v-4.5M463.30000000000007 420.58v4.5"/><rect x="64.4" y="420.58" width="411.70" height="101.67" fill="none"/><path d="M76.9 420.58v-4.5M76.9 522.25v4.5"/><path d="M141.3 420.58v-4.5M141.3 522.25v4.5"/><path d="M205.70000000000002 420.58v-4.5M205.70000000000002 522.25v4.5"/><path d="M270.1 420.58v-4.5M270.1 522.25v4.5"/><path d="M334.5 420.58v-4.5M334.5 522.25v4.5"/><path d="M398.9 420.58v-4.5M398.9 522.25v4.5"/><path d="M463.30000000000007 420.58v-4.5M463.30000000000007 522.25v4.5"/><rect x="64.4" y="522.25" width="411.70" height="101.67" fill="none"/><path d="M76.9 522.25v-4.5M76.9 623.92v4.5"/><path d="M141.3 522.25v-4.5M141.3 623.92v4.5"/><path d="M205.70000000000002 522.25v-4.5M205.70000000000002 623.92v4.5"/><path d="M270.1 522.25v-4.5M270.1 623.92v4.5"/><path d="M334.5 522.25v-4.5M334.5 623.92v4.5"/><path d="M398.9 522.25v-4.5M398.9 623.92v4.5"/><path d="M463.30000000000007 522.25v-4.5M463.30000000000007 623.92v4.5"/><rect x="64.4" y="623.92" width="411.70" height="101.67" fill="none"/><path d="M76.9 623.92v-4.5M76.9 725.59v4.5"/><path d="M141.3 623.92v-4.5M141.3 725.59v4.5"/><path d="M205.70000000000002 623.92v-4.5M205.70000000000002 725.59v4.5"/><path d="M270.1 623.92v-4.5M270.1 725.59v4.5"/><path d="M334.5 623.92v-4.5M334.5 725.59v4.5"/><path d="M398.9 623.92v-4.5M398.9 725.59v4.5"/><path d="M463.30000000000007 623.92v-4.5M463.30000000000007 725.59v4.5"/></g>
<path fill="none" stroke="#262626" stroke-width="1.1" d="M64.4 30.84h4.5M476.1 30.84h-4.5M64.4 47.79h4.5M476.1 47.79h-4.5M64.4 64.73h4.5M476.1 64.73h-4.5M64.4 81.68h4.5M476.1 81.68h-4.5M64.4 98.62h4.5M476.1 98.62h-4.5M64.4 121.22h4.5M476.1 121.22h-4.5M64.4 149.46h4.5M476.1 149.46h-4.5M64.4 177.70h4.5M476.1 177.70h-4.5M64.4 205.94h4.5M476.1 205.94h-4.5M64.4 236.30h-4.6M476.1 236.30h4.6M64.4 268.07h-4.6M476.1 268.07h4.6M64.4 299.85h-4.6M476.1 299.85h4.6M64.4 337.97h-4.6M476.1 337.97h4.6M64.4 369.74h-4.6M476.1 369.74h4.6M64.4 401.52h-4.6M476.1 401.52h4.6M64.4 439.64h-4.6M476.1 439.64h4.6M64.4 471.41h-4.6M476.1 471.41h4.6M64.4 503.19h-4.6M476.1 503.19h4.6M64.4 541.31h-4.6M476.1 541.31h4.6M64.4 573.09h-4.6M476.1 573.09h4.6M64.4 604.86h-4.6M476.1 604.86h4.6M64.4 642.98h-4.6M476.1 642.98h4.6M64.4 674.75h-4.6M476.1 674.75h4.6M64.4 706.53h-4.6M476.1 706.53h4.6"/>
<g font-family='"Liberation Sans", sans-serif' font-size="15" fill="#262626"><text transform="translate(57.6,36.84) scale(1,1.13)" text-anchor="end">60</text><text transform="translate(57.6,53.79) scale(1,1.13)" text-anchor="end">40</text><text transform="translate(57.6,70.73) scale(1,1.13)" text-anchor="end">20</text><text transform="translate(57.6,87.68) scale(1,1.13)" text-anchor="end">0</text><text transform="translate(57.6,104.62) scale(1,1.13)" text-anchor="end">-20</text><text transform="translate(57.6,127.22) scale(1,1.13)" text-anchor="end">0.5</text><text transform="translate(57.6,155.46) scale(1,1.13)" text-anchor="end">0</text><text transform="translate(57.6,183.70) scale(1,1.13)" text-anchor="end">-0.5</text><text transform="translate(57.6,211.94) scale(1,1.13)" text-anchor="end">-1</text><text transform="translate(53.6,242.30) scale(1,1.13)" text-anchor="end">500</text><text transform="translate(53.6,274.07) scale(1,1.13)" text-anchor="end">0</text><text transform="translate(53.6,305.85) scale(1,1.13)" text-anchor="end">-500</text><text transform="translate(53.6,343.97) scale(1,1.13)" text-anchor="end">500</text><text transform="translate(53.6,375.74) scale(1,1.13)" text-anchor="end">0</text><text transform="translate(53.6,407.52) scale(1,1.13)" text-anchor="end">-500</text><text transform="translate(53.6,445.64) scale(1,1.13)" text-anchor="end">500</text><text transform="translate(53.6,477.41) scale(1,1.13)" text-anchor="end">0</text><text transform="translate(53.6,509.19) scale(1,1.13)" text-anchor="end">-500</text><text transform="translate(53.6,547.31) scale(1,1.13)" text-anchor="end">500</text><text transform="translate(53.6,579.09) scale(1,1.13)" text-anchor="end">0</text><text transform="translate(53.6,610.86) scale(1,1.13)" text-anchor="end">-500</text><text transform="translate(53.6,648.98) scale(1,1.13)" text-anchor="end">500</text><text transform="translate(53.6,680.75) scale(1,1.13)" text-anchor="end">0</text><text transform="translate(53.6,712.53) scale(1,1.13)" text-anchor="end">-500</text></g>
<path fill="none" stroke="#262626" stroke-width="1.1" d="M509.5 725.60h-4.5M509.5 647.38h-4.5M509.5 569.17h-4.5M509.5 490.95h-4.5M509.5 412.74h-4.5M509.5 334.52h-4.5M509.5 256.31h-4.5"/>
<g font-family='"Liberation Sans", sans-serif' font-size="13.6" fill="#262626"><text transform="translate(514.6,730.60) scale(1,1.08)">-4</text><text transform="translate(514.6,652.38) scale(1,1.08)">-3</text><text transform="translate(514.6,574.17) scale(1,1.08)">-2</text><text transform="translate(514.6,495.95) scale(1,1.08)">-1</text><text transform="translate(514.6,417.74) scale(1,1.08)">0</text><text transform="translate(514.6,339.52) scale(1,1.08)">1</text><text transform="translate(514.6,261.31) scale(1,1.08)">2</text></g>
<text transform="translate(176.25,751.9) scale(1,1.13)" font-family='"Liberation Sans", sans-serif' font-size="15.5" fill="#262626" textLength="58.9" lengthAdjust="spacingAndGlyphs">00:33:00</text>
<text transform="translate(369.45,751.9) scale(1,1.13)" font-family='"Liberation Sans", sans-serif' font-size="15.5" fill="#262626" textLength="58.9" lengthAdjust="spacingAndGlyphs">00:33:15</text>
<text transform="translate(71.7,29.10) scale(1,1.16)" font-family='"Liberation Serif", serif' font-size="15.5" fill="#000">(a)</text>
<text transform="translate(71.7,130.77) scale(1,1.16)" font-family='"Liberation Serif", serif' font-size="15.5" fill="#000">(b)</text>
<text transform="translate(71.7,232.44) scale(1,1.16)" font-family='"Liberation Serif", serif' font-size="15.5" fill="#000">(c)</text>
<text transform="translate(71.7,334.11) scale(1,1.16)" font-family='"Liberation Serif", serif' font-size="15.5" fill="#000">(d)</text>
<text transform="translate(71.7,435.78) scale(1,1.16)" font-family='"Liberation Serif", serif' font-size="15.5" fill="#000">(e)</text>
<text transform="translate(71.7,537.45) scale(1,1.16)" font-family='"Liberation Serif", serif' font-size="15.5" fill="#000">(f)</text>
<text transform="translate(71.7,639.12) scale(1,1.16)" font-family='"Liberation Serif", serif' font-size="15.5" fill="#000">(g)</text>
<text x="72.7" y="11.8" font-family='"Liberation Serif", serif' font-size="14.5" fill="#262626" textLength="46.3" lengthAdjust="spacingAndGlyphs">MMS1</text>
<g font-family='"Liberation Serif", serif' font-size="16.5" fill="#000"><text x="385.2" y="34" font-style="italic">f</text><path d="M409 25.6L398.2 30.2L409 34.8" fill="none" stroke="#000" stroke-width="1.1"/><text x="416" y="34" textLength="28" lengthAdjust="spacingAndGlyphs">0.79</text><text x="447.6" y="34" textLength="20.6" lengthAdjust="spacingAndGlyphs">Hz</text></g>
<g fill="#000" font-family='"Liberation Serif", serif'><text x="481" y="37.5" font-size="16.5" font-style="italic" textLength="12" lengthAdjust="spacingAndGlyphs">B</text><text x="493.3" y="40.5" font-size="12"><tspan font-style="italic">n</tspan></text></g>
<g fill="#0000ff" font-family='"Liberation Serif", serif'><text x="481" y="59.3" font-size="16.5" font-style="italic" textLength="12" lengthAdjust="spacingAndGlyphs">B</text><text x="493.3" y="62.3" font-size="12"><tspan font-style="italic">t</tspan>1</text></g>
<g fill="#ff0000" font-family='"Liberation Serif", serif'><text x="481" y="80.6" font-size="16.5" font-style="italic" textLength="12" lengthAdjust="spacingAndGlyphs">B</text><text x="493.3" y="83.6" font-size="12"><tspan font-style="italic">t</tspan>2</text></g>
<g fill="#000" font-family='"Liberation Serif", serif' font-size="16.5"><text x="481.0" y="140.2">(</text><path d="M488.30 129.60H498.80L493.55 139.80Z" fill="none" stroke="#000" stroke-width="1.0" stroke-linejoin="miter"/><path d="M488.90 129.60L493.55 139.80" stroke="#000" stroke-width="1.70"/><text x="499.6" y="140.2" font-style="italic" textLength="13.4" lengthAdjust="spacingAndGlyphs">B</text><text x="513.6" y="140.2">)</text><text x="520.2" y="143.2" font-size="12"><tspan font-style="italic">n</tspan></text></g>
<g fill="#0000ff" font-family='"Liberation Serif", serif' font-size="16.5"><text x="481.0" y="161.0">(</text><path d="M488.30 150.40H498.80L493.55 160.60Z" fill="none" stroke="#0000ff" stroke-width="1.0" stroke-linejoin="miter"/><path d="M488.90 150.40L493.55 160.60" stroke="#0000ff" stroke-width="1.70"/><text x="499.6" y="161.0" font-style="italic" textLength="13.4" lengthAdjust="spacingAndGlyphs">B</text><text x="513.6" y="161.0">)</text><text x="520.2" y="164.0" font-size="12"><tspan font-style="italic">t</tspan>1</text></g>
<g fill="#ff0000" font-family='"Liberation Serif", serif' font-size="16.5"><text x="481.0" y="182.6">(</text><path d="M488.30 172.00H498.80L493.55 182.20Z" fill="none" stroke="#ff0000" stroke-width="1.0" stroke-linejoin="miter"/><path d="M488.90 172.00L493.55 182.20" stroke="#ff0000" stroke-width="1.70"/><text x="499.6" y="182.6" font-style="italic" textLength="13.4" lengthAdjust="spacingAndGlyphs">B</text><text x="513.6" y="182.6">)</text><text x="520.2" y="185.6" font-size="12"><tspan font-style="italic">t</tspan>2</text></g>
<text x="391" y="233" font-family='"Liberation Serif", serif' font-weight="bold" font-size="16.5" fill="#000" textLength="76" lengthAdjust="spacingAndGlyphs">Reflected</text>
<text x="401" y="314" font-family='"Liberation Serif", serif' font-weight="bold" font-size="16.5" fill="#000" textLength="65" lengthAdjust="spacingAndGlyphs">Incident</text>
<text x="401" y="334.40999999999997" font-family='"Liberation Serif", serif' font-weight="bold" font-size="16.5" fill="#000" textLength="65" lengthAdjust="spacingAndGlyphs">Incident</text>
<text x="391" y="436.08" font-family='"Liberation Serif", serif' font-weight="bold" font-size="16.5" fill="#000" textLength="76" lengthAdjust="spacingAndGlyphs">Reflected</text>
<text x="401" y="537.75" font-family='"Liberation Serif", serif' font-weight="bold" font-size="16.5" fill="#000" textLength="65" lengthAdjust="spacingAndGlyphs">Incident</text>
<text x="391" y="639.42" font-family='"Liberation Serif", serif' font-weight="bold" font-size="16.5" fill="#000" textLength="76" lengthAdjust="spacingAndGlyphs">Reflected</text>
<text transform="translate(12.3,65) rotate(-90)" text-anchor="middle" font-family='"Liberation Serif", serif' font-size="17.5" fill="#000"><tspan font-weight="bold">B</tspan> [nT]</text>
<g transform="translate(13.4,166.75) rotate(-90)" fill="#000" font-family='"Liberation Serif", serif' font-size="17.5"><path d="M-45.60 -11.40H-34.20L-39.90 -0.30Z" fill="none" stroke="#000" stroke-width="1.05" stroke-linejoin="miter"/><path d="M-45.00 -11.40L-39.90 -0.30" stroke="#000" stroke-width="1.78"/><text x="-31.6" y="0" font-style="italic" font-size="18">B</text><text x="-13.2" y="0" textLength="58.8" lengthAdjust="spacing">[nT/km]</text></g>
<text transform="translate(12.3,268.075) rotate(-90)" text-anchor="middle" font-family='"Liberation Serif", serif' font-size="17.5" fill="#000"><tspan font-style="italic">V</tspan><tspan font-size="12" dy="3"><tspan font-style="italic">n</tspan></tspan><tspan dy="-3"> [km/s]</tspan></text>
<text transform="translate(12.3,369.745) rotate(-90)" text-anchor="middle" font-family='"Liberation Serif", serif' font-size="17.5" fill="#000"><tspan font-style="italic">V</tspan><tspan font-size="12" dy="3"><tspan font-style="italic">t</tspan>1</tspan><tspan dy="-3"> [km/s]</tspan></text>
<text transform="translate(12.3,471.41499999999996) rotate(-90)" text-anchor="middle" font-family='"Liberation Serif", serif' font-size="17.5" fill="#000"><tspan font-style="italic">V</tspan><tspan font-size="12" dy="3"><tspan font-style="italic">t</tspan>1</tspan><tspan dy="-3"> [km/s]</tspan></text>
<text transform="translate(12.3,573.085) rotate(-90)" text-anchor="middle" font-family='"Liberation Serif", serif' font-size="17.5" fill="#000"><tspan font-style="italic">V</tspan><tspan font-size="12" dy="3"><tspan font-style="italic">t</tspan>2</tspan><tspan dy="-3"> [km/s]</tspan></text>
<text transform="translate(12.3,674.755) rotate(-90)" text-anchor="middle" font-family='"Liberation Serif", serif' font-size="17.5" fill="#000"><tspan font-style="italic">V</tspan><tspan font-size="12" dy="3"><tspan font-style="italic">t</tspan>2</tspan><tspan dy="-3"> [km/s]</tspan></text>
<text transform="translate(544.3,521.5) rotate(-90)" font-family='"Liberation Serif", serif' font-size="17" fill="#000" textLength="98" lengthAdjust="spacing">log <tspan font-style="italic">F</tspan><tspan font-size="11.5" dy="3"><tspan font-style="italic">i</tspan></tspan><tspan dy="-3"> [s m</tspan><tspan font-size="11.5" dy="-6">−4</tspan><tspan dy="6">]</tspan></text>
</svg>
</body></html>
